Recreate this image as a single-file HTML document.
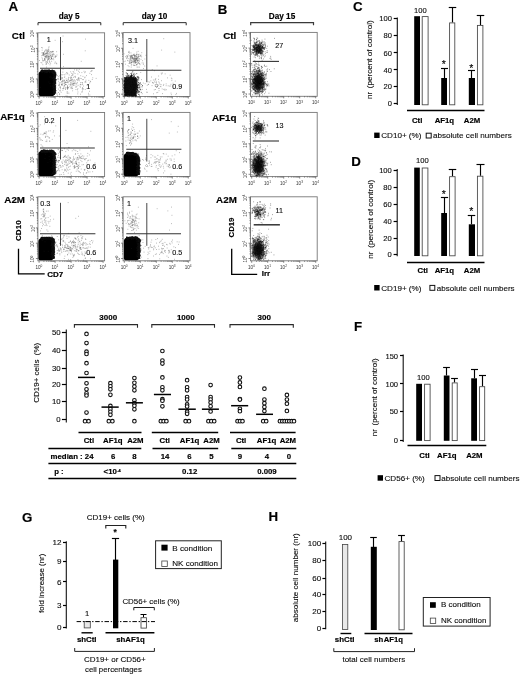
<!DOCTYPE html>
<html lang="en"><head><meta charset="utf-8"><title>Figure</title>
<style>
html,body{margin:0;padding:0;background:#fff}
svg{display:block;font-family:"Liberation Sans",Arial,Helvetica,sans-serif}
.r{stroke:#000;stroke-width:.12px}
.b{stroke:#000;stroke-width:.16px}
</style></head><body>
<svg width="520" height="674" viewBox="0 0 520 674">
<rect width="520" height="674" fill="#fff"/>
<text x="8.5" y="11" font-size="13.3" font-weight="bold" class="b">A</text>
<text x="69.2" y="18.9" font-size="8.2" text-anchor="middle" font-weight="bold" class="b">day 5</text>
<text x="154.5" y="18.9" font-size="8.2" text-anchor="middle" font-weight="bold" class="b">day 10</text>
<path d="M38 25.25L38 22.65L100.8 22.65L100.8 25.25" stroke="#2a2a2a" stroke-width="1" fill="none"/>
<path d="M123.2 25.25L123.2 22.65L186.2 22.65L186.2 25.25" stroke="#2a2a2a" stroke-width="1" fill="none"/>
<text x="24.9" y="38.6" font-size="9.8" text-anchor="end" font-weight="bold" class="b">Ctl</text>
<text x="24.7" y="120.4" font-size="9.8" text-anchor="end" font-weight="bold" class="b">AF1q</text>
<text x="25" y="203.3" font-size="9.8" text-anchor="end" font-weight="bold" class="b">A2M</text>
<rect x="37.9" y="32.8" width="66.7" height="63.8" fill="none" stroke="#777" stroke-width="0.9"/>
<path d="M39.1 96.6v2M37.9 94.3h-2M43.92 96.6v1M37.9 89.69h-1M46.73 96.6v1M37.9 87h-1M48.73 96.6v1M37.9 85.09h-1M50.28 96.6v1M37.9 83.61h-1M51.55 96.6v1M37.9 82.39h-1M52.62 96.6v1M37.9 81.37h-1M53.55 96.6v1M37.9 80.48h-1M54.37 96.6v1M37.9 79.7h-1M55.1 96.6v2M37.9 79h-2M59.92 96.6v1M37.9 74.39h-1M62.73 96.6v1M37.9 71.7h-1M64.73 96.6v1M37.9 69.79h-1M66.28 96.6v1M37.9 68.31h-1M67.55 96.6v1M37.9 67.09h-1M68.62 96.6v1M37.9 66.07h-1M69.55 96.6v1M37.9 65.18h-1M70.37 96.6v1M37.9 64.4h-1M71.1 96.6v2M37.9 63.7h-2M75.92 96.6v1M37.9 59.09h-1M78.73 96.6v1M37.9 56.4h-1M80.73 96.6v1M37.9 54.49h-1M82.28 96.6v1M37.9 53.01h-1M83.55 96.6v1M37.9 51.79h-1M84.62 96.6v1M37.9 50.77h-1M85.55 96.6v1M37.9 49.88h-1M86.37 96.6v1M37.9 49.1h-1M87.1 96.6v2M37.9 48.4h-2M91.92 96.6v1M37.9 43.79h-1M94.73 96.6v1M37.9 41.1h-1M96.73 96.6v1M37.9 39.19h-1M98.28 96.6v1M37.9 37.71h-1M99.55 96.6v1M37.9 36.49h-1M100.62 96.6v1M37.9 35.47h-1M101.55 96.6v1M37.9 34.58h-1M102.37 96.6v1M37.9 33.8h-1M103.1 96.6v2M37.9 33.1h-2" stroke="#555" stroke-width="0.7" fill="none"/>
<text x="38.9" y="104.6" font-size="4.6" fill="#333" text-anchor="middle">10<tspan dy="-1.8" font-size="3.2">0</tspan></text>
<text x="34.5" y="94.9" font-size="4.6" fill="#333" text-anchor="middle" transform="rotate(-90 34.5 94.9)">10<tspan dy="-1.8" font-size="3.2">0</tspan></text>
<text x="54.9" y="104.6" font-size="4.6" fill="#333" text-anchor="middle">10<tspan dy="-1.8" font-size="3.2">1</tspan></text>
<text x="34.5" y="79.6" font-size="4.6" fill="#333" text-anchor="middle" transform="rotate(-90 34.5 79.6)">10<tspan dy="-1.8" font-size="3.2">1</tspan></text>
<text x="70.9" y="104.6" font-size="4.6" fill="#333" text-anchor="middle">10<tspan dy="-1.8" font-size="3.2">2</tspan></text>
<text x="34.5" y="64.3" font-size="4.6" fill="#333" text-anchor="middle" transform="rotate(-90 34.5 64.3)">10<tspan dy="-1.8" font-size="3.2">2</tspan></text>
<text x="86.9" y="104.6" font-size="4.6" fill="#333" text-anchor="middle">10<tspan dy="-1.8" font-size="3.2">3</tspan></text>
<text x="34.5" y="49" font-size="4.6" fill="#333" text-anchor="middle" transform="rotate(-90 34.5 49)">10<tspan dy="-1.8" font-size="3.2">3</tspan></text>
<text x="102.9" y="104.6" font-size="4.6" fill="#333" text-anchor="middle">10<tspan dy="-1.8" font-size="3.2">4</tspan></text>
<text x="34.5" y="33.7" font-size="4.6" fill="#333" text-anchor="middle" transform="rotate(-90 34.5 33.7)">10<tspan dy="-1.8" font-size="3.2">4</tspan></text>
<path d="M38.6 74.15L38.77 73.1L39.25 72.15L40 71.4L40.95 70.92L42 70.75L51 70.75L52.3 70.96L53.47 71.55L54.4 72.48L54.99 73.65L55.2 74.95L55.2 92.7L55.03 93.75L54.55 94.7L53.8 95.45L52.85 95.93L51.8 96.1L40.6 96.1L39.98 96L39.42 95.72L38.98 95.28L38.7 94.72L38.6 94.1Z" fill="#000"/>
<path d="M54.4 82.6h.1M54.6 88.7h.1M54.2 84.9h.1M53.8 88.9h.1M54.1 76.3h.1M53.7 85.6h.1M54.4 85.5h.1M55.3 92.9h.1M54.1 75.4h.1M54.0 83.5h.1M54.7 87.0h.1M54.6 85.4h.1M54.5 76.1h.1M53.7 86.2h.1M54.4 79.0h.1M54.9 78.4h.1M53.5 91.8h.1M54.1 78.5h.1M53.1 83.5h.1M53.5 89.3h.1M53.1 88.5h.1M54.2 85.4h.1M53.5 90.4h.1M54.6 83.7h.1M54.5 86.8h.1M54.3 90.7h.1M52.6 87.9h.1M54.0 87.2h.1M54.4 82.6h.1M54.5 85.5h.1M53.3 82.4h.1M54.1 89.2h.1M53.7 82.1h.1M53.8 83.7h.1M55.1 89.4h.1M53.8 84.5h.1M54.4 81.2h.1M55.0 90.8h.1M54.0 82.1h.1M54.3 91.2h.1M54.5 90.0h.1M54.4 83.4h.1M53.5 88.6h.1M54.5 75.3h.1M55.4 82.2h.1M53.3 91.5h.1M55.0 86.0h.1M54.5 85.5h.1M54.0 87.6h.1M55.8 87.9h.1M54.9 86.0h.1M53.6 82.8h.1M54.5 78.2h.1M54.8 80.3h.1M54.3 80.3h.1M54.9 83.0h.1M54.4 94.2h.1M54.9 81.5h.1M55.4 83.4h.1M53.9 81.9h.1M54.5 86.0h.1M54.1 93.2h.1M54.5 92.0h.1M53.6 82.0h.1M54.0 79.8h.1M54.3 91.9h.1M55.0 84.3h.1M55.2 88.0h.1M53.5 76.0h.1M53.8 91.6h.1M54.9 80.7h.1M53.0 84.3h.1M54.1 78.5h.1M54.3 82.8h.1M55.3 90.8h.1M54.9 90.8h.1M54.2 83.9h.1M54.1 89.7h.1M54.2 83.6h.1M55.5 81.9h.1M54.1 85.3h.1M54.2 78.5h.1M54.6 80.8h.1M54.3 88.4h.1M54.3 89.7h.1M53.6 75.7h.1M54.4 89.0h.1M54.1 90.6h.1M55.2 83.3h.1M54.9 75.8h.1M54.4 88.0h.1M54.9 79.4h.1M54.2 87.2h.1M55.1 82.0h.1M54.4 87.1h.1M54.8 79.7h.1M53.5 83.9h.1M54.6 84.9h.1M53.2 87.0h.1M53.0 78.6h.1M54.2 93.5h.1M53.8 80.3h.1M54.5 80.6h.1M56.0 79.6h.1M53.8 75.9h.1M54.0 82.9h.1M54.5 89.7h.1M54.7 88.5h.1M54.3 78.4h.1M54.3 77.3h.1M54.9 80.9h.1M54.8 89.7h.1M53.7 84.2h.1M54.3 92.7h.1M54.4 87.5h.1M53.7 86.8h.1M54.6 89.6h.1M53.8 89.3h.1M55.1 81.3h.1M54.5 79.6h.1M54.5 83.2h.1M54.0 84.2h.1M54.3 77.4h.1M53.0 83.3h.1M53.6 87.1h.1M54.7 77.3h.1M52.9 77.3h.1M55.0 78.0h.1M53.2 80.2h.1M54.9 93.4h.1M53.8 75.1h.1M54.9 78.2h.1M54.5 77.8h.1M53.3 83.9h.1M55.3 74.9h.1M55.4 83.6h.1M54.4 77.8h.1M54.2 79.9h.1M54.3 90.1h.1M53.7 78.2h.1M55.2 86.7h.1M54.0 82.6h.1M54.4 82.8h.1M53.8 90.6h.1M54.0 77.8h.1M53.5 92.7h.1M55.3 92.1h.1M54.3 87.7h.1M55.1 75.6h.1M54.4 87.6h.1M53.9 86.4h.1M54.2 89.7h.1M54.0 78.8h.1M54.4 93.3h.1M54.1 92.0h.1M54.2 76.8h.1M53.4 80.8h.1M53.8 75.2h.1M55.6 90.9h.1M53.9 92.5h.1M53.7 94.0h.1M54.6 86.6h.1M55.4 87.7h.1M53.4 87.9h.1M54.3 85.8h.1M54.0 93.3h.1M53.2 86.5h.1M54.9 81.2h.1M54.4 84.7h.1M54.5 75.0h.1M53.9 88.8h.1M54.7 88.2h.1M54.0 82.9h.1M54.3 91.3h.1M53.6 89.4h.1M53.5 81.2h.1M55.3 76.1h.1M54.0 77.2h.1M54.6 78.2h.1M54.4 80.6h.1M54.1 83.4h.1M54.0 92.8h.1M54.8 80.1h.1M54.2 92.2h.1M54.3 87.9h.1M54.4 91.3h.1M55.2 82.5h.1M54.9 74.7h.1M54.7 90.0h.1M54.0 79.4h.1M53.4 77.4h.1M55.1 90.3h.1M55.1 88.1h.1M54.3 78.8h.1M54.8 79.8h.1M54.9 93.0h.1M55.0 79.9h.1M55.0 88.4h.1M54.1 77.1h.1M55.5 90.6h.1M53.5 76.9h.1M55.0 84.7h.1M54.7 75.3h.1M55.0 85.4h.1M55.7 91.2h.1M55.4 76.3h.1M53.6 80.0h.1M53.2 89.6h.1M55.0 86.5h.1M53.7 80.7h.1M54.4 86.9h.1M55.0 83.5h.1M53.2 91.5h.1M52.9 80.3h.1M54.6 89.5h.1M54.4 87.1h.1M54.2 89.1h.1M54.4 82.0h.1M53.8 88.8h.1M53.3 88.3h.1M54.3 82.2h.1M53.7 75.1h.1M53.2 93.5h.1M54.8 88.6h.1M54.4 78.6h.1M54.7 88.9h.1M53.7 80.1h.1M53.9 83.8h.1M53.7 91.5h.1M53.8 83.4h.1M54.5 80.2h.1M53.9 80.6h.1M54.6 76.1h.1M54.6 78.9h.1M55.8 79.9h.1M53.4 78.0h.1M55.0 75.8h.1M54.3 83.7h.1M54.4 78.8h.1M53.4 89.1h.1M54.1 92.7h.1M54.9 80.0h.1M54.3 85.8h.1M54.5 84.5h.1M54.2 76.1h.1M55.2 77.0h.1M54.4 91.9h.1M52.9 83.9h.1M53.9 90.4h.1M53.0 75.9h.1M52.1 86.3h.1M54.0 91.6h.1M55.3 91.6h.1M54.4 74.7h.1M53.6 84.8h.1M53.7 81.8h.1M55.2 89.5h.1M54.5 76.0h.1M54.4 79.8h.1M54.4 90.5h.1M54.4 83.8h.1M55.0 83.5h.1M54.8 93.6h.1M54.6 80.9h.1M53.7 75.4h.1M54.8 82.3h.1M53.9 77.6h.1M55.2 76.2h.1M53.5 85.7h.1M54.3 93.3h.1M54.4 86.0h.1M53.5 87.3h.1M55.6 80.9h.1M55.4 85.8h.1M54.1 89.3h.1M54.9 86.1h.1M54.7 90.3h.1M52.6 85.4h.1M54.6 78.5h.1M54.4 86.0h.1M54.5 84.2h.1M53.6 77.9h.1M54.2 86.7h.1M54.3 90.6h.1M55.2 77.2h.1M54.6 85.3h.1M54.4 89.0h.1M55.5 82.5h.1M54.0 79.9h.1M54.1 81.9h.1M53.1 85.2h.1M55.5 88.1h.1M55.1 85.6h.1M55.0 76.7h.1M54.9 90.6h.1M54.5 92.7h.1M54.6 76.6h.1M54.2 79.5h.1M54.3 78.0h.1M54.4 91.2h.1M55.5 92.4h.1M54.8 75.5h.1M54.4 81.1h.1M54.0 78.4h.1M54.0 83.8h.1M55.5 92.7h.1M54.8 76.0h.1M54.4 78.0h.1M54.2 84.1h.1M53.6 84.9h.1M54.4 89.2h.1M55.0 83.2h.1M54.1 77.4h.1M54.2 81.5h.1M54.2 93.8h.1M54.5 89.3h.1M53.3 76.9h.1M54.2 90.4h.1M53.8 80.7h.1M55.0 89.9h.1M53.9 74.8h.1M54.8 91.7h.1M55.5 77.8h.1M54.2 83.5h.1M54.0 87.6h.1M54.5 84.6h.1M54.4 77.8h.1M53.7 77.3h.1M54.7 80.2h.1M55.8 75.6h.1M54.2 78.8h.1M54.3 77.2h.1M53.7 83.7h.1M54.6 81.6h.1M53.5 86.1h.1M53.6 80.1h.1M55.3 75.3h.1M53.8 81.1h.1M55.2 89.4h.1M55.5 79.6h.1M54.6 82.5h.1M54.8 89.4h.1M55.8 82.6h.1M54.3 92.0h.1M54.0 92.6h.1M53.5 80.7h.1M54.4 89.0h.1M55.4 79.6h.1M55.1 77.3h.1M53.7 83.2h.1M53.8 86.4h.1M54.0 92.9h.1M54.6 77.5h.1M54.3 88.6h.1M54.6 83.9h.1M54.6 77.2h.1M54.2 93.7h.1M54.4 88.2h.1M54.5 77.1h.1M54.3 92.4h.1M54.8 76.6h.1M55.7 76.4h.1M54.8 81.1h.1M54.4 93.0h.1M53.2 75.2h.1M54.7 92.6h.1M53.0 86.6h.1M53.4 75.9h.1M55.0 85.7h.1M54.9 83.6h.1M54.3 85.7h.1M53.2 89.0h.1M54.1 87.9h.1M53.9 94.1h.1M54.8 77.7h.1M56.0 90.5h.1M54.6 82.7h.1M53.9 90.0h.1M53.6 92.1h.1M54.4 94.0h.1M54.3 79.8h.1M53.6 83.5h.1M54.5 93.1h.1M53.6 93.1h.1M55.2 81.9h.1M55.1 93.0h.1M55.2 82.6h.1M54.1 81.9h.1M54.8 89.4h.1M54.3 83.8h.1M54.1 83.4h.1M54.2 82.2h.1M53.5 83.1h.1M53.4 77.3h.1M55.0 75.8h.1M54.3 89.4h.1M54.6 85.7h.1M55.1 87.8h.1M53.2 90.3h.1M53.9 79.1h.1M54.5 79.2h.1M54.7 80.0h.1M54.1 80.6h.1M55.1 89.5h.1M54.5 81.9h.1M53.6 80.9h.1M53.7 87.1h.1M55.0 78.3h.1M54.7 76.7h.1M53.1 88.3h.1M55.3 89.4h.1M54.8 80.4h.1M55.3 87.1h.1M54.1 75.3h.1M54.2 82.5h.1M53.6 85.9h.1M56.2 79.6h.1M54.3 81.4h.1M55.5 86.5h.1M53.9 86.2h.1M42.7 69.9h.1M48.2 71.2h.1M41.9 70.8h.1M50.9 71.3h.1M43.1 71.3h.1M43.7 70.7h.1M43.1 70.8h.1M51.1 71.7h.1M44.0 71.4h.1M47.2 70.8h.1M51.1 72.4h.1M50.7 72.6h.1M41.5 70.3h.1M46.4 71.4h.1M47.2 72.7h.1M48.2 71.7h.1M44.5 71.3h.1M44.4 71.1h.1M41.1 70.9h.1M41.5 71.1h.1M46.7 70.9h.1M41.9 71.6h.1M43.1 71.0h.1M44.5 70.9h.1M41.8 70.5h.1M41.4 71.2h.1M50.5 70.7h.1M45.5 71.1h.1M43.2 71.8h.1M48.3 71.4h.1M41.2 71.5h.1M43.6 71.4h.1M50.8 71.2h.1M50.2 71.1h.1M47.5 71.0h.1M42.0 71.7h.1M44.3 70.5h.1M41.4 72.0h.1M43.3 71.2h.1M41.4 70.8h.1M42.4 70.9h.1M47.5 70.8h.1M42.1 71.3h.1M42.7 70.8h.1M50.2 71.9h.1M44.5 70.7h.1M44.5 69.8h.1M42.0 70.8h.1M49.1 70.0h.1M47.9 71.2h.1M46.6 71.8h.1M47.3 71.6h.1M42.1 70.4h.1M43.7 70.7h.1M47.0 72.3h.1M50.7 71.4h.1M49.4 71.2h.1M47.6 71.8h.1M46.3 72.7h.1M41.3 72.0h.1M50.1 71.3h.1M41.8 71.4h.1M42.4 71.6h.1M48.1 70.8h.1M49.3 70.6h.1M49.0 71.2h.1M45.7 70.6h.1M42.9 71.2h.1M41.5 71.3h.1M49.7 72.6h.1M51.0 70.7h.1M43.6 71.1h.1M49.8 71.1h.1M45.2 71.5h.1M44.2 71.8h.1M46.2 70.9h.1M41.2 70.7h.1M45.6 70.2h.1M43.1 70.6h.1M48.3 71.5h.1M46.2 71.2h.1M49.9 70.6h.1M50.2 71.0h.1M44.3 71.2h.1M43.9 71.5h.1M50.6 70.8h.1M46.2 71.0h.1M42.1 70.1h.1M41.6 70.5h.1M51.1 72.2h.1M46.9 69.9h.1M41.7 71.0h.1M46.3 71.3h.1M46.2 71.0h.1M45.5 70.7h.1M50.7 71.2h.1M50.7 71.2h.1M42.4 71.2h.1M42.6 70.1h.1M45.2 71.1h.1M49.5 70.7h.1M47.4 70.9h.1M48.5 71.3h.1M46.9 71.6h.1M43.2 71.7h.1M49.4 70.9h.1M41.2 71.8h.1M48.2 71.9h.1M43.1 71.9h.1M45.9 72.0h.1M50.9 71.1h.1M46.5 71.1h.1M41.7 71.7h.1M45.4 70.4h.1M47.8 71.3h.1M41.7 70.9h.1M43.7 71.0h.1M41.3 70.2h.1M46.6 70.7h.1M45.0 71.2h.1M46.2 71.7h.1M44.1 71.8h.1M47.7 71.2h.1M42.8 71.1h.1M50.3 70.7h.1M50.8 71.4h.1M46.1 71.1h.1M45.8 71.6h.1M49.8 72.3h.1M44.0 71.2h.1M49.2 70.3h.1M44.0 70.7h.1M48.4 70.3h.1M44.5 70.5h.1M47.2 72.0h.1M50.5 71.3h.1M41.6 70.3h.1M49.3 71.6h.1M46.6 72.0h.1M44.9 71.0h.1M44.6 70.8h.1M41.8 71.0h.1M43.7 71.4h.1M47.4 71.6h.1M42.1 71.9h.1M47.9 71.9h.1M50.8 71.9h.1M51.0 72.0h.1M50.1 71.6h.1M49.2 70.3h.1M42.9 71.1h.1M50.9 71.4h.1M43.1 71.0h.1M49.9 71.7h.1M50.0 71.0h.1M47.4 70.6h.1M46.4 72.1h.1M43.1 71.6h.1M46.3 71.3h.1M44.0 71.8h.1M42.4 71.8h.1M42.4 71.4h.1M49.2 69.7h.1M50.4 70.8h.1M42.5 70.9h.1M41.2 70.6h.1M43.8 71.3h.1M42.5 71.9h.1M43.0 70.9h.1M47.0 70.5h.1M45.4 72.4h.1M45.4 70.9h.1M43.2 70.5h.1M47.8 71.3h.1M44.0 71.5h.1M45.1 70.8h.1M45.8 71.7h.1M50.2 70.9h.1M43.6 70.6h.1M48.4 71.3h.1M44.2 71.7h.1M50.1 70.8h.1M45.1 71.4h.1M46.2 71.1h.1M50.0 72.9h.1M47.9 70.8h.1M42.1 72.0h.1M42.5 71.2h.1M51.1 71.1h.1M41.4 71.6h.1M44.1 71.7h.1M50.8 72.0h.1M41.3 71.4h.1M42.7 70.8h.1M43.3 70.9h.1M42.0 71.5h.1M45.9 71.5h.1M47.1 72.0h.1M44.3 71.5h.1M42.2 71.8h.1M49.3 72.1h.1M49.2 71.3h.1M46.8 70.3h.1M42.5 70.5h.1M46.6 70.3h.1M47.5 72.2h.1M45.4 70.7h.1M49.8 71.9h.1M45.0 71.6h.1M46.3 72.2h.1M42.3 71.8h.1M46.8 71.1h.1M48.8 71.1h.1M48.5 71.3h.1M43.7 71.3h.1M51.1 70.9h.1M48.4 71.2h.1M45.4 72.2h.1M45.3 70.2h.1M49.0 71.4h.1M42.9 70.7h.1M47.6 71.3h.1M48.4 71.7h.1M46.3 71.2h.1M49.9 71.7h.1M45.8 70.2h.1M45.8 71.9h.1M44.0 70.8h.1M50.4 71.6h.1M44.3 71.3h.1M48.1 69.6h.1M45.2 70.7h.1M50.5 71.3h.1M50.7 72.1h.1M41.4 71.4h.1M51.1 71.4h.1M47.2 70.4h.1M41.8 72.1h.1M46.1 72.3h.1M41.6 71.2h.1M46.6 71.1h.1M43.0 70.2h.1M44.8 71.7h.1M44.2 72.8h.1M47.2 71.6h.1M49.4 72.0h.1M50.6 71.5h.1M44.4 70.6h.1M46.9 72.0h.1M41.2 70.5h.1M44.9 71.1h.1M50.8 71.4h.1M42.3 71.7h.1M49.9 71.4h.1M47.7 71.4h.1M44.1 70.7h.1M49.0 70.4h.1M44.0 71.2h.1M50.1 70.8h.1M41.9 70.4h.1M54.2 74.9h.1M54.1 72.8h.1M55.6 74.0h.1M55.5 74.8h.1M54.5 73.4h.1M54.3 72.9h.1M52.3 71.5h.1M52.9 72.1h.1M55.3 72.1h.1M54.8 74.5h.1M52.4 72.3h.1M53.0 72.1h.1M51.2 70.6h.1M54.8 73.0h.1M53.4 72.1h.1M54.2 73.9h.1M52.4 71.4h.1M53.2 73.6h.1M53.5 73.5h.1M53.9 71.7h.1M52.0 71.6h.1M53.4 71.7h.1M55.3 73.1h.1M52.2 70.9h.1M51.5 71.2h.1M54.5 71.0h.1M52.5 71.0h.1M54.4 73.9h.1M55.1 73.7h.1M55.1 74.6h.1M54.1 74.2h.1M54.3 72.9h.1M52.1 71.4h.1M53.3 74.3h.1M54.3 73.4h.1M54.3 73.6h.1M54.1 73.4h.1M53.5 74.3h.1M52.6 71.8h.1M54.3 73.1h.1M53.8 72.3h.1M52.5 72.4h.1M53.1 71.2h.1M51.7 72.1h.1M53.5 72.3h.1M53.6 71.0h.1M53.0 72.3h.1M54.3 74.2h.1M55.0 72.8h.1M54.1 73.3h.1M54.6 74.9h.1M52.3 71.2h.1M54.3 71.8h.1M51.3 72.8h.1M52.9 72.3h.1M54.1 74.7h.1M51.4 72.0h.1M54.0 73.8h.1M54.1 74.3h.1M53.9 72.2h.1M54.0 74.0h.1M53.5 72.0h.1M53.2 71.5h.1M53.3 72.7h.1M52.2 71.2h.1M53.3 70.5h.1M52.9 71.4h.1M54.3 74.9h.1M52.9 71.7h.1M52.1 72.0h.1M55.0 74.6h.1M52.0 70.6h.1M54.2 74.8h.1M54.6 74.1h.1M54.9 72.5h.1M53.1 72.3h.1M52.2 71.2h.1M51.5 71.9h.1M51.5 71.8h.1M52.8 72.0h.1M54.2 70.7h.1M54.5 74.5h.1M53.6 72.7h.1M54.4 74.9h.1M54.3 73.4h.1M52.0 70.8h.1M54.0 72.4h.1M52.3 69.9h.1M51.2 71.0h.1M55.8 74.5h.1M53.0 71.5h.1M52.2 70.9h.1M51.4 72.2h.1M54.2 73.0h.1M53.5 72.1h.1M51.1 71.3h.1M53.1 74.0h.1M52.7 70.9h.1M54.3 73.8h.1M53.4 72.4h.1M53.7 72.5h.1M53.4 72.2h.1M54.6 73.0h.1M53.9 74.9h.1M54.0 74.0h.1M51.4 71.0h.1M53.7 72.2h.1M52.3 71.7h.1M51.5 71.6h.1M52.0 71.9h.1M52.4 71.5h.1M55.6 74.7h.1M53.8 73.8h.1M55.7 73.8h.1M54.9 72.9h.1M52.7 71.9h.1M53.5 71.4h.1M52.8 72.8h.1M52.2 72.6h.1M52.8 72.7h.1M54.3 73.7h.1M51.4 71.4h.1M52.4 71.8h.1M53.6 72.1h.1M53.0 73.8h.1M54.5 72.8h.1M53.5 73.8h.1M51.5 71.7h.1M52.0 71.6h.1M52.4 72.3h.1M52.2 72.4h.1M53.9 73.8h.1M54.8 74.9h.1M54.7 72.9h.1M51.2 70.8h.1M52.4 72.2h.1M54.1 74.0h.1M54.1 74.6h.1M54.3 72.5h.1M52.2 72.9h.1M53.5 71.0h.1M53.9 73.1h.1M54.2 74.3h.1M53.1 71.5h.1M52.3 70.6h.1M51.0 70.9h.1M52.0 70.5h.1M54.8 74.0h.1M54.9 72.4h.1M55.7 74.9h.1M51.4 71.2h.1M53.6 70.9h.1M54.7 73.7h.1M54.3 73.0h.1M51.3 71.8h.1M53.1 72.0h.1M54.7 72.6h.1M53.5 73.6h.1M53.8 71.7h.1M52.2 71.1h.1M55.0 74.7h.1M52.5 73.3h.1M54.4 73.3h.1M54.2 72.1h.1M51.4 71.7h.1M52.4 71.4h.1M51.2 72.8h.1M52.3 70.9h.1M52.0 71.8h.1M53.7 71.4h.1M52.2 72.8h.1M53.3 71.3h.1M54.5 73.9h.1M51.1 70.6h.1M51.5 71.8h.1M54.2 73.9h.1M55.0 71.4h.1M53.0 72.5h.1M52.3 71.9h.1M53.7 72.6h.1M52.1 72.1h.1M55.5 73.9h.1M55.8 73.6h.1M52.6 72.1h.1M51.1 72.4h.1M55.5 74.1h.1M53.1 70.9h.1M54.8 72.7h.1M55.5 73.9h.1M54.0 74.0h.1M54.6 74.2h.1M53.0 72.9h.1M53.7 74.3h.1M54.0 71.6h.1M52.3 71.9h.1M54.7 71.0h.1M52.9 71.6h.1M54.1 73.8h.1M55.2 73.8h.1M52.1 70.0h.1M52.1 70.9h.1M52.7 72.5h.1M53.7 71.9h.1M55.8 74.6h.1M54.4 74.6h.1M54.3 74.8h.1M55.1 73.1h.1M54.4 73.1h.1M52.2 72.2h.1M53.0 72.0h.1M51.0 71.7h.1M54.9 73.9h.1M52.6 71.4h.1M51.6 70.4h.1M53.0 71.2h.1M52.3 72.6h.1M54.7 73.2h.1M51.0 70.5h.1M52.5 71.1h.1M55.5 74.2h.1" stroke="#111" stroke-width="0.8" stroke-linecap="round" fill="none" opacity="0.8"/>
<path d="M45.2 55.8h.1M43.5 54.6h.1M51.4 58.3h.1M43.0 52.5h.1M51.8 52.1h.1M44.5 59.1h.1M46.2 56.7h.1M41.6 55.7h.1M41.9 57.8h.1M42.6 55.3h.1M46.0 50.1h.1M49.1 58.7h.1M50.7 55.7h.1M42.5 60.2h.1M43.0 61.2h.1M50.3 51.9h.1M47.2 53.2h.1M41.0 62.5h.1M55.2 62.0h.1M43.9 53.3h.1M48.5 51.6h.1M48.3 53.7h.1M53.4 54.3h.1M45.6 50.0h.1M51.7 56.4h.1M44.4 51.2h.1M52.2 51.5h.1M44.3 60.0h.1M46.0 53.6h.1M55.5 56.0h.1M48.8 58.8h.1M48.0 59.6h.1M56.9 55.0h.1M49.0 56.5h.1M44.1 53.0h.1M50.6 63.3h.1M42.5 58.9h.1M52.2 51.9h.1M52.6 56.3h.1M45.1 59.2h.1M44.9 58.2h.1M48.2 63.6h.1M47.6 61.8h.1M43.4 54.1h.1M49.9 55.9h.1M38.9 51.2h.1M45.7 57.3h.1M45.8 56.9h.1M46.4 67.1h.1M48.8 56.7h.1M42.3 47.9h.1M50.0 53.6h.1M46.7 56.7h.1M44.8 51.3h.1M41.8 52.8h.1M42.5 54.8h.1M49.0 57.7h.1M43.5 55.6h.1M47.8 52.7h.1M52.0 59.5h.1M51.8 54.1h.1M54.1 54.3h.1M46.3 50.8h.1M42.9 53.2h.1M51.8 58.9h.1M48.8 49.8h.1M52.2 56.0h.1M47.5 59.2h.1M52.5 54.8h.1M51.1 57.3h.1M50.5 51.8h.1M49.6 61.5h.1M49.2 60.7h.1M48.5 57.2h.1M48.4 49.3h.1M51.7 52.1h.1M45.3 60.2h.1M54.8 63.2h.1M47.1 57.5h.1M51.6 61.3h.1M47.1 53.9h.1M46.5 55.5h.1M56.0 56.3h.1M46.2 58.0h.1M42.1 50.2h.1M44.5 60.1h.1M46.2 61.6h.1M56.6 51.7h.1M48.4 50.9h.1M51.4 57.7h.1M43.3 53.7h.1M49.0 46.8h.1M50.3 59.5h.1M55.1 56.9h.1M44.6 54.4h.1M50.0 64.8h.1M48.8 56.9h.1M43.2 53.3h.1M47.4 56.7h.1M46.4 52.1h.1M50.0 57.8h.1M49.8 54.1h.1M45.7 54.5h.1M41.9 63.0h.1M53.7 59.7h.1M48.6 59.5h.1M51.8 58.4h.1M53.4 58.2h.1M45.3 62.1h.1M50.9 56.2h.1M46.5 63.7h.1M47.2 52.5h.1M47.1 55.3h.1M47.5 50.8h.1M52.2 54.9h.1M48.0 58.4h.1M46.9 62.1h.1M46.3 53.6h.1M48.9 56.3h.1M43.7 54.9h.1M45.4 53.3h.1M47.3 51.5h.1M45.1 56.5h.1M47.0 49.4h.1M44.9 56.7h.1M55.9 56.4h.1M53.1 53.7h.1M49.4 52.3h.1M47.3 50.8h.1M56.7 63.8h.1M48.9 50.9h.1M47.1 62.5h.1M48.8 58.7h.1M48.8 54.8h.1M53.4 51.7h.1M47.4 60.5h.1M56.3 63.2h.1M43.8 52.6h.1M50.4 55.1h.1M43.3 60.5h.1M55.1 57.6h.1M46.1 64.3h.1M47.3 54.0h.1M51.4 58.5h.1M52.8 51.3h.1M42.8 64.7h.1M46.0 53.4h.1M41.6 47.5h.1M48.1 55.8h.1M47.1 55.7h.1M46.0 64.0h.1M44.6 54.9h.1M45.9 56.2h.1M44.4 58.7h.1M49.7 62.6h.1M53.9 56.0h.1M39.4 60.5h.1M75.4 77.3h.1M66.9 92.0h.1M70.8 80.3h.1M70.3 80.3h.1M60.4 90.8h.1M82.7 88.5h.1M55.5 85.2h.1M82.3 79.6h.1M69.0 84.4h.1M62.0 85.3h.1M67.6 81.0h.1M75.0 73.5h.1M77.8 74.0h.1M73.0 84.4h.1M80.4 84.4h.1M64.1 80.6h.1M72.5 75.0h.1M53.5 73.4h.1M78.0 80.0h.1M71.6 73.3h.1M65.6 87.4h.1M82.2 88.9h.1M40.4 87.3h.1M70.4 78.4h.1M54.7 76.8h.1M81.2 61.3h.1M96.1 78.4h.1M64.6 80.9h.1M70.8 87.8h.1M67.4 85.7h.1M73.7 85.5h.1M76.8 83.3h.1M83.5 86.0h.1M59.6 90.7h.1M86.5 75.6h.1M60.2 79.3h.1M72.9 73.7h.1M82.2 91.7h.1M77.5 89.8h.1M60.1 86.5h.1M62.6 74.8h.1M65.1 83.0h.1M69.5 80.6h.1M82.0 82.5h.1M56.4 80.9h.1M74.9 85.1h.1M76.4 79.6h.1M75.9 87.1h.1M74.9 83.4h.1M85.9 80.2h.1M75.1 81.3h.1M79.0 79.4h.1M75.9 86.9h.1M88.8 80.4h.1M50.1 83.8h.1M83.5 79.6h.1M67.3 73.1h.1M67.1 87.4h.1M59.8 75.7h.1M50.4 86.1h.1M66.0 84.5h.1M62.8 72.1h.1M75.2 76.3h.1M54.5 78.9h.1M85.0 77.1h.1M72.9 74.9h.1M67.4 86.4h.1M62.6 80.6h.1M61.7 84.3h.1M58.1 79.4h.1M64.3 83.8h.1M70.1 77.5h.1M68.1 81.8h.1M55.1 85.5h.1M67.2 82.3h.1M60.6 79.3h.1M71.7 75.5h.1M89.6 83.0h.1M76.6 84.1h.1M66.7 80.4h.1M52.9 77.4h.1M55.1 85.3h.1M77.6 80.2h.1M62.0 84.0h.1M70.7 84.3h.1M63.5 66.6h.1M71.0 82.7h.1M84.7 77.8h.1M62.8 90.3h.1M66.4 80.5h.1M61.5 77.3h.1M79.2 80.7h.1M59.2 83.0h.1M58.1 78.6h.1M55.4 81.7h.1M55.2 73.9h.1M74.9 80.6h.1M59.5 93.8h.1M80.0 86.2h.1M72.6 83.6h.1M58.4 89.1h.1M67.1 88.1h.1M67.6 92.0h.1M62.7 88.5h.1M90.3 81.3h.1M50.0 83.6h.1M74.0 83.1h.1M73.5 83.8h.1M63.9 83.2h.1M71.6 77.3h.1M79.2 69.4h.1M71.6 78.0h.1M74.4 69.8h.1M77.3 82.4h.1M48.7 82.0h.1M85.5 71.9h.1M80.3 87.2h.1M80.6 82.6h.1M55.2 92.0h.1M68.8 93.2h.1M61.5 74.8h.1M63.8 88.2h.1M80.2 84.6h.1M61.6 84.5h.1M68.6 87.6h.1M50.0 77.7h.1M68.3 78.4h.1M70.9 77.0h.1M62.6 77.5h.1M62.4 81.4h.1M89.8 73.3h.1M57.3 75.7h.1M59.0 85.5h.1M61.5 81.6h.1M82.6 84.3h.1M92.1 70.7h.1M73.5 77.3h.1M62.5 78.7h.1M65.5 82.2h.1M81.2 78.5h.1M60.4 87.6h.1M85.3 81.7h.1M84.9 82.1h.1M70.7 82.1h.1M76.8 86.2h.1M77.9 79.2h.1M59.0 84.8h.1M82.4 82.9h.1M66.1 82.3h.1M61.9 85.1h.1M71.1 88.1h.1M67.7 87.7h.1M59.6 84.3h.1M53.2 87.3h.1M60.1 82.7h.1M85.2 89.5h.1M90.6 81.8h.1M76.8 69.5h.1M82.5 90.0h.1M64.6 82.6h.1M69.2 75.0h.1M73.0 80.8h.1M58.6 76.7h.1M59.6 94.6h.1M71.0 85.0h.1M66.6 72.6h.1M58.8 85.3h.1M74.1 79.6h.1M67.2 93.5h.1M80.7 75.7h.1M69.9 68.5h.1M66.8 82.4h.1M71.3 79.9h.1M68.2 79.5h.1M63.0 69.2h.1M65.8 84.6h.1M77.9 92.0h.1M76.8 70.5h.1M83.5 89.0h.1M52.2 78.6h.1M65.9 96.1h.1M65.6 84.6h.1M71.8 80.9h.1M65.3 88.6h.1M64.6 85.2h.1M78.2 78.4h.1M71.9 86.3h.1M57.8 78.9h.1M84.0 71.3h.1M80.5 94.2h.1M64.0 79.9h.1M78.7 78.3h.1M62.3 84.0h.1M81.8 72.6h.1M67.7 73.9h.1M61.6 79.0h.1M66.1 78.9h.1M62.0 82.4h.1M72.0 88.7h.1M71.8 79.2h.1M70.4 85.0h.1M64.2 85.6h.1M71.0 83.4h.1M50.1 76.3h.1M72.6 88.4h.1M81.9 84.7h.1M72.9 82.1h.1M65.9 74.0h.1M68.1 82.7h.1M68.6 77.4h.1M64.2 86.2h.1M63.9 81.3h.1M60.3 77.1h.1M82.5 87.6h.1M69.8 86.3h.1M80.0 78.4h.1M67.4 89.0h.1M70.8 80.2h.1M68.2 80.1h.1M74.9 82.7h.1M78.7 77.5h.1M72.5 79.4h.1M62.9 81.0h.1M64.7 76.2h.1M64.1 74.5h.1M74.8 83.6h.1M72.9 85.2h.1M88.5 93.3h.1M57.3 95.7h.1M57.0 94.2h.1M61.1 78.6h.1M78.1 85.3h.1M84.6 72.7h.1M73.3 83.5h.1M78.4 71.2h.1M79.4 72.3h.1M56.1 72.6h.1M64.6 77.5h.1M92.7 77.8h.1M67.8 88.5h.1M90.8 71.4h.1M73.8 72.3h.1M63.7 87.2h.1M55.5 87.7h.1M63.5 88.7h.1M67.4 89.0h.1M71.8 87.4h.1M72.1 84.4h.1M75.9 89.5h.1M73.1 71.5h.1M56.6 75.1h.1M65.4 89.5h.1M91.4 74.6h.1M56.4 83.8h.1M82.9 76.4h.1M73.2 81.1h.1M81.8 92.1h.1M67.8 87.3h.1M69.2 81.5h.1M74.7 76.8h.1M89.4 91.3h.1M67.7 87.2h.1M58.6 81.3h.1M56.8 93.0h.1M67.1 96.1h.1M59.9 87.4h.1M77.7 93.9h.1M77.8 88.7h.1M61.1 92.3h.1M70.6 71.8h.1M65.4 82.2h.1M56.0 85.8h.1M91.5 70.9h.1M72.6 90.8h.1M60.4 88.8h.1M88.5 94.9h.1M92.2 79.5h.1M85.9 82.1h.1M89.8 95.0h.1M62.4 41.7h.1M85.5 39.1h.1M63.0 36.0h.1M58.4 92.5h.1M55.1 40.3h.1M51.6 77.2h.1M63.5 54.3h.1M48.7 47.9h.1M85.2 50.8h.1" stroke="#222" stroke-width="0.7" stroke-linecap="round" fill="none" opacity="0.48"/>
<path d="M60.5 37L60.5 80.3" stroke="#333" stroke-width="0.9"/>
<path d="M40 68.3L94.8 68.3" stroke="#333" stroke-width="1.1"/>
<rect x="37.9" y="112.5" width="66.7" height="64.1" fill="none" stroke="#777" stroke-width="0.9"/>
<path d="M39.1 176.6v2M37.9 174.3h-2M43.92 176.6v1M37.9 169.69h-1M46.73 176.6v1M37.9 167h-1M48.73 176.6v1M37.9 165.09h-1M50.28 176.6v1M37.9 163.61h-1M51.55 176.6v1M37.9 162.39h-1M52.62 176.6v1M37.9 161.37h-1M53.55 176.6v1M37.9 160.48h-1M54.37 176.6v1M37.9 159.7h-1M55.1 176.6v2M37.9 159h-2M59.92 176.6v1M37.9 154.39h-1M62.73 176.6v1M37.9 151.7h-1M64.73 176.6v1M37.9 149.79h-1M66.28 176.6v1M37.9 148.31h-1M67.55 176.6v1M37.9 147.09h-1M68.62 176.6v1M37.9 146.07h-1M69.55 176.6v1M37.9 145.18h-1M70.37 176.6v1M37.9 144.4h-1M71.1 176.6v2M37.9 143.7h-2M75.92 176.6v1M37.9 139.09h-1M78.73 176.6v1M37.9 136.4h-1M80.73 176.6v1M37.9 134.49h-1M82.28 176.6v1M37.9 133.01h-1M83.55 176.6v1M37.9 131.79h-1M84.62 176.6v1M37.9 130.77h-1M85.55 176.6v1M37.9 129.88h-1M86.37 176.6v1M37.9 129.1h-1M87.1 176.6v2M37.9 128.4h-2M91.92 176.6v1M37.9 123.79h-1M94.73 176.6v1M37.9 121.1h-1M96.73 176.6v1M37.9 119.19h-1M98.28 176.6v1M37.9 117.71h-1M99.55 176.6v1M37.9 116.49h-1M100.62 176.6v1M37.9 115.47h-1M101.55 176.6v1M37.9 114.58h-1M102.37 176.6v1M37.9 113.8h-1M103.1 176.6v2M37.9 113.1h-2" stroke="#555" stroke-width="0.7" fill="none"/>
<text x="38.9" y="184.6" font-size="4.6" fill="#333" text-anchor="middle">10<tspan dy="-1.8" font-size="3.2">0</tspan></text>
<text x="34.5" y="174.9" font-size="4.6" fill="#333" text-anchor="middle" transform="rotate(-90 34.5 174.9)">10<tspan dy="-1.8" font-size="3.2">0</tspan></text>
<text x="54.9" y="184.6" font-size="4.6" fill="#333" text-anchor="middle">10<tspan dy="-1.8" font-size="3.2">1</tspan></text>
<text x="34.5" y="159.6" font-size="4.6" fill="#333" text-anchor="middle" transform="rotate(-90 34.5 159.6)">10<tspan dy="-1.8" font-size="3.2">1</tspan></text>
<text x="70.9" y="184.6" font-size="4.6" fill="#333" text-anchor="middle">10<tspan dy="-1.8" font-size="3.2">2</tspan></text>
<text x="34.5" y="144.3" font-size="4.6" fill="#333" text-anchor="middle" transform="rotate(-90 34.5 144.3)">10<tspan dy="-1.8" font-size="3.2">2</tspan></text>
<text x="86.9" y="184.6" font-size="4.6" fill="#333" text-anchor="middle">10<tspan dy="-1.8" font-size="3.2">3</tspan></text>
<text x="34.5" y="129" font-size="4.6" fill="#333" text-anchor="middle" transform="rotate(-90 34.5 129)">10<tspan dy="-1.8" font-size="3.2">3</tspan></text>
<text x="102.9" y="184.6" font-size="4.6" fill="#333" text-anchor="middle">10<tspan dy="-1.8" font-size="3.2">4</tspan></text>
<text x="34.5" y="113.7" font-size="4.6" fill="#333" text-anchor="middle" transform="rotate(-90 34.5 113.7)">10<tspan dy="-1.8" font-size="3.2">4</tspan></text>
<path d="M38.4 154.25L38.57 153.2L39.05 152.25L39.8 151.5L40.75 151.02L41.8 150.85L50.8 150.85L52.1 151.06L53.27 151.65L54.2 152.58L54.79 153.75L55 155.05L55 172.7L54.83 173.75L54.35 174.7L53.6 175.45L52.65 175.93L51.6 176.1L40.4 176.1L39.78 176L39.22 175.72L38.78 175.28L38.5 174.72L38.4 174.1Z" fill="#000"/>
<path d="M55.0 164.5h.1M54.0 166.9h.1M53.4 155.8h.1M54.5 158.4h.1M52.9 157.0h.1M53.7 160.0h.1M54.7 158.3h.1M54.3 173.0h.1M53.9 162.0h.1M54.9 157.4h.1M53.5 167.7h.1M54.4 173.7h.1M53.9 170.2h.1M53.6 167.3h.1M54.5 162.1h.1M53.5 162.6h.1M55.5 160.6h.1M53.8 170.4h.1M55.6 170.4h.1M53.4 164.2h.1M54.6 171.5h.1M53.4 167.4h.1M53.3 168.1h.1M54.3 159.9h.1M54.7 159.4h.1M53.3 159.1h.1M55.0 172.5h.1M53.6 170.3h.1M54.3 172.2h.1M54.5 170.7h.1M54.6 170.4h.1M52.9 163.2h.1M55.3 169.6h.1M54.6 157.9h.1M53.9 167.5h.1M53.5 155.5h.1M53.0 173.5h.1M53.2 171.8h.1M54.6 157.9h.1M54.0 169.7h.1M53.4 170.8h.1M53.8 155.5h.1M55.3 165.7h.1M54.0 162.9h.1M53.8 166.8h.1M55.1 172.0h.1M54.5 168.8h.1M54.2 158.8h.1M53.8 165.5h.1M53.1 165.7h.1M53.4 154.9h.1M53.9 157.3h.1M54.0 161.7h.1M54.4 158.2h.1M54.6 159.3h.1M54.4 167.9h.1M54.4 173.4h.1M53.5 163.6h.1M52.7 167.3h.1M53.8 169.5h.1M53.5 167.8h.1M53.7 167.5h.1M54.0 154.7h.1M53.3 171.7h.1M53.4 157.8h.1M54.1 158.2h.1M54.3 164.6h.1M53.7 166.1h.1M54.5 169.4h.1M54.0 160.4h.1M53.5 173.1h.1M54.2 167.0h.1M55.5 171.2h.1M53.7 164.0h.1M55.0 156.1h.1M55.2 154.9h.1M55.2 167.2h.1M53.6 163.0h.1M55.6 163.3h.1M54.3 161.1h.1M54.0 158.2h.1M54.0 163.9h.1M54.6 159.7h.1M54.2 172.1h.1M54.1 158.2h.1M55.1 173.6h.1M53.7 171.5h.1M53.5 162.2h.1M54.8 169.8h.1M54.7 166.0h.1M55.0 163.8h.1M53.4 170.5h.1M55.0 170.9h.1M54.5 158.6h.1M55.4 172.4h.1M53.3 155.3h.1M54.4 154.8h.1M54.0 164.1h.1M53.1 160.6h.1M53.7 162.9h.1M55.0 164.0h.1M53.9 163.8h.1M53.7 172.4h.1M54.8 172.6h.1M54.9 161.5h.1M54.9 160.3h.1M53.6 167.5h.1M54.2 158.6h.1M54.9 162.5h.1M53.7 168.7h.1M53.7 154.8h.1M54.8 169.8h.1M55.3 169.0h.1M53.4 162.3h.1M52.4 159.5h.1M53.2 165.2h.1M53.5 160.5h.1M54.1 170.7h.1M54.6 166.2h.1M54.1 160.7h.1M53.7 170.4h.1M54.3 166.5h.1M53.5 157.3h.1M54.2 162.8h.1M53.8 164.2h.1M56.1 173.1h.1M54.8 161.0h.1M53.6 163.4h.1M53.5 173.7h.1M53.9 163.0h.1M53.0 170.8h.1M53.7 156.6h.1M53.7 162.4h.1M54.8 158.3h.1M53.9 171.9h.1M53.6 165.5h.1M53.3 159.0h.1M53.4 156.5h.1M54.2 162.9h.1M54.0 156.6h.1M55.0 164.2h.1M53.8 168.9h.1M54.9 160.8h.1M54.4 158.0h.1M54.2 161.7h.1M52.8 157.9h.1M53.3 171.2h.1M54.7 156.6h.1M55.2 169.1h.1M54.3 161.2h.1M54.7 168.9h.1M53.9 169.7h.1M53.9 157.3h.1M53.7 169.5h.1M54.9 173.1h.1M54.4 165.8h.1M54.0 167.3h.1M54.0 161.0h.1M54.6 158.1h.1M54.4 169.2h.1M53.6 170.7h.1M55.4 158.7h.1M54.4 156.9h.1M54.2 161.6h.1M55.2 166.9h.1M54.9 161.8h.1M54.1 173.5h.1M54.6 170.1h.1M53.5 172.6h.1M53.8 166.4h.1M52.6 169.4h.1M55.1 173.2h.1M52.9 155.4h.1M54.7 165.9h.1M53.6 158.3h.1M53.5 170.2h.1M54.1 159.2h.1M54.4 169.2h.1M54.6 161.2h.1M55.4 167.4h.1M54.5 167.9h.1M54.8 172.4h.1M53.8 171.7h.1M54.7 163.2h.1M54.3 168.1h.1M53.9 158.3h.1M54.1 156.6h.1M54.2 168.6h.1M54.3 172.4h.1M54.5 169.3h.1M53.8 164.8h.1M53.7 167.0h.1M54.7 168.9h.1M53.0 165.8h.1M53.8 161.8h.1M55.3 171.3h.1M52.3 161.9h.1M53.7 172.3h.1M54.7 170.3h.1M53.0 170.2h.1M56.0 171.0h.1M52.4 173.9h.1M55.2 174.0h.1M55.3 164.5h.1M54.8 162.1h.1M54.0 169.0h.1M54.5 173.6h.1M53.6 167.0h.1M54.8 155.2h.1M53.4 155.5h.1M54.0 163.8h.1M54.9 170.1h.1M53.4 172.0h.1M53.9 162.0h.1M54.3 164.8h.1M53.3 164.7h.1M55.0 156.5h.1M54.4 154.7h.1M53.1 164.9h.1M54.2 164.5h.1M53.7 171.5h.1M53.7 158.2h.1M54.3 171.3h.1M53.7 160.0h.1M54.9 165.2h.1M53.7 168.5h.1M54.9 157.5h.1M54.2 173.2h.1M54.8 173.4h.1M53.8 173.6h.1M53.8 154.7h.1M53.4 167.2h.1M54.6 167.8h.1M54.9 171.9h.1M55.7 158.6h.1M55.1 157.1h.1M54.4 170.5h.1M54.1 159.8h.1M54.5 156.0h.1M54.2 156.5h.1M55.2 167.3h.1M54.9 165.1h.1M53.6 169.3h.1M53.7 170.4h.1M55.2 154.8h.1M54.4 172.9h.1M54.0 171.9h.1M55.0 172.9h.1M53.9 169.7h.1M54.0 162.2h.1M53.9 159.5h.1M52.8 172.5h.1M54.8 162.9h.1M53.4 164.2h.1M53.8 168.3h.1M53.7 168.1h.1M54.7 168.2h.1M54.2 166.9h.1M54.2 164.6h.1M53.0 169.7h.1M54.1 162.4h.1M53.2 159.8h.1M54.4 172.4h.1M54.5 171.2h.1M54.2 168.7h.1M55.6 158.0h.1M54.6 155.6h.1M54.6 172.7h.1M54.3 173.1h.1M54.1 160.0h.1M54.9 167.0h.1M55.0 155.1h.1M53.3 162.4h.1M54.9 168.4h.1M54.6 161.7h.1M54.9 170.4h.1M54.5 172.5h.1M53.3 157.4h.1M53.4 168.1h.1M55.5 162.0h.1M54.4 158.1h.1M53.2 161.5h.1M54.4 164.1h.1M53.9 172.2h.1M52.9 169.6h.1M52.6 154.8h.1M53.1 155.8h.1M54.4 174.1h.1M54.2 165.6h.1M54.0 166.6h.1M54.4 161.6h.1M54.6 170.9h.1M52.7 165.6h.1M54.0 166.3h.1M53.6 159.6h.1M53.3 169.8h.1M53.8 158.9h.1M54.1 157.4h.1M54.0 166.3h.1M53.2 170.9h.1M53.9 160.4h.1M55.6 160.6h.1M53.5 157.6h.1M53.0 166.5h.1M54.4 169.7h.1M54.6 157.1h.1M54.5 165.1h.1M53.4 165.2h.1M54.9 156.8h.1M53.7 165.0h.1M53.4 160.0h.1M53.8 158.6h.1M54.1 173.9h.1M54.7 156.5h.1M54.6 161.4h.1M54.2 166.8h.1M54.9 162.6h.1M54.3 155.0h.1M54.8 171.6h.1M53.2 159.4h.1M53.1 162.7h.1M54.7 172.4h.1M53.2 173.6h.1M54.0 172.5h.1M54.1 162.7h.1M53.9 169.2h.1M53.9 171.2h.1M55.2 158.5h.1M52.4 173.6h.1M54.8 156.7h.1M55.8 167.5h.1M54.2 159.4h.1M54.2 158.9h.1M54.7 157.4h.1M55.5 173.1h.1M53.4 157.2h.1M54.3 172.5h.1M54.1 157.9h.1M54.6 161.1h.1M54.3 158.8h.1M54.7 174.0h.1M53.9 156.5h.1M54.2 171.5h.1M53.7 160.6h.1M53.7 173.3h.1M54.1 169.3h.1M54.1 159.8h.1M53.4 164.6h.1M55.3 157.8h.1M54.1 162.6h.1M53.2 155.2h.1M55.0 168.0h.1M53.7 166.3h.1M54.6 160.0h.1M54.2 155.0h.1M54.4 173.0h.1M54.3 157.1h.1M53.8 161.1h.1M54.2 155.2h.1M55.6 162.2h.1M52.6 162.5h.1M54.2 165.1h.1M54.5 161.0h.1M53.5 159.6h.1M53.2 170.0h.1M55.7 160.1h.1M53.9 161.2h.1M55.7 164.3h.1M54.6 160.0h.1M54.3 168.9h.1M54.5 156.3h.1M54.6 161.0h.1M55.0 162.9h.1M54.5 159.7h.1M54.3 171.1h.1M54.3 161.6h.1M55.1 162.9h.1M54.8 163.8h.1M53.5 170.9h.1M53.8 159.0h.1M54.4 170.9h.1M53.8 173.2h.1M53.9 159.9h.1M53.5 158.0h.1M54.0 170.1h.1M54.5 160.8h.1M54.9 159.1h.1M54.2 156.2h.1M55.7 166.7h.1M54.1 173.0h.1M56.4 171.9h.1M54.9 166.2h.1M54.5 163.3h.1M53.9 173.7h.1M52.2 167.6h.1M54.1 173.3h.1M54.3 168.1h.1M55.5 168.3h.1M53.2 168.4h.1M55.5 157.2h.1M54.0 159.6h.1M54.7 156.0h.1M52.4 172.9h.1M54.3 174.1h.1M54.0 166.5h.1M54.7 157.7h.1M54.3 157.1h.1M53.4 163.4h.1M54.9 162.3h.1M54.7 158.5h.1M54.6 156.4h.1M54.9 167.3h.1M55.0 170.1h.1M54.2 155.9h.1M53.2 160.7h.1M53.2 160.6h.1M55.1 165.3h.1M54.7 166.5h.1M54.3 162.7h.1M53.9 171.6h.1M44.8 149.7h.1M44.0 150.9h.1M48.6 151.3h.1M49.4 151.9h.1M49.8 151.1h.1M42.6 151.1h.1M42.9 150.9h.1M45.6 151.7h.1M50.7 151.0h.1M47.2 150.9h.1M47.2 150.9h.1M44.2 151.6h.1M50.9 151.0h.1M42.7 150.3h.1M46.5 151.7h.1M47.7 150.9h.1M49.1 151.5h.1M49.1 151.5h.1M44.8 152.0h.1M43.6 151.9h.1M50.8 151.0h.1M46.5 151.2h.1M43.7 150.5h.1M42.3 152.3h.1M49.0 151.6h.1M49.5 152.1h.1M46.7 151.1h.1M44.8 150.1h.1M47.6 152.2h.1M50.8 151.4h.1M46.7 151.4h.1M48.8 151.3h.1M49.8 151.7h.1M48.5 151.6h.1M45.8 150.3h.1M42.7 152.0h.1M47.9 151.0h.1M49.3 151.0h.1M50.6 152.3h.1M42.4 151.9h.1M42.0 151.1h.1M47.3 150.2h.1M49.3 151.4h.1M41.7 151.6h.1M47.1 151.3h.1M43.6 150.6h.1M51.0 150.8h.1M44.5 150.5h.1M41.7 151.4h.1M48.8 151.8h.1M43.9 151.9h.1M45.1 150.9h.1M42.2 151.4h.1M44.2 151.6h.1M42.2 151.0h.1M43.5 151.2h.1M46.7 152.6h.1M43.9 151.4h.1M47.6 151.8h.1M50.0 151.0h.1M46.7 151.3h.1M41.2 150.3h.1M50.6 151.3h.1M42.9 152.0h.1M44.4 152.6h.1M46.2 152.0h.1M47.2 151.7h.1M44.4 151.3h.1M45.3 150.9h.1M47.2 151.2h.1M45.5 151.7h.1M43.8 150.8h.1M45.0 151.9h.1M44.8 150.7h.1M43.8 150.2h.1M47.0 150.7h.1M46.1 150.3h.1M45.1 150.5h.1M48.1 152.0h.1M49.1 151.2h.1M47.5 151.4h.1M44.3 152.0h.1M50.4 152.1h.1M42.0 151.0h.1M49.0 152.1h.1M45.2 151.5h.1M44.9 151.3h.1M49.4 151.6h.1M47.5 150.4h.1M50.7 150.8h.1M49.8 151.2h.1M42.1 151.7h.1M46.0 151.1h.1M48.7 151.2h.1M41.7 151.9h.1M46.4 152.1h.1M50.9 151.8h.1M43.3 152.1h.1M42.1 151.1h.1M43.8 151.1h.1M44.4 151.5h.1M43.8 151.1h.1M45.3 151.0h.1M49.3 152.3h.1M46.1 151.2h.1M46.9 150.7h.1M42.0 151.6h.1M41.6 152.4h.1M50.5 151.3h.1M44.4 152.0h.1M50.5 151.0h.1M44.3 151.0h.1M47.4 150.9h.1M47.6 151.2h.1M41.8 152.4h.1M41.6 150.6h.1M45.4 152.3h.1M42.2 150.7h.1M43.9 151.2h.1M42.9 151.8h.1M44.1 151.7h.1M45.5 151.5h.1M44.0 150.3h.1M44.3 151.5h.1M45.8 150.7h.1M47.8 152.8h.1M41.3 151.2h.1M51.0 151.4h.1M45.3 150.6h.1M50.2 151.0h.1M41.0 150.5h.1M41.5 151.9h.1M41.9 151.1h.1M50.1 151.6h.1M45.1 150.9h.1M49.4 151.0h.1M47.9 152.1h.1M41.8 150.7h.1M44.6 150.2h.1M44.2 151.5h.1M45.5 150.6h.1M48.5 151.0h.1M41.7 151.8h.1M50.3 150.8h.1M45.7 151.8h.1M44.6 150.9h.1M47.9 152.2h.1M43.7 152.1h.1M48.1 151.0h.1M45.1 151.2h.1M45.7 150.8h.1M42.8 151.4h.1M43.0 152.0h.1M49.6 150.4h.1M46.7 151.9h.1M45.2 150.5h.1M48.7 150.8h.1M50.1 150.2h.1M42.5 152.6h.1M51.0 151.3h.1M41.0 151.4h.1M47.1 150.9h.1M43.6 151.9h.1M43.4 150.0h.1M45.9 151.3h.1M47.0 152.6h.1M45.3 151.1h.1M48.1 151.3h.1M50.5 151.7h.1M42.6 150.8h.1M43.3 151.3h.1M47.1 151.9h.1M45.0 151.4h.1M44.1 151.5h.1M46.0 151.1h.1M47.9 151.5h.1M50.1 151.3h.1M50.4 152.2h.1M49.2 151.7h.1M44.4 151.2h.1M49.8 149.8h.1M48.1 151.7h.1M42.7 151.8h.1M50.5 150.7h.1M43.4 150.1h.1M47.8 150.6h.1M47.9 151.9h.1M50.1 150.7h.1M47.6 151.0h.1M50.8 151.4h.1M41.5 152.0h.1M41.3 151.3h.1M42.9 151.2h.1M46.7 151.0h.1M45.2 152.3h.1M41.7 151.9h.1M42.9 151.2h.1M46.8 150.5h.1M45.0 150.8h.1M48.6 151.6h.1M45.6 150.9h.1M49.8 151.8h.1M48.6 151.5h.1M45.9 151.5h.1M44.5 151.7h.1M43.1 151.6h.1M43.8 150.8h.1M44.5 151.1h.1M44.5 152.7h.1M42.7 150.6h.1M45.7 151.0h.1M42.0 151.9h.1M49.7 151.2h.1M46.5 150.8h.1M41.9 150.5h.1M44.2 151.6h.1M43.5 151.9h.1M42.5 152.1h.1M45.8 151.3h.1M42.8 151.9h.1M42.4 150.7h.1M48.0 151.4h.1M45.2 150.9h.1M47.7 151.4h.1M45.6 151.8h.1M46.0 151.9h.1M44.0 150.7h.1M45.2 152.1h.1M45.8 151.0h.1M44.4 150.7h.1M49.2 151.2h.1M43.4 150.4h.1M43.1 151.3h.1M44.4 151.5h.1M48.8 151.2h.1M49.5 151.6h.1M46.6 151.1h.1M44.5 151.3h.1M47.5 150.4h.1M49.2 151.3h.1M43.4 150.8h.1M47.6 151.0h.1M48.1 151.2h.1M44.8 151.4h.1M42.4 150.3h.1M47.0 150.4h.1M43.0 151.1h.1M44.6 151.6h.1M46.4 151.5h.1M50.6 151.8h.1M42.4 152.1h.1M41.6 151.6h.1M46.3 151.3h.1M50.4 150.7h.1M41.4 150.7h.1M47.4 151.0h.1M41.2 151.5h.1M46.5 151.4h.1M42.1 151.3h.1M47.6 151.2h.1M51.0 151.9h.1M53.8 152.5h.1M54.2 153.9h.1M51.2 150.7h.1M53.3 152.9h.1M52.6 152.8h.1M52.8 152.3h.1M53.7 152.5h.1M53.4 153.3h.1M54.4 153.3h.1M55.8 154.2h.1M53.7 153.3h.1M54.6 155.0h.1M54.9 152.7h.1M52.2 152.0h.1M51.5 151.9h.1M51.1 152.0h.1M52.5 151.3h.1M51.6 151.0h.1M54.0 153.3h.1M54.2 153.3h.1M54.6 152.4h.1M53.3 151.4h.1M52.7 153.0h.1M52.3 151.6h.1M54.6 154.6h.1M50.9 150.8h.1M52.6 151.9h.1M53.4 153.0h.1M51.8 151.7h.1M53.3 154.5h.1M53.4 152.3h.1M52.6 152.2h.1M51.2 151.0h.1M52.1 152.3h.1M53.6 153.0h.1M52.1 152.3h.1M51.0 152.0h.1M54.2 152.4h.1M52.4 152.0h.1M54.8 154.1h.1M53.4 153.7h.1M54.3 153.4h.1M53.4 154.6h.1M54.1 154.0h.1M52.5 152.1h.1M54.1 152.4h.1M52.3 151.5h.1M51.9 151.6h.1M52.2 150.9h.1M51.5 151.2h.1M52.3 151.2h.1M52.3 151.0h.1M54.0 153.2h.1M52.2 151.8h.1M51.1 151.1h.1M52.9 152.3h.1M52.1 151.2h.1M54.8 152.9h.1M52.3 150.9h.1M53.5 152.8h.1M51.6 152.3h.1M53.4 152.3h.1M54.4 154.3h.1M52.9 151.0h.1M53.4 152.7h.1M53.1 152.3h.1M51.3 150.8h.1M50.9 151.6h.1M54.3 154.2h.1M53.3 150.8h.1M55.0 152.8h.1M53.3 151.7h.1M54.6 154.1h.1M51.7 152.1h.1M53.7 152.0h.1M53.7 152.6h.1M54.5 153.8h.1M51.0 151.6h.1M52.8 151.9h.1M53.3 152.4h.1M54.0 152.7h.1M51.9 150.4h.1M53.8 152.4h.1M53.1 153.8h.1M53.6 153.8h.1M51.7 152.6h.1M52.9 152.6h.1M52.7 151.3h.1M53.1 151.7h.1M52.6 152.2h.1M54.7 154.7h.1M50.9 151.8h.1M53.6 154.8h.1M50.9 152.3h.1M51.2 151.9h.1M52.3 150.5h.1M52.0 152.5h.1M55.3 154.0h.1M55.3 153.9h.1M54.4 154.7h.1M52.9 152.0h.1M50.9 151.7h.1M53.9 153.0h.1M55.0 154.4h.1M51.4 151.3h.1M55.1 153.9h.1M50.8 150.5h.1M54.5 153.4h.1M53.6 152.2h.1M54.5 154.5h.1M54.7 154.3h.1M51.0 152.1h.1M53.7 152.2h.1M52.3 151.4h.1M52.8 152.6h.1M51.3 149.8h.1M52.5 152.4h.1M52.7 152.5h.1M50.8 151.1h.1M52.4 153.3h.1M54.0 154.5h.1M51.1 152.4h.1M53.9 154.8h.1M53.4 152.4h.1M52.1 151.3h.1M55.3 154.8h.1M53.7 151.9h.1M53.7 151.5h.1M53.1 151.6h.1M54.2 154.4h.1M51.7 150.6h.1M51.9 151.8h.1M52.2 152.0h.1M51.3 150.2h.1M55.0 154.0h.1M53.5 152.2h.1M54.3 152.5h.1M55.1 154.3h.1M52.8 153.0h.1M52.4 151.7h.1M53.0 153.1h.1M53.5 152.3h.1M52.3 152.1h.1M52.5 150.6h.1M53.0 151.6h.1M53.7 153.8h.1M51.8 151.4h.1M53.7 155.0h.1M52.2 151.5h.1M52.5 151.3h.1M51.6 151.2h.1M52.2 153.1h.1M52.7 152.1h.1M54.4 153.1h.1M54.7 154.4h.1M52.5 150.8h.1M53.5 154.2h.1M52.7 151.4h.1M52.8 152.4h.1M51.6 151.2h.1M54.8 154.4h.1M53.1 151.5h.1M53.8 153.5h.1M51.0 151.2h.1M53.4 153.7h.1M51.8 152.5h.1M53.5 151.9h.1M54.0 153.2h.1M51.5 152.5h.1M53.1 152.9h.1M54.4 154.1h.1M52.0 150.4h.1M53.8 151.7h.1M52.0 150.9h.1M51.4 152.6h.1M53.4 152.4h.1M53.5 152.0h.1M54.2 152.9h.1M54.7 154.2h.1M54.0 153.5h.1M53.3 150.7h.1M54.1 151.6h.1M54.0 153.2h.1M53.8 154.3h.1M55.4 152.6h.1M53.2 152.7h.1M51.8 150.6h.1M55.8 154.0h.1M52.1 152.2h.1M53.2 151.9h.1M54.3 154.4h.1M52.1 151.1h.1M54.7 154.5h.1M52.6 150.3h.1M51.4 150.9h.1M53.5 152.5h.1M55.1 153.6h.1M52.9 152.2h.1M54.2 154.2h.1M53.9 150.7h.1M53.9 154.1h.1M51.4 151.7h.1M52.4 151.6h.1M51.4 152.1h.1M52.9 154.1h.1M53.8 151.7h.1M53.6 153.4h.1M52.0 151.9h.1M54.0 153.6h.1M53.9 155.0h.1M51.2 152.1h.1M52.7 151.7h.1M56.1 153.9h.1M55.0 154.1h.1M55.0 154.2h.1M51.7 152.5h.1M53.7 152.7h.1M51.2 152.1h.1M53.5 151.7h.1" stroke="#111" stroke-width="0.8" stroke-linecap="round" fill="none" opacity="0.8"/>
<path d="M44.9 122.2h.1M45.9 141.4h.1M45.4 133.4h.1M43.4 149.7h.1M39.7 137.6h.1M48.1 136.8h.1M40.2 124.8h.1M41.0 144.7h.1M44.6 133.5h.1M42.9 134.7h.1M46.8 122.4h.1M49.8 141.2h.1M46.8 141.6h.1M46.6 132.0h.1M45.9 136.2h.1M49.2 138.0h.1M47.2 136.3h.1M42.0 146.0h.1M40.8 134.2h.1M45.8 132.0h.1M44.2 132.9h.1M48.1 120.4h.1M50.2 130.8h.1M45.5 137.3h.1M53.6 130.8h.1M49.2 137.8h.1M51.5 123.6h.1M46.2 134.0h.1M40.0 138.8h.1M41.3 139.9h.1M48.6 131.0h.1M49.6 141.1h.1M42.8 146.9h.1M44.7 133.1h.1M46.8 140.1h.1M38.8 126.3h.1M44.4 123.9h.1M52.2 139.4h.1M54.5 135.9h.1M45.3 136.9h.1M53.1 132.2h.1M43.7 133.9h.1M42.5 140.5h.1M88.5 160.3h.1M68.2 173.1h.1M53.1 167.4h.1M83.8 156.2h.1M76.8 159.7h.1M77.6 157.5h.1M72.4 161.8h.1M94.9 163.0h.1M71.3 175.6h.1M75.9 150.8h.1M51.0 167.9h.1M64.4 164.4h.1M63.2 157.5h.1M70.1 160.9h.1M74.1 158.8h.1M62.6 162.1h.1M59.3 152.6h.1M65.7 169.7h.1M73.0 159.5h.1M57.3 170.8h.1M76.5 164.2h.1M77.1 169.2h.1M67.4 165.2h.1M71.3 162.1h.1M73.4 156.8h.1M60.4 165.8h.1M52.9 166.1h.1M63.8 174.4h.1M67.1 149.7h.1M65.7 160.6h.1M78.5 168.2h.1M45.4 154.3h.1M58.5 160.4h.1M51.3 174.5h.1M84.6 170.3h.1M64.5 156.5h.1M65.1 170.4h.1M58.9 168.9h.1M79.9 166.5h.1M66.1 164.1h.1M72.8 163.2h.1M49.1 156.6h.1M82.8 158.7h.1M74.6 166.2h.1M76.3 162.7h.1M83.5 172.9h.1M68.4 159.8h.1M68.7 147.4h.1M78.0 159.8h.1M75.0 163.5h.1M67.9 164.1h.1M70.9 162.2h.1M65.2 156.9h.1M78.0 170.8h.1M80.3 157.8h.1M70.5 166.1h.1M90.2 160.1h.1M54.3 154.6h.1M68.0 170.3h.1M88.5 146.8h.1M66.1 156.7h.1M53.7 164.4h.1M85.2 159.7h.1M76.2 166.4h.1M57.9 161.2h.1M78.6 159.1h.1M59.7 174.8h.1M56.4 160.5h.1M68.9 160.9h.1M65.4 155.4h.1M58.9 157.4h.1M66.7 165.8h.1M59.9 165.2h.1M71.1 161.9h.1M70.3 157.7h.1M78.3 166.0h.1M65.7 151.6h.1M56.5 159.8h.1M56.6 160.4h.1M67.9 156.8h.1M86.7 162.8h.1M79.4 157.9h.1M63.8 157.1h.1M80.4 172.7h.1M58.3 166.3h.1M81.2 169.1h.1M66.5 162.2h.1M78.6 167.7h.1M77.1 166.6h.1M67.6 169.2h.1M59.3 160.6h.1M69.7 163.5h.1M81.9 161.6h.1M77.9 153.6h.1M71.4 162.1h.1M59.8 165.7h.1M81.7 158.5h.1M53.1 168.8h.1M62.1 169.7h.1M74.3 159.5h.1M57.8 170.5h.1M86.7 172.5h.1M82.0 164.8h.1M64.5 156.1h.1M64.7 170.8h.1M56.6 161.0h.1M55.8 159.7h.1M75.2 162.7h.1M77.1 158.8h.1M74.2 168.4h.1M73.3 166.7h.1M64.6 169.3h.1M74.3 165.5h.1M55.0 157.2h.1M70.6 161.0h.1M84.5 159.6h.1M67.0 160.5h.1M85.0 158.5h.1M54.7 166.5h.1M66.0 161.8h.1M73.0 160.6h.1M83.4 164.6h.1M61.7 167.0h.1M77.3 166.6h.1M67.4 160.2h.1M75.1 167.1h.1M69.1 166.6h.1M67.0 143.5h.1M81.7 156.7h.1M77.7 157.3h.1M59.1 160.6h.1M72.8 163.1h.1M56.4 167.5h.1M62.6 165.7h.1M56.9 161.2h.1M56.5 162.1h.1M63.3 172.6h.1M60.2 158.3h.1M76.1 163.8h.1M78.9 171.4h.1M68.0 164.1h.1M58.7 149.7h.1M79.0 164.2h.1M49.2 159.7h.1M50.2 161.3h.1M78.2 168.3h.1M77.4 164.8h.1M80.8 160.4h.1M68.3 167.4h.1M57.2 164.6h.1M65.2 162.6h.1M76.5 163.8h.1M62.4 163.5h.1M63.1 160.0h.1M55.8 159.2h.1M58.3 162.2h.1M79.4 156.3h.1M75.3 154.4h.1M58.3 169.8h.1M59.1 160.6h.1M64.6 161.9h.1M76.3 161.2h.1M58.2 162.1h.1M68.8 162.1h.1M47.9 162.4h.1M57.3 157.2h.1M75.0 167.6h.1M80.0 157.8h.1M58.3 168.2h.1M62.4 150.5h.1M78.9 155.6h.1M66.4 168.0h.1M64.8 161.1h.1M76.0 158.0h.1M72.6 164.3h.1M82.3 155.7h.1M78.9 162.5h.1M64.5 148.7h.1M69.3 159.3h.1M69.9 158.1h.1M56.2 165.2h.1M60.3 167.3h.1M80.8 156.9h.1M53.8 171.7h.1M81.0 158.4h.1M73.6 149.7h.1M69.1 147.7h.1M76.2 171.2h.1M75.6 161.5h.1M83.3 158.1h.1M66.3 157.5h.1M68.1 155.4h.1M77.6 151.5h.1M60.3 157.0h.1M87.2 156.0h.1M74.9 150.2h.1M73.5 158.1h.1M58.3 153.7h.1M89.3 154.9h.1M74.5 167.6h.1M87.7 153.4h.1M58.0 149.6h.1M80.8 153.9h.1M69.3 157.2h.1M75.4 153.6h.1M78.7 165.5h.1M86.2 173.3h.1M89.9 171.9h.1M61.5 162.0h.1M87.5 170.7h.1M59.6 170.8h.1M55.6 166.5h.1M66.5 171.2h.1M65.9 159.5h.1M84.2 169.6h.1M76.3 163.4h.1M69.8 169.4h.1M84.9 169.4h.1M90.4 150.8h.1M79.3 172.0h.1M79.8 150.0h.1M87.6 160.8h.1M66.2 165.3h.1M92.6 171.7h.1M61.8 150.6h.1M56.9 167.5h.1M86.2 158.5h.1M61.8 150.1h.1M67.8 158.2h.1M74.5 166.7h.1M59.4 151.3h.1M71.1 172.4h.1M68.5 150.2h.1M58.4 155.6h.1M77.9 158.1h.1M72.2 150.8h.1M61.2 174.5h.1M84.8 175.7h.1M70.6 174.0h.1M56.2 154.5h.1M88.3 172.0h.1M70.6 158.3h.1M55.7 125.9h.1M77.6 120.4h.1M44.6 116.7h.1M40.2 140.0h.1M90.8 131.3h.1M59.3 136.0h.1M83.4 174.3h.1M63.2 166.2h.1M45.0 158.6h.1M65.9 130.4h.1" stroke="#222" stroke-width="0.7" stroke-linecap="round" fill="none" opacity="0.48"/>
<path d="M60.5 117L60.5 159.5" stroke="#333" stroke-width="0.9"/>
<path d="M40 148L94.8 148" stroke="#333" stroke-width="1.1"/>
<rect x="37.9" y="196.8" width="66.7" height="64" fill="none" stroke="#777" stroke-width="0.9"/>
<path d="M39.1 260.8v2M37.9 258.5h-2M43.92 260.8v1M37.9 253.89h-1M46.73 260.8v1M37.9 251.2h-1M48.73 260.8v1M37.9 249.29h-1M50.28 260.8v1M37.9 247.81h-1M51.55 260.8v1M37.9 246.59h-1M52.62 260.8v1M37.9 245.57h-1M53.55 260.8v1M37.9 244.68h-1M54.37 260.8v1M37.9 243.9h-1M55.1 260.8v2M37.9 243.2h-2M59.92 260.8v1M37.9 238.59h-1M62.73 260.8v1M37.9 235.9h-1M64.73 260.8v1M37.9 233.99h-1M66.28 260.8v1M37.9 232.51h-1M67.55 260.8v1M37.9 231.29h-1M68.62 260.8v1M37.9 230.27h-1M69.55 260.8v1M37.9 229.38h-1M70.37 260.8v1M37.9 228.6h-1M71.1 260.8v2M37.9 227.9h-2M75.92 260.8v1M37.9 223.29h-1M78.73 260.8v1M37.9 220.6h-1M80.73 260.8v1M37.9 218.69h-1M82.28 260.8v1M37.9 217.21h-1M83.55 260.8v1M37.9 215.99h-1M84.62 260.8v1M37.9 214.97h-1M85.55 260.8v1M37.9 214.08h-1M86.37 260.8v1M37.9 213.3h-1M87.1 260.8v2M37.9 212.6h-2M91.92 260.8v1M37.9 207.99h-1M94.73 260.8v1M37.9 205.3h-1M96.73 260.8v1M37.9 203.39h-1M98.28 260.8v1M37.9 201.91h-1M99.55 260.8v1M37.9 200.69h-1M100.62 260.8v1M37.9 199.67h-1M101.55 260.8v1M37.9 198.78h-1M102.37 260.8v1M37.9 198h-1M103.1 260.8v2M37.9 197.3h-2" stroke="#555" stroke-width="0.7" fill="none"/>
<text x="38.9" y="268.8" font-size="4.6" fill="#333" text-anchor="middle">10<tspan dy="-1.8" font-size="3.2">0</tspan></text>
<text x="34.5" y="259.1" font-size="4.6" fill="#333" text-anchor="middle" transform="rotate(-90 34.5 259.1)">10<tspan dy="-1.8" font-size="3.2">0</tspan></text>
<text x="54.9" y="268.8" font-size="4.6" fill="#333" text-anchor="middle">10<tspan dy="-1.8" font-size="3.2">1</tspan></text>
<text x="34.5" y="243.8" font-size="4.6" fill="#333" text-anchor="middle" transform="rotate(-90 34.5 243.8)">10<tspan dy="-1.8" font-size="3.2">1</tspan></text>
<text x="70.9" y="268.8" font-size="4.6" fill="#333" text-anchor="middle">10<tspan dy="-1.8" font-size="3.2">2</tspan></text>
<text x="34.5" y="228.5" font-size="4.6" fill="#333" text-anchor="middle" transform="rotate(-90 34.5 228.5)">10<tspan dy="-1.8" font-size="3.2">2</tspan></text>
<text x="86.9" y="268.8" font-size="4.6" fill="#333" text-anchor="middle">10<tspan dy="-1.8" font-size="3.2">3</tspan></text>
<text x="34.5" y="213.2" font-size="4.6" fill="#333" text-anchor="middle" transform="rotate(-90 34.5 213.2)">10<tspan dy="-1.8" font-size="3.2">3</tspan></text>
<text x="102.9" y="268.8" font-size="4.6" fill="#333" text-anchor="middle">10<tspan dy="-1.8" font-size="3.2">4</tspan></text>
<text x="34.5" y="197.9" font-size="4.6" fill="#333" text-anchor="middle" transform="rotate(-90 34.5 197.9)">10<tspan dy="-1.8" font-size="3.2">4</tspan></text>
<path d="M38.4 241.45L38.57 240.4L39.05 239.45L39.8 238.7L40.75 238.22L41.8 238.05L49.7 238.05L51 238.26L52.17 238.85L53.1 239.78L53.69 240.95L53.9 242.25L53.9 256.9L53.73 257.95L53.25 258.9L52.5 259.65L51.55 260.13L50.5 260.3L40.4 260.3L39.78 260.2L39.22 259.92L38.78 259.48L38.5 258.92L38.4 258.3Z" fill="#000"/>
<path d="M52.9 248.1h.1M54.1 250.2h.1M54.2 251.2h.1M52.7 247.7h.1M52.9 242.0h.1M53.2 254.0h.1M52.5 243.8h.1M52.4 256.0h.1M52.8 246.0h.1M53.7 246.1h.1M52.8 250.7h.1M53.0 256.9h.1M52.8 248.2h.1M52.2 249.8h.1M54.2 248.7h.1M51.5 243.7h.1M52.7 246.7h.1M53.5 257.0h.1M52.1 257.4h.1M53.5 246.1h.1M54.0 257.1h.1M52.5 242.2h.1M53.3 253.8h.1M52.3 242.3h.1M53.5 248.9h.1M53.2 248.7h.1M53.3 249.1h.1M54.1 257.4h.1M53.4 247.7h.1M54.1 242.2h.1M53.6 243.7h.1M52.3 254.3h.1M53.3 244.0h.1M53.5 242.9h.1M52.1 245.1h.1M54.0 258.0h.1M53.2 249.2h.1M53.4 244.3h.1M52.5 252.8h.1M53.2 248.1h.1M53.3 251.0h.1M52.9 258.3h.1M53.2 253.4h.1M51.6 250.7h.1M54.1 258.4h.1M52.3 250.2h.1M51.6 249.4h.1M52.4 255.9h.1M52.5 257.7h.1M53.5 253.8h.1M52.5 247.9h.1M53.3 248.5h.1M52.4 242.0h.1M54.7 245.9h.1M53.5 254.7h.1M54.5 250.0h.1M52.4 256.0h.1M53.6 253.0h.1M52.4 251.2h.1M53.5 255.2h.1M53.6 250.1h.1M52.0 252.9h.1M52.3 250.0h.1M52.3 247.7h.1M52.1 254.5h.1M52.6 243.1h.1M52.4 258.0h.1M52.1 257.8h.1M53.2 255.6h.1M53.5 249.6h.1M52.2 249.3h.1M52.7 248.5h.1M53.1 249.5h.1M52.9 245.6h.1M52.6 255.1h.1M53.7 256.4h.1M53.7 250.2h.1M53.6 256.0h.1M53.0 246.7h.1M54.5 256.1h.1M54.3 258.0h.1M52.8 253.0h.1M53.0 257.8h.1M53.9 253.9h.1M52.5 253.3h.1M53.4 249.7h.1M53.1 242.9h.1M52.6 244.0h.1M52.9 255.6h.1M52.0 244.9h.1M52.7 253.2h.1M51.7 244.5h.1M54.7 254.4h.1M54.2 257.7h.1M54.0 252.1h.1M53.3 242.5h.1M53.8 254.1h.1M54.0 249.8h.1M53.8 256.2h.1M53.7 244.4h.1M52.5 246.5h.1M53.4 257.1h.1M52.7 255.7h.1M52.3 256.9h.1M52.3 250.5h.1M53.4 253.0h.1M53.8 257.3h.1M52.1 252.8h.1M54.3 243.3h.1M54.1 244.5h.1M52.8 241.9h.1M52.8 243.7h.1M53.1 242.3h.1M53.8 248.2h.1M52.8 252.1h.1M52.3 256.1h.1M53.3 248.6h.1M51.7 244.6h.1M53.2 256.9h.1M53.9 257.0h.1M53.3 258.0h.1M53.6 242.3h.1M53.4 251.6h.1M53.6 252.3h.1M53.2 250.7h.1M52.5 245.0h.1M52.9 257.1h.1M53.0 250.8h.1M54.0 242.5h.1M54.2 247.6h.1M53.4 253.9h.1M52.6 245.2h.1M52.6 254.7h.1M53.0 245.4h.1M54.1 249.0h.1M53.3 246.7h.1M53.1 244.0h.1M52.6 256.5h.1M53.7 247.5h.1M53.3 254.3h.1M53.1 256.6h.1M53.2 246.6h.1M54.3 242.0h.1M53.0 250.6h.1M54.3 245.8h.1M54.0 256.3h.1M53.1 244.6h.1M53.7 253.8h.1M53.0 242.3h.1M52.5 246.4h.1M52.9 245.1h.1M52.5 256.0h.1M53.5 251.8h.1M53.1 252.8h.1M53.5 243.3h.1M53.7 247.0h.1M50.9 256.6h.1M53.3 252.0h.1M51.8 254.4h.1M53.2 250.2h.1M52.5 245.3h.1M53.2 257.0h.1M54.1 246.3h.1M51.9 244.7h.1M53.2 252.6h.1M53.0 243.3h.1M51.8 254.5h.1M53.6 253.6h.1M53.1 248.2h.1M52.7 250.4h.1M52.6 249.9h.1M55.3 243.1h.1M52.8 243.2h.1M51.8 247.7h.1M52.4 242.0h.1M52.8 245.0h.1M52.8 247.9h.1M53.0 252.2h.1M52.4 250.4h.1M53.5 244.8h.1M52.8 254.4h.1M52.1 255.0h.1M52.5 252.8h.1M52.8 253.3h.1M53.7 246.1h.1M53.4 255.7h.1M52.9 251.6h.1M53.1 244.8h.1M53.3 253.2h.1M54.5 252.3h.1M52.7 251.3h.1M53.4 249.7h.1M53.6 254.6h.1M52.4 253.9h.1M53.2 251.6h.1M53.2 243.0h.1M52.8 245.7h.1M53.5 258.1h.1M53.8 248.5h.1M53.9 252.3h.1M53.0 244.1h.1M53.2 251.3h.1M54.7 251.9h.1M52.3 254.5h.1M53.3 257.9h.1M53.7 249.4h.1M53.2 247.1h.1M53.6 244.5h.1M53.2 247.4h.1M53.6 249.2h.1M54.0 257.8h.1M52.9 250.3h.1M53.2 253.0h.1M53.1 254.0h.1M52.8 242.1h.1M53.1 245.7h.1M52.3 250.8h.1M53.6 242.8h.1M54.3 244.4h.1M54.3 254.3h.1M54.0 253.0h.1M52.4 244.2h.1M54.2 243.8h.1M52.6 255.8h.1M53.1 249.7h.1M54.4 247.1h.1M52.3 253.8h.1M53.7 252.9h.1M53.3 258.3h.1M53.0 243.6h.1M52.5 254.6h.1M53.4 249.5h.1M52.8 246.0h.1M53.8 250.1h.1M54.0 242.2h.1M52.1 244.0h.1M52.7 243.7h.1M52.9 253.3h.1M52.3 253.6h.1M52.3 245.9h.1M53.2 247.0h.1M53.0 254.6h.1M51.9 248.3h.1M52.7 247.7h.1M53.5 257.5h.1M52.3 250.9h.1M52.5 250.8h.1M54.2 252.0h.1M54.0 242.6h.1M52.0 248.5h.1M52.2 254.9h.1M53.4 252.6h.1M52.3 256.6h.1M52.9 247.0h.1M52.8 249.7h.1M53.5 245.8h.1M51.3 245.0h.1M51.6 243.4h.1M52.2 245.2h.1M53.8 244.6h.1M53.0 249.1h.1M51.9 248.7h.1M53.4 254.5h.1M53.6 254.7h.1M52.9 250.8h.1M52.9 252.7h.1M53.4 249.6h.1M53.9 247.0h.1M53.2 250.2h.1M53.5 252.3h.1M53.1 257.7h.1M52.8 255.4h.1M52.5 243.0h.1M53.3 252.5h.1M52.9 243.4h.1M52.9 252.2h.1M53.8 255.9h.1M53.4 253.4h.1M53.7 243.9h.1M52.0 248.9h.1M53.5 245.1h.1M52.7 252.8h.1M52.5 253.6h.1M52.5 254.1h.1M53.9 247.8h.1M53.7 251.8h.1M52.6 245.3h.1M52.3 257.2h.1M53.1 257.4h.1M52.8 242.4h.1M54.3 251.2h.1M52.1 253.7h.1M51.8 245.7h.1M52.9 242.4h.1M53.1 241.9h.1M53.2 253.6h.1M53.6 242.1h.1M54.6 248.3h.1M52.9 255.1h.1M52.7 242.8h.1M51.9 253.6h.1M53.3 249.0h.1M53.7 248.3h.1M52.9 249.9h.1M53.9 247.7h.1M53.1 256.1h.1M54.2 253.0h.1M53.3 248.3h.1M52.4 243.9h.1M52.7 250.2h.1M52.0 258.4h.1M51.9 256.6h.1M53.3 243.0h.1M53.7 247.8h.1M54.5 249.6h.1M53.1 248.6h.1M52.9 243.7h.1M52.3 245.0h.1M53.8 250.7h.1M53.4 253.8h.1M52.7 253.7h.1M53.6 253.0h.1M53.5 253.0h.1M51.8 242.0h.1M53.6 245.5h.1M53.2 247.5h.1M52.8 246.1h.1M52.8 248.3h.1M54.3 248.5h.1M54.2 247.5h.1M54.4 242.1h.1M52.3 256.2h.1M52.6 257.7h.1M53.7 252.1h.1M52.3 246.4h.1M52.6 249.3h.1M51.8 257.0h.1M54.4 251.8h.1M53.8 253.4h.1M53.4 253.5h.1M53.3 258.1h.1M52.8 252.7h.1M52.8 243.7h.1M53.5 250.2h.1M52.6 257.1h.1M54.0 244.0h.1M52.8 242.7h.1M52.5 242.7h.1M54.0 243.1h.1M53.0 244.6h.1M53.5 254.6h.1M52.8 251.8h.1M51.5 254.0h.1M53.5 251.1h.1M52.2 247.7h.1M53.9 254.9h.1M52.0 244.7h.1M51.8 247.8h.1M53.3 248.8h.1M53.4 253.1h.1M53.2 254.5h.1M52.3 251.3h.1M53.7 251.9h.1M52.1 246.5h.1M52.8 251.7h.1M52.5 255.8h.1M52.8 249.1h.1M53.7 254.3h.1M52.7 250.3h.1M53.5 250.4h.1M53.6 251.9h.1M51.9 244.2h.1M52.3 245.5h.1M52.8 244.8h.1M52.7 250.7h.1M53.3 252.9h.1M51.7 253.6h.1M53.6 245.3h.1M53.6 247.4h.1M53.0 244.3h.1M52.1 252.7h.1M53.1 248.8h.1M52.7 246.4h.1M53.5 245.6h.1M53.0 257.6h.1M53.6 249.8h.1M52.8 258.3h.1M54.1 247.2h.1M51.5 245.5h.1M52.4 253.7h.1M53.4 257.0h.1M52.0 244.6h.1M53.6 256.1h.1M52.2 251.6h.1M53.2 256.8h.1M52.5 257.5h.1M52.8 248.9h.1M53.2 257.4h.1M53.0 244.9h.1M52.8 249.2h.1M54.6 249.2h.1M53.1 245.9h.1M52.4 249.9h.1M53.7 254.3h.1M53.7 243.7h.1M54.0 249.8h.1M54.4 250.6h.1M52.4 245.1h.1M53.8 252.5h.1M53.9 246.1h.1M53.1 251.3h.1M53.3 251.3h.1M51.0 254.3h.1M52.7 257.3h.1M54.4 257.2h.1M51.8 250.2h.1M52.7 246.2h.1M53.3 245.9h.1M53.5 254.9h.1M54.2 254.4h.1M48.0 238.5h.1M48.4 238.1h.1M46.0 238.2h.1M49.0 238.8h.1M46.8 238.5h.1M46.6 237.8h.1M48.4 238.1h.1M46.8 238.1h.1M47.8 238.5h.1M49.3 238.6h.1M44.5 238.6h.1M47.7 238.1h.1M43.6 238.5h.1M45.3 237.7h.1M48.8 236.8h.1M49.7 238.5h.1M49.4 237.5h.1M47.7 238.0h.1M48.5 237.8h.1M48.9 238.9h.1M46.4 237.8h.1M43.1 238.7h.1M41.1 238.2h.1M47.8 237.8h.1M47.7 237.6h.1M47.5 238.8h.1M46.1 238.7h.1M46.8 239.0h.1M47.4 239.6h.1M45.7 238.7h.1M46.8 238.7h.1M42.9 238.4h.1M45.7 238.6h.1M46.6 238.3h.1M46.0 238.0h.1M43.2 239.7h.1M42.0 237.4h.1M46.8 238.7h.1M41.9 238.8h.1M48.0 238.6h.1M42.5 237.9h.1M47.8 238.4h.1M44.1 238.2h.1M49.0 237.9h.1M42.9 238.5h.1M42.3 238.3h.1M47.0 238.2h.1M47.9 238.9h.1M44.0 237.9h.1M45.1 238.8h.1M46.9 238.1h.1M43.6 238.8h.1M44.4 238.5h.1M46.0 238.6h.1M43.6 237.9h.1M42.2 238.0h.1M49.1 238.0h.1M42.0 238.6h.1M49.8 238.9h.1M48.5 239.1h.1M44.9 238.2h.1M48.6 238.5h.1M41.5 237.5h.1M46.0 237.2h.1M44.1 238.0h.1M43.6 238.1h.1M49.0 237.6h.1M41.2 237.4h.1M48.7 238.8h.1M41.6 238.0h.1M47.0 237.5h.1M43.5 239.9h.1M45.6 238.6h.1M49.2 238.3h.1M48.1 238.9h.1M41.8 238.0h.1M43.6 239.4h.1M45.3 237.6h.1M47.4 237.7h.1M41.0 238.4h.1M48.7 238.0h.1M48.5 239.3h.1M49.5 237.5h.1M42.7 238.0h.1M42.8 238.6h.1M48.4 238.8h.1M45.5 239.1h.1M43.1 238.7h.1M41.1 239.8h.1M42.8 238.2h.1M47.0 238.6h.1M47.5 239.0h.1M44.1 238.3h.1M49.2 238.3h.1M45.5 238.2h.1M45.6 238.1h.1M44.5 237.8h.1M44.5 238.1h.1M44.1 237.6h.1M48.3 238.7h.1M44.9 237.5h.1M43.0 239.7h.1M44.8 239.5h.1M49.2 239.1h.1M46.7 238.3h.1M41.8 238.1h.1M44.7 239.2h.1M45.1 238.6h.1M41.0 238.8h.1M49.6 238.0h.1M49.1 239.1h.1M41.8 238.0h.1M45.9 238.5h.1M43.7 237.4h.1M42.8 238.1h.1M43.4 238.8h.1M41.4 238.2h.1M47.1 238.2h.1M44.2 238.9h.1M47.2 238.4h.1M48.2 239.2h.1M46.1 237.0h.1M44.0 238.8h.1M42.2 238.8h.1M46.8 237.5h.1M47.0 237.7h.1M47.9 239.0h.1M42.1 237.8h.1M41.3 238.1h.1M48.8 238.8h.1M46.4 238.3h.1M41.7 238.8h.1M47.3 238.0h.1M41.4 238.6h.1M46.6 239.1h.1M45.9 238.7h.1M47.3 237.2h.1M41.7 238.9h.1M49.1 238.5h.1M49.4 237.9h.1M49.8 239.3h.1M47.8 237.4h.1M43.7 239.6h.1M49.7 238.1h.1M46.4 239.4h.1M47.4 238.4h.1M46.9 237.7h.1M42.8 238.5h.1M48.6 238.7h.1M46.7 238.8h.1M42.9 239.1h.1M44.3 237.9h.1M42.2 238.8h.1M44.8 238.9h.1M49.8 238.3h.1M44.4 237.9h.1M44.5 237.9h.1M48.1 238.9h.1M41.6 238.9h.1M42.0 238.0h.1M47.6 237.7h.1M42.1 239.2h.1M46.4 237.5h.1M48.3 238.6h.1M46.0 238.0h.1M41.6 237.4h.1M42.8 238.5h.1M45.8 238.4h.1M49.5 239.3h.1M46.8 239.8h.1M47.2 238.4h.1M46.3 239.1h.1M43.8 239.1h.1M46.4 238.2h.1M41.0 237.9h.1M44.6 239.4h.1M48.2 238.2h.1M42.7 238.5h.1M46.7 238.3h.1M47.4 238.4h.1M42.3 238.1h.1M48.6 238.9h.1M43.1 239.2h.1M49.6 238.2h.1M44.0 237.6h.1M46.4 238.5h.1M49.4 237.6h.1M48.3 238.1h.1M45.3 239.2h.1M42.7 239.9h.1M46.4 238.7h.1M46.2 237.8h.1M41.5 238.9h.1M44.3 237.1h.1M49.2 238.1h.1M45.6 239.4h.1M42.5 238.9h.1M46.7 237.6h.1M45.0 237.5h.1M49.1 239.0h.1M45.3 238.4h.1M41.1 238.1h.1M42.4 238.7h.1M42.5 238.1h.1M49.5 237.3h.1M44.1 238.9h.1M44.0 238.1h.1M49.7 237.9h.1M42.8 237.7h.1M46.5 238.6h.1M49.4 238.0h.1M49.1 238.8h.1M42.3 238.3h.1M45.1 239.1h.1M43.2 238.2h.1M47.2 238.1h.1M43.1 237.3h.1M42.5 237.8h.1M43.3 238.9h.1M42.1 240.3h.1M47.3 237.7h.1M43.4 237.8h.1M44.5 238.7h.1M43.4 238.8h.1M44.3 238.1h.1M43.6 238.5h.1M44.1 237.5h.1M47.3 238.3h.1M42.5 239.0h.1M47.1 239.4h.1M44.0 238.4h.1M41.7 238.3h.1M42.0 238.7h.1M49.0 239.1h.1M41.3 238.8h.1M43.4 238.0h.1M48.7 238.7h.1M41.6 239.0h.1M42.8 238.0h.1M43.3 237.7h.1M48.4 238.8h.1M41.9 238.7h.1M49.4 239.0h.1M42.0 238.5h.1M46.0 238.1h.1M47.9 238.2h.1M45.9 237.9h.1M45.5 237.9h.1M44.8 238.1h.1M43.2 238.2h.1M49.8 239.1h.1M44.5 237.7h.1M46.7 238.4h.1M46.1 238.1h.1M49.6 239.4h.1M43.1 238.6h.1M42.3 238.2h.1M49.0 239.0h.1M45.5 238.5h.1M46.7 238.2h.1M53.7 241.3h.1M51.1 237.8h.1M52.4 240.2h.1M50.3 237.9h.1M53.6 241.7h.1M49.7 239.1h.1M53.4 242.1h.1M52.4 240.1h.1M52.9 241.0h.1M53.0 240.3h.1M52.9 239.1h.1M52.0 239.5h.1M50.9 238.6h.1M50.9 239.8h.1M50.3 238.4h.1M51.6 238.1h.1M53.4 240.0h.1M52.8 239.6h.1M52.4 240.1h.1M52.0 240.1h.1M53.4 241.9h.1M52.5 241.6h.1M50.9 239.6h.1M53.1 239.4h.1M52.9 242.1h.1M51.8 237.7h.1M52.2 241.0h.1M53.2 240.1h.1M52.3 240.8h.1M52.7 239.7h.1M52.5 241.0h.1M51.8 239.1h.1M53.4 241.9h.1M52.4 240.1h.1M51.8 238.7h.1M53.8 239.7h.1M52.7 240.6h.1M54.1 241.7h.1M52.9 240.2h.1M52.5 239.7h.1M52.5 237.7h.1M51.1 240.5h.1M51.1 239.3h.1M51.8 240.8h.1M53.2 241.5h.1M52.6 240.1h.1M51.7 236.1h.1M49.9 238.2h.1M54.6 241.3h.1M51.8 238.1h.1M52.8 240.6h.1M53.8 241.9h.1M54.6 241.8h.1M52.7 239.7h.1M53.6 241.7h.1M52.1 238.9h.1M52.4 242.0h.1M52.5 240.7h.1M50.2 238.3h.1M53.7 241.0h.1M50.5 239.2h.1M53.3 242.2h.1M50.0 238.6h.1M53.1 240.9h.1M50.7 238.1h.1M52.6 239.7h.1M51.9 239.0h.1M52.5 241.7h.1M51.0 239.5h.1M53.3 240.5h.1M52.4 242.0h.1M50.1 238.3h.1M52.7 240.8h.1M50.1 239.1h.1M53.7 240.8h.1M52.9 241.5h.1M50.4 239.1h.1M53.0 241.6h.1M52.1 239.3h.1M52.4 237.2h.1M52.0 242.1h.1M51.8 239.1h.1M50.9 238.8h.1M51.9 238.4h.1M53.2 241.7h.1M51.8 242.2h.1M52.8 238.7h.1M51.8 240.1h.1M52.7 240.0h.1M52.4 241.5h.1M49.7 239.2h.1M53.0 241.2h.1M54.1 242.1h.1M52.3 238.7h.1M51.8 239.6h.1M53.8 242.0h.1M51.8 239.4h.1M51.9 239.0h.1M53.5 241.4h.1M52.6 239.1h.1M52.6 240.5h.1M51.3 238.9h.1M53.1 240.4h.1M51.8 239.0h.1M52.7 241.2h.1M53.2 238.7h.1M53.1 241.8h.1M53.0 239.4h.1M53.5 241.4h.1M52.7 238.7h.1M51.7 241.1h.1M51.8 237.5h.1M52.6 240.1h.1M52.2 240.8h.1M50.8 238.6h.1M53.7 238.7h.1M53.8 241.7h.1M50.6 239.5h.1M52.1 239.8h.1M54.3 241.1h.1M51.4 240.1h.1M49.9 238.6h.1M52.3 239.8h.1M53.2 238.3h.1M53.3 241.8h.1M53.8 239.9h.1M52.8 241.1h.1M51.5 239.6h.1M54.1 241.5h.1M53.8 241.1h.1M50.1 239.7h.1M53.3 240.1h.1M53.9 241.6h.1M52.6 240.5h.1M53.6 242.1h.1M51.3 238.6h.1M52.4 240.2h.1M52.2 240.0h.1M51.2 239.3h.1M53.1 241.0h.1M51.5 240.0h.1M52.9 240.3h.1M52.3 241.3h.1M53.2 240.7h.1M50.3 238.6h.1M50.0 239.2h.1M53.9 241.0h.1M54.1 239.6h.1M50.8 237.7h.1M50.3 239.5h.1M53.0 238.9h.1M50.8 238.5h.1M53.4 241.8h.1M50.9 239.1h.1M53.5 241.9h.1M54.0 240.2h.1M52.9 239.6h.1M52.7 240.5h.1M52.6 240.7h.1M51.2 239.1h.1M52.6 239.2h.1M50.2 237.2h.1M49.9 239.2h.1M53.5 241.9h.1M53.1 241.4h.1M52.7 241.0h.1M50.4 238.3h.1M53.2 239.9h.1M52.2 241.0h.1M51.6 239.9h.1M52.3 238.4h.1M53.3 240.6h.1M49.8 238.1h.1M52.0 239.7h.1M51.1 239.0h.1M52.3 239.1h.1M52.3 240.0h.1M51.5 239.9h.1M53.4 241.5h.1M54.0 241.4h.1M52.5 241.1h.1M54.0 240.8h.1M52.7 239.2h.1M51.0 239.4h.1M53.3 241.2h.1M50.4 238.6h.1M53.1 239.7h.1M53.3 239.9h.1M50.2 239.4h.1M50.6 239.6h.1M53.6 240.0h.1M53.5 241.4h.1M52.0 238.9h.1M52.7 239.6h.1M54.0 240.1h.1M52.0 240.5h.1M52.7 238.9h.1M52.4 240.5h.1M53.5 240.4h.1M54.2 240.8h.1M51.9 240.5h.1M53.2 240.2h.1M50.8 238.8h.1M50.6 238.8h.1M53.3 241.1h.1M50.7 239.4h.1M51.7 239.8h.1M53.9 241.5h.1M50.7 238.0h.1M52.7 240.6h.1M50.8 239.7h.1M54.2 239.3h.1M54.1 241.0h.1M53.6 241.1h.1M52.6 241.2h.1M52.2 239.9h.1M52.7 239.7h.1M50.5 239.3h.1M50.6 237.4h.1M53.3 240.8h.1" stroke="#111" stroke-width="0.8" stroke-linecap="round" fill="none" opacity="0.8"/>
<path d="M46.2 224.6h.1M41.3 214.9h.1M41.7 218.7h.1M42.2 221.2h.1M45.8 220.6h.1M44.0 213.9h.1M43.9 214.4h.1M46.0 223.3h.1M45.7 221.9h.1M50.0 205.3h.1M44.2 220.4h.1M41.4 228.5h.1M44.8 215.3h.1M49.9 221.4h.1M43.0 209.8h.1M45.0 225.5h.1M43.6 212.1h.1M46.3 211.2h.1M45.8 217.6h.1M42.1 236.1h.1M44.1 215.6h.1M48.1 211.1h.1M48.7 223.0h.1M48.1 221.4h.1M47.9 231.2h.1M43.7 211.1h.1M43.6 208.8h.1M48.1 217.6h.1M40.8 222.4h.1M44.7 222.2h.1M43.6 209.5h.1M42.5 214.1h.1M40.7 218.9h.1M46.9 225.6h.1M42.4 223.1h.1M43.6 216.9h.1M44.0 212.8h.1M42.4 225.8h.1M49.8 226.3h.1M43.2 238.4h.1M45.6 218.6h.1M40.4 230.9h.1M43.3 211.5h.1M43.8 216.1h.1M43.8 215.1h.1M42.9 216.6h.1M45.4 213.8h.1M50.2 216.1h.1M44.4 219.4h.1M44.4 216.7h.1M43.5 224.3h.1M53.6 219.2h.1M50.4 219.8h.1M46.8 229.9h.1M73.9 255.6h.1M72.3 241.4h.1M70.5 241.1h.1M71.3 250.9h.1M76.6 239.1h.1M62.4 245.8h.1M82.5 253.9h.1M86.9 247.8h.1M82.6 245.2h.1M65.6 243.9h.1M54.3 242.8h.1M66.2 244.6h.1M72.3 248.5h.1M79.2 254.5h.1M68.8 253.0h.1M67.6 244.7h.1M86.3 243.8h.1M63.8 251.5h.1M81.7 237.9h.1M80.0 245.4h.1M57.0 246.0h.1M73.6 241.7h.1M65.0 242.3h.1M60.9 249.6h.1M51.7 238.7h.1M54.6 242.8h.1M75.0 244.2h.1M66.7 248.2h.1M73.5 240.3h.1M59.8 253.6h.1M67.4 246.0h.1M67.9 246.3h.1M54.8 245.7h.1M53.6 244.0h.1M75.2 242.4h.1M72.2 253.9h.1M61.1 248.8h.1M69.7 247.1h.1M77.5 253.1h.1M89.5 243.8h.1M61.6 251.1h.1M77.0 247.8h.1M92.5 242.8h.1M71.4 251.8h.1M85.8 239.5h.1M44.1 251.2h.1M85.6 242.8h.1M70.6 249.8h.1M51.4 255.1h.1M78.7 250.7h.1M81.5 244.4h.1M83.1 247.5h.1M83.0 245.6h.1M70.4 241.2h.1M63.0 241.6h.1M65.9 247.8h.1M70.3 250.5h.1M74.9 238.0h.1M65.7 247.2h.1M71.2 250.3h.1M79.7 248.2h.1M74.0 242.1h.1M92.9 241.0h.1M58.9 251.1h.1M64.8 256.2h.1M57.2 236.5h.1M58.7 248.9h.1M76.3 249.2h.1M60.5 248.8h.1M59.9 243.4h.1M67.9 245.8h.1M78.9 240.0h.1M67.0 248.2h.1M67.0 250.4h.1M80.2 243.9h.1M75.6 242.5h.1M75.4 245.0h.1M80.5 247.5h.1M60.3 247.8h.1M72.9 246.9h.1M64.2 247.9h.1M81.3 240.4h.1M79.1 232.7h.1M59.9 250.8h.1M84.5 255.2h.1M58.6 239.8h.1M82.8 243.9h.1M72.8 249.1h.1M61.7 252.6h.1M59.2 251.0h.1M67.6 254.4h.1M70.4 247.2h.1M63.4 249.7h.1M76.5 249.7h.1M56.2 245.1h.1M70.6 254.0h.1M70.7 250.8h.1M51.4 252.7h.1M73.9 245.4h.1M57.6 253.0h.1M44.9 241.8h.1M64.3 249.6h.1M68.3 233.4h.1M80.0 242.0h.1M65.7 251.4h.1M85.9 245.0h.1M85.6 248.4h.1M82.0 238.7h.1M84.4 255.8h.1M74.3 250.7h.1M64.9 247.3h.1M77.4 249.7h.1M80.7 249.2h.1M73.2 255.1h.1M68.2 248.6h.1M54.5 239.5h.1M77.7 246.1h.1M74.3 254.4h.1M57.2 250.5h.1M71.7 245.2h.1M78.2 250.7h.1M69.6 248.1h.1M78.8 250.7h.1M78.5 238.9h.1M55.4 242.6h.1M67.6 251.0h.1M75.7 246.3h.1M80.2 249.3h.1M85.3 258.0h.1M50.8 245.8h.1M70.0 248.8h.1M78.1 244.5h.1M83.4 244.1h.1M88.2 247.0h.1M61.0 239.6h.1M66.8 236.1h.1M59.8 254.8h.1M79.2 246.9h.1M57.0 253.5h.1M83.0 248.1h.1M80.4 248.3h.1M75.7 251.1h.1M48.2 251.3h.1M63.7 241.0h.1M78.4 253.9h.1M56.0 242.2h.1M68.2 248.5h.1M79.9 247.9h.1M73.6 256.4h.1M73.5 245.6h.1M66.1 250.8h.1M70.7 247.7h.1M69.3 249.7h.1M78.2 242.9h.1M68.8 242.5h.1M81.4 249.3h.1M53.1 239.1h.1M83.1 242.9h.1M68.9 250.9h.1M82.4 244.2h.1M71.5 242.7h.1M79.5 241.5h.1M86.2 248.2h.1M64.9 245.5h.1M71.5 248.3h.1M68.9 246.4h.1M72.8 257.4h.1M53.9 245.1h.1M68.9 236.9h.1M68.1 248.1h.1M62.5 247.5h.1M68.6 248.3h.1M54.7 238.8h.1M85.2 253.5h.1M75.3 247.3h.1M90.2 247.2h.1M61.6 239.0h.1M58.6 250.0h.1M73.6 247.1h.1M53.4 254.7h.1M73.0 245.2h.1M63.4 240.8h.1M67.2 248.2h.1M73.3 242.6h.1M71.1 249.7h.1M90.0 241.7h.1M77.2 246.8h.1M57.2 246.2h.1M80.8 247.3h.1M56.7 244.7h.1M71.5 243.1h.1M57.7 247.1h.1M62.0 244.4h.1M84.3 248.3h.1M64.9 246.0h.1M63.9 235.4h.1M64.8 247.1h.1M67.4 254.9h.1M91.4 240.5h.1M78.2 236.4h.1M87.7 244.4h.1M75.0 246.5h.1M62.8 240.2h.1M70.6 259.6h.1M78.0 240.8h.1M75.0 238.0h.1M84.9 252.0h.1M75.3 238.5h.1M69.2 242.1h.1M74.3 245.6h.1M74.5 241.9h.1M54.5 251.8h.1M67.0 238.4h.1M76.6 251.5h.1M82.1 237.8h.1M70.9 249.9h.1M83.4 260.2h.1M73.9 255.3h.1M68.6 259.4h.1M63.6 249.0h.1M85.4 238.9h.1M90.3 244.4h.1M82.8 255.0h.1M62.8 238.2h.1M81.8 252.1h.1M73.9 243.2h.1M90.4 258.7h.1M54.3 243.9h.1M84.5 243.2h.1M72.4 241.9h.1M87.7 248.8h.1M77.9 259.6h.1M54.4 248.8h.1M81.3 254.1h.1M75.1 248.3h.1M63.5 237.0h.1M58.9 250.1h.1M69.8 250.3h.1M76.1 250.3h.1M72.9 242.6h.1M54.8 241.7h.1M59.9 243.4h.1M80.9 235.6h.1M75.5 239.0h.1M83.3 242.3h.1M70.4 248.1h.1M64.2 258.5h.1M85.5 253.0h.1M68.1 202.6h.1M64.2 235.7h.1M42.5 236.0h.1M77.4 237.2h.1M78.5 216.3h.1M75.7 218.3h.1M82.7 236.4h.1M85.2 258.4h.1" stroke="#222" stroke-width="0.7" stroke-linecap="round" fill="none" opacity="0.48"/>
<path d="M60.5 202.8L60.5 245.8" stroke="#333" stroke-width="0.9"/>
<path d="M40 233.8L95.4 233.8" stroke="#333" stroke-width="1.1"/>
<rect x="123.1" y="32.6" width="66.9" height="63.9" fill="none" stroke="#777" stroke-width="0.9"/>
<path d="M124.3 96.5v2M123.1 94.2h-2M129.12 96.5v1M123.1 89.59h-1M131.93 96.5v1M123.1 86.9h-1M133.93 96.5v1M123.1 84.99h-1M135.48 96.5v1M123.1 83.51h-1M136.75 96.5v1M123.1 82.29h-1M137.82 96.5v1M123.1 81.27h-1M138.75 96.5v1M123.1 80.38h-1M139.57 96.5v1M123.1 79.6h-1M140.3 96.5v2M123.1 78.9h-2M145.12 96.5v1M123.1 74.29h-1M147.93 96.5v1M123.1 71.6h-1M149.93 96.5v1M123.1 69.69h-1M151.48 96.5v1M123.1 68.21h-1M152.75 96.5v1M123.1 66.99h-1M153.82 96.5v1M123.1 65.97h-1M154.75 96.5v1M123.1 65.08h-1M155.57 96.5v1M123.1 64.3h-1M156.3 96.5v2M123.1 63.6h-2M161.12 96.5v1M123.1 58.99h-1M163.93 96.5v1M123.1 56.3h-1M165.93 96.5v1M123.1 54.39h-1M167.48 96.5v1M123.1 52.91h-1M168.75 96.5v1M123.1 51.69h-1M169.82 96.5v1M123.1 50.67h-1M170.75 96.5v1M123.1 49.78h-1M171.57 96.5v1M123.1 49h-1M172.3 96.5v2M123.1 48.3h-2M177.12 96.5v1M123.1 43.69h-1M179.93 96.5v1M123.1 41h-1M181.93 96.5v1M123.1 39.09h-1M183.48 96.5v1M123.1 37.61h-1M184.75 96.5v1M123.1 36.39h-1M185.82 96.5v1M123.1 35.37h-1M186.75 96.5v1M123.1 34.48h-1M187.57 96.5v1M123.1 33.7h-1M188.3 96.5v2M123.1 33h-2" stroke="#555" stroke-width="0.7" fill="none"/>
<text x="124.1" y="104.5" font-size="4.6" fill="#333" text-anchor="middle">10<tspan dy="-1.8" font-size="3.2">0</tspan></text>
<text x="119.7" y="94.8" font-size="4.6" fill="#333" text-anchor="middle" transform="rotate(-90 119.7 94.8)">10<tspan dy="-1.8" font-size="3.2">0</tspan></text>
<text x="140.1" y="104.5" font-size="4.6" fill="#333" text-anchor="middle">10<tspan dy="-1.8" font-size="3.2">1</tspan></text>
<text x="119.7" y="79.5" font-size="4.6" fill="#333" text-anchor="middle" transform="rotate(-90 119.7 79.5)">10<tspan dy="-1.8" font-size="3.2">1</tspan></text>
<text x="156.1" y="104.5" font-size="4.6" fill="#333" text-anchor="middle">10<tspan dy="-1.8" font-size="3.2">2</tspan></text>
<text x="119.7" y="64.2" font-size="4.6" fill="#333" text-anchor="middle" transform="rotate(-90 119.7 64.2)">10<tspan dy="-1.8" font-size="3.2">2</tspan></text>
<text x="172.1" y="104.5" font-size="4.6" fill="#333" text-anchor="middle">10<tspan dy="-1.8" font-size="3.2">3</tspan></text>
<text x="119.7" y="48.9" font-size="4.6" fill="#333" text-anchor="middle" transform="rotate(-90 119.7 48.9)">10<tspan dy="-1.8" font-size="3.2">3</tspan></text>
<text x="188.1" y="104.5" font-size="4.6" fill="#333" text-anchor="middle">10<tspan dy="-1.8" font-size="3.2">4</tspan></text>
<text x="119.7" y="33.6" font-size="4.6" fill="#333" text-anchor="middle" transform="rotate(-90 119.7 33.6)">10<tspan dy="-1.8" font-size="3.2">4</tspan></text>
<path d="M132.8 85.3h.1M127.6 81.4h.1M131.9 87.0h.1M129.2 83.5h.1M130.5 83.7h.1M131.0 83.4h.1M128.9 86.0h.1M132.4 84.0h.1M135.5 78.3h.1M133.6 88.9h.1M131.1 83.9h.1M124.4 92.1h.1M133.8 89.0h.1M133.8 89.3h.1M129.8 87.3h.1M128.9 92.6h.1M132.5 84.8h.1M127.9 81.7h.1M132.9 88.0h.1M127.1 73.5h.1M127.6 84.6h.1M130.5 87.4h.1M125.9 84.4h.1M130.5 92.4h.1M132.1 89.7h.1M126.4 86.9h.1M133.3 84.5h.1M128.7 91.6h.1M132.2 83.2h.1M131.1 84.4h.1M129.0 89.9h.1M128.8 89.2h.1M128.3 85.4h.1M128.1 77.5h.1M135.6 89.5h.1M133.6 92.4h.1M126.2 85.6h.1M133.0 93.8h.1M131.2 94.8h.1M129.3 83.2h.1M131.9 84.1h.1M132.9 80.4h.1M128.7 89.0h.1M129.6 89.8h.1M131.0 89.3h.1M127.4 80.5h.1M131.1 82.8h.1M130.2 79.6h.1M128.4 78.7h.1M127.9 80.0h.1M131.4 78.9h.1M133.2 85.5h.1M131.5 88.4h.1M127.8 89.3h.1M132.8 86.3h.1M131.0 83.2h.1M132.3 86.3h.1M134.1 89.1h.1M127.7 85.0h.1M130.1 86.6h.1M128.6 84.9h.1M127.8 83.9h.1M136.7 86.5h.1M133.4 81.1h.1M125.0 91.3h.1M131.8 78.9h.1M128.8 88.5h.1M134.0 79.9h.1M130.8 93.5h.1M130.0 90.5h.1M130.9 82.5h.1M131.7 84.2h.1M130.6 81.0h.1M129.8 86.1h.1M130.1 88.3h.1M127.0 79.9h.1M130.5 92.2h.1M130.1 83.6h.1M129.0 87.7h.1M132.8 90.5h.1M126.5 88.9h.1M129.4 88.4h.1M127.9 85.4h.1M132.2 86.3h.1M129.1 87.1h.1M130.6 92.0h.1M131.7 79.4h.1M125.6 84.0h.1M131.9 80.4h.1M128.2 81.8h.1M129.7 82.6h.1M130.2 91.5h.1M132.8 92.8h.1M135.9 80.7h.1M131.0 86.7h.1M129.0 81.0h.1M128.9 88.5h.1M132.5 92.4h.1M135.4 89.1h.1M131.5 90.5h.1M128.7 85.7h.1M131.3 77.0h.1M131.3 77.0h.1M130.6 85.9h.1M128.2 89.1h.1M128.8 84.7h.1M133.7 86.7h.1M131.2 87.6h.1M130.5 86.0h.1M124.8 81.2h.1M136.6 91.5h.1M131.1 88.3h.1M126.8 88.2h.1M133.0 80.3h.1M128.1 86.3h.1M132.2 78.2h.1M130.6 76.9h.1M126.9 85.2h.1M132.5 84.3h.1M126.4 89.0h.1M134.6 93.2h.1M130.7 86.2h.1M127.3 94.8h.1M124.9 83.6h.1M135.5 90.0h.1M135.0 80.4h.1M126.6 86.9h.1M135.6 84.9h.1M131.0 85.4h.1M129.8 89.1h.1M130.2 77.4h.1M129.7 86.9h.1M134.9 82.5h.1M131.0 86.9h.1M124.8 88.2h.1M137.0 84.6h.1M133.2 84.6h.1M127.1 80.9h.1M129.4 88.9h.1M127.7 83.2h.1M130.6 88.4h.1M131.7 79.6h.1M131.2 92.8h.1M128.7 81.5h.1M128.0 91.8h.1M133.1 84.2h.1M130.2 88.9h.1M137.4 85.7h.1M128.0 89.6h.1M132.9 86.4h.1M130.7 92.3h.1M128.2 89.5h.1M134.7 89.6h.1M130.9 94.2h.1M127.7 83.1h.1M129.5 92.5h.1M133.6 86.7h.1M126.7 79.4h.1M134.7 88.6h.1M132.6 85.4h.1M129.6 94.3h.1M134.7 84.0h.1M135.9 86.6h.1M132.3 87.5h.1M131.0 77.4h.1M136.2 88.7h.1M135.1 81.7h.1M127.6 93.0h.1M129.9 94.2h.1M129.8 86.3h.1M129.2 78.9h.1M125.9 87.2h.1M133.3 87.2h.1M130.8 89.7h.1M130.8 85.0h.1M134.9 80.7h.1M128.8 85.7h.1M130.3 82.0h.1M131.3 94.7h.1M129.2 83.0h.1M130.2 83.3h.1M132.9 86.1h.1M130.5 80.5h.1M134.6 84.2h.1M128.2 85.7h.1M131.1 84.0h.1M126.1 85.2h.1M130.1 92.2h.1M128.3 88.4h.1M134.7 80.0h.1M132.8 84.3h.1M132.1 89.9h.1M136.2 83.3h.1M135.0 86.7h.1M132.7 86.2h.1M128.4 88.8h.1M126.0 85.5h.1M130.4 85.7h.1M129.4 82.3h.1M128.5 88.0h.1M129.6 82.0h.1M125.4 94.5h.1M135.1 86.3h.1M127.0 85.3h.1M128.4 90.1h.1M132.3 85.9h.1M125.4 86.8h.1M133.4 86.1h.1M133.4 82.9h.1M129.5 82.0h.1M127.1 83.1h.1M129.0 91.7h.1M124.7 83.4h.1M134.8 84.4h.1M130.7 84.2h.1M128.2 89.6h.1M127.7 95.7h.1M132.3 82.0h.1M135.2 88.9h.1M126.5 86.9h.1M128.7 84.9h.1M125.0 88.7h.1M132.6 80.4h.1M131.0 90.3h.1M137.5 87.4h.1M130.1 81.7h.1M129.1 93.9h.1M128.3 90.4h.1M133.2 91.8h.1M125.4 79.5h.1M132.8 85.1h.1M131.3 83.9h.1M128.9 89.3h.1M127.7 92.7h.1M133.8 77.4h.1M136.3 86.4h.1M129.1 85.8h.1M132.2 91.1h.1M135.9 86.2h.1M128.6 80.4h.1M129.7 85.4h.1M126.7 81.5h.1M130.0 82.7h.1M130.2 86.5h.1M129.2 84.1h.1M128.2 87.7h.1M125.5 79.2h.1M127.4 92.3h.1M132.5 89.7h.1M128.9 80.3h.1M127.8 76.2h.1M132.6 82.3h.1M132.3 85.3h.1M128.5 92.5h.1M132.6 83.9h.1M131.6 92.0h.1M127.9 92.1h.1M131.3 86.4h.1M130.4 92.1h.1M134.0 87.9h.1M127.8 83.3h.1M133.3 80.8h.1M131.9 85.8h.1M127.3 91.0h.1M133.8 80.0h.1M133.4 78.8h.1M126.4 88.9h.1M136.7 73.6h.1M126.9 94.9h.1M127.6 84.3h.1M129.5 89.8h.1M132.9 95.1h.1M132.3 79.5h.1M130.2 81.4h.1M131.8 85.0h.1M134.9 85.7h.1M139.4 87.4h.1M131.1 91.3h.1M129.1 86.9h.1M127.1 84.8h.1M130.8 86.2h.1M130.8 87.8h.1M126.6 92.5h.1M126.8 87.0h.1M129.7 94.9h.1M129.9 82.3h.1M133.6 94.6h.1M130.6 92.4h.1M130.5 87.9h.1M131.4 82.2h.1M127.2 83.0h.1M130.3 85.6h.1M133.8 87.8h.1M133.9 85.2h.1M132.0 79.5h.1M129.6 82.9h.1M127.9 88.8h.1M134.7 90.3h.1M132.2 79.8h.1M129.1 84.6h.1M127.7 83.7h.1M134.5 86.6h.1M131.1 84.7h.1M128.1 83.6h.1M129.6 80.7h.1M138.8 77.6h.1M134.4 86.2h.1M126.2 85.1h.1M130.1 93.3h.1M126.5 78.7h.1M125.0 88.4h.1M131.1 92.7h.1M138.3 77.1h.1M135.5 89.4h.1M130.6 78.8h.1M129.3 88.8h.1M131.2 93.3h.1M133.8 86.3h.1M125.8 87.7h.1M124.5 83.1h.1M136.6 87.7h.1M131.4 91.7h.1M135.7 85.5h.1M131.3 85.7h.1M135.3 88.2h.1M128.5 90.2h.1M132.1 78.7h.1M135.5 86.6h.1M133.8 83.1h.1M129.0 88.7h.1M133.4 91.2h.1M128.3 87.8h.1M125.9 92.4h.1M132.2 81.7h.1M135.1 84.4h.1M133.3 81.7h.1M126.4 86.6h.1M133.3 86.8h.1M132.7 85.4h.1M129.0 80.6h.1M133.8 84.3h.1M133.4 89.2h.1M132.1 85.1h.1M124.8 91.8h.1M125.6 87.4h.1M133.8 77.6h.1M133.1 85.5h.1M132.1 79.6h.1M129.7 90.9h.1M131.8 93.1h.1M128.7 86.2h.1M129.5 88.4h.1M127.7 79.6h.1M131.3 75.8h.1M129.1 83.7h.1M133.6 85.2h.1M132.9 79.2h.1M127.8 86.8h.1M136.5 87.8h.1M126.8 89.4h.1M132.0 93.6h.1M134.1 90.2h.1M134.7 84.6h.1M133.8 89.2h.1M134.5 81.4h.1M135.2 92.6h.1M128.3 85.3h.1M130.2 83.4h.1M134.9 90.3h.1M128.3 90.8h.1M134.5 94.8h.1M132.3 91.0h.1M125.7 87.4h.1M127.2 89.7h.1M129.0 82.1h.1M130.8 89.7h.1M133.8 79.1h.1M129.9 88.4h.1M133.5 89.0h.1M125.3 79.0h.1M129.4 81.0h.1M132.0 91.3h.1M129.3 83.9h.1M127.2 87.9h.1M131.9 83.3h.1M130.2 91.3h.1M128.1 94.9h.1M127.7 90.1h.1M137.0 89.7h.1M130.4 87.1h.1M132.5 85.3h.1M134.5 89.3h.1M134.1 87.2h.1M127.5 85.7h.1M133.7 79.9h.1M133.3 85.0h.1M132.1 89.3h.1M133.8 84.2h.1M128.6 88.1h.1M130.3 85.8h.1M128.8 81.6h.1M133.0 82.2h.1M128.3 83.0h.1M131.8 85.1h.1M126.9 85.2h.1M130.1 91.7h.1M129.3 81.3h.1M130.1 76.8h.1M130.9 89.7h.1M129.9 84.3h.1M129.8 85.9h.1M134.1 93.4h.1M128.4 89.2h.1M129.7 90.9h.1M127.8 87.0h.1M133.8 91.0h.1M127.5 83.6h.1M132.2 83.1h.1M134.4 84.3h.1M135.9 93.9h.1M134.4 93.8h.1M132.5 83.6h.1M126.5 92.0h.1M134.8 85.7h.1M134.4 91.6h.1M133.3 85.0h.1M133.2 91.0h.1M130.8 86.0h.1M128.8 85.1h.1M134.1 86.4h.1M134.7 87.2h.1M127.1 83.8h.1M133.5 80.0h.1M131.3 94.5h.1M133.4 84.6h.1M131.4 77.9h.1M134.2 75.8h.1M133.9 73.3h.1M133.5 83.6h.1M126.0 92.9h.1M133.2 78.8h.1M130.7 85.0h.1M126.8 77.8h.1M132.9 91.7h.1M126.1 88.2h.1M133.5 88.0h.1M136.1 92.9h.1M128.9 94.3h.1M133.6 91.4h.1M132.0 83.8h.1M132.7 80.3h.1M126.1 81.6h.1M132.6 78.2h.1M131.0 95.1h.1M133.0 85.6h.1M130.6 87.1h.1M134.2 87.5h.1M132.8 83.9h.1M135.1 92.1h.1M131.2 88.0h.1M133.8 85.8h.1M131.3 77.5h.1M132.3 90.9h.1M128.9 83.0h.1M133.1 84.4h.1M134.6 87.6h.1M130.3 87.0h.1M133.2 91.9h.1M132.0 83.4h.1M127.0 87.3h.1M131.7 87.9h.1M134.9 86.7h.1M129.0 89.8h.1M124.8 85.3h.1M131.3 92.3h.1M128.5 83.2h.1M136.8 79.7h.1M130.5 86.4h.1M130.6 92.1h.1M128.6 84.1h.1M131.4 83.6h.1M128.8 84.9h.1M127.7 87.3h.1M130.4 85.7h.1M128.0 88.0h.1M134.9 78.4h.1M126.8 93.6h.1M130.4 89.3h.1M128.4 82.5h.1M126.1 93.0h.1M136.0 88.7h.1M135.3 81.0h.1M126.0 94.4h.1M130.9 86.8h.1M137.9 76.8h.1M126.2 85.1h.1M134.9 81.7h.1M131.2 85.5h.1M128.8 77.3h.1M130.5 89.3h.1M127.5 85.5h.1M131.0 85.3h.1M135.5 93.2h.1M129.4 86.7h.1M131.1 83.4h.1M134.5 82.0h.1M137.0 86.3h.1M128.7 91.6h.1M131.6 83.8h.1M128.8 81.6h.1M128.5 90.9h.1M129.3 86.8h.1M128.6 86.4h.1M124.2 80.8h.1M128.3 87.5h.1M131.0 78.1h.1M134.5 85.1h.1M128.9 89.3h.1M130.1 91.9h.1M132.8 80.5h.1M133.0 90.5h.1M130.2 90.3h.1M130.4 86.0h.1M129.5 86.5h.1M129.0 82.4h.1M125.4 88.6h.1M132.0 77.7h.1M129.8 93.9h.1M136.8 91.2h.1M129.5 84.7h.1M133.2 89.5h.1M133.6 89.1h.1M135.9 95.7h.1M126.4 83.6h.1M135.7 80.4h.1M130.7 76.9h.1M130.3 85.1h.1M129.6 79.1h.1M129.3 85.7h.1M129.5 88.5h.1M132.3 82.1h.1M130.8 92.2h.1M127.5 85.6h.1M130.4 87.6h.1M138.0 91.0h.1M131.8 80.4h.1M129.4 82.2h.1M128.0 85.8h.1M130.1 81.6h.1M128.8 85.3h.1M129.9 83.8h.1M133.0 80.7h.1M132.5 84.6h.1M128.3 86.4h.1M130.2 86.5h.1M130.9 89.1h.1M129.3 78.3h.1M130.5 79.5h.1M128.3 90.3h.1M128.2 84.4h.1M130.8 92.3h.1M127.3 88.0h.1M132.0 79.9h.1M130.0 89.1h.1M127.6 81.7h.1M128.6 87.8h.1M129.1 92.4h.1M131.0 86.2h.1M129.9 89.8h.1M127.8 88.0h.1M135.2 90.3h.1M133.5 74.5h.1M131.0 84.7h.1M133.7 87.9h.1M131.7 88.8h.1M129.8 83.0h.1M130.9 90.4h.1M139.2 91.8h.1M133.8 86.9h.1M133.9 85.5h.1M129.3 84.9h.1M132.5 87.2h.1M137.8 92.1h.1M132.0 93.6h.1M134.0 84.3h.1M134.6 82.1h.1M132.7 82.8h.1M135.6 91.2h.1M131.3 87.6h.1M132.2 88.0h.1M128.6 88.8h.1M139.0 88.3h.1M131.6 86.0h.1M131.0 81.6h.1M135.0 83.6h.1M129.0 87.1h.1M130.6 88.4h.1M128.1 84.8h.1M130.7 84.6h.1M129.4 93.0h.1M132.3 84.3h.1M130.2 87.6h.1M128.7 85.0h.1M129.7 82.5h.1M130.2 79.4h.1M129.0 84.0h.1M133.6 82.7h.1M132.7 90.5h.1M131.1 81.1h.1M126.8 84.6h.1M132.2 89.6h.1M126.5 86.0h.1M131.2 88.9h.1M130.7 90.5h.1M128.7 78.7h.1M127.9 84.6h.1M128.4 82.0h.1M137.1 92.9h.1M129.7 86.0h.1M129.9 88.9h.1M133.6 94.5h.1M131.9 84.9h.1M134.0 86.9h.1M126.7 88.5h.1M127.1 85.3h.1M141.2 92.4h.1M130.5 90.4h.1M129.7 91.2h.1M131.1 86.8h.1M133.7 84.9h.1M126.8 84.9h.1M131.5 84.8h.1M130.5 78.8h.1M132.7 88.2h.1M131.1 90.4h.1M128.9 86.5h.1M127.8 84.2h.1M133.7 87.6h.1M125.9 88.1h.1M129.3 95.0h.1M135.9 82.5h.1M129.3 88.2h.1M132.5 89.8h.1M129.9 86.9h.1M132.8 85.4h.1M130.7 81.7h.1M129.0 83.8h.1M134.9 89.8h.1M129.7 93.3h.1M126.3 83.5h.1M129.5 88.7h.1M132.3 89.0h.1M127.0 91.2h.1M133.1 87.7h.1M133.0 88.6h.1M137.3 90.7h.1M128.5 81.1h.1M132.7 86.7h.1M125.3 78.3h.1M129.3 77.3h.1M130.9 82.7h.1M131.9 79.3h.1M130.4 88.9h.1M130.3 91.2h.1M128.6 85.1h.1M129.2 85.9h.1M131.6 85.4h.1M132.4 85.3h.1M132.6 87.2h.1M133.7 88.2h.1M134.4 84.4h.1M124.9 82.9h.1M128.9 84.1h.1M130.1 90.2h.1M128.5 84.6h.1M133.9 93.3h.1M133.0 85.4h.1M130.2 92.9h.1M131.0 81.0h.1M134.6 83.3h.1M129.5 88.7h.1M129.6 88.8h.1M133.5 85.8h.1M132.1 96.0h.1M135.1 86.8h.1M131.8 87.9h.1M133.0 83.9h.1M128.9 94.2h.1M127.6 90.5h.1M130.6 88.4h.1M131.9 88.2h.1M133.7 84.3h.1M130.8 88.3h.1M129.9 90.7h.1M134.0 83.0h.1M130.5 87.5h.1M133.7 90.6h.1M137.5 87.3h.1M132.9 85.0h.1M133.6 81.6h.1M132.1 83.4h.1M131.4 80.6h.1M131.5 91.1h.1M130.8 87.0h.1M134.0 80.9h.1M125.5 86.5h.1M129.7 80.5h.1M132.7 71.3h.1M127.9 92.1h.1M130.3 91.9h.1M128.4 79.7h.1M132.0 83.2h.1M133.3 87.4h.1M135.2 84.7h.1M132.2 82.5h.1M128.3 84.1h.1M131.4 85.4h.1M132.4 83.9h.1M135.0 87.5h.1M123.8 85.4h.1M131.8 83.0h.1M124.8 86.6h.1M132.8 78.8h.1M132.0 93.2h.1M132.2 78.5h.1M133.4 86.1h.1M131.8 88.1h.1M128.5 88.4h.1M131.7 87.7h.1M134.4 92.3h.1M130.2 81.3h.1M130.7 86.2h.1M126.8 87.2h.1M134.2 84.2h.1M129.0 83.7h.1M128.2 92.4h.1M129.2 83.2h.1M127.9 84.3h.1M129.8 85.2h.1M134.6 85.5h.1M133.1 87.2h.1M135.1 85.5h.1M135.3 88.2h.1M127.8 87.1h.1M132.1 88.7h.1M135.3 92.8h.1M137.8 82.6h.1M126.1 94.1h.1M126.1 84.4h.1M132.1 89.5h.1M129.5 87.2h.1M127.5 85.1h.1M131.8 77.4h.1M128.1 93.9h.1M130.5 82.8h.1M131.0 91.3h.1M132.6 86.8h.1M133.5 95.2h.1M131.2 94.2h.1M129.8 89.7h.1M128.5 87.6h.1M125.4 90.0h.1M129.2 80.4h.1M133.7 87.2h.1M132.6 87.1h.1M137.0 84.3h.1M130.1 87.6h.1M125.0 79.8h.1M133.2 90.6h.1M133.8 92.4h.1M126.9 80.5h.1M125.5 87.1h.1M131.1 93.5h.1M132.8 88.4h.1M127.0 81.7h.1M129.5 81.9h.1M128.1 90.4h.1M126.8 94.8h.1M126.4 81.5h.1M131.0 86.6h.1M129.4 82.9h.1M128.5 85.1h.1M136.1 86.3h.1M127.6 83.3h.1M127.0 85.7h.1M131.8 85.6h.1M125.8 91.5h.1M130.9 86.5h.1M130.0 85.5h.1M133.4 90.8h.1M127.1 81.7h.1M128.5 89.9h.1M129.8 91.1h.1M137.1 89.5h.1M125.9 85.6h.1M131.5 86.4h.1M128.5 78.6h.1M131.5 85.8h.1M132.6 87.8h.1M131.0 90.4h.1M131.4 87.1h.1M131.4 84.7h.1M128.7 82.6h.1M129.9 86.2h.1M125.3 87.1h.1M129.4 92.0h.1M128.1 86.5h.1M129.7 84.2h.1M132.9 85.9h.1M131.7 84.2h.1M132.0 85.4h.1M134.0 76.4h.1M131.9 81.0h.1M130.5 88.6h.1M130.2 86.1h.1M126.4 87.1h.1M132.3 91.7h.1M134.1 81.7h.1M133.8 91.6h.1M130.3 88.2h.1M132.5 83.2h.1M133.4 93.2h.1M136.3 79.9h.1M134.4 81.3h.1M131.0 85.5h.1M130.8 88.3h.1M131.0 85.6h.1M131.2 76.7h.1M129.0 85.1h.1M132.9 86.0h.1M128.0 92.7h.1M131.6 87.0h.1M128.7 81.5h.1M129.7 88.0h.1M124.0 81.1h.1M133.0 87.4h.1M130.5 88.1h.1M130.1 84.6h.1M132.0 87.6h.1M131.2 84.9h.1M128.3 83.8h.1M136.8 93.4h.1M129.1 89.1h.1M133.6 85.0h.1M136.3 82.9h.1M128.6 87.2h.1M130.8 89.0h.1M127.9 90.3h.1M133.8 93.1h.1M129.5 88.5h.1M127.0 81.3h.1M134.7 95.6h.1M133.4 91.7h.1M127.7 90.2h.1M134.2 92.5h.1M131.1 79.7h.1M139.1 84.7h.1M135.9 84.1h.1M128.8 91.8h.1M129.7 81.1h.1M127.7 85.0h.1M130.9 93.3h.1M130.7 89.4h.1M132.8 84.7h.1M130.8 95.0h.1M125.9 80.4h.1M127.9 88.5h.1M135.0 85.4h.1M134.1 88.7h.1M130.0 85.2h.1M130.1 82.6h.1M130.0 87.4h.1M130.6 80.4h.1M125.2 88.8h.1M133.3 85.0h.1M128.4 90.6h.1M131.0 84.4h.1M131.2 88.2h.1M134.7 92.0h.1M135.3 86.9h.1M132.0 89.2h.1M128.2 80.0h.1M125.5 82.4h.1M134.2 89.3h.1M131.3 82.7h.1M132.4 83.5h.1M129.6 94.2h.1M128.0 82.1h.1M133.2 82.5h.1M127.5 75.9h.1M133.3 81.4h.1M125.2 80.8h.1M127.6 94.2h.1M125.9 91.9h.1M134.6 80.7h.1M125.0 95.3h.1M126.9 89.9h.1M132.6 85.6h.1M131.2 90.1h.1M137.4 88.1h.1M136.3 82.9h.1M132.4 78.4h.1M132.7 82.3h.1M124.7 86.4h.1M127.7 84.8h.1M129.5 83.0h.1M129.9 90.8h.1M126.2 81.6h.1M127.6 90.4h.1M127.8 84.2h.1M133.9 86.9h.1M131.8 81.3h.1M129.5 86.4h.1M129.6 82.8h.1M131.4 78.5h.1M128.3 86.3h.1M129.7 86.2h.1M125.1 90.1h.1M132.6 87.7h.1M133.5 81.8h.1M131.6 83.6h.1M132.0 75.1h.1M131.7 81.3h.1M136.9 92.3h.1M131.1 93.3h.1M126.3 89.8h.1M127.2 87.8h.1M132.7 89.0h.1M133.9 88.6h.1M132.9 78.5h.1M133.1 82.4h.1M131.1 91.8h.1M125.8 91.7h.1M128.3 87.5h.1M124.8 85.0h.1M129.3 84.6h.1M126.2 83.9h.1M130.8 82.2h.1M130.0 77.6h.1M124.3 87.1h.1M132.8 84.3h.1M132.9 85.4h.1M126.1 94.2h.1M130.9 89.1h.1M132.8 83.2h.1M129.6 89.0h.1M133.2 79.5h.1M131.1 91.2h.1M133.9 87.6h.1M131.1 85.5h.1M130.0 89.0h.1M132.1 93.0h.1M133.0 84.3h.1M131.3 81.9h.1M129.1 96.0h.1M128.0 86.4h.1M129.3 93.2h.1M128.7 83.3h.1M131.1 88.1h.1M131.0 83.5h.1M130.2 89.3h.1M130.5 85.1h.1M131.0 83.3h.1M135.4 93.4h.1M134.3 87.9h.1M128.6 77.1h.1M131.8 85.3h.1M129.4 82.2h.1M130.1 80.8h.1M129.7 83.7h.1M128.5 84.2h.1M126.1 86.5h.1M131.1 77.9h.1M134.2 83.9h.1M127.6 90.4h.1M132.1 80.1h.1M129.2 89.2h.1M131.3 88.5h.1M127.9 84.3h.1M129.7 87.8h.1M130.1 82.9h.1M131.1 81.7h.1M130.0 88.5h.1M132.5 83.3h.1M130.3 91.8h.1M131.1 76.6h.1M131.6 82.3h.1M129.1 81.7h.1M127.0 94.2h.1M129.0 83.7h.1M129.1 89.9h.1M137.5 77.0h.1M136.3 86.9h.1M128.9 88.9h.1M129.1 86.2h.1M131.5 73.9h.1M132.2 87.2h.1M128.2 90.1h.1M127.2 92.4h.1M136.6 88.2h.1M133.8 78.6h.1M125.5 85.4h.1M124.8 90.5h.1M127.8 82.6h.1M131.1 88.9h.1M132.2 84.2h.1M129.3 86.8h.1M125.2 89.8h.1M131.1 83.1h.1M130.4 87.0h.1M128.8 87.9h.1M132.2 83.0h.1M130.2 86.6h.1M126.8 85.1h.1M130.7 79.7h.1M126.3 79.3h.1M133.5 87.7h.1M131.9 85.9h.1M127.2 74.3h.1M131.1 76.5h.1M134.4 84.9h.1M130.0 89.1h.1M135.7 80.7h.1M125.4 89.1h.1M129.9 84.9h.1M125.8 84.0h.1M130.2 85.7h.1M125.2 88.9h.1M128.7 90.4h.1M130.8 83.2h.1M131.6 85.0h.1M131.8 81.0h.1M134.1 83.8h.1M132.6 84.5h.1M132.8 84.2h.1M127.2 89.6h.1M129.9 88.3h.1M140.7 89.8h.1M137.7 86.9h.1M133.1 91.3h.1M132.8 86.9h.1M133.6 90.8h.1M129.1 88.7h.1M136.7 89.7h.1M129.2 86.0h.1M130.1 80.7h.1M137.4 79.7h.1M131.6 88.1h.1M124.8 88.4h.1M128.3 85.6h.1M130.1 84.2h.1M131.0 81.2h.1M127.9 86.1h.1M130.1 86.1h.1M126.6 81.1h.1M129.1 80.5h.1M125.9 83.1h.1M132.5 84.8h.1M126.2 84.1h.1M132.7 90.1h.1M129.1 80.9h.1M129.4 88.2h.1M134.2 93.1h.1M130.8 90.5h.1M124.2 81.1h.1M132.0 72.8h.1M131.3 88.6h.1M129.1 83.7h.1M125.8 92.2h.1M130.7 84.5h.1M129.4 86.8h.1M136.9 81.6h.1M129.0 87.8h.1M136.7 84.4h.1M134.9 84.0h.1M128.4 91.3h.1M127.7 87.3h.1M134.7 79.5h.1M130.0 89.5h.1M130.9 90.2h.1M129.6 82.5h.1M126.4 84.5h.1M129.2 86.6h.1M127.3 85.2h.1M125.4 86.9h.1M129.4 89.3h.1M136.2 84.1h.1M135.7 95.9h.1M130.2 83.1h.1M130.8 83.9h.1M132.1 95.4h.1M131.4 86.5h.1M128.8 85.5h.1M129.1 81.4h.1M134.1 91.6h.1M138.9 87.1h.1M128.3 82.5h.1M133.1 92.7h.1M130.2 89.5h.1M134.5 91.7h.1M130.6 88.4h.1M126.0 86.2h.1M124.0 88.9h.1M130.2 91.9h.1M126.6 90.3h.1M131.4 91.2h.1M126.2 87.4h.1M129.2 89.9h.1M125.6 91.9h.1M129.2 85.6h.1M128.9 80.4h.1M132.4 94.3h.1M134.8 89.0h.1M129.8 84.3h.1M127.6 87.4h.1M136.8 85.2h.1M131.6 78.5h.1M132.4 85.5h.1M132.4 79.8h.1M135.2 87.3h.1M133.7 85.8h.1M132.6 91.6h.1M132.9 85.8h.1M127.6 88.1h.1M128.4 85.0h.1M130.1 84.6h.1M130.7 79.9h.1M130.5 90.9h.1M131.4 87.1h.1M130.5 83.7h.1M129.0 87.3h.1M125.1 84.4h.1M133.2 83.0h.1M132.3 87.5h.1M127.5 91.9h.1M132.1 85.1h.1M131.7 79.8h.1M130.7 83.5h.1M124.4 94.6h.1M126.4 82.6h.1M128.4 91.8h.1M135.7 85.3h.1M127.6 89.8h.1M129.3 85.9h.1M126.8 79.1h.1M128.8 84.5h.1M132.6 84.8h.1M130.5 85.7h.1M128.4 87.8h.1M133.6 88.5h.1M129.9 85.5h.1M134.1 83.3h.1M128.2 80.3h.1M129.4 79.0h.1M133.6 89.4h.1M129.5 77.8h.1M126.5 92.8h.1M128.2 90.3h.1M126.0 85.0h.1M132.2 81.0h.1M124.7 86.5h.1M133.7 86.5h.1M125.0 91.5h.1M130.6 82.9h.1M125.6 84.6h.1M129.4 86.1h.1M133.8 85.1h.1M134.1 83.5h.1M134.7 78.5h.1M130.1 78.8h.1M130.8 83.3h.1M131.2 85.3h.1M132.4 91.0h.1M134.0 94.2h.1M131.5 88.2h.1M134.2 95.0h.1M132.0 85.8h.1M132.6 83.9h.1M129.0 81.5h.1M126.2 84.5h.1M129.4 85.2h.1M129.8 93.1h.1M133.2 83.6h.1M126.3 90.0h.1M141.1 84.5h.1M130.0 80.7h.1M134.6 87.5h.1M133.8 87.1h.1M129.5 82.4h.1M135.3 82.7h.1M132.9 88.5h.1M127.4 87.5h.1M128.9 88.6h.1M131.2 84.2h.1M124.3 88.6h.1M131.1 83.6h.1M128.3 80.2h.1M127.9 83.1h.1M132.7 87.3h.1M142.0 86.8h.1M131.5 91.2h.1M132.2 78.6h.1M130.2 85.4h.1M128.0 88.2h.1M131.3 82.0h.1M135.4 87.5h.1M131.0 84.5h.1M133.3 81.2h.1M129.7 91.5h.1M138.7 80.0h.1M125.0 91.0h.1M132.3 84.5h.1M132.2 82.1h.1M131.3 82.3h.1M126.7 83.0h.1M126.6 82.5h.1M129.6 87.6h.1M130.7 77.8h.1M126.4 92.1h.1M126.9 90.2h.1M132.2 92.8h.1M133.8 81.9h.1M128.5 75.7h.1M128.1 83.5h.1M128.0 85.6h.1M138.6 87.8h.1M132.0 84.0h.1M130.2 86.0h.1M133.7 87.1h.1M138.0 79.3h.1M134.2 94.7h.1M125.7 81.2h.1M130.1 87.6h.1M129.0 91.4h.1M129.2 82.8h.1M126.4 86.4h.1M129.1 93.9h.1M126.8 85.1h.1M131.5 91.2h.1M130.5 87.7h.1M125.7 87.4h.1M124.7 89.7h.1M128.8 85.3h.1M132.5 85.4h.1M132.0 90.8h.1M130.2 87.6h.1M128.7 80.9h.1M127.9 86.5h.1M129.3 92.0h.1M126.3 90.5h.1M128.9 88.0h.1M128.2 84.0h.1M139.3 83.6h.1M132.7 88.4h.1M129.7 92.9h.1M130.2 86.6h.1M130.0 92.4h.1M131.0 85.0h.1M129.0 91.9h.1M130.3 81.8h.1M133.8 87.3h.1M133.1 81.5h.1M131.4 89.5h.1M134.8 89.1h.1M131.1 82.1h.1M127.1 83.0h.1M124.6 84.4h.1M128.1 79.6h.1M130.2 82.2h.1M131.7 82.4h.1M133.9 90.0h.1M128.5 92.8h.1M127.7 84.4h.1M132.9 85.1h.1M134.3 87.4h.1M128.8 84.0h.1M131.5 85.1h.1M134.9 90.3h.1M131.4 87.5h.1M130.2 86.0h.1M134.8 93.2h.1M132.5 83.6h.1M130.8 87.0h.1M128.8 81.7h.1M126.2 83.7h.1M130.0 86.9h.1M130.0 84.6h.1M134.0 88.9h.1M126.4 86.7h.1M135.1 80.1h.1M130.5 75.8h.1M134.3 91.0h.1M127.2 83.7h.1M131.5 93.2h.1M134.4 86.5h.1M130.7 82.9h.1M125.5 89.0h.1M129.3 85.2h.1M132.1 86.5h.1M125.7 82.1h.1M125.6 89.3h.1M131.1 91.4h.1M127.2 84.0h.1M132.6 94.6h.1M126.5 83.8h.1M124.3 87.6h.1M127.8 78.9h.1M135.3 77.6h.1M130.4 93.0h.1M131.2 91.7h.1M127.2 78.6h.1M134.0 87.5h.1M131.0 88.3h.1M131.8 86.8h.1M124.8 87.8h.1M124.6 82.2h.1M129.7 81.2h.1M129.6 84.8h.1M132.8 88.1h.1M135.3 82.8h.1M129.5 85.1h.1M129.5 84.4h.1M131.9 86.5h.1M135.4 90.6h.1M127.7 87.5h.1M132.4 88.2h.1M129.6 79.8h.1M129.3 84.7h.1M133.1 90.2h.1M127.8 82.4h.1M126.8 84.4h.1M132.6 81.9h.1M130.3 92.5h.1M129.5 84.3h.1M129.9 83.0h.1M132.0 89.2h.1M129.2 91.4h.1M132.9 88.7h.1M131.7 90.9h.1M135.3 87.4h.1M134.6 85.8h.1M133.2 84.4h.1M129.7 84.1h.1M130.8 83.7h.1M128.4 88.1h.1M139.8 85.9h.1M129.7 86.8h.1M132.2 89.2h.1M134.9 86.1h.1M125.9 80.1h.1M127.7 82.8h.1M129.1 81.2h.1M127.1 77.6h.1M126.2 86.9h.1M128.7 80.9h.1M134.7 80.5h.1M132.8 81.4h.1M130.5 90.4h.1M130.5 85.0h.1M124.9 91.0h.1M132.7 86.0h.1M131.8 84.4h.1M126.8 89.0h.1M131.1 89.1h.1M129.8 86.9h.1M128.7 81.6h.1M127.1 84.3h.1M128.2 80.9h.1M127.3 85.2h.1M131.9 86.8h.1M131.6 93.2h.1M131.5 92.9h.1M129.8 89.5h.1M129.1 90.8h.1M137.1 87.4h.1M134.3 93.4h.1M130.6 88.1h.1M128.7 88.3h.1M129.7 91.2h.1M126.5 87.2h.1M125.8 87.8h.1M130.0 81.8h.1M124.9 90.7h.1M133.2 87.0h.1M134.1 90.1h.1M125.3 78.2h.1M131.3 88.7h.1M131.1 91.7h.1M130.8 80.5h.1M131.8 81.9h.1M132.9 85.0h.1M133.3 85.2h.1M136.3 78.5h.1M130.5 94.4h.1M133.3 91.0h.1M125.1 83.5h.1M130.0 78.0h.1M126.4 88.0h.1M135.0 95.5h.1M138.1 90.2h.1M132.2 91.7h.1M126.1 82.0h.1M130.0 87.4h.1M130.5 79.5h.1M131.1 95.5h.1M134.0 89.0h.1M133.6 76.7h.1M134.9 88.6h.1M128.8 87.0h.1M128.6 84.9h.1M135.1 89.2h.1M129.5 95.6h.1M125.9 88.0h.1M126.0 78.1h.1M130.6 85.6h.1M133.4 80.3h.1M135.4 82.6h.1M129.9 87.8h.1M128.9 85.6h.1M135.8 81.4h.1M128.9 86.2h.1M135.2 82.6h.1M131.2 88.8h.1M131.2 85.2h.1M129.6 88.1h.1M131.4 85.1h.1M128.9 89.8h.1M128.2 85.7h.1M130.0 86.3h.1M128.3 83.7h.1M131.4 87.0h.1M130.7 78.2h.1M129.8 83.2h.1M129.7 86.8h.1M136.2 84.1h.1M130.4 84.1h.1M128.5 88.2h.1M129.4 84.0h.1M132.6 84.3h.1M129.8 80.0h.1M129.9 82.0h.1M129.6 80.9h.1M131.0 94.6h.1M131.7 80.2h.1M131.9 81.4h.1M125.0 87.2h.1M126.9 92.9h.1M133.1 79.2h.1M134.1 86.9h.1M134.7 87.8h.1M130.9 79.8h.1M134.2 78.0h.1M130.3 81.9h.1M130.0 89.7h.1M125.3 86.1h.1M127.8 89.7h.1M128.5 85.8h.1M133.4 86.1h.1M135.9 89.1h.1M128.9 85.7h.1M131.6 87.4h.1M131.3 82.1h.1M127.9 83.5h.1M124.7 88.4h.1M127.9 85.2h.1M125.7 82.8h.1M129.4 89.3h.1M130.0 88.8h.1M129.8 86.2h.1M129.9 82.8h.1M132.0 90.4h.1M133.3 82.5h.1M124.9 79.2h.1M130.6 82.7h.1M131.7 82.0h.1M127.8 80.4h.1M125.2 80.8h.1M132.5 90.1h.1M128.2 90.2h.1M133.0 93.1h.1M132.9 89.7h.1M130.4 84.0h.1M130.4 91.2h.1M133.7 83.4h.1M131.6 84.6h.1M127.3 80.8h.1M131.0 91.9h.1M132.2 90.9h.1M131.1 84.1h.1M131.0 84.8h.1M129.9 86.4h.1M130.0 87.2h.1M127.3 90.1h.1M125.7 86.5h.1M134.1 88.1h.1M128.3 79.3h.1M131.1 84.8h.1M125.5 78.0h.1M130.9 94.4h.1M127.7 92.6h.1M140.2 89.5h.1M127.1 91.3h.1M127.2 95.4h.1M133.5 90.5h.1M134.1 78.9h.1M131.2 75.4h.1M133.3 82.5h.1M126.4 80.5h.1M132.7 86.2h.1M128.7 88.0h.1M127.1 81.9h.1M129.3 84.9h.1M128.9 87.5h.1M125.8 85.5h.1M137.7 85.4h.1M128.9 75.1h.1M128.0 84.2h.1M133.2 89.8h.1M130.2 87.4h.1M134.8 79.4h.1M129.5 84.9h.1M131.6 87.4h.1M130.7 81.7h.1M131.0 89.3h.1M129.7 82.5h.1M130.1 84.7h.1M135.9 85.7h.1M128.6 84.7h.1M129.3 83.6h.1M132.3 89.5h.1M131.7 84.0h.1M133.5 87.1h.1M126.0 75.8h.1M131.3 87.6h.1M129.8 86.1h.1M129.5 80.2h.1M130.9 92.4h.1M124.0 85.1h.1M131.3 85.3h.1M130.9 80.1h.1M125.7 78.7h.1M130.1 83.6h.1M135.5 79.2h.1M129.1 88.4h.1M132.3 90.2h.1M129.7 83.3h.1M127.7 78.8h.1M127.4 84.4h.1M129.1 81.3h.1M134.7 86.9h.1M133.1 87.0h.1M128.1 84.2h.1M133.7 86.5h.1M130.0 91.0h.1M128.1 94.0h.1M131.8 83.8h.1M127.4 89.5h.1M125.3 85.1h.1M134.6 81.3h.1M124.4 92.1h.1M132.2 88.0h.1M125.4 86.8h.1M130.3 87.8h.1M129.8 85.4h.1M129.0 81.3h.1M130.1 90.3h.1M130.3 87.4h.1M127.5 90.6h.1M130.2 92.1h.1M133.7 85.2h.1M128.1 88.9h.1M131.2 84.7h.1M126.7 89.1h.1M131.7 85.0h.1M138.5 84.5h.1M133.4 88.5h.1M131.8 88.3h.1M135.0 84.6h.1M127.2 90.5h.1M133.9 85.8h.1M128.6 84.3h.1M128.4 86.2h.1M134.0 82.7h.1M131.2 91.7h.1M134.7 89.0h.1M125.7 90.7h.1M131.3 79.9h.1M128.7 87.4h.1M129.5 82.6h.1M124.2 86.6h.1M133.5 92.0h.1M131.1 87.3h.1M127.2 85.4h.1M126.1 91.3h.1M127.6 90.8h.1M135.0 94.7h.1M130.1 77.6h.1M129.3 87.7h.1M132.0 84.2h.1M130.5 82.1h.1M131.2 86.7h.1M132.9 80.8h.1M131.5 75.9h.1M133.3 82.0h.1M126.6 85.0h.1M130.7 94.7h.1M129.3 82.8h.1M130.8 80.8h.1M130.3 77.1h.1M128.4 84.5h.1M129.3 85.1h.1M133.5 86.8h.1M128.7 79.5h.1M126.4 82.7h.1M132.4 75.7h.1M133.6 86.9h.1M129.6 78.9h.1M130.9 73.5h.1M127.8 91.5h.1M129.8 88.5h.1M134.1 87.8h.1M133.1 87.8h.1M131.0 81.4h.1M129.6 91.1h.1M125.2 81.3h.1M131.5 95.0h.1M132.0 87.2h.1M133.9 77.7h.1M137.0 90.2h.1M131.7 95.2h.1M133.6 85.0h.1M126.9 91.1h.1M134.4 85.2h.1M133.3 83.3h.1M134.9 74.3h.1M132.7 91.9h.1M132.0 84.1h.1M135.3 87.9h.1M128.4 81.0h.1M132.6 82.0h.1M134.0 91.3h.1M128.0 84.4h.1M126.8 84.3h.1M131.9 80.4h.1M130.9 87.1h.1M132.5 89.8h.1M132.6 84.1h.1M128.0 85.3h.1M131.6 80.6h.1M134.2 92.6h.1M129.4 83.3h.1M129.6 85.5h.1M126.9 93.9h.1M133.2 85.1h.1M136.8 79.0h.1M126.1 81.9h.1M133.0 84.5h.1M133.4 94.4h.1M128.7 87.2h.1M129.3 85.1h.1M127.2 90.0h.1M128.0 92.2h.1M131.1 82.7h.1M132.6 92.8h.1M130.9 90.2h.1M133.3 88.3h.1M131.2 75.3h.1M126.8 87.1h.1M135.2 92.6h.1M134.4 84.9h.1M136.3 86.5h.1M132.1 81.5h.1M131.0 89.0h.1M136.7 87.6h.1M125.4 85.2h.1M132.9 92.2h.1M129.8 83.6h.1M127.5 86.8h.1M135.4 80.4h.1M132.1 82.5h.1M126.5 87.2h.1M128.5 83.2h.1M133.3 84.1h.1M136.3 85.3h.1M124.1 87.4h.1M131.4 89.8h.1M129.4 89.8h.1M125.0 91.0h.1M130.1 87.2h.1M125.4 83.7h.1M128.9 78.9h.1M135.8 84.6h.1M132.2 82.5h.1M133.1 77.8h.1M132.5 93.9h.1M131.7 77.7h.1M133.7 87.9h.1M126.8 88.8h.1M129.4 85.2h.1M128.3 86.3h.1M129.2 82.7h.1M134.5 94.4h.1M135.5 82.5h.1M128.7 79.6h.1M128.0 81.6h.1M132.5 83.3h.1M131.5 86.5h.1M128.5 87.8h.1M132.5 79.2h.1M132.4 87.9h.1M140.1 82.9h.1M135.0 85.6h.1M133.2 89.5h.1M133.9 91.9h.1M140.2 83.1h.1M134.2 81.8h.1M128.3 81.5h.1M131.7 91.4h.1M130.9 90.4h.1M128.8 76.2h.1M131.5 76.3h.1M131.4 80.5h.1M130.5 79.2h.1M129.1 88.2h.1M133.3 87.3h.1M125.5 95.4h.1M133.3 90.0h.1M130.7 86.8h.1M131.5 91.8h.1M136.1 79.7h.1M125.1 86.4h.1M127.8 90.6h.1M132.7 78.7h.1M128.7 90.4h.1M129.3 90.3h.1M129.2 87.0h.1M131.3 85.0h.1M132.8 86.6h.1M129.7 90.0h.1M131.3 82.5h.1M132.1 91.1h.1M128.5 90.3h.1M128.2 90.5h.1M137.0 77.0h.1M127.9 77.6h.1M134.6 89.5h.1M130.9 83.5h.1M135.4 83.0h.1M128.6 82.7h.1M132.3 80.0h.1M131.7 84.9h.1M129.9 82.9h.1M131.7 83.2h.1M128.2 88.5h.1M130.4 80.7h.1M129.4 91.5h.1M133.1 75.9h.1M126.1 79.9h.1M129.4 89.0h.1M130.3 90.5h.1M127.7 86.2h.1M135.0 89.7h.1M132.0 85.7h.1M133.4 78.0h.1M128.2 87.9h.1M129.4 91.6h.1M133.9 83.7h.1M126.0 78.3h.1M131.8 83.4h.1M130.9 87.8h.1M129.0 87.7h.1M130.9 91.4h.1M127.2 88.9h.1M131.4 88.6h.1M126.7 76.9h.1M135.2 86.5h.1M128.4 90.3h.1M123.8 84.6h.1M133.8 85.5h.1M128.1 86.5h.1M130.5 93.4h.1M133.7 89.1h.1M131.8 95.6h.1M136.2 84.4h.1M130.2 88.7h.1M132.6 84.1h.1M127.4 92.3h.1M131.2 86.4h.1M135.6 90.9h.1M132.3 94.4h.1M131.2 76.5h.1M129.4 87.8h.1M126.5 84.8h.1M133.2 77.3h.1M128.3 84.9h.1M131.8 75.5h.1M127.4 86.7h.1M136.8 85.5h.1M126.8 94.8h.1M131.1 84.7h.1M139.2 91.3h.1M131.4 91.8h.1M127.8 96.0h.1M132.7 85.1h.1M133.9 89.9h.1M133.5 79.1h.1M124.3 81.1h.1M131.4 85.0h.1M136.8 80.6h.1M130.9 84.4h.1M129.2 89.6h.1M132.8 84.2h.1M132.2 85.6h.1M126.8 82.1h.1M135.9 92.8h.1M129.9 94.7h.1M124.9 87.3h.1M135.2 85.8h.1M135.7 94.2h.1M134.7 88.6h.1M132.4 83.2h.1M127.8 80.0h.1M133.7 83.5h.1M133.3 83.5h.1M128.1 86.3h.1M134.0 85.3h.1M133.7 92.6h.1M125.8 85.2h.1M125.4 88.1h.1M128.3 81.4h.1M130.9 80.5h.1M132.1 82.8h.1M129.9 87.4h.1M130.5 83.2h.1M130.3 77.1h.1M131.0 88.6h.1M132.6 85.6h.1M132.3 85.0h.1M130.5 83.4h.1M131.5 75.7h.1M129.2 93.8h.1M133.3 84.1h.1M129.0 88.8h.1M136.0 92.9h.1M130.6 91.7h.1M131.6 87.3h.1M128.2 86.4h.1M129.5 87.8h.1M131.2 90.6h.1M130.7 89.1h.1M128.6 84.2h.1M126.9 88.5h.1M130.8 88.1h.1M131.2 89.6h.1M132.5 87.3h.1M134.8 92.8h.1M129.7 87.3h.1M124.1 90.5h.1M130.2 86.5h.1M124.6 83.6h.1M126.5 81.9h.1M134.1 85.6h.1M132.5 88.9h.1M128.6 92.3h.1M128.6 85.9h.1M130.4 83.9h.1M124.9 83.9h.1M132.3 92.4h.1M129.5 86.8h.1M136.7 84.0h.1M127.2 89.8h.1M134.0 80.1h.1M128.4 86.9h.1M134.0 86.1h.1M127.5 85.7h.1M133.1 80.9h.1M129.2 91.0h.1M128.0 94.3h.1M130.2 80.1h.1M132.2 86.9h.1M132.0 89.4h.1M133.4 84.4h.1M129.4 86.3h.1M124.1 95.8h.1M129.4 86.7h.1M132.7 87.6h.1M126.3 94.7h.1M126.8 76.3h.1M131.2 76.1h.1M129.7 90.6h.1M135.9 90.0h.1M131.7 79.8h.1M132.4 88.8h.1M136.4 86.5h.1M129.0 87.4h.1M130.7 82.6h.1M127.4 84.2h.1M131.5 82.2h.1M134.1 86.6h.1M135.2 85.3h.1M130.6 94.3h.1M128.4 89.3h.1M128.2 78.9h.1M126.1 88.3h.1M131.1 93.1h.1M135.2 87.7h.1M135.3 89.7h.1M125.4 81.9h.1M131.8 90.1h.1M126.6 79.8h.1M133.3 92.4h.1M133.3 79.2h.1M131.3 76.4h.1M133.4 88.9h.1M130.9 85.5h.1M132.6 86.9h.1M136.7 88.4h.1M134.3 86.2h.1M128.5 82.2h.1M128.1 87.3h.1M129.9 88.0h.1M130.0 88.7h.1M130.9 95.7h.1M128.7 82.9h.1M132.9 86.7h.1M130.8 89.0h.1M131.9 84.2h.1M130.7 80.7h.1M132.7 83.7h.1M126.8 91.4h.1M135.9 85.1h.1M131.9 89.2h.1M132.2 82.9h.1M132.7 88.5h.1M134.3 83.2h.1M133.2 82.4h.1M131.5 86.9h.1M130.1 86.6h.1M125.3 93.3h.1M131.4 78.7h.1M129.7 88.8h.1M129.7 94.0h.1M138.7 92.8h.1M124.6 84.5h.1M130.9 83.1h.1M134.7 84.0h.1M133.9 87.8h.1M134.8 87.2h.1M126.6 88.0h.1M127.6 89.2h.1M132.8 81.3h.1M129.8 81.0h.1M136.4 80.6h.1M131.5 80.0h.1M131.4 85.9h.1M132.2 87.8h.1M131.2 88.9h.1M128.5 86.4h.1M130.6 93.0h.1M129.2 82.9h.1M131.6 88.0h.1M126.1 90.9h.1M125.8 90.1h.1M132.3 88.3h.1M131.5 84.7h.1M127.6 80.5h.1M130.0 85.6h.1M127.3 83.5h.1M137.5 89.6h.1M125.6 85.7h.1M136.4 89.0h.1M128.1 78.8h.1M132.2 90.9h.1M129.9 82.3h.1M129.5 79.0h.1M133.9 79.9h.1M133.5 83.4h.1M129.8 91.6h.1M127.8 89.7h.1M137.6 80.8h.1M135.4 86.8h.1M131.3 85.9h.1M129.8 79.0h.1M131.8 81.7h.1M131.1 76.7h.1M134.7 82.2h.1M127.6 73.9h.1M130.9 82.6h.1M128.2 81.9h.1M135.1 82.6h.1M136.7 82.5h.1M130.5 91.8h.1M132.6 84.7h.1M135.4 87.5h.1M129.8 89.9h.1M127.7 90.6h.1M134.2 89.6h.1M132.5 83.7h.1M130.1 81.2h.1M135.6 82.7h.1M131.6 84.1h.1M124.9 86.4h.1M131.9 85.9h.1M130.6 91.5h.1M137.0 85.9h.1M130.7 94.8h.1M130.1 91.2h.1M132.2 84.1h.1M131.6 90.4h.1M126.2 72.8h.1M131.2 92.8h.1M129.7 88.3h.1M135.4 88.2h.1M138.7 78.4h.1M127.6 85.2h.1M128.0 85.7h.1M128.6 91.6h.1M128.5 85.4h.1M131.0 82.3h.1M134.4 89.4h.1M126.5 81.6h.1M125.7 89.8h.1M124.7 87.0h.1M134.5 91.7h.1M135.2 80.7h.1M125.7 92.2h.1M125.4 87.7h.1M131.2 95.6h.1M134.4 83.3h.1M134.2 95.1h.1M131.4 89.7h.1M133.1 90.1h.1M131.9 82.9h.1M129.0 89.0h.1M137.1 89.5h.1M130.8 82.4h.1M127.1 80.9h.1M129.3 82.7h.1M125.7 93.2h.1M130.9 87.1h.1M134.4 90.8h.1M126.6 87.7h.1M134.5 86.9h.1M137.7 87.4h.1M132.1 84.4h.1M127.0 92.1h.1M128.0 87.2h.1M129.7 87.4h.1M126.6 79.8h.1M126.7 87.8h.1M130.0 83.2h.1M130.2 84.0h.1M132.8 91.2h.1M126.9 81.2h.1M137.0 85.4h.1M134.3 89.3h.1M133.8 91.8h.1M128.7 83.9h.1M136.6 87.9h.1M129.7 87.7h.1M136.8 81.0h.1M134.4 76.3h.1M127.9 77.3h.1M129.3 89.2h.1M137.0 86.8h.1M134.1 80.0h.1M130.3 83.3h.1M131.5 84.5h.1M131.5 84.7h.1M128.3 86.2h.1M128.6 82.7h.1M129.4 87.0h.1M132.4 82.7h.1M127.7 83.4h.1M133.2 82.2h.1M131.2 85.3h.1M133.3 83.7h.1M133.8 88.0h.1M134.9 87.3h.1M132.9 82.1h.1M133.2 95.4h.1M130.2 80.8h.1M132.7 88.0h.1M130.0 83.0h.1M133.3 92.6h.1M130.6 93.0h.1M132.3 87.9h.1M127.3 77.7h.1M135.3 93.0h.1M128.9 86.8h.1M132.1 83.8h.1M130.7 92.3h.1M133.9 82.9h.1M129.5 91.4h.1M127.5 83.8h.1M124.5 88.9h.1M129.8 81.3h.1M126.9 84.5h.1M132.6 82.0h.1M135.6 83.0h.1M126.5 85.5h.1M131.8 87.2h.1M134.9 92.4h.1M131.8 85.8h.1M131.9 77.6h.1M132.5 85.0h.1M132.7 86.7h.1M136.3 91.1h.1M132.8 91.2h.1M126.7 90.8h.1M129.2 85.3h.1M131.5 89.4h.1M128.1 79.6h.1M129.9 92.4h.1M129.1 88.4h.1M128.5 88.7h.1M133.1 84.6h.1M129.5 86.6h.1M127.2 83.2h.1M128.4 89.0h.1M130.9 80.1h.1M137.8 90.9h.1M131.7 88.9h.1M135.7 95.9h.1M132.5 86.2h.1M132.1 87.3h.1M128.0 86.5h.1M126.3 85.8h.1M127.2 81.2h.1M136.7 81.2h.1M125.6 83.7h.1M128.8 85.0h.1M134.7 80.8h.1M133.0 80.9h.1M125.1 85.0h.1M130.4 89.8h.1M129.1 85.5h.1M130.2 89.5h.1M133.3 90.9h.1M128.9 90.0h.1M129.7 84.4h.1M135.7 84.4h.1M124.7 77.6h.1M129.6 83.1h.1M132.4 88.5h.1M126.7 81.2h.1M128.7 92.7h.1M126.4 93.1h.1M131.3 84.6h.1M128.7 90.7h.1M133.4 79.7h.1M134.2 81.4h.1M131.0 84.6h.1M129.5 86.4h.1M131.7 85.5h.1M131.0 82.3h.1M126.8 95.6h.1M134.4 87.7h.1M131.6 87.7h.1M133.4 89.5h.1M126.3 87.2h.1M133.7 85.3h.1M137.8 83.7h.1M132.8 78.7h.1M126.0 93.4h.1M130.9 82.0h.1M130.6 78.5h.1M131.5 82.6h.1M130.0 78.8h.1M132.4 95.7h.1M129.2 88.1h.1M131.6 93.0h.1M128.5 93.2h.1M131.1 89.0h.1M134.1 89.0h.1M129.2 83.0h.1M133.0 86.0h.1M127.8 83.5h.1M129.6 86.6h.1M130.0 83.1h.1M134.9 92.3h.1M128.2 89.9h.1M134.8 85.9h.1M125.9 78.5h.1M130.3 89.6h.1M133.8 90.5h.1M133.1 86.0h.1M127.4 80.4h.1M126.7 88.4h.1M133.7 91.3h.1M126.6 77.4h.1M132.7 89.0h.1M129.0 77.8h.1M130.7 86.7h.1M138.5 94.5h.1M135.9 86.8h.1M133.6 88.6h.1M126.2 84.8h.1M131.8 86.3h.1M130.4 92.6h.1M135.2 84.9h.1M125.0 84.6h.1M131.8 86.4h.1M128.3 87.3h.1M136.5 91.6h.1M126.5 84.6h.1M130.9 80.4h.1M131.0 92.6h.1M126.0 82.7h.1M127.5 83.1h.1M133.4 83.2h.1M133.9 83.5h.1M132.8 79.1h.1M131.6 92.0h.1M131.5 90.9h.1M129.1 84.7h.1M134.7 88.0h.1M135.3 87.1h.1M138.2 91.9h.1M133.1 90.2h.1M133.5 88.0h.1M127.3 83.3h.1M131.0 80.7h.1M126.6 82.6h.1M133.8 83.4h.1M126.8 83.8h.1M130.0 80.6h.1M128.0 94.1h.1M129.2 87.6h.1M132.3 76.9h.1M128.9 81.2h.1M131.5 80.1h.1M127.4 87.5h.1M135.4 91.3h.1M128.6 81.7h.1M134.1 89.2h.1M137.9 85.1h.1M127.4 92.7h.1M130.1 87.8h.1M134.7 89.7h.1M129.1 86.3h.1M132.0 84.6h.1M128.3 80.9h.1M132.6 87.9h.1M126.7 86.0h.1M133.5 84.6h.1M124.4 85.5h.1M136.8 81.5h.1M131.3 83.9h.1M127.7 91.7h.1M138.1 85.3h.1M134.3 92.9h.1M134.5 81.0h.1M129.3 80.0h.1M132.8 86.9h.1M132.4 90.0h.1M125.2 83.3h.1M132.7 89.3h.1M130.1 90.7h.1M135.1 91.4h.1M135.1 85.8h.1M128.6 86.1h.1M128.7 78.7h.1M131.4 86.5h.1M132.9 87.7h.1M129.4 92.9h.1M130.3 80.4h.1M132.8 82.4h.1M132.2 81.7h.1M134.6 90.5h.1M131.5 74.6h.1M127.7 81.3h.1M124.8 96.0h.1M133.5 89.4h.1M129.6 80.2h.1M129.6 86.1h.1M129.8 90.3h.1M125.4 88.9h.1M129.4 85.3h.1M129.4 90.2h.1M127.7 86.3h.1M136.9 90.1h.1M132.2 88.2h.1M130.0 84.2h.1M131.3 93.1h.1M133.2 84.0h.1M128.2 88.4h.1M129.9 83.4h.1M129.5 85.3h.1M139.1 85.2h.1M131.0 83.3h.1M124.1 87.5h.1M133.4 92.4h.1M139.5 95.0h.1M127.5 93.0h.1M142.5 85.5h.1M130.5 93.1h.1M134.1 88.3h.1M128.8 94.7h.1M129.8 80.5h.1M126.5 93.2h.1M127.1 83.6h.1M134.6 84.2h.1M126.8 90.6h.1M132.0 85.0h.1M131.8 77.6h.1M128.5 81.9h.1M130.9 85.2h.1M130.4 86.5h.1M129.0 76.0h.1M130.9 80.8h.1M130.9 83.0h.1M127.2 85.4h.1M126.3 87.4h.1M127.8 82.5h.1M131.1 79.3h.1M135.4 87.8h.1M135.7 84.8h.1M131.8 90.5h.1M133.9 83.9h.1M131.1 89.3h.1M134.5 82.2h.1M131.1 87.6h.1M132.0 86.8h.1M129.7 88.4h.1M130.7 82.0h.1M137.2 85.8h.1M126.6 82.4h.1M130.7 85.6h.1M128.7 89.2h.1M136.9 86.5h.1M129.6 89.7h.1M132.8 91.6h.1M132.8 88.5h.1M124.9 91.2h.1M129.9 88.0h.1M133.0 78.5h.1M132.2 87.7h.1M131.5 86.7h.1M127.1 76.2h.1M128.3 82.4h.1M128.5 84.2h.1M132.3 83.0h.1M127.3 87.0h.1M135.7 78.1h.1M132.0 89.8h.1M136.4 88.0h.1M131.2 84.8h.1M128.8 86.4h.1M131.0 84.2h.1M124.4 91.7h.1M131.3 88.7h.1M127.2 84.7h.1M135.3 93.1h.1M135.0 83.7h.1M129.5 85.6h.1M127.4 81.5h.1M133.9 88.8h.1M130.5 86.1h.1M131.4 89.2h.1M132.8 93.3h.1M127.0 86.1h.1M133.4 88.1h.1M135.7 86.1h.1M125.3 83.8h.1M128.5 88.0h.1M128.4 88.7h.1M133.2 90.0h.1M133.2 90.2h.1M131.9 83.3h.1M132.5 88.4h.1M132.3 92.1h.1M130.4 84.2h.1M124.1 88.1h.1M130.5 94.4h.1M129.9 87.2h.1M130.2 81.9h.1M131.4 88.0h.1M129.8 87.4h.1M127.2 91.5h.1M125.5 80.1h.1M124.1 82.2h.1M134.8 86.0h.1M133.7 79.2h.1M126.0 91.6h.1M129.7 77.0h.1M132.1 82.6h.1M136.1 79.6h.1M128.5 83.4h.1M131.2 90.1h.1M134.6 89.2h.1M124.6 90.7h.1M128.1 89.2h.1M130.5 77.0h.1M128.1 87.8h.1M137.9 77.9h.1M133.6 84.1h.1M131.3 84.6h.1M127.3 83.9h.1M133.6 88.7h.1M132.8 82.7h.1M128.8 94.4h.1M129.1 89.1h.1M125.6 91.8h.1M130.3 89.9h.1M133.6 90.5h.1M134.1 86.2h.1M132.6 95.4h.1M133.4 81.5h.1M128.6 88.5h.1M129.0 86.4h.1M134.8 85.4h.1M132.2 87.9h.1M127.9 82.9h.1M132.3 90.4h.1M133.5 90.0h.1M133.0 86.8h.1M131.0 89.8h.1M128.8 81.6h.1M132.0 78.0h.1M136.4 83.7h.1M131.1 85.3h.1M131.8 85.3h.1M126.3 91.1h.1M131.4 90.3h.1M133.9 86.9h.1M130.9 89.4h.1M134.2 85.5h.1M138.5 82.4h.1M129.8 81.8h.1M127.7 82.8h.1M132.2 93.0h.1M130.3 87.7h.1M131.1 85.7h.1M128.5 86.5h.1M132.5 83.8h.1M130.8 86.2h.1M129.8 89.4h.1M131.7 90.6h.1M134.6 78.9h.1M128.6 87.5h.1M127.8 92.7h.1M134.5 81.7h.1M128.5 85.2h.1M130.9 87.2h.1M132.2 91.5h.1M133.1 89.1h.1M130.6 85.4h.1M126.8 88.7h.1M134.0 91.2h.1M129.1 88.2h.1M128.8 95.0h.1M137.5 88.3h.1M133.6 81.6h.1M126.9 82.8h.1M128.9 85.8h.1M129.7 85.4h.1M128.0 89.3h.1M124.0 88.0h.1M133.3 94.3h.1M133.2 90.1h.1M131.4 93.2h.1M129.2 82.9h.1M131.3 84.4h.1M132.8 89.6h.1M127.0 86.8h.1M129.4 89.3h.1M128.7 87.6h.1M133.0 83.6h.1M131.5 94.3h.1M126.1 91.7h.1M128.5 79.3h.1M136.6 83.6h.1M127.2 86.5h.1M131.1 89.5h.1M128.4 86.1h.1M134.8 80.1h.1M130.3 90.2h.1M129.1 85.5h.1M126.5 92.0h.1M129.7 87.8h.1M133.4 91.0h.1M132.9 90.3h.1M126.0 90.5h.1M135.9 84.1h.1M127.6 93.5h.1M132.4 85.9h.1M126.5 87.9h.1M132.3 77.7h.1M133.6 79.2h.1M132.4 85.9h.1M134.1 83.8h.1M131.6 87.5h.1M130.3 77.8h.1M136.0 95.5h.1M128.4 86.8h.1M126.4 80.8h.1M130.2 89.7h.1M131.3 88.5h.1M128.7 91.0h.1M128.3 86.0h.1M126.6 77.7h.1M130.7 81.5h.1M127.0 85.4h.1M131.8 82.4h.1M127.8 86.9h.1M128.7 89.6h.1M132.5 87.5h.1M132.4 78.7h.1M125.0 78.2h.1M131.1 78.2h.1M131.1 90.6h.1M128.6 85.3h.1M128.8 88.1h.1M131.5 85.2h.1M133.6 90.7h.1M134.4 89.2h.1M130.7 81.6h.1M127.4 91.3h.1M133.0 81.7h.1M126.3 90.6h.1M124.6 88.5h.1M126.0 77.9h.1M125.0 81.2h.1M129.4 82.0h.1M129.1 84.8h.1M135.8 94.3h.1M134.5 91.1h.1M134.2 86.7h.1M133.1 85.3h.1M126.5 78.3h.1M126.2 81.8h.1M134.1 94.2h.1M133.4 84.8h.1M125.0 82.9h.1M129.3 95.4h.1M127.6 81.9h.1M130.9 92.8h.1M129.7 84.9h.1M129.9 84.6h.1M131.7 84.0h.1M133.5 82.8h.1M134.9 82.7h.1M130.1 83.0h.1M128.9 86.4h.1M134.5 86.0h.1M124.7 78.1h.1M133.5 85.1h.1M125.0 93.1h.1M127.9 91.9h.1M135.3 80.1h.1M128.1 81.6h.1M125.0 89.5h.1M125.9 89.5h.1M135.7 78.6h.1M129.2 83.5h.1M128.7 87.3h.1M135.1 90.5h.1M134.4 88.3h.1M127.3 89.8h.1M125.8 94.4h.1M135.0 94.2h.1M128.9 81.5h.1M129.8 94.0h.1M126.3 81.7h.1M129.2 77.8h.1M134.9 92.4h.1M135.1 94.7h.1M126.6 79.6h.1M132.0 91.8h.1M126.1 79.2h.1M130.4 94.9h.1M133.7 86.4h.1M127.5 86.9h.1M131.3 94.8h.1M126.7 83.4h.1M127.7 87.9h.1M132.0 79.6h.1M128.4 81.0h.1M127.0 87.8h.1M128.2 94.0h.1M133.4 84.7h.1M129.3 77.8h.1M131.5 82.1h.1M127.5 87.1h.1M131.8 78.9h.1M124.9 80.4h.1M125.1 81.9h.1M127.0 93.5h.1M133.7 85.7h.1M126.5 80.3h.1M129.4 87.8h.1M136.1 88.5h.1M127.1 89.3h.1M126.1 91.6h.1M127.7 88.4h.1M130.7 78.7h.1M135.0 88.9h.1M124.8 89.1h.1M130.7 87.2h.1M124.6 80.4h.1M136.1 81.6h.1M129.8 89.5h.1M132.4 92.2h.1M127.4 79.1h.1M130.0 92.0h.1M134.1 86.2h.1M125.8 89.5h.1M126.9 92.5h.1M128.0 79.3h.1M134.1 91.4h.1M135.0 91.7h.1M133.2 86.5h.1M127.3 82.5h.1M128.1 88.5h.1M133.1 88.7h.1M129.6 85.3h.1M128.5 87.6h.1M136.2 91.6h.1M127.4 92.6h.1M133.6 95.5h.1M135.2 78.1h.1M127.8 94.7h.1M135.3 94.3h.1M134.7 92.6h.1M131.9 95.5h.1M129.1 80.2h.1M136.0 80.0h.1M125.9 88.3h.1M130.7 94.9h.1M130.6 87.7h.1M129.6 87.2h.1M127.7 93.8h.1M128.0 88.7h.1M126.8 93.2h.1M127.5 89.0h.1M124.8 87.4h.1M133.2 87.1h.1M134.9 92.6h.1M127.0 80.0h.1M125.1 84.1h.1M128.9 79.5h.1M125.7 90.1h.1M129.4 85.3h.1M127.4 94.5h.1M131.2 84.1h.1M133.2 95.0h.1M134.7 83.6h.1M132.9 95.4h.1M134.2 94.6h.1M136.1 83.1h.1M129.1 87.7h.1M126.2 79.1h.1M126.4 89.4h.1M129.9 90.5h.1M132.6 86.4h.1M134.2 85.8h.1M126.4 87.0h.1M130.6 92.5h.1M125.3 81.5h.1M131.2 93.4h.1M134.6 91.2h.1M128.5 85.2h.1M131.9 88.7h.1M132.2 87.3h.1M126.6 87.7h.1M130.4 84.1h.1M125.0 87.6h.1M129.3 79.5h.1M125.0 89.1h.1M135.8 84.1h.1M128.5 90.1h.1M127.3 89.1h.1M129.5 91.6h.1M130.4 77.9h.1M134.6 80.0h.1M130.6 87.0h.1M129.0 87.9h.1M133.1 86.7h.1M128.0 91.5h.1M126.2 95.3h.1M132.9 78.9h.1M130.3 89.5h.1M136.2 83.1h.1M130.8 85.0h.1M135.0 95.6h.1M124.9 79.0h.1M124.7 81.6h.1M128.5 87.2h.1M134.2 91.8h.1M130.0 95.6h.1M131.6 96.0h.1M128.7 95.1h.1M128.5 92.3h.1M128.3 86.2h.1M127.7 83.1h.1M124.8 93.9h.1M132.4 91.8h.1M128.0 91.1h.1M135.2 92.2h.1M131.4 94.9h.1M126.2 88.0h.1M127.9 82.5h.1M126.5 77.9h.1M133.3 82.2h.1M127.4 90.0h.1M131.0 84.6h.1M129.5 81.4h.1M128.7 80.2h.1M134.6 78.3h.1M130.4 88.4h.1M128.1 90.1h.1M126.4 95.6h.1M127.9 92.4h.1M126.6 80.6h.1M132.2 81.6h.1M133.2 95.9h.1M131.4 83.2h.1M132.8 87.9h.1M133.2 92.8h.1M131.2 89.7h.1M126.6 78.4h.1M132.0 86.6h.1M124.7 87.7h.1M130.0 87.8h.1M126.3 79.8h.1M132.6 95.8h.1M132.3 87.1h.1M128.3 90.3h.1M131.3 92.1h.1M132.8 82.4h.1M130.4 78.2h.1M127.4 89.3h.1M125.7 94.8h.1M134.7 94.4h.1M125.4 94.2h.1M126.7 81.5h.1M133.6 94.3h.1M125.0 79.1h.1M126.1 83.1h.1M128.8 93.2h.1M126.2 79.5h.1M124.9 92.4h.1M133.5 92.7h.1M126.4 94.8h.1M135.2 93.8h.1M125.0 91.2h.1M127.6 80.8h.1M131.1 79.9h.1M125.6 79.2h.1M130.0 83.5h.1M130.1 83.6h.1M135.3 93.8h.1M129.2 79.5h.1M135.1 86.6h.1M127.0 92.8h.1M132.1 85.1h.1M129.5 87.5h.1M133.6 94.2h.1M130.5 94.9h.1M134.5 80.9h.1M126.2 93.1h.1M127.5 86.2h.1M130.8 78.1h.1M131.9 83.4h.1M128.9 94.4h.1M133.9 81.2h.1M128.9 80.8h.1M135.4 95.7h.1M135.4 85.8h.1M124.9 94.9h.1M132.0 83.0h.1M134.6 78.9h.1M125.0 94.9h.1M133.1 83.7h.1M131.3 95.4h.1M130.5 90.3h.1M127.6 93.4h.1M133.1 83.7h.1M127.0 91.1h.1M126.6 93.0h.1M128.5 90.5h.1M136.1 95.1h.1M129.2 94.7h.1M126.1 88.4h.1M129.1 95.4h.1M133.4 91.1h.1M131.8 94.8h.1M132.9 80.4h.1M134.1 83.3h.1M127.8 80.5h.1M128.5 78.2h.1M134.5 90.0h.1M128.9 96.0h.1M130.4 89.5h.1M131.8 93.1h.1M135.2 89.3h.1M124.6 85.2h.1M131.7 81.4h.1M130.4 95.7h.1M129.2 95.4h.1M127.9 94.6h.1M128.8 84.0h.1M134.0 91.8h.1M130.0 87.8h.1M127.0 93.2h.1M132.6 88.4h.1M134.1 77.9h.1M129.2 82.9h.1M125.9 82.8h.1M133.2 83.9h.1M132.6 84.2h.1M132.6 78.0h.1M124.6 87.3h.1M125.8 95.4h.1M135.8 89.3h.1M130.9 81.7h.1M127.5 96.0h.1M125.0 94.2h.1M130.0 94.3h.1M128.2 79.9h.1M126.2 90.9h.1M131.9 83.9h.1M126.5 92.7h.1M135.6 84.7h.1M127.1 82.3h.1M134.9 95.9h.1M128.6 93.8h.1M127.9 89.9h.1M133.3 86.7h.1M130.4 88.3h.1M126.1 90.1h.1M134.3 85.8h.1M130.9 85.4h.1M131.1 82.7h.1M128.9 89.5h.1M134.1 83.1h.1M131.7 85.5h.1M125.3 83.1h.1M134.8 94.9h.1M131.1 87.5h.1M127.6 80.5h.1M124.9 80.0h.1M124.9 92.2h.1M125.8 95.3h.1M127.4 81.9h.1M130.6 88.4h.1M127.1 86.9h.1M133.7 85.9h.1M130.6 90.8h.1M129.5 92.8h.1M129.5 93.1h.1M127.2 81.9h.1M130.7 89.0h.1M127.1 80.6h.1M128.2 81.2h.1M130.4 84.2h.1M131.9 88.5h.1M128.3 87.0h.1M132.9 78.6h.1M128.6 86.9h.1M135.2 80.9h.1M126.2 80.9h.1M131.2 93.9h.1M128.6 89.9h.1M129.8 82.3h.1M125.8 92.2h.1M126.6 93.7h.1M132.4 80.5h.1M133.6 90.1h.1M133.7 85.4h.1M135.2 86.0h.1M128.9 81.2h.1M131.9 80.1h.1M130.3 86.3h.1M130.5 80.8h.1M132.1 86.4h.1M124.8 86.3h.1M134.4 80.6h.1M129.3 91.6h.1M133.3 89.5h.1M126.0 91.3h.1M130.2 93.5h.1M131.1 94.2h.1M131.4 90.9h.1M127.6 81.3h.1M129.7 85.0h.1M134.8 86.7h.1M129.8 86.5h.1M131.4 79.5h.1M130.4 85.1h.1M135.9 92.5h.1M132.4 87.3h.1M133.5 90.2h.1M124.8 90.7h.1M129.1 89.5h.1M133.2 77.9h.1M126.4 84.9h.1M133.6 91.7h.1M135.3 84.6h.1M133.4 95.9h.1M132.9 95.7h.1M127.6 87.3h.1M135.5 81.6h.1M129.4 86.7h.1M135.0 95.1h.1M132.3 79.4h.1M135.4 87.3h.1M124.7 85.5h.1M133.8 85.0h.1M133.1 85.8h.1M131.0 89.0h.1M126.3 95.1h.1M126.8 78.7h.1M135.4 80.4h.1M129.0 90.6h.1M133.3 87.9h.1M135.9 91.3h.1M127.1 93.6h.1M125.2 93.1h.1M124.8 83.7h.1M129.5 81.8h.1M134.1 89.4h.1M133.8 78.7h.1M131.4 88.9h.1M124.4 89.4h.1M127.3 86.8h.1M126.2 93.7h.1M126.2 79.0h.1M126.0 78.1h.1M124.8 95.2h.1M130.3 93.5h.1M128.4 78.4h.1M128.6 91.2h.1M127.7 88.7h.1M133.7 80.4h.1M127.8 85.5h.1M126.3 88.9h.1M127.7 89.1h.1M127.3 81.5h.1M128.5 77.9h.1M128.9 78.9h.1M127.1 82.2h.1M131.8 83.6h.1M126.2 81.6h.1M135.1 84.1h.1M134.8 79.6h.1M130.2 85.1h.1M133.0 84.0h.1M126.9 83.3h.1M127.8 84.9h.1M135.1 93.9h.1M130.0 92.5h.1M133.1 80.1h.1M134.0 79.6h.1M132.7 88.3h.1M129.7 79.3h.1M128.9 93.0h.1M125.1 84.7h.1M132.6 84.6h.1M125.1 87.9h.1M134.2 78.9h.1M127.8 80.9h.1M134.4 81.1h.1M126.2 95.4h.1M134.5 89.7h.1M134.9 89.5h.1M130.2 92.0h.1M135.2 86.0h.1M125.5 95.3h.1M126.2 82.1h.1M135.9 94.8h.1M135.5 78.1h.1M132.6 88.8h.1M128.4 89.3h.1M132.8 92.0h.1M124.4 81.1h.1M128.6 84.1h.1M134.5 95.0h.1M127.1 81.4h.1M125.9 83.3h.1M130.2 88.5h.1M128.1 83.9h.1M134.1 80.9h.1M135.1 80.0h.1M128.9 82.5h.1M134.3 91.7h.1M130.3 79.0h.1M133.2 85.8h.1M128.1 88.7h.1M134.1 91.5h.1M134.3 89.6h.1M133.5 85.6h.1M134.8 80.8h.1M129.0 85.5h.1M130.5 86.4h.1M133.9 83.6h.1M132.9 80.4h.1M130.7 94.3h.1M124.8 81.3h.1M127.0 84.8h.1M129.8 86.4h.1M133.3 80.8h.1M135.1 92.4h.1M136.0 80.7h.1M128.9 93.3h.1M135.8 78.2h.1M128.9 78.1h.1M126.5 87.4h.1M135.4 87.8h.1M125.6 86.3h.1M130.0 94.9h.1M133.5 91.8h.1M131.8 93.2h.1M134.4 92.3h.1M130.7 93.1h.1M129.7 92.9h.1M128.4 94.4h.1M131.8 91.9h.1M131.1 81.1h.1M130.4 87.4h.1M132.4 90.9h.1M130.4 87.3h.1M132.6 87.2h.1M130.3 83.7h.1M133.6 80.9h.1M126.8 94.7h.1M128.6 84.6h.1M128.0 78.2h.1M134.8 84.4h.1M135.5 78.1h.1M135.4 81.3h.1M133.1 78.3h.1M127.9 82.6h.1M136.1 96.0h.1M127.9 82.6h.1M133.2 84.4h.1M128.6 82.5h.1M125.6 93.1h.1M124.9 93.5h.1M124.5 85.2h.1M130.9 80.0h.1M131.0 92.9h.1M125.7 80.7h.1M124.9 84.6h.1M124.6 81.5h.1M131.2 94.6h.1M133.3 83.0h.1M135.0 88.0h.1M129.9 90.3h.1M133.2 82.6h.1M127.2 88.4h.1M125.0 91.2h.1M128.2 85.8h.1M129.1 84.2h.1M125.8 84.3h.1M132.6 88.2h.1M134.8 83.6h.1M133.2 85.4h.1M126.0 89.7h.1M127.6 91.6h.1M126.7 91.3h.1M136.1 90.1h.1M129.0 80.3h.1M126.1 90.4h.1M134.0 81.8h.1M126.9 93.6h.1M125.3 94.6h.1M128.8 82.9h.1M124.8 95.6h.1M129.8 89.6h.1M129.5 91.5h.1M128.1 91.4h.1M131.0 90.2h.1M133.7 80.3h.1M128.4 88.8h.1M131.9 93.2h.1M129.4 86.2h.1M135.6 94.6h.1M126.9 86.0h.1M129.1 93.7h.1M127.8 82.7h.1M133.9 80.4h.1M132.2 87.1h.1M135.1 92.9h.1M127.6 90.8h.1M134.1 83.5h.1M132.3 87.0h.1M125.7 92.2h.1M127.4 91.4h.1M134.3 95.6h.1M129.5 80.5h.1M126.3 91.6h.1M125.9 90.2h.1M127.8 83.0h.1M132.0 95.7h.1M126.0 87.0h.1M126.2 89.7h.1M127.5 87.8h.1M132.4 90.2h.1M134.2 88.6h.1M133.2 93.5h.1M131.8 90.4h.1M129.7 80.4h.1M132.7 78.8h.1M128.7 94.6h.1M133.4 91.9h.1M132.6 80.1h.1M125.7 94.0h.1M124.5 90.1h.1M132.2 89.1h.1M130.0 91.8h.1M131.6 95.1h.1M132.2 83.4h.1M129.9 78.8h.1M126.0 90.4h.1M131.2 83.6h.1M127.8 91.2h.1M130.3 90.5h.1M124.7 90.4h.1M135.7 93.0h.1M126.6 80.7h.1M136.1 81.1h.1M133.8 87.5h.1M128.9 80.8h.1M131.1 87.2h.1M127.0 82.7h.1M130.2 93.4h.1M125.2 92.5h.1M126.5 94.0h.1M125.2 82.3h.1M130.9 87.7h.1M132.3 89.3h.1M135.7 78.6h.1M127.3 82.4h.1M134.3 93.2h.1M131.3 82.5h.1M124.6 94.7h.1M128.7 86.5h.1M136.0 87.1h.1M133.0 80.0h.1M132.3 93.7h.1M132.7 85.4h.1M135.7 81.9h.1M130.8 80.9h.1M126.0 80.8h.1M125.0 92.3h.1M131.1 84.6h.1M126.5 88.8h.1M135.4 84.2h.1M135.9 95.1h.1M131.1 87.4h.1M131.6 86.4h.1M125.9 95.4h.1M134.0 93.0h.1M133.3 92.1h.1M129.5 82.0h.1M133.9 86.4h.1M125.8 92.6h.1M135.9 82.0h.1M132.5 86.1h.1M128.5 80.1h.1M129.3 86.0h.1M126.9 88.1h.1M130.4 81.0h.1M135.0 88.9h.1M130.0 80.5h.1M128.3 87.0h.1M129.9 90.7h.1M129.3 91.4h.1M129.4 85.8h.1M130.5 80.9h.1M132.9 87.9h.1M124.7 86.9h.1M135.5 78.4h.1M128.6 92.0h.1M129.6 92.5h.1M130.5 91.2h.1M135.1 86.3h.1M124.9 86.4h.1M134.4 93.2h.1M132.4 95.2h.1M130.7 88.9h.1M129.2 89.7h.1M130.7 93.5h.1M132.7 84.1h.1M129.7 81.0h.1M135.3 91.8h.1M131.1 89.3h.1M129.8 84.1h.1M135.1 93.5h.1M124.7 91.9h.1M135.0 78.3h.1M130.1 87.2h.1M126.0 90.9h.1M132.6 94.7h.1M127.4 91.0h.1M130.1 82.1h.1M130.7 80.5h.1M135.8 95.8h.1M132.4 93.9h.1M129.7 85.7h.1M132.1 85.4h.1M132.1 92.1h.1M126.2 89.8h.1M128.9 82.7h.1M126.5 86.8h.1M128.3 86.2h.1M124.9 78.1h.1M126.6 79.7h.1M126.6 80.6h.1M130.8 90.0h.1M129.4 84.6h.1M125.7 90.1h.1M136.1 83.1h.1M133.3 92.6h.1M132.5 87.0h.1M132.0 95.3h.1M133.0 92.1h.1M126.7 86.7h.1M133.0 96.0h.1M128.7 83.8h.1M126.8 86.5h.1M127.9 84.4h.1M134.2 78.3h.1M129.3 83.5h.1M134.8 79.0h.1M136.1 79.9h.1M135.5 79.9h.1M130.1 84.7h.1M131.1 88.2h.1M131.5 88.3h.1M125.5 89.7h.1M133.4 81.2h.1M133.9 83.1h.1M126.8 80.1h.1M128.4 94.7h.1M131.9 80.7h.1M135.7 89.6h.1M128.6 87.0h.1M134.8 79.1h.1M125.2 93.3h.1M130.9 87.2h.1M127.9 88.2h.1M134.6 91.8h.1M126.6 83.4h.1M125.5 85.0h.1M128.9 80.4h.1M133.3 94.2h.1M133.1 84.9h.1M128.5 93.7h.1M133.0 93.7h.1M126.2 85.3h.1M129.7 88.9h.1M134.7 82.2h.1M126.3 86.7h.1M127.3 83.6h.1M128.7 95.2h.1M126.9 90.3h.1M130.7 94.6h.1M129.4 82.4h.1M131.4 81.6h.1M124.6 77.7h.1M134.0 88.7h.1M129.1 83.2h.1M125.2 82.9h.1M131.7 86.2h.1M126.5 88.4h.1M126.9 91.8h.1M133.3 94.4h.1M125.3 81.4h.1M135.6 87.0h.1M127.3 95.0h.1M131.6 83.7h.1M125.8 88.1h.1M136.2 86.1h.1M135.7 91.8h.1M132.1 91.4h.1M127.6 85.2h.1M128.7 82.7h.1M131.3 89.5h.1M127.7 95.3h.1M131.3 85.3h.1M135.1 87.1h.1M126.1 82.3h.1M127.6 94.4h.1M135.8 78.7h.1M134.6 84.9h.1M124.8 79.4h.1M125.6 86.0h.1M132.0 89.0h.1M134.3 79.8h.1M135.9 90.2h.1M125.9 82.7h.1M130.0 81.7h.1M130.5 84.1h.1M134.5 95.2h.1M130.1 94.3h.1M124.9 83.4h.1M125.3 78.3h.1M130.3 79.5h.1M126.0 86.2h.1M130.4 78.2h.1M131.3 90.6h.1M130.4 89.0h.1M131.2 85.5h.1M124.6 80.5h.1M132.6 95.7h.1M124.8 84.6h.1M130.3 82.3h.1M129.2 91.8h.1M133.9 87.9h.1M134.3 84.3h.1M134.8 92.9h.1M132.6 90.9h.1M130.7 94.3h.1M125.2 88.6h.1M124.8 93.2h.1M134.8 94.9h.1M132.9 81.6h.1M129.5 89.5h.1M127.4 93.7h.1M135.9 92.7h.1M126.9 91.6h.1M127.4 86.3h.1M135.5 94.0h.1M133.4 86.9h.1M134.4 83.2h.1M135.5 86.1h.1M135.7 93.2h.1M129.0 79.2h.1M127.3 77.9h.1M131.0 78.9h.1M128.9 80.2h.1M128.4 82.1h.1M131.2 80.3h.1M135.0 78.0h.1M130.9 82.8h.1M128.4 89.1h.1M126.6 91.7h.1M134.2 86.6h.1M131.9 95.1h.1M127.0 78.5h.1M134.0 94.2h.1M125.3 78.6h.1M125.4 89.0h.1M127.9 81.6h.1M133.7 91.2h.1M130.6 91.7h.1M132.6 93.0h.1M135.1 83.2h.1" stroke="#111" stroke-width="0.8" stroke-linecap="round" fill="none" opacity="0.8"/>
<path d="M136.8 53.8h.1M134.2 59.6h.1M133.0 55.2h.1M127.5 57.1h.1M137.3 57.9h.1M134.5 56.9h.1M131.4 62.6h.1M134.6 65.5h.1M138.1 51.4h.1M127.7 56.4h.1M127.4 60.4h.1M129.8 55.5h.1M130.5 57.4h.1M131.7 64.8h.1M139.6 63.9h.1M133.0 58.4h.1M139.2 60.0h.1M134.0 58.8h.1M140.9 55.0h.1M141.7 52.7h.1M132.2 58.1h.1M130.7 63.2h.1M136.3 62.4h.1M128.9 52.4h.1M132.8 58.7h.1M126.8 57.1h.1M134.9 60.6h.1M134.5 55.3h.1M142.0 62.9h.1M136.1 58.7h.1M131.5 61.7h.1M134.1 62.8h.1M128.6 52.1h.1M134.7 58.7h.1M133.5 65.2h.1M136.4 59.6h.1M138.8 63.4h.1M125.3 61.1h.1M136.0 57.6h.1M137.9 60.6h.1M129.0 63.5h.1M143.3 64.4h.1M131.2 65.0h.1M145.9 55.3h.1M138.1 62.6h.1M139.0 54.3h.1M135.7 59.0h.1M139.2 58.7h.1M129.7 61.9h.1M130.8 60.7h.1M125.5 64.2h.1M137.0 57.2h.1M131.2 62.7h.1M138.0 61.0h.1M137.3 59.5h.1M128.3 54.9h.1M137.7 61.6h.1M135.7 60.7h.1M135.4 62.5h.1M136.6 59.3h.1M134.4 58.5h.1M134.6 61.0h.1M139.4 61.2h.1M129.9 62.1h.1M129.0 66.7h.1M131.0 57.1h.1M139.3 67.1h.1M133.0 48.3h.1M143.3 63.1h.1M131.2 67.1h.1M132.4 56.1h.1M135.7 63.5h.1M140.7 55.7h.1M133.6 55.2h.1M129.8 62.5h.1M138.4 62.8h.1M141.6 56.8h.1M137.2 58.3h.1M135.9 65.4h.1M130.7 55.6h.1M132.3 55.8h.1M135.8 59.8h.1M134.6 55.7h.1M133.4 61.2h.1M129.1 51.3h.1M135.8 60.2h.1M131.4 57.4h.1M134.9 55.8h.1M131.8 60.3h.1M135.4 58.6h.1M137.9 57.8h.1M135.6 62.6h.1M137.5 60.6h.1M128.1 60.9h.1M136.6 64.5h.1M135.8 59.2h.1M131.6 62.7h.1M133.7 57.9h.1M134.9 61.5h.1M132.6 57.4h.1M124.0 53.8h.1M136.8 54.6h.1M131.5 55.9h.1M135.8 61.6h.1M133.4 59.0h.1M136.7 58.4h.1M134.9 61.3h.1M133.2 62.3h.1M136.8 64.8h.1M138.3 57.2h.1M124.0 61.6h.1M134.6 62.2h.1M131.7 55.9h.1M129.4 60.0h.1M140.5 56.0h.1M138.9 58.6h.1M129.7 61.1h.1M129.3 53.1h.1M138.2 56.2h.1M131.6 56.4h.1M133.0 59.8h.1M125.4 56.7h.1M133.9 60.9h.1M139.7 56.2h.1M132.3 57.5h.1M133.9 61.8h.1M142.5 60.7h.1M138.5 60.1h.1M141.0 59.3h.1M137.4 63.3h.1M140.0 64.7h.1M126.8 58.1h.1M130.7 56.7h.1M126.9 55.6h.1M144.7 66.0h.1M135.3 56.1h.1M133.9 54.5h.1M131.0 60.5h.1M129.8 63.5h.1M144.8 59.0h.1M134.1 54.1h.1M134.8 56.9h.1M128.0 65.6h.1M134.2 60.1h.1M136.2 58.5h.1M134.1 59.8h.1M137.3 60.6h.1M130.6 59.1h.1M136.0 55.0h.1M138.6 55.0h.1M137.0 67.1h.1M136.2 56.6h.1M134.0 64.0h.1M129.9 56.8h.1M137.0 64.4h.1M132.7 62.1h.1M130.1 58.7h.1M138.0 67.1h.1M127.1 56.0h.1M131.9 58.6h.1M138.0 56.3h.1M138.8 56.6h.1M132.7 58.1h.1M134.8 55.9h.1M137.0 58.3h.1M134.1 65.5h.1M130.9 52.9h.1M136.5 54.8h.1M135.2 55.9h.1M134.9 57.7h.1M139.6 63.3h.1M135.9 62.2h.1M132.4 61.3h.1M135.2 60.3h.1M143.4 68.5h.1M131.2 55.2h.1M133.2 55.1h.1M130.8 59.4h.1M136.1 60.3h.1M128.7 58.6h.1M136.5 56.3h.1M138.0 54.6h.1M130.9 58.5h.1M130.6 56.8h.1M153.2 83.3h.1M147.2 85.3h.1M171.3 78.1h.1M162.5 73.0h.1M176.4 93.4h.1M152.9 82.6h.1M158.6 88.4h.1M155.5 89.5h.1M158.2 85.4h.1M155.4 86.3h.1M156.4 87.5h.1M138.4 91.8h.1M155.3 86.4h.1M164.9 90.2h.1M138.6 82.6h.1M154.5 81.9h.1M163.7 84.4h.1M170.6 86.0h.1M157.1 86.7h.1M162.5 93.6h.1M170.9 84.3h.1M153.5 93.8h.1M152.0 85.6h.1M168.1 85.8h.1M160.2 86.4h.1M152.6 82.4h.1M155.7 78.6h.1M161.1 84.7h.1M156.0 82.5h.1M155.5 79.7h.1M155.6 84.6h.1M143.2 83.0h.1M175.2 81.1h.1M170.1 75.2h.1M173.0 83.2h.1M156.7 92.7h.1M159.2 88.4h.1M163.7 89.4h.1M166.1 83.9h.1M139.8 89.2h.1M161.5 80.7h.1M148.1 81.8h.1M157.3 86.6h.1M151.4 77.0h.1M163.3 85.5h.1M157.7 92.4h.1M171.8 80.6h.1M157.3 86.1h.1M150.8 80.8h.1M156.2 81.3h.1M154.4 70.7h.1M158.5 79.4h.1M166.3 89.7h.1M156.8 86.6h.1M157.3 84.8h.1M160.9 86.7h.1M167.4 77.9h.1M159.3 83.0h.1M145.1 83.7h.1M146.9 92.0h.1M141.5 79.6h.1M169.3 86.1h.1M162.1 88.9h.1M153.3 80.0h.1M148.2 84.5h.1M161.6 74.1h.1M156.7 84.5h.1M161.2 73.1h.1M149.6 82.1h.1M147.0 92.5h.1M148.6 84.3h.1M157.8 84.8h.1M171.3 94.7h.1M139.8 86.8h.1M164.9 89.2h.1M158.7 81.9h.1M140.6 88.0h.1M154.2 89.8h.1M165.1 73.9h.1M142.3 89.4h.1M160.0 84.3h.1M146.4 89.4h.1M142.2 93.7h.1M139.6 91.7h.1M166.1 85.7h.1M154.9 80.0h.1M171.0 93.1h.1M158.6 76.0h.1M159.0 90.7h.1M155.0 85.1h.1M140.7 72.5h.1M171.9 78.8h.1M175.8 94.6h.1M157.0 65.9h.1M136.7 52.1h.1M163.7 38.7h.1M152.2 69.5h.1M156.5 83.1h.1M134.6 92.0h.1M126.8 58.6h.1M174.8 52.1h.1M161.6 50.1h.1" stroke="#222" stroke-width="0.7" stroke-linecap="round" fill="none" opacity="0.48"/>
<path d="M146.8 39L146.8 82.2" stroke="#333" stroke-width="0.9"/>
<path d="M126.3 70.3L181.4 70.3" stroke="#333" stroke-width="1.1"/>
<rect x="123.1" y="112.4" width="66.9" height="64.1" fill="none" stroke="#777" stroke-width="0.9"/>
<path d="M124.3 176.5v2M123.1 174.2h-2M129.12 176.5v1M123.1 169.59h-1M131.93 176.5v1M123.1 166.9h-1M133.93 176.5v1M123.1 164.99h-1M135.48 176.5v1M123.1 163.51h-1M136.75 176.5v1M123.1 162.29h-1M137.82 176.5v1M123.1 161.27h-1M138.75 176.5v1M123.1 160.38h-1M139.57 176.5v1M123.1 159.6h-1M140.3 176.5v2M123.1 158.9h-2M145.12 176.5v1M123.1 154.29h-1M147.93 176.5v1M123.1 151.6h-1M149.93 176.5v1M123.1 149.69h-1M151.48 176.5v1M123.1 148.21h-1M152.75 176.5v1M123.1 146.99h-1M153.82 176.5v1M123.1 145.97h-1M154.75 176.5v1M123.1 145.08h-1M155.57 176.5v1M123.1 144.3h-1M156.3 176.5v2M123.1 143.6h-2M161.12 176.5v1M123.1 138.99h-1M163.93 176.5v1M123.1 136.3h-1M165.93 176.5v1M123.1 134.39h-1M167.48 176.5v1M123.1 132.91h-1M168.75 176.5v1M123.1 131.69h-1M169.82 176.5v1M123.1 130.67h-1M170.75 176.5v1M123.1 129.78h-1M171.57 176.5v1M123.1 129h-1M172.3 176.5v2M123.1 128.3h-2M177.12 176.5v1M123.1 123.69h-1M179.93 176.5v1M123.1 121h-1M181.93 176.5v1M123.1 119.09h-1M183.48 176.5v1M123.1 117.61h-1M184.75 176.5v1M123.1 116.39h-1M185.82 176.5v1M123.1 115.37h-1M186.75 176.5v1M123.1 114.48h-1M187.57 176.5v1M123.1 113.7h-1M188.3 176.5v2M123.1 113h-2" stroke="#555" stroke-width="0.7" fill="none"/>
<text x="124.1" y="184.5" font-size="4.6" fill="#333" text-anchor="middle">10<tspan dy="-1.8" font-size="3.2">0</tspan></text>
<text x="119.7" y="174.8" font-size="4.6" fill="#333" text-anchor="middle" transform="rotate(-90 119.7 174.8)">10<tspan dy="-1.8" font-size="3.2">0</tspan></text>
<text x="140.1" y="184.5" font-size="4.6" fill="#333" text-anchor="middle">10<tspan dy="-1.8" font-size="3.2">1</tspan></text>
<text x="119.7" y="159.5" font-size="4.6" fill="#333" text-anchor="middle" transform="rotate(-90 119.7 159.5)">10<tspan dy="-1.8" font-size="3.2">1</tspan></text>
<text x="156.1" y="184.5" font-size="4.6" fill="#333" text-anchor="middle">10<tspan dy="-1.8" font-size="3.2">2</tspan></text>
<text x="119.7" y="144.2" font-size="4.6" fill="#333" text-anchor="middle" transform="rotate(-90 119.7 144.2)">10<tspan dy="-1.8" font-size="3.2">2</tspan></text>
<text x="172.1" y="184.5" font-size="4.6" fill="#333" text-anchor="middle">10<tspan dy="-1.8" font-size="3.2">3</tspan></text>
<text x="119.7" y="128.9" font-size="4.6" fill="#333" text-anchor="middle" transform="rotate(-90 119.7 128.9)">10<tspan dy="-1.8" font-size="3.2">3</tspan></text>
<text x="188.1" y="184.5" font-size="4.6" fill="#333" text-anchor="middle">10<tspan dy="-1.8" font-size="3.2">4</tspan></text>
<text x="119.7" y="113.6" font-size="4.6" fill="#333" text-anchor="middle" transform="rotate(-90 119.7 113.6)">10<tspan dy="-1.8" font-size="3.2">4</tspan></text>
<path d="M123.7 156.55L123.87 155.5L124.35 154.55L125.1 153.8L126.05 153.32L127.1 153.15L132 153.15L134.16 153.49L136.11 154.49L137.66 156.04L138.66 157.99L139 160.15L139 172.9L138.83 173.95L138.35 174.9L137.6 175.65L136.65 176.13L135.6 176.3L125.7 176.3L125.08 176.2L124.52 175.92L124.08 175.48L123.8 174.92L123.7 174.3Z" fill="#000"/>
<path d="M137.3 160.0h.1M138.4 166.5h.1M137.7 171.5h.1M137.9 169.2h.1M139.3 161.1h.1M138.6 160.3h.1M137.9 162.3h.1M138.5 168.9h.1M138.2 164.3h.1M139.0 163.4h.1M137.9 172.5h.1M138.5 160.0h.1M138.1 171.8h.1M138.2 164.9h.1M138.1 171.6h.1M137.8 164.0h.1M138.3 167.4h.1M138.9 161.9h.1M137.8 163.9h.1M137.9 169.2h.1M138.5 169.7h.1M137.7 162.3h.1M138.8 169.1h.1M138.7 174.1h.1M136.6 168.6h.1M137.8 163.9h.1M137.5 169.8h.1M138.8 168.3h.1M138.9 169.4h.1M137.4 172.0h.1M137.7 173.5h.1M138.2 162.0h.1M138.0 163.4h.1M138.7 161.7h.1M138.9 174.3h.1M138.6 174.2h.1M139.0 170.8h.1M138.9 168.9h.1M138.2 162.1h.1M137.9 164.2h.1M137.7 161.7h.1M138.8 165.1h.1M138.8 161.2h.1M138.9 160.1h.1M138.0 160.6h.1M137.9 166.3h.1M138.4 162.2h.1M139.1 160.6h.1M138.5 170.8h.1M138.4 170.9h.1M137.6 173.6h.1M138.5 171.5h.1M138.6 173.6h.1M137.6 169.3h.1M139.4 167.5h.1M137.6 165.8h.1M138.8 164.7h.1M138.1 160.0h.1M138.3 170.2h.1M137.7 164.5h.1M137.8 170.5h.1M138.7 173.6h.1M138.1 171.3h.1M138.0 167.2h.1M138.8 167.9h.1M138.7 172.7h.1M138.3 163.3h.1M138.4 168.4h.1M139.4 168.5h.1M138.1 168.6h.1M138.5 164.0h.1M138.5 166.5h.1M137.2 167.2h.1M136.9 171.4h.1M138.3 173.9h.1M138.8 160.6h.1M138.3 171.4h.1M137.8 166.9h.1M137.8 169.2h.1M138.8 167.7h.1M138.0 171.5h.1M137.1 165.8h.1M138.7 165.6h.1M138.4 167.8h.1M138.5 173.9h.1M138.9 166.0h.1M139.1 166.0h.1M138.6 167.2h.1M138.1 174.3h.1M136.8 162.1h.1M138.4 168.6h.1M138.1 168.7h.1M139.1 172.8h.1M139.1 164.9h.1M138.5 168.8h.1M139.2 163.5h.1M138.2 165.5h.1M138.2 160.9h.1M137.6 163.9h.1M138.0 165.5h.1M138.4 164.2h.1M138.9 165.8h.1M137.7 164.0h.1M138.8 163.5h.1M139.8 164.8h.1M137.3 169.6h.1M138.0 168.9h.1M138.2 174.1h.1M138.9 161.8h.1M139.6 171.6h.1M139.1 161.0h.1M138.2 163.1h.1M137.6 160.1h.1M138.2 167.1h.1M138.2 160.0h.1M138.4 160.8h.1M137.6 169.2h.1M139.3 169.3h.1M137.7 161.2h.1M138.7 168.9h.1M138.4 166.0h.1M137.5 172.5h.1M138.3 168.2h.1M138.2 167.5h.1M138.1 174.3h.1M138.8 163.8h.1M137.9 166.4h.1M140.0 171.1h.1M139.0 170.4h.1M137.6 160.4h.1M136.5 160.0h.1M139.1 163.9h.1M138.4 174.0h.1M138.3 160.8h.1M137.5 160.1h.1M137.2 173.2h.1M136.9 161.9h.1M140.0 164.4h.1M139.3 172.4h.1M137.8 165.6h.1M139.5 160.5h.1M136.9 165.9h.1M138.7 170.4h.1M138.7 162.1h.1M137.6 163.7h.1M137.9 164.7h.1M137.5 160.0h.1M138.2 169.8h.1M139.1 161.2h.1M138.9 163.0h.1M138.5 166.3h.1M139.0 170.9h.1M137.0 161.0h.1M139.6 173.9h.1M138.2 167.2h.1M137.3 162.2h.1M137.9 162.4h.1M137.8 167.7h.1M138.3 161.1h.1M138.4 162.2h.1M136.6 173.7h.1M139.1 172.6h.1M139.4 168.8h.1M137.5 170.7h.1M139.2 161.4h.1M139.1 163.8h.1M138.9 160.0h.1M139.3 168.3h.1M137.2 159.9h.1M138.7 161.3h.1M137.5 174.3h.1M139.8 161.1h.1M137.5 174.2h.1M137.4 167.7h.1M139.0 166.9h.1M138.6 161.7h.1M138.2 165.6h.1M138.3 164.9h.1M138.6 170.0h.1M139.4 174.1h.1M137.7 164.5h.1M137.8 160.2h.1M137.8 173.9h.1M138.2 166.9h.1M138.2 165.8h.1M137.3 170.9h.1M138.4 169.2h.1M137.3 167.7h.1M138.0 161.9h.1M138.0 171.5h.1M138.0 163.4h.1M139.2 168.7h.1M139.3 162.6h.1M139.0 163.2h.1M139.3 168.9h.1M138.0 170.7h.1M139.2 174.0h.1M138.2 169.8h.1M138.4 169.1h.1M138.4 168.6h.1M137.3 164.0h.1M137.8 173.2h.1M138.1 168.3h.1M138.5 160.6h.1M138.1 166.8h.1M137.6 164.8h.1M137.4 162.1h.1M138.2 169.9h.1M137.4 171.6h.1M137.4 172.9h.1M138.1 172.6h.1M138.3 174.2h.1M137.6 162.6h.1M137.0 168.1h.1M138.4 165.8h.1M138.8 170.4h.1M137.9 169.9h.1M137.9 160.9h.1M136.6 163.8h.1M138.8 163.0h.1M137.4 160.8h.1M138.7 163.8h.1M137.8 166.8h.1M138.1 164.3h.1M138.1 162.0h.1M136.9 171.5h.1M140.1 160.8h.1M137.1 163.4h.1M138.3 169.8h.1M137.6 165.7h.1M138.0 169.2h.1M139.2 160.9h.1M136.9 173.5h.1M138.1 165.5h.1M138.5 171.9h.1M138.3 165.9h.1M138.5 171.9h.1M137.7 160.3h.1M137.1 163.8h.1M137.3 174.3h.1M137.9 160.9h.1M138.7 172.3h.1M138.3 165.3h.1M139.3 166.8h.1M138.3 164.0h.1M138.3 164.9h.1M138.3 174.2h.1M137.0 166.6h.1M138.6 161.8h.1M137.4 170.9h.1M137.9 162.9h.1M139.8 167.6h.1M137.3 171.3h.1M138.3 166.5h.1M138.4 161.2h.1M138.3 170.5h.1M138.2 173.3h.1M137.8 169.7h.1M139.6 173.4h.1M136.8 166.6h.1M137.5 162.8h.1M139.2 164.7h.1M138.6 171.4h.1M137.7 173.5h.1M137.6 163.7h.1M138.0 171.8h.1M140.0 170.9h.1M138.5 163.1h.1M137.5 171.8h.1M138.4 165.9h.1M137.8 161.9h.1M139.2 168.0h.1M138.4 163.5h.1M139.1 167.7h.1M138.3 173.7h.1M139.6 162.7h.1M138.5 167.9h.1M138.4 167.3h.1M137.5 162.3h.1M137.9 168.7h.1M138.5 163.4h.1M137.9 173.0h.1M139.9 172.3h.1M138.2 167.5h.1M137.7 163.4h.1M138.9 161.9h.1M137.8 163.1h.1M138.5 167.5h.1M138.1 168.3h.1M137.7 161.8h.1M139.2 170.7h.1M138.3 166.9h.1M139.0 174.0h.1M138.0 165.6h.1M137.2 166.6h.1M137.3 171.4h.1M137.8 165.8h.1M138.1 171.2h.1M138.2 167.7h.1M138.6 161.5h.1M137.3 173.0h.1M138.4 172.9h.1M137.3 161.6h.1M137.7 164.6h.1M140.0 168.1h.1M139.1 161.3h.1M137.9 165.7h.1M139.5 160.8h.1M139.2 167.6h.1M138.8 166.8h.1M139.2 173.4h.1M138.0 171.5h.1M138.1 163.7h.1M137.6 169.7h.1M138.6 173.8h.1M137.3 161.7h.1M137.8 167.6h.1M138.5 161.9h.1M137.8 163.5h.1M138.4 167.0h.1M139.5 159.9h.1M137.5 166.8h.1M139.2 164.1h.1M137.7 160.7h.1M137.5 167.6h.1M138.4 162.7h.1M138.9 162.7h.1M137.7 173.5h.1M137.7 166.2h.1M137.9 167.8h.1M137.7 161.3h.1M138.3 173.7h.1M137.7 168.4h.1M138.0 164.1h.1M138.4 169.5h.1M137.9 169.2h.1M139.0 166.9h.1M137.7 166.0h.1M137.7 161.2h.1M139.6 170.9h.1M139.3 160.4h.1M138.2 160.7h.1M138.8 168.9h.1M138.4 172.6h.1M137.8 172.9h.1M138.7 163.0h.1M138.4 171.7h.1M139.1 162.5h.1M136.9 162.6h.1M138.8 166.5h.1M138.3 168.2h.1M137.7 167.6h.1M137.9 173.2h.1M137.9 167.1h.1M137.3 165.1h.1M137.8 166.6h.1M138.7 162.5h.1M137.1 170.3h.1M137.9 162.4h.1M136.5 166.8h.1M137.8 161.1h.1M138.5 170.3h.1M138.2 165.1h.1M138.2 171.3h.1M137.4 162.2h.1M138.6 166.9h.1M137.6 172.6h.1M138.8 170.5h.1M138.3 162.8h.1M137.9 161.2h.1M139.2 168.5h.1M137.9 174.1h.1M138.9 165.7h.1M138.3 170.1h.1M138.2 169.8h.1M138.9 174.1h.1M138.5 165.7h.1M138.2 161.1h.1M138.1 161.2h.1M138.3 173.1h.1M138.3 162.9h.1M138.0 168.3h.1M137.5 169.1h.1M136.4 172.9h.1M138.1 166.0h.1M138.0 163.5h.1M139.1 173.0h.1M138.5 168.8h.1M139.0 174.3h.1M139.4 171.2h.1M138.1 169.5h.1M137.6 166.7h.1M138.8 159.8h.1M137.8 171.8h.1M138.0 165.0h.1M139.2 160.6h.1M138.6 170.6h.1M139.0 174.2h.1M137.3 170.5h.1M138.2 162.3h.1M139.0 164.8h.1M137.3 164.8h.1M138.3 164.2h.1M138.5 169.8h.1M136.6 170.3h.1M139.3 163.9h.1M137.7 165.5h.1M138.1 164.5h.1M139.4 163.6h.1M136.9 169.4h.1M138.5 171.5h.1M137.9 170.2h.1M138.2 173.8h.1M137.6 173.5h.1M139.2 173.9h.1M137.4 171.2h.1M138.5 165.2h.1M138.6 170.7h.1M138.1 173.9h.1M138.0 163.8h.1M128.3 155.0h.1M126.3 154.1h.1M131.6 154.8h.1M131.0 154.0h.1M126.9 153.2h.1M128.9 154.5h.1M127.9 153.1h.1M128.3 154.1h.1M128.8 153.9h.1M131.9 153.0h.1M128.1 153.1h.1M129.7 153.4h.1M130.7 153.8h.1M130.4 154.4h.1M126.4 153.6h.1M128.3 154.7h.1M131.2 154.1h.1M127.2 153.2h.1M128.9 153.2h.1M130.9 153.6h.1M127.4 153.3h.1M129.1 153.5h.1M131.9 154.0h.1M126.8 153.7h.1M127.9 154.2h.1M126.4 153.2h.1M126.5 153.1h.1M131.0 152.7h.1M129.4 152.5h.1M129.9 153.3h.1M127.8 153.6h.1M130.4 153.5h.1M127.1 153.6h.1M127.4 154.8h.1M126.6 152.9h.1M131.9 153.4h.1M128.2 153.3h.1M127.9 153.0h.1M128.7 154.4h.1M127.6 153.6h.1M131.7 154.3h.1M127.9 152.9h.1M126.5 154.7h.1M131.2 154.9h.1M130.6 153.1h.1M127.3 153.6h.1M128.5 153.5h.1M127.2 153.9h.1M131.6 152.8h.1M131.7 153.9h.1M126.5 154.0h.1M127.5 153.2h.1M128.7 152.2h.1M129.9 153.2h.1M131.2 153.3h.1M131.6 154.0h.1M131.8 153.2h.1M129.6 152.9h.1M130.7 154.0h.1M131.6 153.8h.1M130.6 154.0h.1M129.0 153.6h.1M131.2 154.2h.1M130.0 153.9h.1M127.9 152.5h.1M126.4 153.7h.1M130.8 154.1h.1M126.3 153.6h.1M130.9 154.5h.1M130.9 153.3h.1M127.4 154.0h.1M131.3 152.9h.1M129.5 153.6h.1M131.9 153.3h.1M131.8 153.0h.1M126.3 152.8h.1M127.6 153.7h.1M131.1 153.8h.1M129.4 153.2h.1M127.1 152.8h.1M129.3 153.1h.1M128.3 154.0h.1M128.5 152.9h.1M126.9 154.3h.1M129.8 152.6h.1M131.2 153.8h.1M128.5 154.0h.1M128.1 154.3h.1M131.6 153.3h.1M130.0 153.1h.1M132.1 152.7h.1M131.3 154.1h.1M127.5 153.5h.1M130.4 153.3h.1M127.1 153.3h.1M127.2 153.7h.1M130.0 153.6h.1M126.4 154.3h.1M127.6 152.3h.1M132.0 154.1h.1M128.0 153.3h.1M130.5 153.5h.1M130.4 153.4h.1M129.4 153.5h.1M131.2 154.0h.1M127.4 153.7h.1M127.0 152.7h.1M131.0 153.6h.1M128.3 153.5h.1M127.4 153.8h.1M129.3 153.6h.1M130.3 153.5h.1M129.4 154.2h.1M131.1 152.9h.1M128.3 154.9h.1M131.0 153.3h.1M131.7 153.0h.1M129.7 154.1h.1M130.2 154.2h.1M129.6 154.3h.1M128.0 154.5h.1M127.7 153.9h.1M130.5 153.6h.1M127.1 153.8h.1M128.6 153.6h.1M128.4 153.3h.1M131.5 154.6h.1M129.4 154.7h.1M127.8 153.6h.1M128.8 153.5h.1M126.6 153.3h.1M127.9 152.6h.1M130.3 153.2h.1M127.7 153.3h.1M128.0 153.6h.1M131.7 153.0h.1M127.8 152.5h.1M129.7 154.0h.1M132.1 154.6h.1M126.7 152.3h.1M128.7 153.5h.1M131.0 154.1h.1M130.8 152.9h.1M129.9 152.7h.1M130.5 153.6h.1M127.1 153.5h.1M126.6 153.2h.1M126.9 154.6h.1M131.6 154.5h.1M127.3 154.0h.1M130.3 153.6h.1M126.7 153.4h.1M131.5 154.1h.1M130.8 153.5h.1M131.3 154.5h.1M132.1 154.4h.1M130.1 153.2h.1M131.5 154.1h.1M132.2 154.6h.1M126.8 154.0h.1M126.5 153.0h.1M130.7 153.5h.1M129.7 153.4h.1M127.7 153.7h.1M130.3 153.6h.1M130.2 153.4h.1M128.2 154.1h.1M126.5 154.4h.1M132.1 153.3h.1M129.5 152.7h.1M126.8 153.8h.1M131.0 153.6h.1M131.5 153.9h.1M128.4 153.2h.1M131.0 153.8h.1M126.6 153.1h.1M130.4 154.3h.1M132.1 154.6h.1M130.7 153.1h.1M127.8 152.1h.1M128.6 153.3h.1M130.2 153.3h.1M128.8 153.8h.1M132.2 153.6h.1M130.9 153.9h.1M128.8 155.3h.1M130.4 153.3h.1M126.6 153.4h.1M128.2 153.9h.1M126.4 152.5h.1M128.2 154.1h.1M127.3 153.3h.1M129.1 152.8h.1M128.2 153.1h.1M126.6 153.9h.1M127.2 154.1h.1M128.7 154.4h.1M129.8 153.9h.1M127.8 153.2h.1M128.6 154.0h.1M131.9 153.6h.1M128.7 155.1h.1M129.1 152.4h.1M129.2 154.6h.1M131.8 154.1h.1M127.2 153.9h.1M129.0 153.6h.1M131.1 153.3h.1M129.4 153.1h.1M128.2 152.7h.1M128.5 154.9h.1M127.4 154.2h.1M130.2 154.1h.1M131.3 153.9h.1M130.6 152.5h.1M126.5 153.5h.1M130.9 153.7h.1M130.7 154.4h.1M128.5 153.1h.1M127.9 153.8h.1M132.0 153.5h.1M127.0 153.7h.1M130.9 153.2h.1M127.8 153.9h.1M129.5 153.7h.1M130.4 152.5h.1M131.7 154.4h.1M130.8 155.0h.1M126.7 153.1h.1M131.4 154.4h.1M132.0 153.1h.1M126.4 153.3h.1M128.0 154.7h.1M131.5 153.8h.1M129.4 154.6h.1M126.3 153.8h.1M130.8 154.3h.1M132.1 153.6h.1M127.1 154.5h.1M131.4 154.7h.1M129.9 154.1h.1M129.9 153.3h.1M126.5 153.5h.1M132.0 153.1h.1M132.2 154.0h.1M127.0 154.0h.1M131.1 153.3h.1M128.3 154.2h.1M126.4 153.3h.1M129.3 154.8h.1M131.3 154.2h.1M129.7 154.6h.1M126.5 153.2h.1M131.4 153.1h.1M128.8 152.6h.1M129.6 154.1h.1M128.6 153.0h.1M132.0 154.5h.1M129.4 153.8h.1M131.1 154.1h.1M132.5 154.5h.1M137.7 156.7h.1M136.5 154.9h.1M138.3 156.5h.1M135.2 154.8h.1M135.2 153.8h.1M139.9 159.2h.1M137.6 157.2h.1M137.3 156.7h.1M136.6 155.7h.1M134.5 155.2h.1M136.0 155.3h.1M139.6 158.8h.1M137.8 158.8h.1M133.0 153.8h.1M139.0 157.7h.1M138.1 156.7h.1M137.8 156.7h.1M135.1 154.6h.1M138.5 159.5h.1M137.1 156.0h.1M138.9 158.4h.1M132.9 153.6h.1M137.2 155.1h.1M134.0 155.2h.1M136.3 154.4h.1M135.1 154.7h.1M137.1 155.9h.1M133.3 154.0h.1M136.5 154.8h.1M135.2 154.5h.1M138.2 156.8h.1M134.3 154.6h.1M135.5 154.4h.1M135.0 153.3h.1M139.3 159.4h.1M133.0 153.9h.1M133.9 153.7h.1M138.2 158.9h.1M135.6 154.7h.1M138.1 157.6h.1M132.9 152.8h.1M133.5 153.3h.1M138.2 155.7h.1M134.0 152.7h.1M134.1 154.8h.1M135.7 154.4h.1M137.2 156.6h.1M133.4 154.8h.1M132.6 154.3h.1M135.6 155.0h.1M138.8 156.4h.1M138.4 158.2h.1M137.0 156.1h.1M135.2 154.4h.1M138.0 159.4h.1M135.2 154.2h.1M138.1 157.8h.1M137.1 158.1h.1M137.4 157.0h.1M138.6 154.1h.1M134.3 153.5h.1M137.1 156.0h.1M132.1 153.1h.1M137.9 159.7h.1M136.9 155.6h.1M136.9 154.9h.1M137.5 159.7h.1M137.9 158.8h.1M134.8 154.5h.1M138.4 159.5h.1M138.2 159.3h.1M133.8 153.6h.1M136.6 154.5h.1M135.9 154.5h.1M137.6 155.5h.1M138.3 156.3h.1M135.7 155.2h.1M137.9 156.7h.1M137.3 156.6h.1M137.0 155.2h.1M132.3 153.8h.1M134.6 154.2h.1M136.3 153.7h.1M137.8 157.3h.1M135.0 155.5h.1M134.6 154.0h.1M132.4 153.4h.1M137.6 157.4h.1M135.7 154.6h.1M137.4 155.2h.1M138.1 159.0h.1M137.6 156.8h.1M134.3 154.5h.1M134.9 154.0h.1M137.4 156.5h.1M137.8 158.6h.1M133.8 153.9h.1M136.8 153.9h.1M133.7 155.0h.1M133.1 154.6h.1M138.1 157.0h.1M135.4 155.6h.1M136.8 153.8h.1M137.4 158.8h.1M132.1 154.4h.1M134.2 154.3h.1M132.6 152.8h.1M132.2 153.0h.1M137.2 155.4h.1M135.3 154.2h.1M138.6 156.5h.1M133.6 155.0h.1M133.4 153.5h.1M138.9 157.1h.1M132.5 154.3h.1M137.2 155.7h.1M132.6 152.7h.1M139.4 159.4h.1M138.4 159.0h.1M132.7 152.3h.1M138.9 159.5h.1M137.6 155.4h.1M137.4 157.8h.1M137.9 158.7h.1M136.0 155.5h.1M137.2 154.3h.1M134.5 155.8h.1M136.4 157.1h.1M132.4 153.0h.1M137.9 157.0h.1M136.2 158.3h.1M137.6 157.2h.1M137.3 156.5h.1M135.6 153.6h.1M136.7 157.6h.1M135.6 155.0h.1M138.2 156.2h.1M134.7 153.6h.1M134.4 154.7h.1M137.5 156.8h.1M133.5 154.7h.1M139.3 158.2h.1M138.1 158.4h.1M137.7 155.3h.1M134.8 153.6h.1M135.1 155.0h.1M133.5 153.8h.1M138.5 157.4h.1M138.9 159.7h.1M133.4 152.6h.1M132.8 152.8h.1M136.3 154.8h.1M139.1 159.8h.1M134.0 154.3h.1M134.0 154.3h.1M136.1 154.5h.1M135.4 154.2h.1M134.4 154.8h.1M137.2 156.1h.1M133.0 154.2h.1M132.9 154.0h.1M137.2 154.8h.1M138.0 159.7h.1M133.9 154.3h.1M134.5 153.6h.1M134.3 153.9h.1M132.9 153.5h.1M132.9 154.6h.1M135.2 154.4h.1M134.8 154.4h.1M136.8 156.5h.1M133.6 154.1h.1M138.4 159.2h.1M137.6 155.6h.1M139.5 157.8h.1M133.3 153.6h.1M139.3 158.0h.1M136.0 154.8h.1M134.8 155.3h.1M138.5 158.9h.1M136.8 154.4h.1M135.4 153.4h.1M135.5 155.3h.1M138.5 155.3h.1M134.3 154.5h.1M136.4 155.8h.1M135.1 154.7h.1M133.5 152.7h.1M132.3 153.3h.1M139.0 158.2h.1M137.1 159.3h.1M134.8 154.2h.1M138.1 157.8h.1M136.2 154.5h.1M135.3 154.8h.1M135.2 153.5h.1M135.1 154.8h.1M135.0 155.3h.1M133.0 154.7h.1M139.2 158.1h.1M136.4 154.5h.1M133.8 154.3h.1M136.4 154.3h.1M136.4 155.4h.1M138.0 157.6h.1M133.4 154.7h.1M136.4 155.7h.1M138.3 157.7h.1M138.5 158.2h.1M133.5 154.1h.1M136.0 154.0h.1M138.8 156.7h.1M135.1 154.9h.1M137.9 156.6h.1M134.2 155.0h.1M135.4 154.1h.1M132.7 154.2h.1M137.5 156.7h.1M135.0 154.1h.1" stroke="#111" stroke-width="0.8" stroke-linecap="round" fill="none" opacity="0.8"/>
<path d="M130.2 140.1h.1M135.2 136.8h.1M128.2 135.6h.1M129.4 143.0h.1M132.4 130.5h.1M131.1 132.4h.1M132.2 126.8h.1M130.4 134.7h.1M128.1 140.0h.1M133.8 134.1h.1M131.5 139.3h.1M134.7 131.7h.1M136.3 140.8h.1M129.8 134.8h.1M128.3 133.0h.1M129.5 143.2h.1M128.7 135.3h.1M137.5 135.9h.1M132.8 138.7h.1M140.2 135.9h.1M129.1 129.5h.1M133.5 136.7h.1M132.3 137.6h.1M130.9 137.2h.1M135.0 134.2h.1M131.2 144.0h.1M130.9 131.8h.1M131.8 135.9h.1M128.5 130.1h.1M128.4 129.6h.1M137.6 138.5h.1M133.5 138.5h.1M134.2 136.0h.1M133.6 127.6h.1M130.5 133.9h.1M137.6 136.5h.1M130.4 138.3h.1M125.8 141.0h.1M133.7 137.5h.1M135.8 139.9h.1M131.6 143.3h.1M132.6 124.1h.1M134.9 140.1h.1M137.1 133.2h.1M133.5 137.6h.1M137.7 136.3h.1M132.4 130.4h.1M139.3 131.0h.1M125.9 137.4h.1M134.9 134.4h.1M132.3 138.8h.1M131.7 133.4h.1M126.3 145.6h.1M135.4 134.1h.1M130.5 145.2h.1M127.4 131.6h.1M128.8 138.0h.1M130.4 140.7h.1M131.6 129.0h.1M127.8 130.6h.1M127.7 137.2h.1M132.8 140.8h.1M131.0 141.8h.1M138.8 137.9h.1M129.6 140.3h.1M134.1 129.7h.1M138.0 133.2h.1M130.5 142.2h.1M155.7 161.6h.1M158.4 162.8h.1M145.5 165.7h.1M158.8 165.1h.1M146.8 171.1h.1M163.6 168.1h.1M163.2 153.5h.1M161.9 156.9h.1M157.0 161.5h.1M165.2 162.1h.1M150.9 157.7h.1M156.5 162.1h.1M149.2 160.9h.1M155.6 163.2h.1M148.4 163.5h.1M171.1 160.5h.1M158.4 159.8h.1M149.5 163.3h.1M149.6 165.2h.1M170.0 158.9h.1M166.2 154.1h.1M167.3 159.3h.1M159.9 166.3h.1M168.1 156.2h.1M166.1 161.1h.1M146.6 164.5h.1M143.4 160.2h.1M147.7 166.6h.1M162.7 164.1h.1M147.4 165.6h.1M151.0 154.6h.1M160.6 167.3h.1M152.7 155.8h.1M149.3 162.3h.1M168.6 166.3h.1M164.5 162.9h.1M167.1 166.2h.1M168.2 164.6h.1M159.9 160.0h.1M158.6 168.6h.1M145.0 169.2h.1M158.1 161.3h.1M155.0 159.6h.1M169.2 164.8h.1M166.0 160.2h.1M169.6 167.7h.1M170.4 167.0h.1M164.7 170.9h.1M161.3 166.0h.1M156.8 158.9h.1M159.9 159.8h.1M151.9 166.4h.1M163.5 172.9h.1M159.4 162.1h.1M142.5 159.5h.1M136.7 170.4h.1M153.8 163.2h.1M156.0 167.1h.1M157.4 168.9h.1M171.2 159.2h.1M154.6 162.1h.1M149.0 161.2h.1M163.3 166.3h.1M168.6 166.9h.1M174.2 161.5h.1M151.2 166.5h.1M157.8 155.4h.1M156.3 165.5h.1M166.0 163.8h.1M160.2 157.0h.1M166.2 163.3h.1M156.9 158.8h.1M158.2 170.7h.1M159.7 162.4h.1M159.7 164.6h.1M174.8 154.8h.1M140.1 164.3h.1M169.5 164.8h.1M160.5 158.6h.1M163.8 154.0h.1M179.4 152.6h.1M145.6 159.6h.1M151.6 164.4h.1M146.4 155.4h.1M176.2 150.7h.1M145.7 158.1h.1M155.0 162.5h.1M169.3 165.4h.1M174.1 159.1h.1M170.9 174.2h.1M172.1 155.9h.1M155.6 157.1h.1M154.3 157.0h.1M178.2 126.3h.1M151.4 119.6h.1M144.4 168.2h.1M127.9 132.9h.1M146.3 166.5h.1M169.2 133.1h.1M171.2 121.7h.1M177.3 132.0h.1M136.0 152.8h.1M127.2 174.8h.1" stroke="#222" stroke-width="0.7" stroke-linecap="round" fill="none" opacity="0.48"/>
<path d="M146.8 118.8L146.8 161.5" stroke="#333" stroke-width="0.9"/>
<path d="M126.3 149.2L181.4 149.2" stroke="#333" stroke-width="1.1"/>
<rect x="123.1" y="196.8" width="66.9" height="64" fill="none" stroke="#777" stroke-width="0.9"/>
<path d="M124.3 260.8v2M123.1 258.5h-2M129.12 260.8v1M123.1 253.89h-1M131.93 260.8v1M123.1 251.2h-1M133.93 260.8v1M123.1 249.29h-1M135.48 260.8v1M123.1 247.81h-1M136.75 260.8v1M123.1 246.59h-1M137.82 260.8v1M123.1 245.57h-1M138.75 260.8v1M123.1 244.68h-1M139.57 260.8v1M123.1 243.9h-1M140.3 260.8v2M123.1 243.2h-2M145.12 260.8v1M123.1 238.59h-1M147.93 260.8v1M123.1 235.9h-1M149.93 260.8v1M123.1 233.99h-1M151.48 260.8v1M123.1 232.51h-1M152.75 260.8v1M123.1 231.29h-1M153.82 260.8v1M123.1 230.27h-1M154.75 260.8v1M123.1 229.38h-1M155.57 260.8v1M123.1 228.6h-1M156.3 260.8v2M123.1 227.9h-2M161.12 260.8v1M123.1 223.29h-1M163.93 260.8v1M123.1 220.6h-1M165.93 260.8v1M123.1 218.69h-1M167.48 260.8v1M123.1 217.21h-1M168.75 260.8v1M123.1 215.99h-1M169.82 260.8v1M123.1 214.97h-1M170.75 260.8v1M123.1 214.08h-1M171.57 260.8v1M123.1 213.3h-1M172.3 260.8v2M123.1 212.6h-2M177.12 260.8v1M123.1 207.99h-1M179.93 260.8v1M123.1 205.3h-1M181.93 260.8v1M123.1 203.39h-1M183.48 260.8v1M123.1 201.91h-1M184.75 260.8v1M123.1 200.69h-1M185.82 260.8v1M123.1 199.67h-1M186.75 260.8v1M123.1 198.78h-1M187.57 260.8v1M123.1 198h-1M188.3 260.8v2M123.1 197.3h-2" stroke="#555" stroke-width="0.7" fill="none"/>
<text x="124.1" y="268.8" font-size="4.6" fill="#333" text-anchor="middle">10<tspan dy="-1.8" font-size="3.2">0</tspan></text>
<text x="119.7" y="259.1" font-size="4.6" fill="#333" text-anchor="middle" transform="rotate(-90 119.7 259.1)">10<tspan dy="-1.8" font-size="3.2">0</tspan></text>
<text x="140.1" y="268.8" font-size="4.6" fill="#333" text-anchor="middle">10<tspan dy="-1.8" font-size="3.2">1</tspan></text>
<text x="119.7" y="243.8" font-size="4.6" fill="#333" text-anchor="middle" transform="rotate(-90 119.7 243.8)">10<tspan dy="-1.8" font-size="3.2">1</tspan></text>
<text x="156.1" y="268.8" font-size="4.6" fill="#333" text-anchor="middle">10<tspan dy="-1.8" font-size="3.2">2</tspan></text>
<text x="119.7" y="228.5" font-size="4.6" fill="#333" text-anchor="middle" transform="rotate(-90 119.7 228.5)">10<tspan dy="-1.8" font-size="3.2">2</tspan></text>
<text x="172.1" y="268.8" font-size="4.6" fill="#333" text-anchor="middle">10<tspan dy="-1.8" font-size="3.2">3</tspan></text>
<text x="119.7" y="213.2" font-size="4.6" fill="#333" text-anchor="middle" transform="rotate(-90 119.7 213.2)">10<tspan dy="-1.8" font-size="3.2">3</tspan></text>
<text x="188.1" y="268.8" font-size="4.6" fill="#333" text-anchor="middle">10<tspan dy="-1.8" font-size="3.2">4</tspan></text>
<text x="119.7" y="197.9" font-size="4.6" fill="#333" text-anchor="middle" transform="rotate(-90 119.7 197.9)">10<tspan dy="-1.8" font-size="3.2">4</tspan></text>
<path d="M123.9 241.05L124.07 240L124.55 239.05L125.3 238.3L126.25 237.82L127.3 237.65L135.3 237.65L136.6 237.86L137.77 238.45L138.7 239.38L139.29 240.55L139.5 241.85L139.5 256.9L139.33 257.95L138.85 258.9L138.1 259.65L137.15 260.13L136.1 260.3L125.9 260.3L125.28 260.2L124.72 259.92L124.28 259.48L124 258.92L123.9 258.3Z" fill="#000"/>
<path d="M138.6 251.7h.1M138.3 251.1h.1M138.5 255.8h.1M137.9 242.9h.1M138.2 246.8h.1M140.0 241.6h.1M138.2 249.1h.1M138.4 256.1h.1M139.1 250.3h.1M138.8 255.9h.1M139.2 251.9h.1M138.1 242.3h.1M138.0 243.0h.1M139.5 252.8h.1M138.2 257.6h.1M138.6 244.2h.1M138.8 257.1h.1M137.5 253.2h.1M138.5 243.8h.1M138.2 246.5h.1M139.0 255.8h.1M138.5 256.1h.1M137.2 253.1h.1M139.2 257.6h.1M137.0 254.7h.1M138.4 257.2h.1M138.2 248.1h.1M138.3 248.9h.1M138.7 247.0h.1M139.3 245.2h.1M138.1 246.6h.1M138.3 243.9h.1M139.2 257.5h.1M139.0 252.0h.1M139.1 257.6h.1M138.9 243.8h.1M138.5 252.1h.1M138.4 249.0h.1M138.4 256.9h.1M139.3 241.8h.1M139.7 251.7h.1M140.0 250.4h.1M138.0 242.4h.1M138.5 249.5h.1M138.7 246.4h.1M138.6 246.5h.1M137.9 242.2h.1M140.1 255.5h.1M139.7 244.8h.1M138.6 256.9h.1M138.4 243.8h.1M138.7 256.3h.1M137.9 257.8h.1M138.5 249.7h.1M139.2 256.0h.1M139.8 245.9h.1M139.3 243.9h.1M139.5 254.0h.1M138.0 251.1h.1M136.5 255.9h.1M139.6 250.8h.1M138.8 258.2h.1M138.6 248.6h.1M139.8 248.4h.1M138.0 254.5h.1M138.0 258.3h.1M138.2 247.0h.1M139.7 245.7h.1M139.3 255.3h.1M137.5 246.4h.1M139.8 244.1h.1M138.7 251.0h.1M139.0 246.5h.1M138.2 243.3h.1M139.9 252.0h.1M139.0 248.1h.1M139.5 243.3h.1M138.0 246.7h.1M139.1 248.6h.1M138.7 244.0h.1M138.5 253.2h.1M138.1 242.3h.1M138.2 248.6h.1M137.9 246.8h.1M138.2 257.0h.1M138.7 243.6h.1M139.1 242.8h.1M137.6 247.0h.1M138.0 257.7h.1M138.3 249.6h.1M137.6 256.3h.1M138.5 242.2h.1M138.5 254.8h.1M138.5 253.5h.1M138.9 258.0h.1M139.3 244.6h.1M139.2 243.4h.1M138.9 258.0h.1M139.1 257.3h.1M138.1 250.2h.1M138.0 256.7h.1M139.1 255.4h.1M139.0 251.3h.1M140.1 249.4h.1M138.5 241.9h.1M138.0 252.9h.1M138.9 254.1h.1M138.4 251.4h.1M138.1 254.3h.1M139.6 249.6h.1M140.0 245.5h.1M138.9 257.5h.1M138.2 242.9h.1M138.8 246.1h.1M138.6 245.0h.1M137.7 251.8h.1M139.2 249.3h.1M138.9 251.2h.1M139.5 249.4h.1M138.3 251.8h.1M138.7 243.3h.1M138.6 247.8h.1M137.5 250.8h.1M140.3 251.8h.1M137.3 248.9h.1M137.9 242.4h.1M138.4 253.3h.1M137.6 250.0h.1M139.0 257.8h.1M138.4 247.3h.1M138.7 253.0h.1M138.8 242.2h.1M138.7 253.1h.1M138.7 242.6h.1M138.6 251.9h.1M139.0 252.2h.1M139.2 253.6h.1M138.5 250.0h.1M138.4 249.7h.1M138.4 243.5h.1M138.9 245.8h.1M138.4 255.1h.1M138.4 257.7h.1M137.7 247.2h.1M140.0 250.6h.1M137.9 246.3h.1M139.8 246.3h.1M139.2 254.9h.1M139.4 255.6h.1M138.9 251.9h.1M139.0 256.2h.1M138.9 241.6h.1M139.1 256.8h.1M139.3 243.2h.1M139.7 241.9h.1M138.0 243.5h.1M139.0 245.8h.1M139.8 250.6h.1M139.6 242.5h.1M138.0 256.9h.1M138.9 248.9h.1M138.9 258.1h.1M138.9 253.5h.1M137.2 245.8h.1M139.3 244.9h.1M137.6 255.3h.1M140.2 251.2h.1M139.1 243.1h.1M138.6 246.1h.1M139.1 243.6h.1M138.8 251.5h.1M138.3 256.6h.1M138.6 247.7h.1M138.9 242.0h.1M138.2 257.4h.1M139.2 255.5h.1M139.5 242.1h.1M139.4 246.2h.1M139.5 248.0h.1M139.6 258.1h.1M139.2 242.0h.1M139.6 258.3h.1M138.8 252.0h.1M139.0 248.3h.1M139.7 248.4h.1M140.0 252.7h.1M138.5 246.8h.1M137.7 246.6h.1M140.2 254.9h.1M139.5 247.0h.1M139.9 255.2h.1M139.3 247.2h.1M138.9 253.0h.1M138.3 241.5h.1M138.1 250.6h.1M139.7 249.0h.1M139.4 254.7h.1M138.9 251.8h.1M138.0 252.6h.1M138.4 244.4h.1M138.3 256.0h.1M138.5 255.4h.1M136.8 250.3h.1M138.9 252.6h.1M139.8 246.1h.1M138.3 246.1h.1M138.7 250.8h.1M138.9 249.0h.1M138.0 243.6h.1M139.0 256.3h.1M138.2 253.6h.1M138.4 244.8h.1M138.9 257.3h.1M138.7 251.2h.1M138.8 249.4h.1M138.1 256.1h.1M139.2 243.2h.1M138.0 243.0h.1M139.3 258.0h.1M138.4 243.6h.1M137.9 249.1h.1M138.7 258.0h.1M138.0 246.8h.1M138.4 257.2h.1M138.6 244.3h.1M139.2 256.4h.1M139.3 241.5h.1M139.0 250.0h.1M138.5 257.3h.1M137.7 254.7h.1M138.6 253.0h.1M138.5 249.6h.1M138.6 254.6h.1M138.4 253.6h.1M138.4 244.2h.1M139.3 253.6h.1M137.8 255.2h.1M138.7 252.9h.1M139.6 245.5h.1M138.2 248.1h.1M138.0 245.1h.1M138.6 247.8h.1M138.5 248.4h.1M138.9 255.1h.1M139.6 254.1h.1M138.6 244.5h.1M139.1 255.2h.1M138.3 253.3h.1M138.4 247.1h.1M138.9 251.4h.1M138.3 243.3h.1M139.5 244.3h.1M138.4 246.0h.1M138.6 254.6h.1M138.0 244.6h.1M138.4 246.2h.1M138.0 250.2h.1M138.4 248.5h.1M137.5 245.0h.1M138.7 250.4h.1M139.9 258.4h.1M137.4 250.1h.1M139.9 256.1h.1M138.6 255.7h.1M139.3 244.1h.1M138.0 249.9h.1M140.1 248.9h.1M138.0 255.3h.1M138.7 253.4h.1M139.8 252.2h.1M137.8 256.7h.1M137.1 243.3h.1M138.7 243.5h.1M138.2 249.7h.1M138.0 252.6h.1M138.1 252.8h.1M137.7 256.0h.1M139.7 244.5h.1M139.5 243.3h.1M137.8 247.4h.1M138.6 253.2h.1M138.4 246.6h.1M139.5 253.8h.1M138.1 250.7h.1M139.8 246.4h.1M138.7 250.9h.1M138.2 249.3h.1M138.6 255.8h.1M138.3 255.1h.1M140.3 245.4h.1M138.8 245.2h.1M138.4 255.8h.1M138.8 255.8h.1M139.7 256.1h.1M138.0 247.8h.1M137.5 243.7h.1M139.6 250.7h.1M139.1 257.6h.1M138.4 251.4h.1M138.7 253.1h.1M139.5 242.0h.1M136.8 248.4h.1M139.6 244.5h.1M138.6 242.9h.1M139.2 245.2h.1M138.7 246.4h.1M140.9 250.0h.1M138.3 251.9h.1M139.5 250.6h.1M136.9 247.5h.1M138.7 244.1h.1M139.3 249.9h.1M137.6 256.7h.1M137.3 256.7h.1M138.8 257.0h.1M139.4 256.6h.1M139.5 251.2h.1M138.2 250.3h.1M138.9 245.2h.1M137.7 254.1h.1M139.9 251.3h.1M138.3 248.3h.1M139.6 242.5h.1M138.5 244.5h.1M138.5 253.1h.1M139.8 250.2h.1M138.1 254.6h.1M139.6 243.4h.1M138.5 252.9h.1M138.1 256.4h.1M138.1 242.0h.1M139.5 258.0h.1M138.6 242.5h.1M138.5 253.8h.1M137.6 250.5h.1M139.5 246.7h.1M139.4 247.4h.1M138.9 242.1h.1M139.2 254.3h.1M136.4 241.9h.1M138.3 257.7h.1M138.8 257.9h.1M138.8 255.6h.1M138.3 243.6h.1M138.9 252.0h.1M138.2 255.2h.1M138.2 248.3h.1M137.8 248.7h.1M138.8 254.9h.1M138.2 241.9h.1M138.3 247.8h.1M139.7 255.8h.1M138.7 255.0h.1M138.7 257.2h.1M137.6 256.2h.1M138.3 244.9h.1M139.4 257.1h.1M139.1 245.7h.1M138.7 250.8h.1M138.6 251.2h.1M138.7 252.8h.1M139.0 252.0h.1M138.5 245.4h.1M137.0 256.2h.1M140.1 244.0h.1M139.5 254.1h.1M138.6 241.6h.1M139.7 256.6h.1M137.8 256.3h.1M139.6 245.9h.1M138.8 250.8h.1M139.3 249.7h.1M138.5 257.3h.1M138.8 246.4h.1M139.1 242.8h.1M139.4 248.2h.1M139.1 246.7h.1M139.0 245.9h.1M138.3 254.6h.1M139.9 248.0h.1M138.8 243.9h.1M138.5 244.6h.1M138.5 256.2h.1M137.9 249.3h.1M138.2 244.9h.1M137.6 249.6h.1M138.8 243.4h.1M138.6 249.6h.1M138.9 245.5h.1M137.8 248.0h.1M138.4 257.2h.1M138.3 249.7h.1M139.4 254.0h.1M137.7 247.0h.1M137.6 244.8h.1M139.6 247.4h.1M139.0 245.1h.1M137.6 250.1h.1M139.6 252.9h.1M139.7 246.0h.1M139.5 253.4h.1M137.3 250.2h.1M138.8 254.9h.1M138.1 254.4h.1M138.5 257.4h.1M137.6 253.1h.1M139.9 242.6h.1M138.2 247.3h.1M138.9 248.2h.1M139.3 256.2h.1M139.1 256.2h.1M139.0 245.2h.1M138.4 256.7h.1M138.9 248.5h.1M138.5 252.9h.1M137.1 252.8h.1M139.4 248.8h.1M138.3 251.0h.1M138.3 249.5h.1M138.4 253.0h.1M133.9 238.6h.1M131.3 237.0h.1M134.4 237.5h.1M131.0 238.1h.1M126.9 238.8h.1M131.8 238.7h.1M129.3 237.6h.1M133.1 238.1h.1M129.0 237.6h.1M132.3 237.9h.1M128.2 238.2h.1M132.3 237.9h.1M131.9 237.8h.1M132.7 237.4h.1M126.7 237.1h.1M130.5 238.0h.1M133.2 238.2h.1M130.5 238.5h.1M129.1 237.6h.1M133.3 237.7h.1M132.6 238.8h.1M130.4 238.3h.1M134.1 238.6h.1M132.6 237.7h.1M135.5 237.7h.1M132.4 237.4h.1M135.2 238.7h.1M133.1 237.4h.1M130.5 237.1h.1M126.5 237.6h.1M133.1 238.8h.1M130.3 238.1h.1M134.3 238.2h.1M134.4 238.2h.1M134.0 238.1h.1M131.4 238.0h.1M132.2 237.2h.1M132.2 239.1h.1M130.5 238.0h.1M130.1 238.8h.1M135.3 237.2h.1M126.4 238.4h.1M134.3 237.4h.1M127.6 237.3h.1M127.4 238.2h.1M133.4 238.7h.1M126.5 238.9h.1M132.4 238.9h.1M128.6 237.9h.1M134.2 238.6h.1M131.5 237.7h.1M128.5 237.8h.1M131.7 238.2h.1M133.1 238.0h.1M134.1 238.6h.1M126.6 237.0h.1M134.8 238.8h.1M133.9 237.7h.1M128.5 239.0h.1M131.9 238.8h.1M131.2 237.4h.1M131.9 238.1h.1M128.6 238.5h.1M134.8 237.6h.1M132.8 237.6h.1M131.6 237.9h.1M135.0 238.5h.1M129.8 238.6h.1M131.3 237.8h.1M132.2 238.6h.1M132.0 239.0h.1M129.4 238.6h.1M131.8 237.7h.1M130.3 237.6h.1M133.0 238.3h.1M129.7 238.6h.1M130.5 238.3h.1M131.8 237.9h.1M128.1 237.5h.1M131.4 238.8h.1M134.4 238.0h.1M132.7 239.2h.1M131.0 237.4h.1M127.6 237.9h.1M131.6 237.7h.1M130.1 239.2h.1M129.8 238.8h.1M132.9 237.8h.1M135.3 236.9h.1M131.1 238.8h.1M128.1 238.2h.1M132.6 237.4h.1M130.5 237.2h.1M134.1 238.3h.1M133.3 238.0h.1M129.6 238.2h.1M133.9 238.3h.1M131.3 237.9h.1M132.8 237.9h.1M127.0 238.5h.1M128.9 238.0h.1M134.2 237.9h.1M126.6 238.5h.1M132.7 236.9h.1M134.8 238.8h.1M134.1 238.4h.1M127.8 237.6h.1M127.6 238.0h.1M129.8 238.8h.1M126.9 238.4h.1M132.0 237.0h.1M132.4 237.5h.1M132.6 238.2h.1M133.9 239.2h.1M129.3 238.6h.1M126.5 238.0h.1M128.0 238.4h.1M133.9 238.1h.1M127.7 237.9h.1M127.4 238.3h.1M132.7 236.8h.1M131.9 238.7h.1M134.7 238.4h.1M133.8 237.8h.1M134.4 237.6h.1M134.6 237.4h.1M126.5 238.3h.1M135.0 238.2h.1M128.8 238.2h.1M127.2 239.1h.1M134.6 236.8h.1M129.1 237.7h.1M127.7 237.6h.1M131.6 238.7h.1M133.9 238.0h.1M129.4 237.5h.1M134.2 238.2h.1M135.2 238.3h.1M131.3 239.1h.1M128.5 238.3h.1M129.1 237.8h.1M127.9 237.8h.1M130.4 237.6h.1M130.0 238.4h.1M129.1 238.6h.1M130.1 238.0h.1M128.8 238.0h.1M134.2 238.9h.1M134.7 238.2h.1M130.4 238.4h.1M127.5 237.5h.1M129.1 237.7h.1M132.6 236.8h.1M135.3 237.3h.1M133.3 238.3h.1M127.0 238.8h.1M129.6 237.9h.1M127.0 237.4h.1M131.5 238.2h.1M130.0 238.8h.1M130.5 238.0h.1M129.0 238.6h.1M127.2 238.1h.1M133.5 237.4h.1M129.5 237.6h.1M127.0 237.9h.1M128.2 239.5h.1M126.9 238.4h.1M134.4 238.0h.1M128.0 238.3h.1M134.9 238.2h.1M135.2 237.8h.1M127.5 238.0h.1M133.6 237.9h.1M128.4 238.5h.1M132.9 239.0h.1M135.2 238.9h.1M130.6 237.9h.1M128.4 238.4h.1M132.4 237.7h.1M131.9 237.5h.1M128.6 238.1h.1M131.3 238.5h.1M131.0 238.1h.1M130.1 238.6h.1M129.8 238.6h.1M134.8 238.6h.1M132.4 238.0h.1M130.1 237.3h.1M131.5 239.2h.1M132.1 237.8h.1M134.3 238.5h.1M130.5 238.4h.1M133.8 237.9h.1M127.8 239.2h.1M133.0 238.5h.1M132.8 238.1h.1M126.5 237.9h.1M132.3 237.5h.1M127.1 237.3h.1M134.7 238.4h.1M131.5 237.8h.1M127.8 237.8h.1M133.1 238.4h.1M128.9 237.9h.1M127.0 238.5h.1M131.5 237.7h.1M133.7 237.8h.1M132.9 238.6h.1M133.7 237.7h.1M132.9 238.5h.1M129.9 238.4h.1M128.4 238.1h.1M129.5 237.1h.1M134.0 237.3h.1M126.6 237.5h.1M127.1 237.3h.1M134.8 238.6h.1M126.5 237.6h.1M131.5 237.4h.1M134.6 237.8h.1M131.1 238.0h.1M133.2 237.1h.1M126.7 238.5h.1M133.1 238.5h.1M132.0 237.7h.1M132.2 238.6h.1M128.9 237.2h.1M131.9 237.8h.1M133.3 238.0h.1M134.1 238.1h.1M127.1 238.8h.1M134.5 237.9h.1M132.9 237.5h.1M131.4 238.2h.1M133.1 238.2h.1M133.2 238.4h.1M131.4 237.9h.1M134.2 238.2h.1M134.4 237.8h.1M133.8 238.4h.1M128.4 237.7h.1M129.9 237.7h.1M134.8 238.8h.1M131.6 237.6h.1M127.9 238.1h.1M133.7 238.4h.1M128.0 237.9h.1M135.2 238.6h.1M132.4 237.8h.1M135.0 238.7h.1M129.2 237.2h.1M134.4 237.3h.1M129.2 238.1h.1M127.1 238.9h.1M133.3 239.1h.1M134.9 237.6h.1M134.8 238.1h.1M127.6 237.8h.1M131.5 236.8h.1M135.6 237.2h.1M138.9 238.5h.1M136.1 237.8h.1M139.0 241.2h.1M135.6 238.0h.1M137.2 239.5h.1M136.2 237.6h.1M138.6 239.1h.1M135.6 237.8h.1M138.6 241.7h.1M138.9 239.6h.1M138.6 241.0h.1M137.9 238.0h.1M137.0 238.9h.1M137.4 239.1h.1M135.4 238.3h.1M138.1 240.4h.1M137.7 239.7h.1M138.3 239.8h.1M136.3 240.0h.1M135.7 236.7h.1M138.8 239.8h.1M139.2 240.8h.1M137.2 239.3h.1M137.7 238.7h.1M136.8 238.4h.1M136.7 238.2h.1M137.9 240.8h.1M138.1 239.4h.1M137.8 241.8h.1M138.3 239.7h.1M136.2 238.8h.1M136.7 238.7h.1M138.4 240.1h.1M137.6 238.1h.1M139.5 239.8h.1M138.6 239.9h.1M138.2 240.8h.1M139.2 239.0h.1M137.3 239.8h.1M137.7 239.4h.1M136.8 238.5h.1M136.3 238.7h.1M139.9 240.6h.1M138.9 239.9h.1M138.9 239.0h.1M138.7 240.7h.1M135.9 237.5h.1M138.3 239.7h.1M138.9 240.9h.1M138.4 239.3h.1M139.3 241.1h.1M136.1 237.7h.1M138.9 241.6h.1M136.5 239.4h.1M138.5 240.2h.1M137.2 241.7h.1M138.1 239.5h.1M136.7 238.9h.1M139.7 241.7h.1M136.1 240.1h.1M140.0 239.6h.1M138.2 239.7h.1M137.3 240.0h.1M139.2 240.5h.1M139.4 241.4h.1M139.4 241.5h.1M140.3 240.1h.1M138.4 241.0h.1M135.5 237.8h.1M137.5 238.6h.1M137.9 239.7h.1M138.0 238.9h.1M140.0 241.4h.1M138.5 241.4h.1M138.1 238.9h.1M139.8 241.3h.1M137.5 238.2h.1M137.9 241.0h.1M136.1 237.9h.1M138.8 241.8h.1M138.3 238.3h.1M139.0 241.7h.1M137.3 237.1h.1M136.5 239.2h.1M137.1 238.1h.1M136.7 239.0h.1M136.0 236.9h.1M139.9 240.3h.1M137.6 239.7h.1M138.4 238.9h.1M136.8 238.4h.1M137.1 239.9h.1M137.3 239.5h.1M135.4 238.0h.1M137.2 238.1h.1M136.2 238.4h.1M137.1 238.3h.1M137.8 238.7h.1M139.3 241.8h.1M137.0 239.4h.1M139.1 241.2h.1M139.1 240.2h.1M138.1 241.8h.1M140.0 240.5h.1M140.1 241.4h.1M136.2 238.0h.1M140.3 240.1h.1M137.0 239.1h.1M137.1 239.3h.1M135.9 238.5h.1M136.0 238.6h.1M139.7 239.4h.1M136.6 238.2h.1M138.5 239.9h.1M137.4 238.4h.1M139.4 239.2h.1M138.6 239.7h.1M136.5 238.5h.1M139.2 241.3h.1M139.5 239.8h.1M138.1 239.5h.1M139.3 239.2h.1M138.7 239.7h.1M137.2 238.7h.1M138.7 239.5h.1M136.6 236.8h.1M138.9 241.8h.1M139.5 239.7h.1M139.2 240.3h.1M138.9 240.3h.1M139.0 241.0h.1M138.2 238.6h.1M136.9 238.0h.1M135.5 237.8h.1M138.4 238.9h.1M136.1 238.7h.1M137.5 239.4h.1M135.6 238.8h.1M138.6 240.6h.1M137.2 238.8h.1M136.9 238.7h.1M139.3 240.6h.1M137.1 239.3h.1M137.7 239.2h.1M139.1 239.6h.1M135.6 236.9h.1M137.1 238.5h.1M139.9 241.8h.1M139.5 239.6h.1M135.9 238.8h.1M139.3 241.5h.1M138.4 241.5h.1M138.3 240.0h.1M135.4 237.8h.1M137.1 239.5h.1M137.7 238.4h.1M136.3 238.3h.1M138.3 239.7h.1M137.1 238.1h.1M138.1 240.3h.1M136.3 239.4h.1M139.1 241.3h.1M136.7 238.8h.1M135.4 238.2h.1M138.3 241.1h.1M136.4 238.9h.1M135.5 238.8h.1M138.2 241.6h.1M136.9 239.0h.1M138.2 240.4h.1M136.0 238.1h.1M141.0 240.1h.1M138.6 241.0h.1M136.4 239.4h.1M136.9 238.0h.1M135.9 239.0h.1M137.8 239.9h.1M137.4 239.0h.1M139.1 241.2h.1M137.4 238.6h.1M138.1 239.1h.1M137.4 238.8h.1M137.2 237.7h.1M135.7 237.5h.1M138.1 239.8h.1M136.9 238.6h.1M138.1 241.4h.1M138.9 239.7h.1M138.4 239.9h.1M140.3 240.8h.1M136.3 238.7h.1M140.1 241.0h.1M138.3 240.9h.1M136.1 239.3h.1M136.4 238.8h.1M135.6 237.8h.1M138.2 238.4h.1M135.9 238.7h.1M139.6 240.6h.1M136.7 238.7h.1M136.5 238.6h.1M138.9 241.4h.1M137.6 237.5h.1M137.3 238.5h.1M138.4 239.3h.1M137.4 240.0h.1M137.1 238.4h.1M138.6 239.6h.1M136.9 237.2h.1M138.1 240.3h.1M136.9 238.9h.1M136.4 238.9h.1M137.0 239.0h.1M137.0 238.0h.1M138.4 240.8h.1M139.6 240.1h.1M136.0 238.1h.1M138.4 241.3h.1M138.5 240.9h.1" stroke="#111" stroke-width="0.8" stroke-linecap="round" fill="none" opacity="0.8"/>
<path d="M128.1 220.4h.1M127.8 229.3h.1M137.0 218.5h.1M136.0 218.1h.1M129.5 212.1h.1M131.3 225.6h.1M138.6 228.4h.1M130.4 216.6h.1M133.7 220.5h.1M134.7 220.8h.1M132.2 215.1h.1M132.2 222.2h.1M131.7 223.2h.1M133.3 219.7h.1M127.4 217.4h.1M133.1 222.5h.1M133.5 224.5h.1M128.2 215.7h.1M134.5 221.5h.1M129.6 224.4h.1M126.1 223.3h.1M133.2 229.4h.1M134.9 216.3h.1M131.4 227.6h.1M127.8 220.6h.1M132.3 224.6h.1M136.1 221.2h.1M132.7 216.9h.1M127.7 214.4h.1M134.5 232.4h.1M132.2 216.0h.1M132.3 220.7h.1M133.1 228.2h.1M134.8 223.3h.1M132.5 222.7h.1M129.5 213.1h.1M132.5 219.2h.1M133.3 216.1h.1M137.0 214.0h.1M128.5 223.5h.1M132.4 225.6h.1M129.8 218.5h.1M133.8 219.1h.1M130.9 223.8h.1M136.2 217.3h.1M130.5 227.1h.1M129.0 226.1h.1M127.5 222.0h.1M129.1 217.0h.1M128.3 224.4h.1M132.3 225.0h.1M133.4 229.7h.1M132.6 219.3h.1M134.1 228.9h.1M129.9 220.4h.1M135.0 224.3h.1M132.5 221.4h.1M134.4 222.3h.1M135.0 228.4h.1M131.6 218.9h.1M137.2 225.6h.1M135.7 220.8h.1M131.4 221.8h.1M139.0 218.8h.1M138.7 222.8h.1M127.4 213.1h.1M124.9 220.8h.1M130.7 226.4h.1M134.5 225.7h.1M136.2 214.8h.1M135.2 217.0h.1M132.8 220.1h.1M136.3 230.2h.1M135.4 220.1h.1M131.3 221.9h.1M133.5 220.9h.1M136.6 223.3h.1M130.6 217.9h.1M130.7 223.1h.1M129.9 224.1h.1M138.0 226.6h.1M135.2 218.1h.1M135.9 225.9h.1M131.6 230.5h.1M132.8 225.5h.1M137.2 225.0h.1M131.9 211.2h.1M137.1 227.9h.1M132.8 230.4h.1M132.8 227.4h.1M134.8 224.2h.1M135.9 225.6h.1M139.1 235.3h.1M153.6 249.8h.1M156.4 249.5h.1M169.7 243.3h.1M162.2 239.3h.1M140.8 248.1h.1M161.9 252.7h.1M163.0 243.3h.1M151.7 240.0h.1M163.3 245.2h.1M162.1 249.7h.1M144.0 252.1h.1M164.5 246.3h.1M179.1 242.0h.1M175.5 247.6h.1M149.9 251.3h.1M148.2 247.6h.1M160.5 252.9h.1M162.5 245.4h.1M148.0 252.2h.1M153.4 256.0h.1M172.1 242.9h.1M162.1 243.6h.1M169.2 251.1h.1M169.1 250.4h.1M155.2 247.8h.1M155.3 254.4h.1M151.5 247.3h.1M142.8 239.8h.1M156.4 243.1h.1M147.8 254.6h.1M155.8 239.5h.1M161.2 240.8h.1M161.5 252.0h.1M163.4 248.6h.1M156.4 253.9h.1M159.4 242.6h.1M170.2 244.2h.1M158.5 246.2h.1M160.2 241.7h.1M138.0 246.7h.1M150.0 247.0h.1M169.7 252.2h.1M152.2 247.5h.1M150.3 245.9h.1M168.5 250.4h.1M148.9 253.4h.1M168.7 253.1h.1M159.0 249.3h.1M154.3 246.0h.1M141.5 245.5h.1M171.7 241.4h.1M143.6 248.2h.1M148.8 247.8h.1M166.9 256.1h.1M148.7 249.0h.1M164.4 251.6h.1M159.5 254.4h.1M157.4 238.6h.1M150.4 244.7h.1M153.9 246.7h.1M162.3 248.5h.1M151.0 242.2h.1M165.5 252.2h.1M162.0 252.4h.1M164.7 250.4h.1M161.9 251.3h.1M164.9 242.4h.1M163.2 253.6h.1M167.2 244.8h.1M173.8 246.8h.1M159.7 258.8h.1M171.2 249.7h.1M177.1 241.8h.1M178.5 244.4h.1M142.9 242.5h.1M174.4 259.3h.1M169.0 251.9h.1M153.6 248.8h.1M147.9 258.6h.1M165.2 250.5h.1M167.1 248.0h.1M145.1 246.4h.1M168.3 257.4h.1M161.4 248.3h.1M166.5 244.4h.1M172.4 240.0h.1M141.2 257.2h.1M167.8 210.9h.1M136.5 239.6h.1M171.9 215.3h.1M169.5 230.1h.1M138.3 207.2h.1M131.4 248.5h.1M171.5 223.6h.1M157.1 208.7h.1M171.5 207.1h.1" stroke="#222" stroke-width="0.7" stroke-linecap="round" fill="none" opacity="0.48"/>
<path d="M146.8 203L146.8 245.8" stroke="#333" stroke-width="0.9"/>
<path d="M126.3 233.8L181 233.8" stroke="#333" stroke-width="1.1"/>
<text x="48.8" y="42" font-size="7.2" text-anchor="middle" class="r" fill="#111">1</text>
<text x="88.3" y="89.2" font-size="7.2" text-anchor="middle" class="r" fill="#111">1</text>
<text x="49.5" y="123.2" font-size="7.2" text-anchor="middle" class="r" fill="#111">0.2</text>
<text x="91.2" y="169" font-size="7.2" text-anchor="middle" class="r" fill="#111">0.6</text>
<text x="45.3" y="206.4" font-size="7.2" text-anchor="middle" class="r" fill="#111">0.3</text>
<text x="91.2" y="255" font-size="7.2" text-anchor="middle" class="r" fill="#111">0.6</text>
<text x="133" y="42.8" font-size="7.2" text-anchor="middle" class="r" fill="#111">3.1</text>
<text x="177.3" y="89.2" font-size="7.2" text-anchor="middle" class="r" fill="#111">0.9</text>
<text x="129" y="120.6" font-size="7.2" text-anchor="middle" class="r" fill="#111">1</text>
<text x="177.3" y="169" font-size="7.2" text-anchor="middle" class="r" fill="#111">0.6</text>
<text x="129" y="206" font-size="7.2" text-anchor="middle" class="r" fill="#111">1</text>
<text x="177.3" y="255" font-size="7.2" text-anchor="middle" class="r" fill="#111">0.5</text>
<text x="21.4" y="230.7" font-size="8.1" text-anchor="middle" font-weight="bold" class="b" transform="rotate(-90 21.4 230.7)">CD10</text>
<path d="M18.5 248.8L18.5 273.9L44.7 273.9" stroke="#000" stroke-width="1.3" fill="none"/>
<text x="47.3" y="276.9" font-size="8" font-weight="bold" class="b">CD7</text>
<text x="217.8" y="13.5" font-size="13.3" font-weight="bold" class="b">B</text>
<text x="282" y="18.6" font-size="8.2" text-anchor="middle" font-weight="bold" class="b">Day 15</text>
<path d="M250.7 25.2L250.7 22.6L313.5 22.6L313.5 25.2" stroke="#3a3a3a" stroke-width="1.2" fill="none"/>
<text x="236.3" y="38.6" font-size="9.8" text-anchor="end" font-weight="bold" class="b">Ctl</text>
<text x="236.4" y="120.6" font-size="9.8" text-anchor="end" font-weight="bold" class="b">AF1q</text>
<text x="236.8" y="203.1" font-size="9.8" text-anchor="end" font-weight="bold" class="b">A2M</text>
<rect x="250.5" y="32.4" width="66.7" height="63.9" fill="none" stroke="#777" stroke-width="0.9"/>
<path d="M251.7 96.3v2M250.5 94h-2M256.52 96.3v1M250.5 89.39h-1M259.33 96.3v1M250.5 86.7h-1M261.33 96.3v1M250.5 84.79h-1M262.88 96.3v1M250.5 83.31h-1M264.15 96.3v1M250.5 82.09h-1M265.22 96.3v1M250.5 81.07h-1M266.15 96.3v1M250.5 80.18h-1M266.97 96.3v1M250.5 79.4h-1M267.7 96.3v2M250.5 78.7h-2M272.52 96.3v1M250.5 74.09h-1M275.33 96.3v1M250.5 71.4h-1M277.33 96.3v1M250.5 69.49h-1M278.88 96.3v1M250.5 68.01h-1M280.15 96.3v1M250.5 66.79h-1M281.22 96.3v1M250.5 65.77h-1M282.15 96.3v1M250.5 64.88h-1M282.97 96.3v1M250.5 64.1h-1M283.7 96.3v2M250.5 63.4h-2M288.52 96.3v1M250.5 58.79h-1M291.33 96.3v1M250.5 56.1h-1M293.33 96.3v1M250.5 54.19h-1M294.88 96.3v1M250.5 52.71h-1M296.15 96.3v1M250.5 51.49h-1M297.22 96.3v1M250.5 50.47h-1M298.15 96.3v1M250.5 49.58h-1M298.97 96.3v1M250.5 48.8h-1M299.7 96.3v2M250.5 48.1h-2M304.52 96.3v1M250.5 43.49h-1M307.33 96.3v1M250.5 40.8h-1M309.33 96.3v1M250.5 38.89h-1M310.88 96.3v1M250.5 37.41h-1M312.15 96.3v1M250.5 36.19h-1M313.22 96.3v1M250.5 35.17h-1M314.15 96.3v1M250.5 34.28h-1M314.97 96.3v1M250.5 33.5h-1M315.7 96.3v2M250.5 32.8h-2" stroke="#555" stroke-width="0.7" fill="none"/>
<text x="251.5" y="104.3" font-size="4.6" fill="#333" text-anchor="middle">10<tspan dy="-1.8" font-size="3.2">0</tspan></text>
<text x="247.1" y="94.6" font-size="4.6" fill="#333" text-anchor="middle" transform="rotate(-90 247.1 94.6)">10<tspan dy="-1.8" font-size="3.2">0</tspan></text>
<text x="267.5" y="104.3" font-size="4.6" fill="#333" text-anchor="middle">10<tspan dy="-1.8" font-size="3.2">1</tspan></text>
<text x="247.1" y="79.3" font-size="4.6" fill="#333" text-anchor="middle" transform="rotate(-90 247.1 79.3)">10<tspan dy="-1.8" font-size="3.2">1</tspan></text>
<text x="283.5" y="104.3" font-size="4.6" fill="#333" text-anchor="middle">10<tspan dy="-1.8" font-size="3.2">2</tspan></text>
<text x="247.1" y="64" font-size="4.6" fill="#333" text-anchor="middle" transform="rotate(-90 247.1 64)">10<tspan dy="-1.8" font-size="3.2">2</tspan></text>
<text x="299.5" y="104.3" font-size="4.6" fill="#333" text-anchor="middle">10<tspan dy="-1.8" font-size="3.2">3</tspan></text>
<text x="247.1" y="48.7" font-size="4.6" fill="#333" text-anchor="middle" transform="rotate(-90 247.1 48.7)">10<tspan dy="-1.8" font-size="3.2">3</tspan></text>
<text x="315.5" y="104.3" font-size="4.6" fill="#333" text-anchor="middle">10<tspan dy="-1.8" font-size="3.2">4</tspan></text>
<text x="247.1" y="33.4" font-size="4.6" fill="#333" text-anchor="middle" transform="rotate(-90 247.1 33.4)">10<tspan dy="-1.8" font-size="3.2">4</tspan></text>
<path d="M260.0 49.4h.1M260.8 48.0h.1M263.2 48.2h.1M256.5 50.0h.1M254.5 45.9h.1M260.0 51.3h.1M255.2 45.5h.1M258.1 53.2h.1M257.0 47.6h.1M258.7 45.7h.1M256.9 47.8h.1M260.2 45.7h.1M255.5 48.3h.1M265.1 42.8h.1M260.4 47.1h.1M256.3 49.0h.1M255.4 50.0h.1M257.6 47.4h.1M256.8 52.7h.1M255.8 43.1h.1M262.2 48.0h.1M261.0 47.1h.1M255.0 48.7h.1M259.8 47.8h.1M258.2 53.3h.1M260.4 48.7h.1M256.2 45.7h.1M264.3 56.9h.1M258.4 48.8h.1M263.9 48.2h.1M256.8 51.6h.1M262.1 46.7h.1M257.8 48.0h.1M263.0 51.6h.1M257.6 44.8h.1M255.1 47.2h.1M255.0 51.8h.1M256.3 54.7h.1M259.9 48.4h.1M259.3 48.4h.1M258.5 52.3h.1M261.2 43.8h.1M262.9 46.4h.1M255.3 46.1h.1M261.1 41.9h.1M264.9 39.1h.1M256.4 47.4h.1M256.5 51.7h.1M259.3 50.9h.1M258.8 52.9h.1M256.6 39.7h.1M258.0 48.2h.1M262.8 53.1h.1M260.8 45.8h.1M255.8 44.4h.1M253.2 49.9h.1M255.0 48.8h.1M258.7 50.8h.1M255.9 48.7h.1M255.7 52.8h.1M260.3 51.0h.1M257.4 49.6h.1M257.1 47.5h.1M258.8 51.1h.1M262.4 46.5h.1M259.1 51.9h.1M260.2 52.5h.1M258.4 51.9h.1M262.7 44.5h.1M254.6 50.2h.1M254.9 50.0h.1M256.7 51.6h.1M264.1 43.6h.1M262.7 46.7h.1M255.0 48.5h.1M256.9 53.4h.1M259.8 46.7h.1M258.4 51.7h.1M260.8 49.2h.1M256.8 55.1h.1M253.4 49.8h.1M260.0 43.4h.1M261.8 47.8h.1M253.7 49.6h.1M252.8 52.9h.1M256.9 50.9h.1M252.8 47.8h.1M259.4 44.5h.1M254.8 48.8h.1M260.3 48.3h.1M257.2 53.2h.1M258.6 51.8h.1M260.1 44.1h.1M257.6 41.0h.1M255.3 47.4h.1M260.9 49.6h.1M253.9 45.5h.1M262.3 47.0h.1M256.4 52.7h.1M256.7 51.2h.1M259.3 43.0h.1M259.4 49.9h.1M259.7 49.3h.1M253.9 48.1h.1M255.6 50.6h.1M259.2 50.7h.1M259.3 57.0h.1M257.9 49.5h.1M262.0 46.3h.1M257.7 47.1h.1M260.9 51.1h.1M261.3 55.2h.1M259.2 50.8h.1M257.6 50.5h.1M260.3 49.6h.1M259.5 47.3h.1M260.0 49.0h.1M255.7 44.7h.1M259.6 51.2h.1M262.8 50.3h.1M257.4 49.4h.1M258.6 45.9h.1M257.5 47.9h.1M260.8 46.9h.1M252.2 49.8h.1M262.8 47.8h.1M259.7 50.0h.1M257.6 51.9h.1M259.0 53.0h.1M261.5 45.4h.1M259.3 47.7h.1M260.2 45.1h.1M261.7 52.9h.1M258.7 45.9h.1M260.4 53.3h.1M262.5 47.1h.1M259.9 52.2h.1M256.4 47.0h.1M260.5 48.0h.1M264.1 49.2h.1M257.3 49.1h.1M259.5 48.3h.1M259.5 51.0h.1M260.8 52.8h.1M257.1 51.7h.1M258.2 47.2h.1M263.9 42.6h.1M260.2 49.2h.1M256.5 39.3h.1M260.5 51.0h.1M258.4 50.9h.1M262.7 44.7h.1M253.6 50.7h.1M258.5 46.6h.1M261.1 53.0h.1M254.6 46.2h.1M256.1 46.0h.1M259.6 46.6h.1M258.4 49.6h.1M257.4 45.3h.1M259.1 56.3h.1M254.3 47.6h.1M255.8 54.6h.1M263.2 47.8h.1M256.4 47.7h.1M259.5 46.4h.1M258.1 46.3h.1M260.7 50.3h.1M259.2 52.8h.1M259.4 49.1h.1M261.6 45.8h.1M259.2 49.5h.1M253.4 46.2h.1M256.4 39.9h.1M262.4 49.2h.1M261.3 43.0h.1M257.6 46.7h.1M253.7 49.0h.1M256.2 47.5h.1M264.2 47.9h.1M261.7 53.9h.1M261.8 52.0h.1M253.6 53.8h.1M254.4 49.5h.1M256.6 49.5h.1M254.4 54.7h.1M258.6 46.7h.1M255.1 49.9h.1M259.6 49.2h.1M257.6 49.8h.1M256.6 50.8h.1M260.1 49.2h.1M259.5 51.5h.1M258.6 46.0h.1M257.2 50.4h.1M258.1 45.3h.1M252.7 52.4h.1M252.6 52.0h.1M256.3 48.1h.1M258.6 47.1h.1M263.3 48.7h.1M259.4 50.6h.1M255.4 43.8h.1M256.9 45.4h.1M254.6 51.9h.1M258.1 48.1h.1M258.0 44.5h.1M258.1 41.4h.1M259.0 47.3h.1M261.2 42.9h.1M260.2 49.2h.1M254.9 48.5h.1M260.7 54.8h.1M255.3 44.6h.1M259.3 50.8h.1M258.5 44.8h.1M263.0 45.3h.1M258.0 48.0h.1M258.0 45.9h.1M257.5 54.7h.1M260.7 48.5h.1M259.1 46.2h.1M257.5 56.4h.1M260.6 46.1h.1M264.3 47.5h.1M262.9 48.0h.1M262.5 46.1h.1M256.7 50.7h.1M258.0 52.6h.1M258.7 44.4h.1M253.4 47.1h.1M263.2 47.4h.1M254.2 44.0h.1M259.4 44.3h.1M254.7 47.4h.1M258.6 45.7h.1M260.6 49.7h.1M259.8 51.4h.1M255.8 49.3h.1M256.4 49.6h.1M260.9 45.6h.1M258.1 46.7h.1M258.6 49.9h.1M260.9 50.5h.1M259.0 50.4h.1M261.9 47.8h.1M263.4 44.8h.1M260.2 49.6h.1M256.2 47.2h.1M261.0 43.0h.1M263.6 51.4h.1M256.5 49.9h.1M256.2 51.0h.1M257.8 47.1h.1M257.1 53.5h.1M252.5 50.2h.1M251.5 51.8h.1M254.5 46.5h.1M256.5 47.6h.1M259.5 52.8h.1M256.8 48.5h.1M258.8 48.7h.1M262.2 53.5h.1M266.8 52.4h.1M260.8 49.4h.1M255.5 54.9h.1M261.1 43.8h.1M258.3 48.4h.1M259.2 46.8h.1M261.0 53.5h.1M260.5 53.8h.1M254.5 47.1h.1M255.0 49.1h.1M259.0 51.7h.1M260.3 50.4h.1M264.3 49.5h.1M260.0 51.9h.1M257.2 55.0h.1M256.9 49.1h.1M256.2 45.0h.1M254.6 48.3h.1M254.5 48.5h.1M256.7 47.4h.1M258.5 50.9h.1M256.1 51.1h.1M258.3 51.6h.1M257.5 50.2h.1M257.6 49.5h.1M257.0 45.3h.1M259.1 47.6h.1M258.3 45.9h.1M259.0 48.3h.1M258.5 48.5h.1M256.5 50.4h.1M258.7 47.7h.1M256.3 52.1h.1M258.6 52.1h.1M255.8 45.6h.1M260.2 52.9h.1M259.2 47.6h.1M254.1 46.3h.1M256.3 47.7h.1M260.2 44.6h.1M259.4 49.8h.1M258.6 52.6h.1M255.0 43.8h.1M256.3 50.1h.1M258.7 50.6h.1M259.1 50.8h.1M258.2 50.8h.1M255.9 50.1h.1M257.6 47.2h.1M256.8 51.6h.1M254.9 49.8h.1M255.1 51.3h.1M255.9 49.7h.1M254.0 47.8h.1M259.6 48.5h.1M260.4 50.6h.1M260.7 52.0h.1M256.0 42.5h.1M256.1 44.5h.1M258.9 43.4h.1M256.9 47.0h.1M257.3 46.5h.1M257.3 49.3h.1M253.7 47.7h.1M261.8 53.0h.1M254.1 46.7h.1M253.8 46.4h.1M260.5 46.0h.1M255.1 47.7h.1M261.3 49.2h.1M259.2 47.1h.1M259.2 45.7h.1M257.1 44.2h.1M254.2 49.3h.1M254.8 46.9h.1M258.5 45.5h.1M257.9 47.8h.1M254.8 49.7h.1M255.0 55.3h.1M255.8 53.9h.1M258.0 45.8h.1M259.4 47.2h.1M260.8 42.3h.1M257.2 42.3h.1M262.3 42.7h.1M260.2 51.6h.1M262.4 48.1h.1M255.7 43.9h.1M259.8 46.5h.1M261.3 47.0h.1M253.2 46.5h.1M260.8 53.4h.1M259.4 42.4h.1M260.8 47.2h.1M258.7 49.4h.1M261.4 50.2h.1M257.0 41.6h.1M256.7 49.2h.1M260.2 44.6h.1M260.2 46.8h.1M254.4 43.5h.1M261.6 51.1h.1M261.5 58.7h.1M261.1 51.9h.1M256.2 47.7h.1M261.8 43.0h.1M259.7 51.5h.1M260.8 52.5h.1M258.1 45.1h.1M257.0 51.7h.1M256.2 42.8h.1M256.5 44.5h.1M260.7 49.1h.1M256.0 44.1h.1M256.5 51.1h.1M259.1 53.3h.1M257.5 48.9h.1M252.4 50.2h.1M256.4 53.8h.1M257.2 50.3h.1M262.7 52.9h.1M260.1 53.3h.1M255.4 45.3h.1M255.1 55.8h.1M256.9 52.5h.1M258.8 49.2h.1M256.0 51.4h.1M259.4 49.8h.1M254.3 49.5h.1M259.1 45.5h.1M261.5 47.4h.1M258.1 52.3h.1M258.9 50.3h.1M259.5 50.1h.1M258.5 48.4h.1M258.0 52.8h.1M259.0 40.8h.1M258.5 45.8h.1M258.5 51.8h.1M262.6 47.4h.1M261.1 50.8h.1M260.8 53.9h.1M256.4 51.4h.1M256.8 44.0h.1M261.2 48.0h.1M255.3 45.0h.1M261.1 50.3h.1M254.4 52.1h.1M264.2 48.0h.1M261.7 50.4h.1M256.7 48.1h.1M256.9 55.0h.1M252.5 49.2h.1M258.1 49.5h.1M261.5 50.6h.1M259.9 52.2h.1M257.5 51.0h.1M263.9 48.7h.1M259.8 49.0h.1M259.4 50.4h.1M257.4 50.7h.1M259.8 47.6h.1M265.5 46.9h.1M259.5 48.0h.1M253.5 50.3h.1M258.8 47.3h.1M263.6 45.3h.1M261.5 47.7h.1M256.8 47.2h.1M259.2 50.8h.1M254.1 47.1h.1M260.0 47.5h.1M255.7 54.9h.1M256.7 50.2h.1M256.6 45.8h.1M256.2 52.7h.1M263.0 47.6h.1M262.3 46.2h.1M257.4 50.9h.1M258.5 44.2h.1M262.9 48.6h.1M257.4 50.6h.1M257.0 51.2h.1M255.8 47.1h.1M262.6 47.2h.1M258.7 48.5h.1M258.2 52.7h.1M257.0 43.0h.1M255.6 51.5h.1M260.9 49.8h.1M256.0 53.2h.1M256.7 45.2h.1M253.5 52.5h.1M255.1 46.0h.1M256.7 49.8h.1M256.8 47.5h.1M253.9 40.9h.1M256.5 48.6h.1M257.8 50.1h.1M259.8 46.8h.1M257.4 45.1h.1M254.4 51.1h.1M257.4 47.7h.1M259.4 52.2h.1M258.2 53.4h.1M258.3 48.1h.1M258.2 48.3h.1M260.0 46.5h.1M254.4 42.3h.1M256.5 48.8h.1M259.2 51.2h.1M258.2 52.3h.1M255.2 48.8h.1M257.4 54.8h.1M256.2 47.1h.1M258.2 48.8h.1M253.5 47.1h.1M253.6 47.4h.1M254.1 47.9h.1M257.8 46.6h.1M265.1 47.5h.1M260.9 49.7h.1M261.6 49.2h.1M258.2 45.5h.1M262.6 50.5h.1M259.1 46.2h.1M258.3 50.3h.1M261.2 49.1h.1M254.7 42.6h.1M252.0 45.5h.1M254.8 51.9h.1M262.1 46.8h.1M260.7 46.7h.1M256.1 63.6h.1M258.8 55.3h.1M261.1 44.7h.1M256.8 45.7h.1M266.7 48.4h.1M255.4 48.0h.1M256.0 42.3h.1M257.4 48.1h.1M259.1 40.5h.1M265.5 45.5h.1M269.9 58.4h.1M256.6 48.4h.1M257.4 46.7h.1M261.4 57.2h.1M257.7 50.5h.1M262.6 52.1h.1M253.0 45.7h.1M262.5 54.7h.1M260.9 53.5h.1M261.6 52.2h.1M270.7 58.0h.1M253.7 54.1h.1M261.7 48.7h.1M261.5 43.1h.1M253.6 47.2h.1M259.6 45.1h.1M254.1 57.0h.1M252.5 46.4h.1M257.2 50.8h.1M253.0 53.2h.1M259.7 52.6h.1M261.7 50.1h.1M259.5 47.9h.1M254.1 50.5h.1M253.7 45.2h.1M251.5 53.1h.1M256.3 46.1h.1M256.4 49.4h.1M270.6 56.4h.1M255.3 49.2h.1M261.0 57.4h.1M263.4 55.6h.1M265.0 45.1h.1M253.3 45.4h.1M262.3 51.7h.1M257.1 49.2h.1M262.5 41.4h.1M261.8 52.2h.1M254.0 49.5h.1M254.4 45.2h.1M251.2 40.3h.1M259.6 41.9h.1M254.4 38.4h.1M261.2 58.4h.1M257.6 38.4h.1M256.5 41.8h.1M267.1 50.5h.1M264.1 49.0h.1M251.5 54.3h.1M265.2 55.9h.1M262.0 51.2h.1M264.9 48.4h.1M260.5 45.7h.1M256.3 53.9h.1M254.6 39.7h.1M264.6 44.6h.1M258.4 45.0h.1M259.3 45.8h.1M261.9 43.0h.1M253.6 52.5h.1M263.8 54.5h.1M259.3 58.6h.1M253.3 45.9h.1M255.3 48.2h.1M256.9 49.3h.1M261.3 48.7h.1M265.4 44.2h.1M256.6 53.1h.1M257.0 37.8h.1M267.3 46.2h.1M274.4 38.4h.1M267.3 52.2h.1M259.1 41.2h.1M256.3 42.5h.1M261.6 48.7h.1M259.7 43.1h.1M254.1 50.1h.1M265.1 46.7h.1M271.1 59.4h.1M253.9 42.1h.1M254.1 44.3h.1M255.6 51.9h.1M251.7 49.4h.1M262.3 51.2h.1M261.6 53.9h.1M260.2 50.7h.1M262.0 56.0h.1M258.9 50.2h.1M259.6 47.6h.1M262.7 51.0h.1M260.1 43.7h.1M255.2 53.2h.1M264.0 41.5h.1M265.3 53.6h.1M265.1 51.8h.1M254.4 39.0h.1M260.9 51.0h.1M253.5 38.2h.1M257.3 51.9h.1M262.0 40.1h.1M257.4 77.4h.1M253.3 79.2h.1M252.6 74.0h.1M259.7 83.0h.1M256.7 82.2h.1M261.5 87.4h.1M258.1 91.3h.1M266.5 84.7h.1M258.7 78.1h.1M263.5 83.3h.1M259.3 83.5h.1M258.5 81.9h.1M259.8 77.1h.1M255.9 83.8h.1M256.3 76.5h.1M263.2 81.8h.1M257.6 80.8h.1M254.8 70.0h.1M259.8 85.1h.1M255.7 92.3h.1M258.5 80.5h.1M261.7 79.3h.1M262.1 86.6h.1M263.7 76.0h.1M261.8 82.3h.1M260.2 83.3h.1M259.9 79.5h.1M259.2 81.8h.1M258.2 78.2h.1M265.1 79.5h.1M258.1 85.3h.1M263.3 78.1h.1M257.9 79.5h.1M261.9 78.9h.1M258.8 80.4h.1M256.4 78.2h.1M263.0 83.8h.1M262.8 72.7h.1M256.4 73.2h.1M258.1 83.6h.1M261.1 91.0h.1M259.3 79.9h.1M258.6 83.8h.1M261.3 75.6h.1M254.4 82.8h.1M263.2 83.1h.1M259.7 84.9h.1M255.6 91.3h.1M258.2 77.7h.1M265.2 89.4h.1M258.4 77.1h.1M253.9 85.9h.1M262.5 88.5h.1M259.6 92.5h.1M258.4 81.7h.1M261.6 74.4h.1M257.3 86.2h.1M258.1 78.9h.1M261.5 77.1h.1M259.8 79.4h.1M261.4 77.9h.1M257.4 85.8h.1M263.6 83.1h.1M254.2 85.5h.1M254.4 86.3h.1M260.0 80.4h.1M257.6 85.6h.1M259.1 88.0h.1M258.7 91.0h.1M258.1 83.0h.1M255.4 81.0h.1M259.5 77.8h.1M262.5 80.4h.1M256.0 82.3h.1M264.2 83.4h.1M263.3 75.9h.1M256.0 80.3h.1M261.0 81.3h.1M255.3 79.4h.1M258.2 79.4h.1M255.3 83.9h.1M257.0 77.6h.1M253.0 84.5h.1M258.1 77.2h.1M255.4 83.3h.1M255.9 77.0h.1M252.7 87.8h.1M258.7 85.8h.1M264.3 88.6h.1M257.5 78.3h.1M258.1 76.0h.1M255.2 76.0h.1M257.2 81.2h.1M256.0 87.3h.1M253.9 85.6h.1M255.9 85.4h.1M257.0 76.4h.1M259.5 87.4h.1M257.5 85.7h.1M259.4 79.7h.1M262.4 70.2h.1M261.3 78.5h.1M257.3 81.6h.1M253.2 89.7h.1M258.0 83.3h.1M258.8 81.9h.1M261.5 89.8h.1M258.9 89.6h.1M266.9 84.0h.1M257.5 85.2h.1M260.5 88.2h.1M255.8 78.8h.1M255.5 84.2h.1M257.6 80.2h.1M259.1 77.7h.1M260.6 84.6h.1M261.9 91.2h.1M263.0 86.0h.1M262.6 87.7h.1M261.0 81.4h.1M258.1 75.1h.1M260.2 79.3h.1M262.4 84.2h.1M255.6 79.5h.1M260.5 91.4h.1M260.0 88.1h.1M258.1 81.3h.1M263.9 90.5h.1M256.4 85.4h.1M255.5 90.1h.1M258.3 81.4h.1M256.6 86.0h.1M262.5 81.2h.1M253.5 82.4h.1M254.5 87.8h.1M259.4 91.4h.1M260.7 82.9h.1M254.9 83.7h.1M262.3 78.1h.1M252.7 81.3h.1M261.5 84.7h.1M255.8 76.4h.1M257.0 80.3h.1M263.8 77.0h.1M258.2 83.3h.1M256.5 86.6h.1M259.1 83.9h.1M264.1 81.0h.1M258.6 77.5h.1M256.1 74.6h.1M259.0 82.4h.1M254.7 89.6h.1M256.3 81.1h.1M256.7 82.0h.1M260.3 80.2h.1M256.9 76.9h.1M259.8 87.4h.1M261.8 85.7h.1M263.1 75.3h.1M253.3 76.4h.1M258.2 88.7h.1M254.9 78.1h.1M260.3 82.1h.1M259.1 77.4h.1M258.3 83.9h.1M256.8 78.6h.1M255.5 79.5h.1M253.3 77.0h.1M261.3 91.4h.1M257.8 94.7h.1M258.5 83.4h.1M259.3 85.5h.1M260.7 85.1h.1M264.0 82.4h.1M257.8 81.9h.1M260.3 80.6h.1M253.5 86.1h.1M257.2 76.5h.1M256.2 78.3h.1M256.5 85.7h.1M261.8 75.6h.1M258.7 90.1h.1M258.6 81.0h.1M258.6 83.2h.1M257.7 88.7h.1M257.7 82.1h.1M256.4 83.0h.1M256.8 79.5h.1M257.1 84.8h.1M257.8 85.7h.1M252.8 78.1h.1M258.6 85.5h.1M258.2 87.0h.1M259.6 84.6h.1M255.0 78.7h.1M255.6 86.8h.1M260.7 88.9h.1M256.2 80.0h.1M259.8 73.6h.1M256.3 79.0h.1M254.8 82.4h.1M254.0 88.6h.1M256.5 88.1h.1M256.9 85.6h.1M254.7 79.3h.1M262.6 86.0h.1M258.4 82.3h.1M255.7 77.4h.1M262.8 73.8h.1M260.8 87.2h.1M256.1 74.5h.1M255.3 88.4h.1M257.8 93.2h.1M260.5 82.5h.1M254.2 78.3h.1M261.8 79.3h.1M257.2 79.1h.1M260.8 84.2h.1M257.9 87.2h.1M259.8 78.7h.1M260.3 80.7h.1M262.2 79.2h.1M256.2 87.9h.1M264.0 87.0h.1M254.6 78.3h.1M259.3 80.9h.1M260.4 83.1h.1M258.4 73.7h.1M261.0 79.8h.1M253.6 83.0h.1M258.2 75.6h.1M261.3 83.4h.1M258.4 82.6h.1M255.1 79.7h.1M258.8 87.3h.1M258.9 77.8h.1M255.4 84.4h.1M262.3 81.1h.1M256.8 87.6h.1M255.3 78.6h.1M258.7 85.2h.1M256.5 85.3h.1M257.8 87.8h.1M259.1 90.1h.1M257.2 75.0h.1M260.1 82.0h.1M259.3 77.1h.1M262.0 87.0h.1M255.4 88.9h.1M258.6 80.9h.1M259.2 83.5h.1M259.2 88.6h.1M252.2 83.3h.1M255.2 81.7h.1M259.4 74.4h.1M260.1 78.9h.1M258.5 87.1h.1M258.9 75.3h.1M262.0 83.7h.1M257.4 83.4h.1M256.1 82.3h.1M262.8 86.2h.1M260.2 78.7h.1M257.9 89.0h.1M256.3 80.2h.1M263.2 87.2h.1M257.6 79.5h.1M256.0 83.6h.1M262.2 80.7h.1M254.1 90.4h.1M258.0 77.3h.1M260.3 79.3h.1M257.6 89.4h.1M256.9 86.2h.1M259.7 82.2h.1M254.8 81.1h.1M257.8 76.1h.1M260.5 81.0h.1M255.2 84.1h.1M262.5 88.1h.1M257.8 86.8h.1M258.2 89.3h.1M257.0 84.2h.1M260.1 78.9h.1M257.0 80.7h.1M259.1 89.7h.1M262.1 82.9h.1M262.1 89.1h.1M253.9 74.7h.1M262.4 80.0h.1M257.0 78.5h.1M259.3 83.6h.1M258.7 78.5h.1M259.2 75.9h.1M256.6 82.0h.1M260.1 71.3h.1M261.4 79.5h.1M256.7 84.4h.1M258.4 76.8h.1M260.8 82.1h.1M261.6 78.1h.1M259.4 80.7h.1M259.2 83.5h.1M259.8 84.6h.1M257.4 84.4h.1M259.4 78.7h.1M257.6 89.7h.1M257.4 83.9h.1M251.5 79.2h.1M253.1 88.8h.1M259.5 80.4h.1M260.6 91.9h.1M259.7 86.5h.1M258.7 81.8h.1M257.5 80.0h.1M260.1 78.3h.1M257.2 78.6h.1M258.4 81.0h.1M262.8 88.9h.1M254.3 83.3h.1M256.6 82.0h.1M257.7 84.5h.1M252.7 80.9h.1M254.9 76.3h.1M261.5 75.2h.1M259.9 89.3h.1M258.0 81.0h.1M262.2 90.2h.1M255.5 91.7h.1M264.0 83.8h.1M258.2 86.2h.1M256.6 80.7h.1M261.6 81.8h.1M259.9 82.8h.1M258.9 82.4h.1M258.0 89.8h.1M253.0 82.0h.1M252.2 86.8h.1M258.3 83.0h.1M261.2 85.5h.1M256.0 91.4h.1M258.6 74.9h.1M253.7 88.2h.1M253.9 79.4h.1M258.2 83.4h.1M260.4 80.8h.1M260.5 80.1h.1M261.9 75.8h.1M256.0 69.3h.1M257.8 93.0h.1M260.6 86.7h.1M255.3 81.3h.1M257.4 73.3h.1M258.3 85.8h.1M258.3 90.2h.1M260.9 84.6h.1M259.6 74.0h.1M257.0 79.9h.1M251.4 83.8h.1M260.6 82.1h.1M261.2 87.9h.1M259.8 77.7h.1M259.4 79.3h.1M259.6 70.1h.1M261.9 88.0h.1M256.8 85.6h.1M258.1 80.3h.1M255.4 73.5h.1M257.6 86.7h.1M255.9 75.4h.1M255.9 76.1h.1M252.4 72.8h.1M258.0 75.3h.1M261.3 77.7h.1M262.0 87.8h.1M258.2 85.9h.1M256.3 82.7h.1M259.2 79.5h.1M257.5 82.1h.1M258.0 75.7h.1M262.4 84.3h.1M258.7 77.7h.1M259.3 79.8h.1M257.5 84.0h.1M257.7 78.0h.1M255.6 75.4h.1M257.9 87.4h.1M255.9 73.7h.1M261.6 75.9h.1M257.6 76.5h.1M260.4 78.7h.1M262.0 81.6h.1M261.2 66.2h.1M256.2 79.8h.1M263.2 89.3h.1M252.6 88.3h.1M262.4 86.7h.1M255.6 83.4h.1M258.0 79.5h.1M256.1 73.9h.1M252.0 84.1h.1M253.8 87.7h.1M259.0 83.8h.1M253.2 82.2h.1M260.1 86.7h.1M261.6 83.9h.1M262.2 87.9h.1M259.0 80.2h.1M258.1 73.3h.1M257.0 84.8h.1M266.3 86.8h.1M261.8 78.4h.1M260.1 83.5h.1M259.2 85.9h.1M261.4 68.5h.1M252.6 94.7h.1M260.8 86.2h.1M256.5 81.3h.1M251.4 76.4h.1M261.5 74.3h.1M259.5 80.6h.1M256.0 85.8h.1M257.0 79.0h.1M263.0 80.7h.1M259.2 85.6h.1M259.4 77.5h.1M253.6 81.9h.1M260.9 81.3h.1M256.3 84.7h.1M259.6 86.6h.1M255.2 81.4h.1M259.3 89.4h.1M259.8 79.9h.1M253.9 80.3h.1M259.2 82.7h.1M255.6 81.0h.1M261.9 86.2h.1M259.3 67.8h.1M258.4 73.3h.1M267.2 71.3h.1M260.7 89.4h.1M257.1 86.5h.1M260.8 78.8h.1M259.1 84.3h.1M262.2 73.3h.1M255.3 80.7h.1M264.0 89.8h.1M256.7 85.6h.1M257.1 93.2h.1M256.1 79.8h.1M257.3 88.2h.1M263.9 82.9h.1M258.8 83.9h.1M255.1 83.6h.1M257.8 86.2h.1M259.0 89.1h.1M261.1 82.6h.1M257.3 84.3h.1M258.8 81.8h.1M266.9 83.8h.1M257.8 78.2h.1M258.6 87.4h.1M254.7 85.9h.1M261.1 84.0h.1M256.9 82.3h.1M263.7 79.0h.1M261.8 77.6h.1M260.6 76.7h.1M256.8 78.3h.1M257.2 87.0h.1M257.1 84.5h.1M258.5 75.1h.1M257.2 77.4h.1M256.6 89.2h.1M258.5 90.9h.1M258.2 86.7h.1M257.1 93.2h.1M260.9 78.9h.1M261.3 84.7h.1M256.6 79.2h.1M264.6 93.7h.1M259.4 84.7h.1M261.9 84.6h.1M263.8 84.4h.1M254.0 79.0h.1M259.7 82.2h.1M261.0 70.9h.1M261.8 80.3h.1M260.6 77.4h.1M261.2 86.6h.1M253.8 89.4h.1M255.4 84.0h.1M260.0 77.4h.1M252.2 77.0h.1M256.6 86.4h.1M257.7 81.2h.1M259.4 81.3h.1M260.9 77.1h.1M259.0 83.9h.1M255.8 83.7h.1M255.4 86.7h.1M259.5 77.9h.1M260.0 82.5h.1M259.4 75.4h.1M258.7 83.8h.1M258.6 82.7h.1M254.1 80.8h.1M258.2 87.2h.1M260.5 76.2h.1M254.9 90.6h.1M259.5 84.8h.1M260.3 85.6h.1M265.2 84.1h.1M258.1 79.1h.1M257.5 79.8h.1M254.7 87.6h.1M255.0 82.6h.1M253.4 84.3h.1M252.9 80.9h.1M260.3 87.0h.1M258.2 86.0h.1M259.2 76.1h.1M253.5 92.7h.1M252.2 88.0h.1M253.0 86.9h.1M263.1 84.4h.1M261.6 82.5h.1M254.3 87.1h.1M258.8 82.3h.1M255.3 77.2h.1M256.3 82.6h.1M261.1 83.1h.1M260.4 87.6h.1M260.9 76.5h.1M259.2 80.5h.1M258.6 81.1h.1M259.8 87.7h.1M257.8 88.3h.1M263.3 83.7h.1M259.0 88.1h.1M259.9 83.2h.1M258.0 83.2h.1M256.3 71.1h.1M258.1 78.1h.1M257.3 77.0h.1M255.9 84.9h.1M260.7 83.0h.1M264.2 77.2h.1M259.2 82.8h.1M258.0 82.0h.1M256.2 84.6h.1M254.0 79.8h.1M260.1 78.9h.1M260.0 88.7h.1M256.0 81.2h.1M258.6 87.7h.1M255.8 78.1h.1M262.5 81.4h.1M258.7 80.9h.1M259.6 77.6h.1M263.4 86.1h.1M251.7 75.7h.1M259.5 83.7h.1M259.1 71.7h.1M257.5 86.0h.1M258.4 82.7h.1M262.0 88.2h.1M256.4 92.7h.1M256.4 79.0h.1M263.5 82.5h.1M261.4 76.0h.1M259.8 80.2h.1M260.8 82.8h.1M258.6 82.7h.1M257.5 86.4h.1M258.0 85.0h.1M259.3 87.4h.1M257.0 79.0h.1M253.7 83.2h.1M257.9 77.2h.1M259.2 81.6h.1M258.0 68.7h.1M260.4 81.9h.1M259.3 82.7h.1M261.3 80.1h.1M258.8 80.4h.1M257.9 73.8h.1M260.1 79.1h.1M261.0 79.4h.1M257.1 83.5h.1M255.9 84.7h.1M262.4 80.2h.1M256.9 81.7h.1M259.5 84.2h.1M257.0 77.9h.1M259.1 87.5h.1M262.5 92.6h.1M263.4 84.3h.1M254.6 80.0h.1M254.2 83.5h.1M260.2 88.8h.1M263.0 75.7h.1M259.2 84.0h.1M257.5 78.7h.1M260.8 80.2h.1M255.7 83.7h.1M260.4 85.1h.1M262.4 81.0h.1M262.1 78.1h.1M260.5 81.4h.1M256.9 77.2h.1M257.4 91.1h.1M255.7 74.6h.1M263.9 85.4h.1M262.1 82.9h.1M258.2 82.4h.1M258.2 77.2h.1M259.1 79.9h.1M256.5 80.7h.1M259.9 79.7h.1M259.9 81.1h.1M259.7 82.9h.1M258.5 80.1h.1M257.8 86.0h.1M254.2 79.7h.1M253.4 86.0h.1M265.0 82.6h.1M256.9 79.5h.1M257.8 84.7h.1M257.5 87.9h.1M255.9 80.7h.1M263.1 73.2h.1M252.9 86.2h.1M259.8 87.3h.1M256.6 76.8h.1M262.1 81.6h.1M260.8 84.6h.1M258.6 70.5h.1M253.9 86.2h.1M260.7 85.9h.1M261.2 86.3h.1M260.3 89.7h.1M257.5 77.0h.1M260.2 87.0h.1M256.1 93.6h.1M259.1 71.0h.1M259.4 80.4h.1M257.6 85.8h.1M255.4 78.6h.1M257.7 73.1h.1M255.7 83.8h.1M254.8 83.1h.1M261.4 78.6h.1M257.9 83.4h.1M256.8 86.8h.1M256.8 87.2h.1M259.6 84.3h.1M257.4 76.0h.1M256.2 80.7h.1M259.1 70.8h.1M258.7 76.9h.1M255.6 83.0h.1M255.1 84.9h.1M262.1 82.0h.1M257.5 82.1h.1M261.9 72.4h.1M260.1 75.7h.1M258.1 76.4h.1M257.6 79.2h.1M263.1 79.1h.1M256.4 93.0h.1M257.2 87.2h.1M255.9 77.0h.1M257.8 78.8h.1M255.5 79.4h.1M258.6 79.2h.1M254.6 79.5h.1M259.8 71.9h.1M259.3 87.9h.1M258.9 85.5h.1M256.5 85.3h.1M262.1 82.6h.1M264.2 84.4h.1M257.9 80.3h.1M256.0 72.2h.1M260.2 82.7h.1M257.7 82.2h.1M258.7 75.5h.1M260.2 70.8h.1M254.3 87.8h.1M260.4 76.9h.1M255.2 81.0h.1M254.6 78.6h.1M257.1 90.5h.1M262.6 74.6h.1M256.4 87.3h.1M259.7 69.4h.1M255.5 86.7h.1M260.1 79.6h.1M259.2 70.7h.1M261.7 82.3h.1M258.8 81.7h.1M258.3 73.9h.1M252.7 83.8h.1M259.2 81.9h.1M260.6 84.4h.1M258.9 75.0h.1M258.8 78.2h.1M259.9 77.2h.1M260.8 82.6h.1M255.6 79.4h.1M258.1 77.0h.1M259.5 88.9h.1M259.0 79.3h.1M255.4 87.5h.1M252.4 86.2h.1M259.2 78.4h.1M260.4 72.8h.1M263.2 83.0h.1M259.5 85.4h.1M255.7 87.9h.1M259.6 84.0h.1M257.9 84.2h.1M256.3 78.8h.1M254.0 78.4h.1M256.2 87.8h.1M257.0 75.3h.1M258.4 83.6h.1M258.3 84.3h.1M258.9 73.0h.1M263.9 80.6h.1M258.1 84.9h.1M262.3 90.4h.1M256.0 90.2h.1M256.1 80.3h.1M256.7 80.4h.1M252.9 79.7h.1M263.2 83.2h.1M259.0 86.4h.1M260.4 76.8h.1M263.4 81.2h.1M259.6 79.1h.1M263.1 78.2h.1M251.3 79.5h.1M262.0 91.3h.1M259.1 90.9h.1M256.6 89.5h.1M261.5 73.7h.1M258.3 83.6h.1M256.2 94.2h.1M252.5 84.2h.1M263.5 78.5h.1M258.5 80.8h.1M263.0 80.1h.1M260.2 83.4h.1M256.4 84.5h.1M257.5 81.2h.1M256.4 82.0h.1M259.0 76.9h.1M258.0 81.9h.1M254.4 85.7h.1M253.9 82.6h.1M261.6 81.2h.1M254.4 74.8h.1M254.9 87.8h.1M265.2 76.2h.1M255.7 85.5h.1M254.3 80.3h.1M255.3 86.2h.1M260.5 87.4h.1M256.0 80.5h.1M257.8 66.8h.1M251.3 71.8h.1M256.4 77.2h.1M258.3 77.4h.1M258.3 83.6h.1M262.6 92.1h.1M259.7 85.5h.1M253.3 88.9h.1M255.5 81.2h.1M257.3 86.5h.1M258.3 84.0h.1M260.0 72.4h.1M253.1 87.0h.1M251.5 91.0h.1M260.5 80.4h.1M255.1 86.0h.1M255.3 80.8h.1M256.8 80.2h.1M254.5 87.2h.1M254.6 78.9h.1M261.2 79.4h.1M254.8 86.4h.1M259.0 86.8h.1M258.8 90.0h.1M257.0 79.2h.1M265.2 75.4h.1M254.1 87.7h.1M265.8 74.4h.1M255.2 80.1h.1M257.3 81.1h.1M259.0 90.8h.1M261.4 82.3h.1M260.2 76.1h.1M257.1 82.0h.1M257.1 88.9h.1M261.6 73.1h.1M262.7 75.5h.1M256.5 87.3h.1M261.8 82.8h.1M259.8 77.1h.1M258.9 81.1h.1M254.8 82.5h.1M254.4 76.4h.1M259.4 79.3h.1M256.7 83.8h.1M259.4 87.8h.1M253.1 82.0h.1M263.0 79.4h.1M263.1 83.7h.1M255.0 77.6h.1M257.8 84.0h.1M257.8 80.6h.1M256.5 80.7h.1M256.7 80.8h.1M259.6 77.4h.1M263.2 89.1h.1M258.4 74.6h.1M258.5 83.3h.1M258.6 75.8h.1M256.1 86.7h.1M260.0 81.1h.1M256.7 83.1h.1M255.2 84.5h.1M260.1 84.0h.1M252.6 83.1h.1M256.7 84.0h.1M257.0 83.9h.1M257.8 79.9h.1M253.6 80.7h.1M255.3 81.0h.1M257.7 78.6h.1M260.0 79.5h.1M257.8 88.8h.1M257.6 75.0h.1M255.7 90.7h.1M258.2 79.5h.1M260.1 82.2h.1M261.1 81.3h.1M258.1 85.0h.1M255.3 90.7h.1M262.2 81.6h.1M256.2 82.0h.1M262.2 79.5h.1M257.4 92.4h.1M255.9 88.1h.1M257.5 87.8h.1M256.1 82.4h.1M257.7 72.7h.1M259.7 84.6h.1M257.4 73.3h.1M256.8 79.1h.1M258.1 87.0h.1M259.4 79.3h.1M258.2 78.8h.1M259.8 71.5h.1M259.9 85.8h.1M259.1 84.3h.1M260.3 79.8h.1M258.2 84.0h.1M261.6 74.1h.1M259.4 77.5h.1M260.7 83.2h.1M257.6 86.6h.1M254.0 82.0h.1M256.9 76.0h.1M258.3 79.7h.1M259.3 87.8h.1M258.1 79.2h.1M262.6 83.4h.1M254.3 84.3h.1M253.0 79.4h.1M257.7 82.3h.1M256.2 73.2h.1M258.3 79.3h.1M260.2 82.3h.1M266.2 85.3h.1M254.3 88.7h.1M255.0 79.8h.1M258.0 84.5h.1M253.8 81.5h.1M256.0 78.2h.1M262.0 78.3h.1M258.0 81.9h.1M258.1 82.2h.1M261.5 78.4h.1M258.6 82.0h.1M258.1 85.5h.1M259.0 80.8h.1M256.9 71.0h.1M257.9 80.4h.1M260.4 83.1h.1M256.1 88.1h.1M260.0 81.9h.1M251.9 77.2h.1M259.5 90.0h.1M260.5 85.5h.1M255.5 80.9h.1M257.3 80.9h.1M258.2 80.9h.1M259.1 82.9h.1M261.7 73.6h.1M258.8 82.8h.1M257.5 79.1h.1M257.6 84.6h.1M259.0 83.8h.1M260.5 76.9h.1M259.0 88.9h.1M256.6 85.9h.1M257.2 77.6h.1M255.9 76.9h.1M255.7 78.7h.1M256.8 83.8h.1M256.5 88.4h.1M260.4 77.6h.1M254.7 78.2h.1M258.4 84.7h.1M254.8 81.9h.1M260.5 81.8h.1M259.1 81.5h.1M261.9 80.5h.1M259.8 90.8h.1M255.2 87.0h.1M258.3 80.5h.1M256.4 88.4h.1M256.7 91.5h.1M255.2 84.5h.1M257.3 83.6h.1M258.5 79.7h.1M258.8 82.7h.1M265.4 83.2h.1M257.7 88.6h.1M258.5 77.4h.1M257.9 74.0h.1M257.5 79.6h.1M257.3 83.9h.1M258.4 72.1h.1M257.6 81.1h.1M260.3 78.1h.1M259.4 76.5h.1M255.6 82.8h.1M258.2 87.9h.1M259.1 75.3h.1M257.4 83.2h.1M257.5 81.2h.1M257.9 85.3h.1M260.0 82.1h.1M258.7 78.9h.1M256.6 86.5h.1M258.1 84.2h.1M261.8 77.0h.1M255.4 72.1h.1M260.1 78.5h.1M257.5 83.1h.1M268.9 85.9h.1M260.0 79.2h.1M258.4 80.1h.1M257.9 73.0h.1M253.8 79.8h.1M256.7 82.6h.1M264.0 79.1h.1M259.2 81.5h.1M257.4 77.2h.1M258.2 77.5h.1M258.3 83.4h.1M255.5 74.3h.1M258.5 82.1h.1M259.7 87.9h.1M254.0 79.2h.1M257.5 79.5h.1M253.4 75.5h.1M260.6 79.1h.1M261.7 75.7h.1M263.6 80.8h.1M254.5 79.2h.1M258.0 76.3h.1M257.3 82.1h.1M261.3 86.9h.1M259.1 85.8h.1M258.5 80.5h.1M259.9 81.8h.1M256.9 76.7h.1M261.0 80.7h.1M257.2 85.1h.1M261.4 85.6h.1M258.7 88.5h.1M258.9 74.4h.1M255.0 89.6h.1M253.8 83.7h.1M253.7 89.5h.1M259.6 81.9h.1M252.1 87.9h.1M262.1 81.7h.1M257.3 76.6h.1M254.4 83.4h.1M259.2 79.3h.1M254.7 81.6h.1M258.3 84.4h.1M257.5 85.7h.1M261.6 85.0h.1M260.8 86.6h.1M260.9 74.1h.1M256.9 87.6h.1M261.8 77.7h.1M258.0 82.3h.1M258.5 79.8h.1M259.5 76.1h.1M259.0 86.2h.1M254.4 76.8h.1M260.1 79.1h.1M253.7 89.0h.1M259.6 70.7h.1M258.0 73.5h.1M258.4 86.5h.1M255.1 79.8h.1M261.1 85.7h.1M257.8 81.8h.1M260.6 79.4h.1M256.1 85.3h.1M256.2 78.3h.1M258.4 79.1h.1M261.1 83.0h.1M254.4 76.4h.1M256.6 74.7h.1M256.8 73.6h.1M257.4 86.5h.1M256.9 91.4h.1M261.3 87.7h.1M260.2 78.7h.1M258.3 79.3h.1M260.6 76.9h.1M261.1 81.8h.1M256.5 87.0h.1M256.1 81.5h.1M260.2 81.7h.1M264.3 65.8h.1M251.5 83.4h.1M256.4 75.9h.1M260.4 80.6h.1M255.9 83.6h.1M260.7 82.4h.1M258.9 85.5h.1M254.6 89.5h.1M256.9 70.5h.1M259.3 74.2h.1M255.7 90.1h.1M259.9 84.3h.1M259.1 78.3h.1M257.3 80.6h.1M259.3 82.0h.1M257.2 87.2h.1M258.8 80.3h.1M255.4 81.9h.1M262.2 75.3h.1M257.5 89.3h.1M261.5 84.2h.1M264.3 79.6h.1M262.7 75.3h.1M258.2 81.9h.1M258.7 86.4h.1M258.1 93.5h.1M259.1 91.5h.1M255.9 80.1h.1M253.0 79.9h.1M259.1 77.1h.1M258.3 84.3h.1M262.6 78.2h.1M263.4 84.9h.1M254.3 83.7h.1M255.6 84.1h.1M260.4 77.2h.1M261.6 87.8h.1M258.6 81.1h.1M258.4 76.0h.1M252.9 81.9h.1M264.8 83.0h.1M256.2 82.4h.1M259.8 86.8h.1M259.2 88.1h.1M255.7 93.5h.1M260.7 81.6h.1M262.4 88.2h.1M258.1 69.1h.1M258.6 91.5h.1M260.1 82.0h.1M261.0 88.5h.1M260.7 80.9h.1M255.7 84.8h.1M255.5 85.3h.1M256.6 79.1h.1M254.4 67.7h.1M257.7 84.9h.1M256.3 81.4h.1M255.8 81.0h.1M260.7 88.3h.1M259.2 83.9h.1M260.6 83.3h.1M257.7 72.7h.1M257.0 82.9h.1M255.7 80.7h.1M258.9 87.1h.1M253.0 79.7h.1M255.7 76.0h.1M259.9 81.0h.1M260.6 91.4h.1M258.0 77.8h.1M254.9 88.6h.1M259.8 81.3h.1M256.1 72.0h.1M257.9 85.3h.1M255.4 94.0h.1M263.4 84.4h.1M262.5 76.8h.1M255.8 81.1h.1M254.9 77.7h.1M260.0 85.0h.1M261.8 70.3h.1M258.0 86.3h.1M254.7 84.4h.1M259.1 77.0h.1M259.0 79.1h.1M253.7 81.8h.1M257.5 90.8h.1M257.4 79.5h.1M255.4 78.4h.1M258.8 87.0h.1M261.2 79.0h.1M261.1 76.9h.1M255.7 81.5h.1M256.5 86.3h.1M260.2 82.9h.1M257.3 80.3h.1M257.2 89.4h.1M264.5 89.2h.1M256.3 76.3h.1M255.8 77.5h.1M258.1 81.1h.1M263.1 83.0h.1M257.8 81.8h.1M257.4 82.5h.1M258.7 84.4h.1M257.3 75.7h.1M259.3 71.2h.1M265.5 83.7h.1M256.2 88.4h.1M257.6 83.1h.1M258.0 80.1h.1M252.2 85.0h.1M259.9 80.6h.1M258.0 75.6h.1M252.6 80.3h.1M257.4 86.0h.1M258.7 83.8h.1M255.6 85.6h.1M261.3 79.7h.1M256.5 85.0h.1M253.9 89.4h.1M260.5 80.6h.1M257.8 79.7h.1M258.6 88.4h.1M253.6 82.7h.1M254.2 76.4h.1M255.3 80.1h.1M257.8 88.8h.1M257.8 84.0h.1M262.2 91.6h.1M262.6 85.4h.1M258.6 83.5h.1M257.9 87.5h.1M263.6 79.2h.1M258.4 87.6h.1M261.1 81.8h.1M256.8 81.0h.1M257.9 84.2h.1M257.4 79.9h.1M256.2 76.6h.1M259.3 77.8h.1M255.8 84.9h.1M257.9 83.8h.1M259.4 82.7h.1M264.2 85.9h.1M252.7 77.8h.1M258.4 80.2h.1M260.1 90.4h.1M257.2 77.5h.1M260.7 88.7h.1M259.7 81.0h.1M259.6 84.9h.1M257.0 83.5h.1M257.6 81.0h.1M257.5 82.9h.1M255.4 87.1h.1M258.7 78.8h.1M255.2 77.6h.1M255.5 86.6h.1M254.2 80.3h.1M261.4 81.5h.1M256.6 81.4h.1M255.7 80.2h.1M260.5 73.3h.1M257.0 81.8h.1M259.2 80.0h.1M257.7 75.6h.1M259.2 79.5h.1M258.7 83.5h.1M252.0 90.9h.1M262.4 79.6h.1M261.1 89.0h.1M254.0 80.0h.1M260.7 84.6h.1M257.5 81.0h.1M258.5 86.0h.1M261.9 83.0h.1M261.0 80.4h.1M261.0 74.6h.1M263.9 87.2h.1M261.3 74.8h.1M256.5 79.3h.1M254.5 91.1h.1M260.6 83.5h.1M253.3 82.7h.1M257.2 83.0h.1M257.2 83.5h.1M256.2 80.6h.1M262.1 84.0h.1M259.1 81.5h.1M257.6 80.7h.1M260.8 84.7h.1M257.0 85.5h.1M261.6 84.1h.1M264.0 87.1h.1M257.8 91.6h.1M257.7 90.9h.1M261.5 82.9h.1M252.6 76.9h.1M254.6 88.1h.1M255.3 82.9h.1M253.6 86.2h.1M258.2 80.6h.1M259.0 86.6h.1M258.1 76.9h.1M258.1 83.2h.1M260.8 75.7h.1M261.3 92.4h.1M261.7 81.1h.1M257.8 72.0h.1M258.2 88.8h.1M262.4 87.3h.1M259.4 89.2h.1M262.0 76.9h.1M256.8 84.3h.1M258.1 89.0h.1M256.4 81.6h.1M258.1 84.4h.1M259.4 81.4h.1M256.9 81.0h.1M263.8 89.3h.1M254.0 78.7h.1M260.7 82.7h.1M255.1 85.3h.1M259.0 82.7h.1M256.0 86.7h.1M258.4 72.7h.1M258.4 88.1h.1M255.9 76.7h.1M254.7 81.5h.1M256.2 80.8h.1M258.2 84.8h.1M260.5 81.6h.1M262.8 80.4h.1M253.3 85.9h.1M259.5 92.7h.1M256.8 79.5h.1M258.2 79.2h.1M259.1 79.6h.1M260.4 76.5h.1M259.3 76.5h.1M258.1 80.2h.1M262.6 86.0h.1M259.0 80.0h.1M258.2 78.4h.1M261.4 81.9h.1M254.9 78.6h.1M262.3 90.1h.1M257.6 82.6h.1M253.1 74.2h.1M260.5 79.7h.1M261.6 78.0h.1M256.0 78.1h.1M254.5 71.7h.1M258.0 79.9h.1M259.2 79.5h.1M256.5 79.1h.1M255.6 76.1h.1M259.7 84.2h.1M259.7 78.2h.1M253.7 71.3h.1M255.0 77.3h.1M257.2 86.3h.1M256.4 88.3h.1M258.8 76.8h.1M259.6 81.6h.1M263.4 85.1h.1M259.2 86.9h.1M260.8 80.1h.1M253.7 83.8h.1M256.2 80.2h.1M261.2 73.5h.1M254.0 86.8h.1M262.0 82.0h.1M259.7 84.4h.1M258.5 81.3h.1M257.8 78.0h.1M254.8 79.9h.1M255.1 84.0h.1M256.6 76.1h.1M256.9 89.9h.1M261.6 93.5h.1M262.3 87.2h.1M256.3 89.5h.1M260.9 76.4h.1M259.1 88.1h.1M257.4 68.2h.1M262.2 73.6h.1M258.7 82.1h.1M264.8 85.4h.1M259.7 69.2h.1M251.9 65.3h.1M257.5 82.7h.1M258.3 81.8h.1M255.7 84.9h.1M252.9 79.1h.1M266.9 69.8h.1M258.0 88.1h.1M258.1 85.5h.1M257.8 81.4h.1M263.1 91.0h.1M265.7 78.6h.1M255.4 57.7h.1M255.1 70.9h.1M263.4 58.9h.1M263.0 77.9h.1M259.7 88.5h.1M261.5 66.8h.1M256.9 85.1h.1M258.2 77.5h.1M258.3 86.5h.1M261.6 72.1h.1M261.7 84.0h.1M254.2 79.4h.1M255.9 86.4h.1M259.6 94.3h.1M261.5 78.2h.1M258.4 92.0h.1M256.3 78.9h.1M260.2 84.3h.1M258.9 81.1h.1M253.9 74.6h.1M256.9 80.7h.1M256.7 76.3h.1M261.2 84.0h.1M252.5 71.7h.1M254.8 72.4h.1M256.6 86.3h.1M258.4 83.8h.1M268.7 84.0h.1M257.5 84.0h.1M262.9 87.6h.1M261.7 83.3h.1M264.0 86.7h.1M265.9 73.9h.1M260.8 83.6h.1M254.1 74.2h.1M256.7 70.4h.1M264.9 78.0h.1M267.8 84.6h.1M263.9 79.9h.1M268.9 93.2h.1M261.3 84.9h.1M254.6 83.0h.1M258.7 80.6h.1M259.6 69.6h.1M262.4 80.2h.1M262.1 80.0h.1M254.5 92.9h.1M263.5 73.8h.1M255.8 78.8h.1M259.5 74.3h.1M261.2 80.9h.1M261.4 66.7h.1M260.6 82.0h.1M255.9 79.9h.1M257.7 81.1h.1M256.3 79.1h.1M253.1 83.4h.1M258.4 88.0h.1M258.3 92.6h.1M253.6 82.3h.1M256.4 70.2h.1M256.6 83.0h.1M262.5 67.3h.1M254.4 73.1h.1M253.0 75.3h.1M258.8 71.4h.1M261.9 79.8h.1M254.2 77.0h.1M260.5 74.2h.1M258.3 82.6h.1M260.5 74.2h.1M258.7 84.5h.1M257.1 76.5h.1M259.2 83.1h.1M255.2 74.6h.1M257.7 75.0h.1M258.2 67.6h.1M264.3 83.2h.1M259.1 94.2h.1M258.6 62.9h.1M264.5 65.1h.1M255.2 62.7h.1M251.7 63.7h.1M253.3 70.8h.1M255.3 75.2h.1M258.6 65.2h.1M261.9 78.1h.1M255.0 85.8h.1M253.7 73.7h.1M262.2 80.5h.1M263.0 84.3h.1M254.8 92.8h.1M261.6 78.9h.1M257.4 85.1h.1M256.0 83.5h.1M257.6 80.0h.1M254.4 77.0h.1M251.9 84.9h.1M254.8 69.5h.1M259.5 76.7h.1M259.9 82.2h.1M262.0 81.9h.1M254.7 82.1h.1M258.0 92.1h.1M251.8 87.6h.1M253.8 70.0h.1M262.7 91.7h.1M257.6 74.2h.1M266.5 73.2h.1M261.2 87.8h.1M256.1 77.1h.1M255.1 66.7h.1M264.0 83.0h.1M262.6 83.7h.1M274.2 68.8h.1M267.4 85.7h.1M259.6 74.8h.1M253.5 86.4h.1M256.4 72.2h.1M258.0 64.5h.1M251.6 73.6h.1M261.3 87.7h.1M262.5 81.3h.1M253.8 75.2h.1M257.0 90.0h.1M251.9 81.1h.1M262.7 85.4h.1M254.2 82.1h.1M253.1 78.7h.1M253.6 82.8h.1M262.9 84.1h.1M261.0 86.3h.1M252.6 71.0h.1M254.1 65.1h.1M257.8 81.9h.1M258.6 80.7h.1M253.4 82.8h.1M264.2 71.8h.1M261.0 80.6h.1M267.2 71.3h.1M261.4 78.1h.1M259.1 81.8h.1M256.9 75.6h.1M252.9 79.3h.1M260.4 84.8h.1M255.8 91.0h.1M264.3 82.6h.1M263.1 85.7h.1M262.3 83.9h.1M259.6 95.5h.1M266.1 74.6h.1M266.4 84.7h.1M263.8 81.8h.1M263.3 91.6h.1M254.7 60.7h.1M264.8 74.5h.1M266.7 66.2h.1M260.1 90.0h.1M260.5 81.6h.1M257.5 84.6h.1M259.0 82.6h.1M256.8 81.6h.1M260.3 82.6h.1M257.4 76.3h.1M251.3 63.8h.1M255.4 82.0h.1M260.0 79.0h.1M259.1 75.1h.1M264.8 74.8h.1M262.5 89.5h.1M264.0 73.8h.1M258.0 71.3h.1M263.0 84.5h.1M255.0 90.7h.1M255.1 69.5h.1M262.2 71.9h.1M259.3 71.4h.1M254.6 82.4h.1M262.5 83.7h.1M264.8 90.2h.1M261.7 79.0h.1M264.1 77.5h.1M262.4 74.8h.1M262.4 88.1h.1M254.5 74.8h.1M256.6 77.7h.1M255.6 82.5h.1M253.1 74.6h.1M258.7 92.8h.1M254.9 94.1h.1M258.1 70.8h.1M254.1 80.5h.1M257.0 71.7h.1M264.9 77.2h.1M253.5 69.9h.1M264.5 81.5h.1M261.6 80.7h.1M258.0 69.1h.1M256.3 64.0h.1M259.5 65.2h.1M256.5 88.7h.1M262.5 78.0h.1M256.8 79.9h.1M255.3 90.5h.1M260.6 71.7h.1M254.5 82.6h.1M260.6 74.2h.1M252.8 80.8h.1M255.7 65.0h.1M259.0 76.3h.1M255.0 78.8h.1M262.6 80.2h.1M257.7 68.4h.1M259.1 77.5h.1M260.7 78.6h.1M258.5 85.9h.1M259.3 81.2h.1M259.6 76.5h.1M254.9 79.9h.1M253.2 72.2h.1M251.7 84.4h.1M258.2 81.8h.1M258.3 88.5h.1M267.3 85.8h.1M258.0 83.7h.1M258.8 80.8h.1M259.5 89.9h.1M262.3 77.2h.1M254.1 69.6h.1M267.6 68.9h.1M255.6 87.0h.1M258.8 82.9h.1M256.4 83.5h.1M256.3 66.5h.1M262.0 67.4h.1M263.7 75.0h.1M253.1 74.1h.1M255.7 91.5h.1M269.4 69.6h.1M253.7 74.6h.1M257.1 73.6h.1M252.4 79.9h.1M257.2 85.0h.1M259.9 73.2h.1M265.2 66.5h.1M257.8 82.4h.1M260.8 71.0h.1M262.1 86.8h.1M254.6 71.5h.1M258.5 74.4h.1M266.5 75.9h.1M259.8 94.0h.1M267.7 85.3h.1M252.6 82.1h.1M254.9 71.6h.1M258.3 70.8h.1M253.5 74.0h.1M261.0 91.6h.1M253.0 89.3h.1M259.6 80.5h.1M251.3 73.9h.1M254.3 65.8h.1M259.3 75.8h.1M260.8 83.3h.1M253.8 83.6h.1M251.3 82.3h.1M260.6 73.9h.1M253.6 83.3h.1M259.9 78.1h.1M264.0 86.1h.1M261.0 81.3h.1M251.2 85.3h.1M263.7 81.9h.1M263.2 75.7h.1M255.4 88.4h.1M256.2 71.4h.1M264.6 84.5h.1M259.6 75.9h.1M260.1 76.5h.1M263.1 81.4h.1M260.6 75.3h.1M270.9 71.5h.1M264.4 72.2h.1M258.9 70.7h.1M258.7 79.5h.1M256.8 81.8h.1M263.7 78.7h.1M252.8 67.4h.1M262.2 80.4h.1M255.5 86.6h.1M262.7 72.5h.1M260.2 86.3h.1M259.5 78.1h.1M256.8 87.6h.1M258.1 76.8h.1M255.4 68.4h.1M264.3 79.0h.1M264.4 78.9h.1M258.0 81.6h.1M258.3 72.9h.1M259.6 75.8h.1M262.4 94.9h.1M259.3 75.1h.1M256.2 91.5h.1M257.2 70.8h.1M259.6 81.1h.1M257.6 82.2h.1M256.5 86.0h.1M263.9 79.3h.1M260.2 74.4h.1M262.4 80.2h.1M254.3 68.0h.1M262.1 60.3h.1M258.4 67.6h.1M257.2 91.3h.1M255.2 85.7h.1M255.4 93.4h.1M256.2 83.1h.1M258.9 68.2h.1M257.9 71.8h.1M267.4 81.7h.1M260.5 73.0h.1M259.4 72.1h.1M257.9 71.1h.1M254.7 73.5h.1M254.7 64.8h.1M260.0 82.6h.1M251.5 73.9h.1M265.7 89.0h.1M265.4 92.0h.1M251.6 78.8h.1M263.8 87.3h.1M263.3 87.7h.1M263.5 80.9h.1M261.4 78.0h.1M265.8 89.1h.1M254.7 84.4h.1M256.3 78.0h.1M261.1 75.5h.1M258.6 79.4h.1M251.9 86.5h.1M262.1 84.6h.1M263.0 74.9h.1M257.4 78.2h.1M260.1 80.6h.1M262.7 76.2h.1M255.9 71.9h.1M254.4 73.2h.1M257.7 81.5h.1M252.8 81.2h.1M252.6 77.0h.1M259.4 95.8h.1M266.6 78.1h.1M252.8 84.7h.1M265.6 81.5h.1" stroke="#111" stroke-width="0.7" stroke-linecap="round" fill="none" opacity="0.6"/>
<path d="M252.8 61.4L279 61.4" stroke="#333" stroke-width="1.1"/>
<rect x="250.5" y="112.4" width="66.7" height="64.2" fill="none" stroke="#777" stroke-width="0.9"/>
<path d="M251.7 176.6v2M250.5 174.3h-2M256.52 176.6v1M250.5 169.69h-1M259.33 176.6v1M250.5 167h-1M261.33 176.6v1M250.5 165.09h-1M262.88 176.6v1M250.5 163.61h-1M264.15 176.6v1M250.5 162.39h-1M265.22 176.6v1M250.5 161.37h-1M266.15 176.6v1M250.5 160.48h-1M266.97 176.6v1M250.5 159.7h-1M267.7 176.6v2M250.5 159h-2M272.52 176.6v1M250.5 154.39h-1M275.33 176.6v1M250.5 151.7h-1M277.33 176.6v1M250.5 149.79h-1M278.88 176.6v1M250.5 148.31h-1M280.15 176.6v1M250.5 147.09h-1M281.22 176.6v1M250.5 146.07h-1M282.15 176.6v1M250.5 145.18h-1M282.97 176.6v1M250.5 144.4h-1M283.7 176.6v2M250.5 143.7h-2M288.52 176.6v1M250.5 139.09h-1M291.33 176.6v1M250.5 136.4h-1M293.33 176.6v1M250.5 134.49h-1M294.88 176.6v1M250.5 133.01h-1M296.15 176.6v1M250.5 131.79h-1M297.22 176.6v1M250.5 130.77h-1M298.15 176.6v1M250.5 129.88h-1M298.97 176.6v1M250.5 129.1h-1M299.7 176.6v2M250.5 128.4h-2M304.52 176.6v1M250.5 123.79h-1M307.33 176.6v1M250.5 121.1h-1M309.33 176.6v1M250.5 119.19h-1M310.88 176.6v1M250.5 117.71h-1M312.15 176.6v1M250.5 116.49h-1M313.22 176.6v1M250.5 115.47h-1M314.15 176.6v1M250.5 114.58h-1M314.97 176.6v1M250.5 113.8h-1M315.7 176.6v2M250.5 113.1h-2" stroke="#555" stroke-width="0.7" fill="none"/>
<text x="251.5" y="184.6" font-size="4.6" fill="#333" text-anchor="middle">10<tspan dy="-1.8" font-size="3.2">0</tspan></text>
<text x="247.1" y="174.9" font-size="4.6" fill="#333" text-anchor="middle" transform="rotate(-90 247.1 174.9)">10<tspan dy="-1.8" font-size="3.2">0</tspan></text>
<text x="267.5" y="184.6" font-size="4.6" fill="#333" text-anchor="middle">10<tspan dy="-1.8" font-size="3.2">1</tspan></text>
<text x="247.1" y="159.6" font-size="4.6" fill="#333" text-anchor="middle" transform="rotate(-90 247.1 159.6)">10<tspan dy="-1.8" font-size="3.2">1</tspan></text>
<text x="283.5" y="184.6" font-size="4.6" fill="#333" text-anchor="middle">10<tspan dy="-1.8" font-size="3.2">2</tspan></text>
<text x="247.1" y="144.3" font-size="4.6" fill="#333" text-anchor="middle" transform="rotate(-90 247.1 144.3)">10<tspan dy="-1.8" font-size="3.2">2</tspan></text>
<text x="299.5" y="184.6" font-size="4.6" fill="#333" text-anchor="middle">10<tspan dy="-1.8" font-size="3.2">3</tspan></text>
<text x="247.1" y="129" font-size="4.6" fill="#333" text-anchor="middle" transform="rotate(-90 247.1 129)">10<tspan dy="-1.8" font-size="3.2">3</tspan></text>
<text x="315.5" y="184.6" font-size="4.6" fill="#333" text-anchor="middle">10<tspan dy="-1.8" font-size="3.2">4</tspan></text>
<text x="247.1" y="113.7" font-size="4.6" fill="#333" text-anchor="middle" transform="rotate(-90 247.1 113.7)">10<tspan dy="-1.8" font-size="3.2">4</tspan></text>
<path d="M257.2 128.6h.1M260.2 123.5h.1M261.3 127.8h.1M258.5 125.8h.1M259.7 130.5h.1M265.9 132.1h.1M256.1 129.3h.1M257.9 129.2h.1M259.9 132.3h.1M258.4 132.8h.1M256.3 124.7h.1M257.2 129.3h.1M257.8 124.8h.1M257.7 125.9h.1M258.6 131.2h.1M262.6 125.0h.1M259.0 127.6h.1M257.5 131.5h.1M260.2 129.3h.1M260.1 123.5h.1M255.7 127.8h.1M256.9 127.5h.1M255.6 125.6h.1M259.3 133.8h.1M260.7 128.3h.1M257.9 128.2h.1M261.7 131.0h.1M257.0 128.6h.1M257.6 124.5h.1M258.3 128.1h.1M258.9 129.3h.1M262.8 128.6h.1M255.6 131.1h.1M259.9 130.6h.1M258.7 129.6h.1M261.5 127.7h.1M255.0 128.3h.1M255.4 133.5h.1M262.9 123.6h.1M261.7 131.3h.1M261.3 129.4h.1M258.1 126.3h.1M261.2 128.1h.1M258.5 129.9h.1M255.6 124.3h.1M258.1 128.6h.1M257.8 129.8h.1M255.8 125.7h.1M257.0 128.6h.1M256.6 132.1h.1M259.8 128.7h.1M261.0 125.8h.1M261.4 123.8h.1M261.3 123.3h.1M255.7 130.9h.1M259.9 127.7h.1M260.6 127.9h.1M259.5 127.6h.1M256.0 126.2h.1M258.9 130.1h.1M256.3 132.3h.1M260.8 124.9h.1M254.6 129.9h.1M259.9 130.0h.1M257.3 125.1h.1M255.0 125.8h.1M257.3 125.9h.1M258.1 131.0h.1M260.6 128.8h.1M260.5 126.2h.1M261.7 130.1h.1M260.4 126.4h.1M257.3 128.6h.1M257.3 128.0h.1M258.9 125.8h.1M257.5 130.8h.1M254.1 128.4h.1M253.1 121.9h.1M260.4 127.7h.1M258.7 132.3h.1M263.6 122.0h.1M257.1 130.7h.1M261.1 128.8h.1M258.8 124.8h.1M259.7 128.2h.1M258.6 125.1h.1M261.3 124.0h.1M259.8 129.3h.1M257.2 129.0h.1M258.2 123.2h.1M257.8 126.7h.1M258.6 128.3h.1M259.0 123.9h.1M257.3 131.2h.1M256.9 126.2h.1M258.4 129.3h.1M253.8 130.0h.1M259.5 125.6h.1M259.4 129.1h.1M255.6 129.3h.1M258.4 127.0h.1M252.6 130.9h.1M259.6 130.2h.1M261.0 132.4h.1M259.7 131.1h.1M260.9 124.5h.1M258.2 126.6h.1M260.6 129.4h.1M260.2 131.0h.1M258.1 126.3h.1M258.6 128.2h.1M254.1 129.1h.1M254.9 127.9h.1M261.0 131.0h.1M261.1 125.5h.1M256.3 129.6h.1M254.4 126.0h.1M253.3 129.4h.1M261.4 125.7h.1M259.3 127.4h.1M263.4 130.8h.1M261.7 125.6h.1M263.7 128.4h.1M260.6 130.0h.1M257.0 127.9h.1M257.5 127.5h.1M261.3 128.2h.1M254.7 125.8h.1M259.9 130.3h.1M257.3 130.2h.1M261.8 133.0h.1M257.0 129.0h.1M256.5 131.2h.1M260.9 126.8h.1M261.2 125.7h.1M259.2 128.9h.1M256.8 127.3h.1M260.1 130.8h.1M257.1 122.6h.1M260.0 127.7h.1M258.6 127.4h.1M260.4 130.0h.1M255.9 126.2h.1M256.6 127.0h.1M263.2 131.7h.1M259.2 126.5h.1M257.9 127.1h.1M256.0 131.3h.1M257.0 122.4h.1M259.0 129.3h.1M255.2 129.1h.1M258.3 128.9h.1M257.7 123.3h.1M253.3 124.3h.1M258.4 125.9h.1M261.6 125.9h.1M257.3 130.0h.1M257.8 127.0h.1M259.1 132.1h.1M256.8 128.1h.1M253.8 129.9h.1M258.5 126.4h.1M257.2 126.6h.1M256.7 129.4h.1M262.0 130.6h.1M258.7 126.4h.1M256.4 131.7h.1M256.6 127.5h.1M262.5 132.5h.1M260.5 124.8h.1M253.7 127.3h.1M260.0 130.0h.1M257.1 128.0h.1M256.9 126.6h.1M261.3 130.0h.1M260.3 130.8h.1M256.2 127.1h.1M258.3 130.3h.1M260.0 127.0h.1M258.1 126.0h.1M259.5 131.7h.1M256.6 126.7h.1M261.8 126.9h.1M262.2 130.3h.1M256.7 125.5h.1M254.7 125.6h.1M257.2 127.5h.1M260.6 128.5h.1M258.9 130.7h.1M258.2 127.7h.1M258.9 126.4h.1M254.5 124.7h.1M258.3 127.3h.1M258.1 126.9h.1M256.7 131.2h.1M260.5 123.8h.1M256.7 123.4h.1M256.7 123.1h.1M260.2 127.5h.1M260.0 129.4h.1M258.6 132.6h.1M259.0 123.8h.1M259.4 128.6h.1M259.3 126.5h.1M255.8 132.6h.1M260.6 129.1h.1M263.7 132.3h.1M259.4 128.1h.1M257.7 131.1h.1M261.5 129.2h.1M260.0 126.4h.1M256.4 130.7h.1M258.1 127.3h.1M256.9 122.0h.1M261.1 127.9h.1M255.0 124.8h.1M261.7 129.6h.1M256.6 132.4h.1M259.2 129.0h.1M257.3 129.7h.1M259.4 124.8h.1M261.4 126.0h.1M260.0 126.5h.1M255.2 133.5h.1M257.7 127.0h.1M258.8 128.9h.1M263.3 123.1h.1M257.1 126.8h.1M257.4 128.5h.1M256.4 127.8h.1M258.3 127.4h.1M260.1 129.3h.1M255.8 129.5h.1M262.1 124.8h.1M261.7 124.5h.1M260.5 129.7h.1M260.0 130.4h.1M264.8 124.4h.1M255.6 130.0h.1M257.0 124.3h.1M264.0 127.7h.1M255.2 131.6h.1M259.2 123.7h.1M258.0 128.1h.1M256.0 127.5h.1M255.9 125.0h.1M257.8 130.2h.1M259.1 125.5h.1M259.7 126.3h.1M259.9 125.1h.1M258.6 129.3h.1M258.5 129.7h.1M260.0 131.9h.1M256.7 127.4h.1M254.9 125.8h.1M260.6 132.2h.1M253.0 126.4h.1M259.9 130.0h.1M261.7 132.6h.1M255.1 130.3h.1M252.6 123.1h.1M256.2 125.2h.1M259.2 125.9h.1M255.9 130.4h.1M261.1 125.9h.1M260.1 130.2h.1M255.8 128.7h.1M260.4 128.5h.1M254.6 128.0h.1M257.2 126.0h.1M259.0 131.9h.1M261.9 128.4h.1M260.5 132.2h.1M262.3 125.6h.1M254.6 123.4h.1M266.8 131.9h.1M256.1 124.8h.1M259.1 128.4h.1M262.5 127.0h.1M259.7 127.6h.1M261.6 127.1h.1M255.2 125.0h.1M255.4 124.7h.1M257.2 128.6h.1M256.9 126.0h.1M258.7 132.8h.1M257.5 128.2h.1M255.3 131.9h.1M259.0 126.7h.1M254.7 130.2h.1M256.6 126.4h.1M259.2 125.4h.1M256.0 127.3h.1M258.3 127.4h.1M260.1 135.2h.1M262.3 124.3h.1M261.5 126.2h.1M260.7 130.0h.1M259.7 127.5h.1M255.1 128.4h.1M256.1 130.1h.1M256.1 127.6h.1M257.0 126.0h.1M258.0 124.2h.1M255.9 127.8h.1M257.2 129.5h.1M261.3 128.6h.1M257.2 131.2h.1M253.3 126.8h.1M257.6 128.7h.1M258.0 125.6h.1M257.4 122.6h.1M264.0 129.6h.1M260.8 126.7h.1M262.8 129.7h.1M256.8 126.2h.1M260.4 123.7h.1M259.0 125.4h.1M258.1 127.1h.1M256.2 126.0h.1M258.9 127.2h.1M253.3 129.5h.1M260.9 127.9h.1M265.7 129.2h.1M262.3 127.5h.1M252.9 126.0h.1M258.9 125.2h.1M256.4 121.8h.1M256.7 129.6h.1M257.6 131.0h.1M261.4 125.2h.1M260.3 125.3h.1M256.1 125.5h.1M259.8 128.9h.1M258.8 128.2h.1M263.7 127.3h.1M254.5 127.8h.1M258.0 123.3h.1M255.9 127.6h.1M258.3 127.4h.1M253.0 129.3h.1M255.9 125.9h.1M258.0 126.4h.1M256.8 128.5h.1M256.0 135.3h.1M258.0 126.2h.1M256.8 133.6h.1M255.9 125.4h.1M257.7 128.1h.1M258.4 125.3h.1M259.2 131.7h.1M253.8 128.3h.1M257.2 128.5h.1M261.4 130.8h.1M254.5 131.6h.1M258.7 126.1h.1M257.0 128.6h.1M261.2 126.6h.1M261.5 131.2h.1M259.0 122.1h.1M257.0 134.0h.1M254.2 127.3h.1M256.9 122.2h.1M256.1 128.7h.1M258.4 125.6h.1M262.4 128.0h.1M263.3 128.3h.1M259.1 130.9h.1M258.6 122.9h.1M258.0 129.1h.1M259.1 131.2h.1M257.8 124.4h.1M262.9 130.0h.1M256.4 130.2h.1M258.6 126.5h.1M256.7 122.6h.1M260.8 128.4h.1M263.0 126.6h.1M260.1 132.3h.1M258.8 127.3h.1M258.5 129.9h.1M259.8 128.9h.1M257.1 128.5h.1M262.6 124.5h.1M262.9 125.9h.1M261.0 128.3h.1M260.5 127.7h.1M257.3 127.7h.1M263.1 130.1h.1M254.8 128.1h.1M256.5 130.0h.1M263.9 128.2h.1M257.3 129.0h.1M256.3 126.5h.1M254.1 123.8h.1M261.1 130.3h.1M261.5 130.4h.1M261.4 130.3h.1M254.6 116.5h.1M263.5 120.7h.1M258.8 121.2h.1M259.1 127.5h.1M255.2 126.7h.1M256.1 126.4h.1M255.4 130.6h.1M260.1 137.9h.1M255.2 123.4h.1M258.2 129.4h.1M255.8 128.1h.1M252.4 132.7h.1M258.6 118.6h.1M258.9 120.8h.1M258.7 123.2h.1M263.1 128.9h.1M258.3 125.8h.1M253.9 119.0h.1M267.2 124.6h.1M258.5 120.8h.1M261.8 124.5h.1M258.9 127.0h.1M263.9 133.2h.1M253.1 137.7h.1M263.4 130.0h.1M257.7 121.1h.1M254.4 134.1h.1M256.2 127.0h.1M253.7 129.5h.1M258.5 132.7h.1M253.2 128.7h.1M261.7 133.4h.1M255.9 130.3h.1M256.3 125.2h.1M267.5 125.7h.1M262.0 126.7h.1M255.3 124.9h.1M260.0 133.6h.1M254.9 127.0h.1M257.5 131.4h.1M254.9 128.2h.1M253.7 132.4h.1M261.3 134.9h.1M255.5 128.6h.1M254.6 125.3h.1M255.5 122.7h.1M255.3 135.6h.1M262.0 129.5h.1M259.7 125.2h.1M251.4 127.4h.1M264.5 122.9h.1M263.3 133.7h.1M257.0 129.2h.1M253.7 126.2h.1M258.4 121.4h.1M255.7 137.1h.1M260.7 128.4h.1M258.1 118.1h.1M264.1 125.3h.1M255.5 128.5h.1M259.6 123.1h.1M256.0 132.9h.1M256.4 130.4h.1M253.0 128.0h.1M267.1 124.9h.1M257.5 120.0h.1M261.5 125.8h.1M254.7 126.9h.1M256.2 122.6h.1M258.0 129.1h.1M265.8 131.3h.1M264.6 125.7h.1M267.8 126.0h.1M265.3 127.7h.1M265.1 135.1h.1M257.3 134.1h.1M255.1 120.5h.1M264.3 125.7h.1M255.0 139.0h.1M260.7 126.4h.1M255.5 135.5h.1M253.5 130.0h.1M258.6 133.4h.1M254.2 126.3h.1M256.9 128.2h.1M262.3 130.2h.1M257.4 127.8h.1M262.9 127.6h.1M256.2 134.1h.1M259.9 127.1h.1M253.7 133.6h.1M264.3 125.2h.1M259.6 131.0h.1M259.8 166.3h.1M261.1 168.8h.1M258.4 160.3h.1M258.2 158.0h.1M256.9 169.5h.1M253.7 162.8h.1M257.1 161.9h.1M261.3 167.7h.1M258.1 172.3h.1M258.9 164.6h.1M262.0 164.5h.1M255.6 168.1h.1M259.3 168.6h.1M256.7 166.2h.1M261.6 157.2h.1M254.0 169.6h.1M257.3 162.2h.1M256.8 176.0h.1M257.3 162.6h.1M256.7 167.0h.1M263.8 165.7h.1M257.7 166.9h.1M254.1 164.7h.1M254.4 170.9h.1M256.1 166.0h.1M254.8 164.3h.1M259.8 169.6h.1M256.6 167.6h.1M257.0 165.1h.1M257.9 161.3h.1M255.7 168.0h.1M256.3 165.3h.1M258.9 169.0h.1M258.0 163.2h.1M263.0 159.1h.1M259.4 163.2h.1M260.3 156.9h.1M262.8 169.3h.1M255.6 166.7h.1M261.1 168.0h.1M259.1 165.9h.1M259.2 173.5h.1M253.9 172.6h.1M256.0 171.6h.1M258.3 153.0h.1M258.2 161.6h.1M262.8 166.5h.1M257.2 170.2h.1M259.0 152.8h.1M257.4 173.6h.1M254.5 167.6h.1M257.3 173.7h.1M258.6 160.4h.1M263.4 162.3h.1M261.9 160.9h.1M256.8 163.0h.1M255.7 162.2h.1M258.3 157.6h.1M256.7 172.2h.1M265.5 168.6h.1M260.8 162.0h.1M258.2 156.0h.1M256.8 171.5h.1M255.2 154.9h.1M258.1 160.6h.1M257.2 162.4h.1M257.0 168.1h.1M262.8 170.1h.1M253.3 167.4h.1M261.0 160.3h.1M257.4 172.2h.1M260.6 171.6h.1M256.2 169.7h.1M260.8 160.7h.1M265.8 162.2h.1M256.0 162.1h.1M258.0 162.9h.1M258.1 169.0h.1M256.7 166.9h.1M258.1 163.9h.1M258.4 171.5h.1M257.4 165.5h.1M253.4 163.2h.1M259.1 162.8h.1M254.2 159.5h.1M258.1 164.7h.1M261.3 161.6h.1M254.7 165.3h.1M258.0 167.6h.1M258.9 168.0h.1M258.2 163.6h.1M257.0 175.0h.1M258.4 160.2h.1M260.3 169.2h.1M255.4 165.9h.1M257.9 167.2h.1M260.4 162.5h.1M256.6 162.0h.1M254.9 168.9h.1M260.6 157.5h.1M260.4 166.4h.1M261.1 158.7h.1M258.3 156.9h.1M256.5 166.1h.1M262.8 163.0h.1M262.0 175.1h.1M260.7 157.3h.1M256.9 166.5h.1M258.7 166.3h.1M255.8 166.6h.1M255.4 163.5h.1M258.7 158.0h.1M259.3 169.3h.1M260.0 169.4h.1M258.7 167.6h.1M264.3 167.1h.1M255.6 171.6h.1M262.2 170.5h.1M257.2 169.1h.1M261.1 162.8h.1M255.7 170.7h.1M264.8 161.6h.1M262.6 167.7h.1M253.8 161.0h.1M262.2 165.0h.1M258.9 169.6h.1M261.0 164.3h.1M258.4 170.4h.1M258.0 163.5h.1M254.4 173.8h.1M257.1 165.0h.1M253.6 169.3h.1M255.6 165.6h.1M258.5 160.4h.1M259.7 163.8h.1M257.1 175.3h.1M262.5 159.8h.1M257.0 158.2h.1M260.3 167.2h.1M262.3 171.9h.1M256.2 164.0h.1M261.8 161.6h.1M258.1 164.7h.1M256.0 164.8h.1M263.1 171.2h.1M263.2 174.9h.1M257.6 165.1h.1M261.6 161.8h.1M261.4 160.0h.1M258.4 157.4h.1M264.9 165.4h.1M258.2 158.3h.1M256.6 169.2h.1M258.6 164.7h.1M258.2 162.4h.1M257.3 172.7h.1M257.7 157.4h.1M254.7 170.1h.1M260.3 166.3h.1M254.6 167.0h.1M261.7 165.7h.1M260.6 160.3h.1M257.4 168.7h.1M257.4 171.5h.1M256.6 156.0h.1M258.6 166.2h.1M263.6 165.2h.1M259.5 164.3h.1M257.3 167.7h.1M263.6 164.8h.1M257.4 163.8h.1M257.5 171.5h.1M264.8 161.1h.1M260.5 163.8h.1M262.0 163.7h.1M260.4 161.8h.1M260.1 163.2h.1M260.6 172.5h.1M260.8 161.7h.1M255.2 158.1h.1M251.7 154.0h.1M257.8 162.3h.1M254.3 159.5h.1M259.0 171.7h.1M255.1 167.9h.1M258.7 160.5h.1M261.8 164.7h.1M257.1 164.1h.1M260.9 166.4h.1M256.4 167.0h.1M258.3 168.2h.1M258.2 166.8h.1M254.8 165.7h.1M261.3 161.5h.1M255.4 166.1h.1M261.2 166.7h.1M259.7 159.2h.1M255.5 166.0h.1M257.5 159.6h.1M261.1 157.5h.1M257.7 165.3h.1M265.0 168.2h.1M255.7 170.2h.1M262.0 162.9h.1M253.7 158.5h.1M257.8 161.3h.1M261.5 164.4h.1M253.0 165.1h.1M259.3 167.9h.1M255.3 164.7h.1M254.7 170.7h.1M256.4 162.5h.1M256.9 167.9h.1M257.1 168.7h.1M256.8 167.5h.1M256.0 168.2h.1M262.5 169.9h.1M264.7 163.2h.1M259.9 164.8h.1M257.7 160.7h.1M255.6 167.4h.1M259.3 163.5h.1M259.3 162.3h.1M255.9 169.0h.1M258.0 162.0h.1M260.7 167.4h.1M259.4 166.5h.1M258.4 168.2h.1M258.9 165.9h.1M256.4 159.8h.1M258.3 166.4h.1M258.7 167.5h.1M256.3 174.7h.1M258.2 174.7h.1M261.2 169.9h.1M261.5 170.4h.1M252.1 153.3h.1M254.3 163.1h.1M261.4 160.4h.1M259.7 168.6h.1M259.8 168.3h.1M254.4 168.4h.1M258.7 168.6h.1M260.2 167.5h.1M259.8 165.2h.1M256.4 162.9h.1M256.8 169.2h.1M259.4 165.8h.1M259.0 170.9h.1M262.3 163.6h.1M251.9 164.4h.1M256.8 161.9h.1M262.1 168.9h.1M255.1 161.8h.1M258.8 154.3h.1M262.7 161.8h.1M255.5 162.4h.1M259.5 165.7h.1M264.1 164.0h.1M254.8 171.9h.1M252.7 167.3h.1M261.6 170.5h.1M257.1 172.5h.1M258.3 170.9h.1M258.7 170.2h.1M262.1 163.5h.1M257.6 167.9h.1M261.4 165.3h.1M260.7 169.6h.1M258.5 163.0h.1M261.6 169.0h.1M259.4 163.4h.1M258.2 169.4h.1M267.4 171.8h.1M252.6 171.8h.1M255.1 163.9h.1M255.5 172.3h.1M257.2 157.5h.1M259.0 166.7h.1M257.8 159.0h.1M265.1 165.9h.1M257.0 160.1h.1M255.3 165.6h.1M258.5 162.4h.1M257.2 172.0h.1M261.2 170.1h.1M259.4 170.9h.1M261.8 168.2h.1M255.3 165.5h.1M260.3 164.8h.1M258.5 160.3h.1M256.6 162.1h.1M253.8 169.8h.1M258.2 163.9h.1M255.0 167.8h.1M260.6 161.6h.1M259.9 172.5h.1M266.7 165.5h.1M262.2 175.0h.1M252.5 168.4h.1M260.2 171.3h.1M259.1 165.2h.1M259.1 163.8h.1M257.0 172.9h.1M261.2 169.6h.1M254.5 170.9h.1M260.3 166.6h.1M259.0 163.8h.1M261.1 167.9h.1M257.3 157.5h.1M256.9 166.5h.1M260.7 171.5h.1M258.9 164.9h.1M253.3 175.0h.1M261.2 164.4h.1M255.2 161.0h.1M261.0 168.8h.1M259.0 165.2h.1M260.1 169.0h.1M261.4 162.9h.1M255.4 168.7h.1M260.4 166.6h.1M258.3 167.2h.1M257.7 170.6h.1M258.4 162.3h.1M256.9 165.2h.1M258.6 171.4h.1M259.2 171.9h.1M256.5 169.5h.1M261.7 160.7h.1M258.7 167.0h.1M255.2 164.1h.1M259.8 164.5h.1M260.0 158.6h.1M254.2 155.9h.1M259.3 170.7h.1M257.3 169.9h.1M259.2 159.0h.1M257.9 164.3h.1M259.6 166.3h.1M259.0 163.2h.1M251.7 168.4h.1M258.7 164.1h.1M260.1 159.3h.1M260.6 164.0h.1M262.1 168.1h.1M259.4 161.5h.1M262.3 169.6h.1M261.0 171.0h.1M257.0 168.9h.1M256.4 168.7h.1M262.2 165.5h.1M260.5 168.6h.1M253.3 162.4h.1M255.3 154.7h.1M261.9 162.6h.1M258.9 172.9h.1M253.3 170.9h.1M259.7 160.8h.1M261.4 164.8h.1M260.4 162.4h.1M258.3 160.2h.1M257.8 164.3h.1M256.9 169.7h.1M256.9 166.1h.1M259.2 164.7h.1M265.9 155.5h.1M257.9 160.3h.1M254.0 165.9h.1M258.2 169.8h.1M257.6 166.7h.1M257.7 169.8h.1M253.5 154.7h.1M258.2 161.6h.1M256.5 162.6h.1M258.6 159.4h.1M253.8 158.2h.1M258.5 170.0h.1M254.8 159.7h.1M256.0 171.1h.1M256.5 170.1h.1M256.8 164.1h.1M256.8 159.1h.1M256.8 163.0h.1M256.6 162.3h.1M256.3 162.6h.1M256.7 162.1h.1M257.4 166.0h.1M264.0 164.4h.1M261.1 165.5h.1M256.6 165.6h.1M254.4 171.6h.1M261.8 175.4h.1M258.4 165.9h.1M259.5 165.4h.1M261.9 165.0h.1M252.8 170.4h.1M256.6 169.1h.1M259.0 166.3h.1M262.6 165.1h.1M258.2 168.5h.1M258.7 170.8h.1M258.3 163.7h.1M258.3 167.8h.1M258.9 157.1h.1M256.7 162.6h.1M256.3 168.1h.1M257.3 158.2h.1M260.3 158.6h.1M261.9 167.0h.1M258.8 156.3h.1M257.6 164.2h.1M262.1 175.7h.1M260.1 167.5h.1M260.6 174.2h.1M258.1 173.3h.1M257.2 162.2h.1M259.9 164.8h.1M258.0 167.6h.1M261.9 171.1h.1M255.8 172.7h.1M259.4 169.5h.1M258.5 167.4h.1M255.4 160.8h.1M257.4 170.8h.1M255.3 163.0h.1M257.4 170.5h.1M257.6 172.2h.1M266.3 158.9h.1M255.4 175.5h.1M260.3 164.9h.1M257.1 171.0h.1M259.5 170.4h.1M257.4 174.7h.1M256.1 171.5h.1M262.7 173.7h.1M261.7 169.9h.1M253.3 162.1h.1M258.0 165.0h.1M257.4 169.2h.1M253.7 170.4h.1M258.9 166.6h.1M259.9 162.4h.1M258.6 159.8h.1M259.8 166.3h.1M257.1 165.3h.1M262.1 163.5h.1M264.9 168.8h.1M257.8 166.5h.1M262.4 156.3h.1M259.4 162.6h.1M256.6 162.9h.1M262.7 168.9h.1M261.1 162.9h.1M253.7 164.8h.1M260.9 160.6h.1M257.9 163.2h.1M255.0 169.9h.1M260.1 167.9h.1M258.9 161.8h.1M255.7 160.0h.1M257.5 170.8h.1M262.7 165.8h.1M263.0 168.8h.1M254.0 167.3h.1M260.0 166.5h.1M257.6 154.0h.1M257.0 170.2h.1M259.2 174.4h.1M263.0 166.3h.1M260.1 165.1h.1M255.6 167.0h.1M258.6 164.7h.1M259.8 157.1h.1M261.8 164.2h.1M258.3 165.9h.1M258.9 171.0h.1M259.2 161.2h.1M260.4 164.4h.1M252.9 166.0h.1M262.6 168.2h.1M259.4 175.2h.1M258.5 169.0h.1M255.3 169.1h.1M259.3 160.2h.1M264.3 173.6h.1M256.7 157.7h.1M253.7 172.4h.1M259.8 170.1h.1M258.6 166.4h.1M258.3 160.9h.1M254.0 168.5h.1M259.7 163.7h.1M260.4 172.5h.1M259.0 166.4h.1M260.8 153.4h.1M255.8 166.3h.1M252.2 164.5h.1M258.8 170.0h.1M264.8 160.5h.1M259.6 161.2h.1M265.2 155.6h.1M259.5 163.8h.1M257.8 166.7h.1M256.2 164.7h.1M262.7 161.2h.1M254.5 164.8h.1M256.7 168.6h.1M257.3 167.4h.1M259.4 156.4h.1M258.6 163.5h.1M254.1 161.6h.1M255.0 152.5h.1M263.6 168.8h.1M258.8 167.4h.1M258.5 160.9h.1M257.5 168.4h.1M259.3 167.1h.1M256.3 163.6h.1M261.8 167.4h.1M261.0 164.8h.1M258.5 162.6h.1M261.2 170.8h.1M258.0 158.3h.1M257.3 175.0h.1M261.4 167.1h.1M258.2 163.9h.1M256.1 167.9h.1M263.2 161.4h.1M258.0 163.9h.1M259.9 175.5h.1M263.0 168.2h.1M254.7 165.1h.1M257.6 165.1h.1M261.4 170.3h.1M257.6 170.3h.1M257.2 164.3h.1M258.1 171.6h.1M257.6 165.8h.1M257.6 165.7h.1M259.7 169.6h.1M258.8 162.4h.1M263.6 158.4h.1M259.5 165.2h.1M263.5 170.1h.1M258.9 164.5h.1M263.7 170.1h.1M258.1 171.8h.1M262.2 164.2h.1M259.0 166.0h.1M263.3 165.3h.1M256.2 169.1h.1M257.2 168.3h.1M259.7 166.8h.1M255.7 172.5h.1M262.9 167.8h.1M258.0 167.3h.1M260.1 162.4h.1M261.6 166.3h.1M260.3 172.4h.1M256.4 169.4h.1M254.6 166.5h.1M253.6 165.5h.1M255.9 161.5h.1M256.3 162.5h.1M256.2 170.9h.1M259.9 166.1h.1M254.5 166.4h.1M253.7 172.1h.1M259.1 164.0h.1M263.8 163.7h.1M255.8 172.9h.1M258.2 169.0h.1M258.4 158.4h.1M261.8 166.0h.1M261.1 162.3h.1M257.2 163.6h.1M261.3 164.9h.1M258.7 158.2h.1M260.9 162.6h.1M263.9 174.7h.1M252.0 165.1h.1M254.3 163.7h.1M254.5 170.6h.1M254.8 159.5h.1M258.8 164.9h.1M258.9 172.2h.1M263.7 166.1h.1M262.7 167.7h.1M259.4 165.0h.1M258.1 167.7h.1M260.5 169.4h.1M259.8 165.2h.1M257.1 166.6h.1M260.5 167.3h.1M257.0 157.0h.1M258.2 170.4h.1M258.0 174.8h.1M256.7 170.0h.1M256.6 167.2h.1M258.7 164.3h.1M258.1 167.8h.1M254.8 175.5h.1M263.4 173.2h.1M263.5 162.8h.1M263.3 173.4h.1M262.0 162.8h.1M258.2 163.0h.1M255.7 165.4h.1M255.5 169.1h.1M253.3 165.1h.1M257.5 170.9h.1M253.4 167.6h.1M258.8 173.7h.1M259.2 159.5h.1M256.9 166.7h.1M256.9 169.3h.1M258.3 173.5h.1M260.1 156.2h.1M257.4 165.1h.1M263.4 156.7h.1M255.8 168.2h.1M256.6 163.5h.1M257.0 167.7h.1M257.8 171.0h.1M259.1 170.3h.1M260.0 165.2h.1M257.5 169.1h.1M253.0 163.9h.1M259.2 168.9h.1M258.5 163.9h.1M254.4 170.2h.1M254.2 162.4h.1M258.7 169.1h.1M261.8 159.2h.1M259.6 167.2h.1M257.4 160.8h.1M256.9 163.5h.1M257.2 170.6h.1M260.2 161.0h.1M261.5 155.1h.1M260.0 158.4h.1M256.3 167.2h.1M260.0 171.5h.1M261.4 166.7h.1M253.0 166.6h.1M259.3 171.4h.1M256.8 166.1h.1M258.7 172.7h.1M254.6 173.4h.1M255.2 164.8h.1M258.0 172.3h.1M256.7 169.6h.1M256.9 165.7h.1M255.8 166.2h.1M259.6 171.4h.1M261.5 160.4h.1M255.5 158.7h.1M259.1 171.8h.1M257.0 175.6h.1M259.1 167.6h.1M261.6 171.2h.1M259.1 158.5h.1M258.0 159.9h.1M255.3 163.6h.1M261.6 164.5h.1M263.1 167.0h.1M252.7 163.9h.1M260.0 165.9h.1M257.8 165.3h.1M254.6 169.2h.1M263.3 171.3h.1M259.8 170.4h.1M264.4 172.9h.1M256.0 165.3h.1M257.0 164.0h.1M253.9 157.2h.1M258.5 158.2h.1M253.4 170.0h.1M257.4 168.5h.1M261.6 166.4h.1M259.9 164.6h.1M261.1 160.2h.1M258.7 155.6h.1M260.5 163.3h.1M258.0 164.9h.1M254.6 153.8h.1M259.7 172.5h.1M258.1 162.9h.1M256.0 168.2h.1M255.1 172.4h.1M261.8 173.3h.1M253.5 164.6h.1M255.9 170.8h.1M259.3 170.5h.1M260.1 166.4h.1M259.0 167.7h.1M253.9 161.9h.1M261.5 167.4h.1M258.0 162.9h.1M254.0 165.0h.1M261.4 166.6h.1M258.0 170.6h.1M252.9 164.9h.1M257.8 164.1h.1M259.1 164.1h.1M258.7 168.4h.1M256.0 158.8h.1M259.5 166.3h.1M258.9 160.3h.1M255.2 163.4h.1M260.6 169.7h.1M258.9 174.4h.1M257.7 166.9h.1M259.3 169.0h.1M255.9 166.9h.1M256.0 163.9h.1M258.0 166.5h.1M255.5 170.8h.1M262.7 167.1h.1M259.0 164.2h.1M260.4 163.8h.1M263.5 168.4h.1M262.5 164.5h.1M264.4 170.6h.1M255.8 159.3h.1M263.1 169.8h.1M257.1 162.1h.1M257.7 165.7h.1M258.6 171.1h.1M258.3 163.6h.1M259.3 164.2h.1M262.8 170.4h.1M252.0 170.6h.1M254.1 166.0h.1M254.6 169.7h.1M259.2 164.1h.1M258.7 152.8h.1M259.5 171.4h.1M263.9 163.7h.1M258.5 169.0h.1M254.2 165.3h.1M259.7 164.7h.1M263.7 161.8h.1M264.2 169.8h.1M258.2 170.2h.1M258.8 172.2h.1M259.4 169.5h.1M260.1 168.2h.1M258.0 163.6h.1M257.0 166.3h.1M262.9 168.2h.1M262.9 154.1h.1M258.5 160.5h.1M256.7 165.2h.1M256.6 170.1h.1M255.1 172.9h.1M254.8 174.4h.1M257.6 162.4h.1M256.3 166.4h.1M259.2 163.6h.1M256.9 162.2h.1M255.7 164.4h.1M257.3 166.6h.1M259.5 158.9h.1M257.7 165.4h.1M262.4 161.2h.1M257.1 172.9h.1M258.0 174.3h.1M255.7 163.8h.1M264.5 162.6h.1M259.2 169.1h.1M262.0 170.7h.1M257.4 161.2h.1M260.1 164.0h.1M255.6 167.4h.1M256.6 160.9h.1M257.5 173.3h.1M255.8 166.2h.1M260.5 166.3h.1M260.8 160.4h.1M261.8 172.0h.1M255.7 159.5h.1M256.7 162.5h.1M258.2 163.1h.1M260.3 165.4h.1M254.7 159.0h.1M257.6 162.2h.1M261.4 168.9h.1M258.6 165.8h.1M258.0 166.6h.1M255.1 170.7h.1M257.4 168.2h.1M260.4 170.9h.1M261.3 166.1h.1M253.4 161.7h.1M259.5 174.0h.1M257.3 157.8h.1M255.6 159.3h.1M263.7 160.4h.1M255.2 166.4h.1M255.3 171.2h.1M258.8 158.4h.1M254.0 160.7h.1M257.7 167.5h.1M259.7 163.7h.1M254.4 166.5h.1M258.8 168.9h.1M259.5 166.4h.1M256.4 166.4h.1M259.3 167.0h.1M260.2 165.0h.1M259.5 167.5h.1M256.3 170.7h.1M260.7 161.5h.1M257.3 167.3h.1M258.9 170.3h.1M258.4 165.1h.1M258.2 165.6h.1M252.4 174.9h.1M261.3 171.4h.1M258.6 175.1h.1M260.0 164.4h.1M257.0 162.7h.1M257.8 164.6h.1M259.7 170.2h.1M252.0 149.5h.1M256.1 166.3h.1M256.5 171.9h.1M257.4 166.3h.1M256.7 167.6h.1M256.0 164.9h.1M258.9 158.0h.1M260.5 170.6h.1M259.5 164.7h.1M261.2 168.4h.1M259.7 166.2h.1M262.5 175.5h.1M262.8 168.3h.1M256.9 168.2h.1M255.9 165.6h.1M256.5 162.1h.1M257.2 168.0h.1M260.3 171.3h.1M259.7 166.1h.1M258.9 155.6h.1M256.3 162.3h.1M257.0 175.4h.1M257.7 163.4h.1M258.9 167.0h.1M259.0 163.3h.1M259.7 161.9h.1M256.1 169.9h.1M262.4 169.1h.1M260.5 168.7h.1M260.3 171.0h.1M253.6 163.7h.1M260.5 174.3h.1M258.7 164.9h.1M258.8 170.5h.1M253.7 163.6h.1M257.3 167.9h.1M254.3 165.5h.1M262.0 166.7h.1M255.0 167.5h.1M260.4 165.7h.1M259.3 166.1h.1M266.5 169.5h.1M258.4 159.7h.1M262.6 162.5h.1M257.0 163.7h.1M254.9 159.4h.1M259.3 167.7h.1M262.0 163.9h.1M256.7 161.9h.1M261.3 159.5h.1M260.0 161.8h.1M258.3 168.2h.1M258.9 160.0h.1M258.7 170.5h.1M256.5 169.1h.1M258.7 167.5h.1M259.5 157.9h.1M256.1 162.4h.1M260.2 164.2h.1M256.3 162.4h.1M259.9 162.6h.1M255.8 167.9h.1M259.4 157.2h.1M257.6 171.0h.1M257.3 167.1h.1M258.1 161.1h.1M259.3 169.0h.1M253.2 153.0h.1M261.9 160.1h.1M261.3 167.5h.1M259.2 173.2h.1M253.5 160.3h.1M260.8 159.2h.1M258.3 165.7h.1M263.1 166.5h.1M256.9 162.3h.1M257.7 162.2h.1M261.2 173.5h.1M252.0 161.5h.1M257.1 158.2h.1M257.8 164.0h.1M251.5 172.2h.1M255.5 169.3h.1M259.0 165.8h.1M259.3 159.7h.1M263.1 165.5h.1M254.4 168.9h.1M260.6 171.0h.1M259.4 158.3h.1M258.6 164.0h.1M255.0 163.3h.1M263.8 174.3h.1M263.5 164.6h.1M259.2 165.6h.1M255.9 163.6h.1M255.0 152.2h.1M255.0 171.4h.1M260.9 156.8h.1M253.3 163.2h.1M261.7 158.3h.1M257.8 163.0h.1M259.3 163.7h.1M260.5 163.5h.1M265.3 172.9h.1M260.5 160.1h.1M257.8 164.4h.1M259.4 168.5h.1M258.7 163.9h.1M258.4 163.4h.1M258.6 175.3h.1M255.4 169.7h.1M259.3 161.9h.1M254.3 167.2h.1M261.6 161.6h.1M257.2 168.1h.1M254.9 159.0h.1M260.3 169.8h.1M260.3 167.7h.1M258.6 167.5h.1M253.9 165.9h.1M254.5 167.0h.1M259.9 161.7h.1M265.0 166.2h.1M259.1 168.8h.1M259.2 168.0h.1M260.1 161.4h.1M255.8 168.6h.1M261.6 160.1h.1M256.5 162.4h.1M258.5 161.8h.1M256.0 162.9h.1M254.8 165.3h.1M256.1 169.1h.1M255.6 171.0h.1M257.2 168.0h.1M262.9 162.3h.1M259.2 169.5h.1M256.7 170.6h.1M259.6 162.2h.1M256.7 160.1h.1M261.7 165.1h.1M260.7 175.2h.1M257.3 164.4h.1M258.2 165.0h.1M258.6 169.3h.1M255.4 160.2h.1M255.0 160.6h.1M258.0 165.3h.1M255.7 169.9h.1M258.3 164.4h.1M260.9 162.7h.1M257.7 157.8h.1M260.1 173.5h.1M263.5 159.8h.1M257.1 172.2h.1M262.6 162.4h.1M256.0 171.4h.1M255.0 174.1h.1M258.9 161.6h.1M257.9 168.6h.1M254.1 169.4h.1M262.2 171.9h.1M260.9 164.3h.1M255.5 171.8h.1M257.8 166.3h.1M258.2 161.0h.1M254.8 170.7h.1M259.4 171.9h.1M254.4 165.8h.1M253.3 165.2h.1M262.6 169.6h.1M256.5 174.0h.1M256.2 159.9h.1M257.7 171.0h.1M256.3 175.6h.1M264.7 161.6h.1M259.7 168.6h.1M260.9 166.1h.1M261.0 167.5h.1M264.7 171.9h.1M251.8 158.1h.1M260.7 163.4h.1M258.9 159.2h.1M258.6 164.3h.1M261.8 174.9h.1M260.2 160.8h.1M253.3 163.6h.1M259.1 162.9h.1M257.9 167.8h.1M261.7 164.3h.1M252.3 162.0h.1M260.3 162.1h.1M258.8 165.0h.1M260.3 159.9h.1M259.6 154.2h.1M252.3 171.4h.1M260.4 166.4h.1M258.3 162.9h.1M256.1 165.0h.1M261.2 169.3h.1M258.3 161.7h.1M263.3 165.9h.1M261.6 163.2h.1M255.1 171.7h.1M260.7 154.1h.1M258.4 159.0h.1M258.3 172.6h.1M258.0 160.0h.1M261.4 162.0h.1M256.0 159.9h.1M259.7 154.5h.1M253.9 165.3h.1M259.4 169.1h.1M254.7 167.3h.1M254.7 159.8h.1M258.3 163.2h.1M255.1 173.7h.1M261.6 164.9h.1M255.2 161.3h.1M263.1 170.1h.1M260.8 164.3h.1M258.7 156.7h.1M260.3 161.6h.1M259.0 170.2h.1M265.4 165.0h.1M259.9 165.3h.1M256.7 168.9h.1M259.5 162.0h.1M257.4 158.5h.1M258.2 165.7h.1M256.7 162.7h.1M256.8 165.7h.1M260.9 162.2h.1M258.3 162.1h.1M260.7 158.9h.1M257.5 167.1h.1M258.1 175.1h.1M257.0 159.8h.1M262.2 171.3h.1M263.2 169.0h.1M258.2 162.6h.1M261.1 160.9h.1M254.2 168.4h.1M254.7 164.1h.1M260.6 164.4h.1M253.3 163.6h.1M266.6 175.0h.1M261.4 158.0h.1M263.5 167.9h.1M258.2 174.9h.1M254.4 166.6h.1M255.9 165.8h.1M260.9 166.6h.1M255.4 169.6h.1M256.0 162.3h.1M263.1 166.0h.1M254.8 168.6h.1M256.6 162.6h.1M262.5 168.1h.1M265.9 171.1h.1M253.6 160.2h.1M251.3 165.3h.1M256.4 167.8h.1M259.1 162.4h.1M258.3 170.8h.1M256.8 171.8h.1M254.6 163.1h.1M261.0 167.1h.1M256.9 162.8h.1M256.5 165.3h.1M258.6 168.2h.1M262.8 165.2h.1M259.0 166.7h.1M266.2 163.8h.1M257.5 171.7h.1M260.3 170.4h.1M252.1 162.9h.1M256.5 168.6h.1M256.4 163.7h.1M256.1 172.6h.1M255.6 165.0h.1M256.9 169.9h.1M258.7 155.4h.1M259.6 172.6h.1M255.3 169.1h.1M257.9 170.0h.1M256.1 166.9h.1M261.2 170.7h.1M263.7 171.4h.1M259.1 169.5h.1M259.7 164.7h.1M257.7 165.2h.1M260.0 166.2h.1M257.9 165.0h.1M254.7 162.0h.1M262.2 159.9h.1M265.2 165.5h.1M260.4 161.6h.1M258.5 164.3h.1M259.9 159.9h.1M263.5 159.4h.1M257.1 164.0h.1M260.7 164.9h.1M252.0 165.6h.1M257.5 171.1h.1M260.2 168.4h.1M259.6 167.5h.1M258.2 164.6h.1M254.8 169.1h.1M259.3 168.6h.1M259.1 159.3h.1M260.2 169.2h.1M263.9 165.0h.1M258.7 158.3h.1M261.8 162.3h.1M260.0 169.4h.1M266.9 170.5h.1M260.1 165.4h.1M266.5 171.9h.1M255.6 169.8h.1M254.9 158.5h.1M260.0 160.7h.1M258.2 167.7h.1M262.5 161.7h.1M261.0 163.0h.1M261.1 167.4h.1M256.3 164.6h.1M258.5 162.6h.1M261.2 159.2h.1M256.9 175.9h.1M258.7 159.3h.1M262.3 163.9h.1M258.5 171.3h.1M259.4 165.5h.1M262.3 161.4h.1M260.0 160.4h.1M254.3 171.6h.1M259.0 169.7h.1M258.8 156.5h.1M259.7 159.3h.1M265.6 169.0h.1M262.1 173.8h.1M259.1 163.3h.1M256.7 170.6h.1M261.2 158.2h.1M259.3 157.8h.1M262.6 159.9h.1M259.7 168.4h.1M261.7 166.9h.1M256.3 169.4h.1M258.2 157.4h.1M258.9 174.0h.1M256.2 164.0h.1M257.6 167.2h.1M257.6 157.1h.1M256.6 165.7h.1M258.4 161.8h.1M253.8 173.4h.1M261.4 167.0h.1M259.9 172.0h.1M260.4 162.0h.1M262.4 162.2h.1M259.5 166.6h.1M257.8 166.3h.1M262.7 161.4h.1M257.5 168.5h.1M259.1 171.6h.1M252.2 164.2h.1M257.0 163.5h.1M258.6 163.5h.1M260.6 168.5h.1M260.2 165.3h.1M261.5 168.0h.1M256.9 171.3h.1M256.9 164.4h.1M259.2 164.5h.1M256.2 164.4h.1M257.4 173.1h.1M258.8 165.3h.1M252.6 166.2h.1M253.8 164.4h.1M259.8 170.2h.1M256.4 167.9h.1M260.8 160.2h.1M257.1 170.5h.1M255.4 167.8h.1M260.4 171.7h.1M257.7 168.4h.1M259.6 165.6h.1M256.5 160.9h.1M256.1 170.7h.1M257.5 171.9h.1M256.1 161.6h.1M257.9 165.5h.1M255.4 168.1h.1M259.5 165.2h.1M260.8 167.7h.1M259.9 164.0h.1M254.7 162.7h.1M262.1 171.8h.1M253.2 157.5h.1M259.1 169.0h.1M258.8 162.0h.1M260.7 166.0h.1M256.4 162.5h.1M256.9 166.6h.1M261.9 162.8h.1M261.8 167.1h.1M255.4 158.9h.1M257.6 160.6h.1M256.1 165.1h.1M261.8 161.7h.1M256.5 175.3h.1M258.6 163.9h.1M259.2 169.6h.1M254.6 156.9h.1M261.2 160.9h.1M256.4 160.9h.1M254.1 160.1h.1M259.4 158.1h.1M258.9 163.6h.1M256.8 161.6h.1M258.3 173.7h.1M263.5 165.4h.1M260.5 167.1h.1M258.5 155.6h.1M257.4 173.1h.1M263.9 173.3h.1M257.1 160.4h.1M252.6 160.5h.1M262.1 162.0h.1M257.0 172.7h.1M251.9 159.3h.1M254.2 160.7h.1M254.4 158.0h.1M251.9 167.1h.1M256.2 169.9h.1M256.6 161.0h.1M263.3 171.3h.1M258.2 166.5h.1M256.7 161.7h.1M257.9 168.5h.1M259.0 172.0h.1M261.4 172.0h.1M262.4 168.3h.1M252.6 172.3h.1M254.0 165.8h.1M258.4 167.4h.1M264.2 174.6h.1M256.9 165.3h.1M261.7 161.9h.1M256.8 159.9h.1M256.7 163.3h.1M257.7 156.7h.1M262.6 161.2h.1M257.0 160.2h.1M258.7 164.9h.1M259.4 159.1h.1M261.2 165.2h.1M258.6 165.8h.1M261.1 169.7h.1M263.5 170.9h.1M260.8 173.5h.1M257.3 164.6h.1M258.0 159.1h.1M259.3 169.6h.1M257.7 167.8h.1M255.1 163.7h.1M255.7 169.9h.1M256.8 175.5h.1M252.6 167.7h.1M267.2 163.8h.1M261.0 166.9h.1M256.8 161.4h.1M256.2 175.6h.1M262.2 160.0h.1M254.2 160.9h.1M255.4 170.9h.1M261.6 164.9h.1M258.2 159.9h.1M260.8 170.5h.1M258.8 171.5h.1M258.5 157.9h.1M256.5 169.1h.1M259.9 170.8h.1M259.2 175.0h.1M259.2 168.3h.1M257.2 169.6h.1M262.1 166.4h.1M261.8 158.0h.1M266.4 153.0h.1M261.8 153.8h.1M255.7 156.2h.1M258.2 165.7h.1M267.5 165.0h.1M252.8 168.4h.1M255.8 174.9h.1M255.5 169.5h.1M264.6 150.3h.1M254.5 158.7h.1M256.6 173.8h.1M258.3 164.2h.1M261.1 165.7h.1M261.4 164.6h.1M253.3 153.4h.1M253.3 166.0h.1M252.0 162.0h.1M263.8 156.1h.1M257.4 165.7h.1M259.3 175.1h.1M258.5 161.7h.1M251.7 154.0h.1M253.3 156.7h.1M267.4 146.0h.1M256.7 159.5h.1M260.8 165.7h.1M253.9 156.3h.1M270.4 162.3h.1M258.9 162.0h.1M251.3 159.7h.1M256.3 160.1h.1M260.0 160.7h.1M263.1 161.0h.1M256.9 161.9h.1M261.5 166.5h.1M259.8 159.4h.1M259.5 157.0h.1M256.6 166.3h.1M260.2 158.2h.1M258.4 161.1h.1M271.2 164.7h.1M261.6 165.0h.1M261.5 169.2h.1M251.8 165.9h.1M263.5 162.0h.1M263.9 156.4h.1M260.0 156.2h.1M256.3 168.8h.1M255.3 145.9h.1M259.3 174.9h.1M256.7 169.4h.1M263.3 175.0h.1M251.5 176.0h.1M257.7 170.7h.1M256.3 145.9h.1M265.5 148.7h.1M251.5 167.4h.1M263.0 154.4h.1M260.6 165.6h.1M252.0 165.4h.1M255.3 160.4h.1M253.6 162.7h.1M259.4 150.8h.1M261.0 162.3h.1M263.2 156.4h.1M255.1 169.9h.1M260.8 157.8h.1M257.4 165.7h.1M260.8 166.6h.1M258.1 161.5h.1M258.3 156.7h.1M256.9 163.5h.1M260.8 161.5h.1M258.9 167.9h.1M254.0 155.9h.1M263.0 167.3h.1M261.9 164.1h.1M258.1 170.7h.1M263.8 171.9h.1M258.2 149.3h.1M257.9 164.2h.1M256.5 163.4h.1M264.3 162.9h.1M266.7 168.9h.1M257.5 176.0h.1M255.6 161.1h.1M263.3 161.4h.1M262.5 166.9h.1M261.4 167.6h.1M252.0 161.5h.1M259.8 168.4h.1M259.4 171.9h.1M257.2 158.6h.1M260.6 171.2h.1M257.8 156.8h.1M260.3 171.3h.1M258.4 156.0h.1M257.2 156.3h.1M266.3 152.6h.1M258.3 160.0h.1M261.3 161.9h.1M262.8 161.1h.1M254.2 159.5h.1M257.7 160.4h.1M254.6 158.6h.1M257.8 159.4h.1M253.2 163.1h.1M262.5 158.1h.1M258.5 163.2h.1M252.9 154.4h.1M260.7 152.6h.1M254.0 167.4h.1M252.0 156.4h.1M260.4 162.7h.1M258.7 154.9h.1M255.2 151.4h.1M261.8 152.4h.1M260.6 155.7h.1M259.3 171.1h.1M263.1 156.9h.1M259.9 163.6h.1M264.2 159.2h.1M260.1 162.7h.1M260.1 153.4h.1M257.0 163.3h.1M267.2 158.7h.1M256.0 167.6h.1M257.9 151.1h.1M256.6 156.8h.1M261.3 173.0h.1M267.1 158.4h.1M266.1 174.7h.1M257.5 170.3h.1M254.5 155.7h.1M256.1 165.6h.1M260.9 170.0h.1M256.8 155.2h.1M262.1 172.5h.1M259.8 151.1h.1M253.0 171.8h.1M253.4 170.1h.1M262.4 173.8h.1M262.4 168.0h.1M258.6 164.0h.1M265.2 150.9h.1M258.3 174.6h.1M257.2 166.7h.1M258.4 168.1h.1M261.0 158.1h.1M259.2 165.6h.1M259.2 155.9h.1M254.7 161.9h.1M254.7 166.1h.1M264.1 153.0h.1M256.4 165.3h.1M257.2 156.8h.1M262.7 158.1h.1M253.0 167.5h.1M269.7 151.8h.1M255.2 158.1h.1M255.7 160.4h.1M252.0 169.3h.1M255.7 161.5h.1M254.2 166.8h.1M256.4 154.3h.1M253.5 151.5h.1M263.8 173.1h.1M261.9 165.7h.1M261.5 159.0h.1M260.9 157.6h.1M261.2 171.6h.1M255.3 166.6h.1M271.5 151.9h.1M255.8 148.2h.1M253.0 175.8h.1M267.7 163.2h.1M256.7 162.2h.1M258.7 164.6h.1M253.9 161.5h.1M257.3 161.0h.1M260.6 161.6h.1M260.0 147.9h.1M253.0 159.7h.1M261.9 158.8h.1M255.0 169.6h.1M251.4 169.0h.1M262.6 159.4h.1M260.0 161.2h.1M257.4 162.6h.1M255.0 176.0h.1M261.9 169.6h.1M257.3 157.3h.1M255.3 172.3h.1M261.0 155.5h.1M259.8 170.1h.1M253.0 162.8h.1M264.1 153.8h.1M254.8 160.8h.1M260.1 169.7h.1M258.0 171.4h.1M262.1 149.7h.1M261.1 158.6h.1M264.5 165.7h.1M256.2 165.8h.1M258.5 166.7h.1M255.0 167.5h.1M253.6 171.3h.1M261.4 159.3h.1M260.6 146.3h.1M259.6 165.5h.1M255.5 157.6h.1M265.6 150.3h.1M260.2 162.4h.1M261.2 156.8h.1M258.9 161.6h.1M259.9 147.5h.1M263.7 165.8h.1M263.2 161.6h.1M263.5 163.4h.1M259.0 156.8h.1M259.1 156.3h.1M253.3 168.8h.1M257.7 166.5h.1M256.0 160.2h.1M254.8 153.5h.1M258.5 165.6h.1M258.9 158.5h.1M255.3 168.0h.1M257.3 163.3h.1M258.5 164.5h.1M259.9 158.1h.1M254.5 165.8h.1M252.6 152.3h.1M258.4 159.0h.1M255.8 159.0h.1M261.1 160.7h.1M252.0 159.4h.1M264.4 157.0h.1M257.6 163.3h.1M257.5 157.6h.1M259.1 159.9h.1M261.6 163.1h.1M262.0 160.5h.1M255.9 167.6h.1M260.4 175.7h.1M261.0 157.8h.1M259.4 168.1h.1M254.4 157.0h.1M260.3 160.1h.1M257.6 154.3h.1M258.4 157.9h.1M263.9 156.7h.1M258.0 161.3h.1M260.5 159.7h.1M263.0 155.9h.1M252.8 166.3h.1M253.6 167.8h.1M263.2 150.0h.1M257.7 168.1h.1M256.0 153.8h.1M258.1 159.8h.1M253.2 143.5h.1M261.0 154.5h.1M254.4 160.3h.1M262.5 170.0h.1M258.2 157.8h.1M260.9 172.4h.1M257.3 162.2h.1M258.3 160.6h.1M263.9 160.7h.1M266.0 160.5h.1M260.9 151.6h.1M264.7 161.7h.1M251.4 154.3h.1M259.1 164.6h.1M256.4 153.1h.1M260.9 173.9h.1M267.1 154.4h.1M260.8 159.9h.1M263.5 169.5h.1M264.7 165.9h.1M264.5 170.7h.1M258.9 171.8h.1M255.8 160.3h.1M263.7 158.6h.1M262.5 166.7h.1M256.6 165.9h.1M265.8 174.3h.1M254.9 147.3h.1M253.1 169.5h.1M258.3 165.8h.1M252.7 160.3h.1M257.9 156.6h.1M258.3 156.8h.1M256.0 156.8h.1M258.9 173.7h.1M253.0 162.5h.1M262.2 162.7h.1M262.7 166.3h.1M262.4 167.7h.1M256.8 162.3h.1M260.6 161.0h.1M257.1 156.9h.1M263.9 162.1h.1M253.4 161.4h.1M259.9 158.0h.1M256.5 160.2h.1M261.8 171.2h.1M258.9 168.0h.1M257.2 170.8h.1M254.3 163.3h.1M260.6 170.6h.1M262.4 162.3h.1M253.3 172.6h.1M260.5 166.2h.1M254.1 160.3h.1M256.4 154.1h.1M259.3 163.4h.1M264.0 163.4h.1M260.7 154.8h.1M261.5 160.9h.1M256.5 158.2h.1M258.0 164.4h.1M261.4 153.4h.1M259.3 162.3h.1M259.3 175.9h.1M260.4 169.3h.1M266.0 162.3h.1M264.7 173.2h.1M264.9 159.8h.1M260.4 168.3h.1M255.2 164.6h.1M253.5 159.4h.1M259.3 165.9h.1M257.3 156.2h.1M268.5 174.4h.1M258.7 157.9h.1M259.3 161.7h.1M258.4 159.3h.1M259.4 157.2h.1M252.8 165.9h.1M259.9 155.4h.1M262.2 155.2h.1M259.9 160.7h.1M260.0 166.3h.1M258.9 172.6h.1M261.9 162.3h.1M253.7 169.0h.1M256.5 165.8h.1M258.6 168.4h.1M261.4 161.0h.1M255.4 151.2h.1M259.5 168.0h.1M258.5 154.5h.1M261.9 166.4h.1M256.6 156.7h.1M261.5 154.2h.1M262.0 161.6h.1M257.5 153.5h.1M258.0 163.0h.1M256.7 161.1h.1M255.5 160.9h.1M255.9 173.2h.1M253.9 168.2h.1M261.9 160.8h.1M260.5 168.2h.1M258.1 165.3h.1M259.1 160.1h.1M258.8 153.0h.1M265.3 157.4h.1M257.2 162.8h.1M261.7 166.4h.1M251.4 174.6h.1M256.5 157.4h.1M255.2 170.1h.1M260.1 144.5h.1M256.2 155.2h.1M255.2 147.1h.1" stroke="#111" stroke-width="0.7" stroke-linecap="round" fill="none" opacity="0.6"/>
<path d="M252.8 141L279 141" stroke="#333" stroke-width="1.1"/>
<rect x="250.5" y="196.8" width="66.7" height="64" fill="none" stroke="#777" stroke-width="0.9"/>
<path d="M251.7 260.8v2M250.5 258.5h-2M256.52 260.8v1M250.5 253.89h-1M259.33 260.8v1M250.5 251.2h-1M261.33 260.8v1M250.5 249.29h-1M262.88 260.8v1M250.5 247.81h-1M264.15 260.8v1M250.5 246.59h-1M265.22 260.8v1M250.5 245.57h-1M266.15 260.8v1M250.5 244.68h-1M266.97 260.8v1M250.5 243.9h-1M267.7 260.8v2M250.5 243.2h-2M272.52 260.8v1M250.5 238.59h-1M275.33 260.8v1M250.5 235.9h-1M277.33 260.8v1M250.5 233.99h-1M278.88 260.8v1M250.5 232.51h-1M280.15 260.8v1M250.5 231.29h-1M281.22 260.8v1M250.5 230.27h-1M282.15 260.8v1M250.5 229.38h-1M282.97 260.8v1M250.5 228.6h-1M283.7 260.8v2M250.5 227.9h-2M288.52 260.8v1M250.5 223.29h-1M291.33 260.8v1M250.5 220.6h-1M293.33 260.8v1M250.5 218.69h-1M294.88 260.8v1M250.5 217.21h-1M296.15 260.8v1M250.5 215.99h-1M297.22 260.8v1M250.5 214.97h-1M298.15 260.8v1M250.5 214.08h-1M298.97 260.8v1M250.5 213.3h-1M299.7 260.8v2M250.5 212.6h-2M304.52 260.8v1M250.5 207.99h-1M307.33 260.8v1M250.5 205.3h-1M309.33 260.8v1M250.5 203.39h-1M310.88 260.8v1M250.5 201.91h-1M312.15 260.8v1M250.5 200.69h-1M313.22 260.8v1M250.5 199.67h-1M314.15 260.8v1M250.5 198.78h-1M314.97 260.8v1M250.5 198h-1M315.7 260.8v2M250.5 197.3h-2" stroke="#555" stroke-width="0.7" fill="none"/>
<text x="251.5" y="268.8" font-size="4.6" fill="#333" text-anchor="middle">10<tspan dy="-1.8" font-size="3.2">0</tspan></text>
<text x="247.1" y="259.1" font-size="4.6" fill="#333" text-anchor="middle" transform="rotate(-90 247.1 259.1)">10<tspan dy="-1.8" font-size="3.2">0</tspan></text>
<text x="267.5" y="268.8" font-size="4.6" fill="#333" text-anchor="middle">10<tspan dy="-1.8" font-size="3.2">1</tspan></text>
<text x="247.1" y="243.8" font-size="4.6" fill="#333" text-anchor="middle" transform="rotate(-90 247.1 243.8)">10<tspan dy="-1.8" font-size="3.2">1</tspan></text>
<text x="283.5" y="268.8" font-size="4.6" fill="#333" text-anchor="middle">10<tspan dy="-1.8" font-size="3.2">2</tspan></text>
<text x="247.1" y="228.5" font-size="4.6" fill="#333" text-anchor="middle" transform="rotate(-90 247.1 228.5)">10<tspan dy="-1.8" font-size="3.2">2</tspan></text>
<text x="299.5" y="268.8" font-size="4.6" fill="#333" text-anchor="middle">10<tspan dy="-1.8" font-size="3.2">3</tspan></text>
<text x="247.1" y="213.2" font-size="4.6" fill="#333" text-anchor="middle" transform="rotate(-90 247.1 213.2)">10<tspan dy="-1.8" font-size="3.2">3</tspan></text>
<text x="315.5" y="268.8" font-size="4.6" fill="#333" text-anchor="middle">10<tspan dy="-1.8" font-size="3.2">4</tspan></text>
<text x="247.1" y="197.9" font-size="4.6" fill="#333" text-anchor="middle" transform="rotate(-90 247.1 197.9)">10<tspan dy="-1.8" font-size="3.2">4</tspan></text>
<path d="M258.4 217.8h.1M258.5 215.1h.1M255.9 218.7h.1M256.2 215.1h.1M268.5 213.3h.1M259.8 214.3h.1M260.3 216.2h.1M255.4 209.3h.1M255.7 207.1h.1M259.1 207.3h.1M257.3 214.4h.1M257.8 210.8h.1M257.4 211.0h.1M252.5 212.3h.1M259.7 214.5h.1M259.2 210.7h.1M260.3 209.3h.1M260.9 210.3h.1M264.7 214.4h.1M257.1 211.3h.1M259.2 213.8h.1M263.1 215.2h.1M257.2 211.0h.1M262.4 209.3h.1M256.8 207.9h.1M256.9 210.2h.1M254.7 208.5h.1M258.0 212.5h.1M265.6 207.7h.1M264.8 212.4h.1M258.8 210.5h.1M260.2 214.3h.1M262.4 208.3h.1M254.8 212.1h.1M257.0 214.1h.1M257.8 206.7h.1M252.0 212.9h.1M255.7 210.0h.1M256.3 208.8h.1M257.3 206.9h.1M257.7 211.9h.1M259.9 210.5h.1M256.7 214.1h.1M260.0 202.0h.1M260.5 214.6h.1M257.8 219.0h.1M264.6 211.5h.1M252.5 210.4h.1M258.2 211.3h.1M258.6 214.6h.1M263.3 219.6h.1M258.0 209.1h.1M260.2 201.9h.1M259.0 212.6h.1M265.4 211.4h.1M257.2 211.2h.1M255.3 211.0h.1M256.6 204.7h.1M259.8 212.7h.1M263.3 209.3h.1M253.9 210.1h.1M263.3 208.8h.1M256.9 205.8h.1M255.8 216.1h.1M256.8 211.4h.1M255.3 212.8h.1M254.7 216.6h.1M258.7 213.3h.1M255.7 212.4h.1M264.3 204.2h.1M260.2 214.5h.1M255.9 208.0h.1M264.2 206.7h.1M254.9 212.9h.1M260.1 211.1h.1M264.0 216.3h.1M260.3 207.4h.1M256.2 211.4h.1M257.7 213.7h.1M259.0 213.1h.1M263.5 207.6h.1M258.9 207.0h.1M260.5 210.1h.1M254.5 218.5h.1M258.6 209.0h.1M262.7 210.2h.1M257.4 214.4h.1M256.7 213.1h.1M257.0 216.1h.1M262.4 209.4h.1M260.1 209.5h.1M259.8 214.3h.1M255.8 210.9h.1M252.2 211.6h.1M262.0 208.3h.1M256.8 209.1h.1M261.3 209.1h.1M260.2 209.6h.1M256.3 209.3h.1M254.5 210.6h.1M261.6 210.5h.1M263.8 210.6h.1M255.5 216.7h.1M259.0 213.2h.1M262.0 204.4h.1M265.6 212.5h.1M254.8 207.0h.1M257.7 215.2h.1M261.5 210.0h.1M258.3 216.7h.1M255.6 216.2h.1M261.6 210.1h.1M252.4 208.5h.1M261.7 215.1h.1M258.2 208.8h.1M258.3 211.4h.1M255.9 214.8h.1M257.4 211.2h.1M262.0 214.0h.1M259.2 217.9h.1M262.2 212.8h.1M260.3 213.9h.1M257.0 209.8h.1M257.3 203.0h.1M258.5 212.2h.1M256.7 211.7h.1M263.2 213.4h.1M254.3 211.8h.1M264.3 209.7h.1M255.9 209.8h.1M255.2 211.9h.1M258.2 208.8h.1M253.8 207.3h.1M264.1 212.5h.1M264.0 211.6h.1M263.3 213.5h.1M264.4 209.9h.1M262.6 211.2h.1M251.9 208.7h.1M260.6 210.4h.1M255.8 214.4h.1M261.3 217.2h.1M257.3 210.8h.1M256.7 213.1h.1M255.1 209.3h.1M260.3 207.0h.1M262.1 209.9h.1M254.5 210.9h.1M259.6 210.7h.1M259.9 209.1h.1M257.9 212.3h.1M257.6 215.3h.1M262.4 210.0h.1M262.9 213.0h.1M260.9 213.5h.1M260.8 214.9h.1M260.9 213.8h.1M256.3 214.9h.1M258.1 211.9h.1M258.4 207.6h.1M255.1 208.2h.1M261.1 210.3h.1M264.9 208.6h.1M265.4 209.3h.1M257.5 211.1h.1M256.7 211.6h.1M255.5 210.4h.1M260.7 212.8h.1M258.0 217.9h.1M262.3 208.6h.1M254.5 210.0h.1M258.9 208.0h.1M256.2 215.3h.1M259.2 214.5h.1M257.6 207.5h.1M251.9 213.2h.1M261.2 207.3h.1M258.5 213.0h.1M258.9 211.8h.1M258.0 211.9h.1M255.0 206.1h.1M258.4 212.4h.1M261.0 212.3h.1M264.1 216.0h.1M259.1 212.2h.1M256.5 211.6h.1M262.4 209.5h.1M257.6 213.5h.1M257.5 214.4h.1M258.3 214.2h.1M260.5 214.7h.1M254.1 211.3h.1M258.7 207.3h.1M258.1 212.0h.1M256.8 216.4h.1M264.1 215.8h.1M252.9 209.6h.1M258.2 218.4h.1M259.0 216.2h.1M259.1 214.5h.1M263.5 208.7h.1M257.2 214.8h.1M255.3 218.9h.1M253.5 210.5h.1M256.3 211.0h.1M259.7 215.7h.1M257.3 215.5h.1M265.0 214.7h.1M253.1 210.2h.1M259.5 209.8h.1M259.4 212.7h.1M258.8 213.4h.1M260.6 214.8h.1M257.5 209.6h.1M260.1 206.8h.1M257.6 215.4h.1M256.7 211.6h.1M255.2 211.4h.1M257.0 214.9h.1M260.9 207.3h.1M256.8 211.8h.1M260.9 210.8h.1M257.8 213.3h.1M258.4 211.7h.1M262.9 214.0h.1M254.5 207.8h.1M258.2 210.5h.1M261.6 209.1h.1M260.4 215.3h.1M259.8 215.9h.1M263.3 212.2h.1M257.0 214.1h.1M259.0 211.2h.1M264.6 209.9h.1M254.6 216.3h.1M260.5 211.6h.1M260.6 216.2h.1M259.7 219.6h.1M260.1 208.2h.1M255.8 213.8h.1M259.2 210.9h.1M258.2 213.2h.1M259.9 204.5h.1M259.2 213.9h.1M253.6 201.8h.1M260.6 217.7h.1M261.5 210.5h.1M263.9 205.9h.1M258.9 206.2h.1M260.8 216.3h.1M257.1 210.7h.1M255.1 213.1h.1M255.8 217.0h.1M256.8 213.5h.1M260.3 219.2h.1M265.3 205.5h.1M270.9 219.9h.1M252.5 212.9h.1M259.8 208.1h.1M261.5 209.5h.1M257.4 207.9h.1M263.0 214.1h.1M262.9 205.3h.1M257.6 202.6h.1M257.3 214.1h.1M270.6 205.3h.1M258.2 217.4h.1M271.5 218.3h.1M272.4 214.6h.1M260.7 214.8h.1M257.0 209.4h.1M267.8 215.9h.1M270.0 208.0h.1M261.1 222.5h.1M253.6 210.0h.1M268.3 215.1h.1M257.6 204.6h.1M259.4 209.4h.1M262.1 223.1h.1M255.3 212.2h.1M259.9 201.8h.1M264.6 217.5h.1M259.3 218.3h.1M253.9 207.8h.1M263.8 212.7h.1M260.0 212.1h.1M253.0 208.0h.1M254.6 212.5h.1M270.6 203.8h.1M257.9 213.9h.1M262.3 217.3h.1M256.1 207.6h.1M258.1 215.6h.1M258.7 216.1h.1M255.9 215.0h.1M263.7 219.6h.1M265.6 212.0h.1M264.1 208.1h.1M256.6 216.2h.1M255.1 214.8h.1M251.9 247.0h.1M258.7 252.4h.1M256.2 239.5h.1M257.4 255.3h.1M258.8 246.3h.1M263.2 256.8h.1M259.8 255.9h.1M256.4 245.2h.1M256.8 244.3h.1M259.2 256.1h.1M259.8 244.7h.1M266.9 250.5h.1M255.6 252.5h.1M256.8 254.3h.1M261.5 250.6h.1M257.4 246.7h.1M259.1 254.2h.1M253.5 252.5h.1M253.5 255.4h.1M260.6 245.6h.1M255.4 257.5h.1M260.9 252.8h.1M257.0 248.9h.1M259.5 253.2h.1M262.2 250.0h.1M256.0 241.9h.1M256.1 247.4h.1M262.0 251.9h.1M258.6 251.6h.1M258.0 251.4h.1M261.3 246.8h.1M255.5 245.6h.1M258.4 248.3h.1M254.6 251.2h.1M254.4 249.8h.1M260.5 251.9h.1M262.2 247.2h.1M259.1 247.6h.1M254.0 247.5h.1M258.1 249.0h.1M259.5 247.5h.1M258.4 250.0h.1M262.1 248.2h.1M255.9 256.4h.1M259.5 247.0h.1M257.4 246.0h.1M258.2 252.2h.1M257.4 257.8h.1M260.0 249.6h.1M254.7 244.8h.1M257.5 253.8h.1M259.5 245.5h.1M261.1 250.0h.1M261.8 249.0h.1M259.0 244.9h.1M262.0 254.0h.1M262.4 251.8h.1M258.1 249.5h.1M264.5 251.5h.1M263.2 244.9h.1M257.6 248.9h.1M258.1 251.7h.1M257.0 253.4h.1M258.1 241.8h.1M259.6 252.3h.1M259.3 245.4h.1M257.3 240.5h.1M260.0 253.9h.1M262.2 255.2h.1M261.3 245.5h.1M260.5 253.9h.1M257.5 250.5h.1M257.5 253.9h.1M263.6 258.9h.1M258.6 255.9h.1M256.2 251.0h.1M261.3 245.0h.1M263.5 247.0h.1M253.9 248.8h.1M263.5 247.4h.1M255.5 251.9h.1M261.1 253.0h.1M258.7 258.7h.1M256.6 255.6h.1M255.6 244.4h.1M254.7 250.2h.1M257.3 248.4h.1M261.6 242.2h.1M257.7 250.9h.1M257.7 250.3h.1M256.3 252.9h.1M258.4 252.3h.1M263.5 255.2h.1M256.2 247.0h.1M258.4 246.7h.1M261.6 253.4h.1M256.9 254.8h.1M260.0 247.3h.1M257.9 252.2h.1M257.8 255.0h.1M258.1 252.1h.1M257.7 248.5h.1M260.8 260.1h.1M253.6 257.2h.1M254.5 253.4h.1M257.0 249.7h.1M253.7 244.6h.1M255.5 248.4h.1M254.7 250.6h.1M258.0 245.9h.1M253.2 255.2h.1M257.5 244.7h.1M256.4 258.0h.1M261.5 248.6h.1M253.5 246.8h.1M253.3 249.1h.1M253.5 252.7h.1M254.9 255.2h.1M255.5 245.3h.1M260.1 253.4h.1M255.8 248.3h.1M257.6 244.2h.1M257.8 245.0h.1M259.9 255.9h.1M253.9 244.1h.1M255.7 247.4h.1M258.1 250.5h.1M262.3 257.3h.1M256.1 240.5h.1M255.9 251.0h.1M260.4 251.1h.1M258.4 242.6h.1M258.2 248.2h.1M263.7 248.7h.1M256.0 252.8h.1M260.5 248.8h.1M264.0 247.7h.1M256.9 251.2h.1M265.2 255.2h.1M260.5 244.2h.1M259.3 250.5h.1M262.7 249.2h.1M259.0 250.0h.1M259.1 247.4h.1M257.8 243.3h.1M253.9 249.2h.1M260.5 244.3h.1M256.7 257.8h.1M255.6 256.6h.1M265.0 245.2h.1M261.9 250.2h.1M263.0 242.7h.1M263.8 249.4h.1M254.4 248.0h.1M264.0 259.0h.1M255.2 252.5h.1M255.2 251.3h.1M259.4 255.4h.1M257.3 248.4h.1M263.6 253.4h.1M257.3 247.1h.1M260.4 247.5h.1M258.3 259.2h.1M256.1 237.2h.1M257.6 253.1h.1M257.1 246.8h.1M258.9 254.6h.1M258.0 246.7h.1M261.0 251.0h.1M257.6 244.0h.1M259.3 255.3h.1M263.4 246.8h.1M259.9 243.5h.1M266.9 235.2h.1M258.8 241.7h.1M259.4 253.5h.1M260.3 244.3h.1M262.0 244.0h.1M260.8 250.2h.1M258.4 249.4h.1M257.9 250.7h.1M257.2 248.7h.1M258.5 258.7h.1M253.8 244.7h.1M254.7 247.0h.1M254.9 248.9h.1M262.8 252.7h.1M259.2 257.1h.1M261.6 250.3h.1M257.7 253.9h.1M259.4 252.1h.1M252.5 247.1h.1M257.7 256.7h.1M256.9 250.1h.1M256.5 251.4h.1M254.2 253.4h.1M260.2 256.1h.1M260.8 247.1h.1M260.1 249.6h.1M261.7 245.8h.1M255.9 237.6h.1M260.2 260.1h.1M258.2 250.9h.1M256.9 249.9h.1M258.5 246.4h.1M255.5 249.1h.1M257.4 251.9h.1M258.3 255.9h.1M253.0 251.6h.1M263.0 250.8h.1M261.4 245.1h.1M260.8 247.3h.1M263.6 250.2h.1M260.4 241.4h.1M260.2 247.8h.1M263.4 250.3h.1M257.0 257.7h.1M254.4 242.1h.1M261.3 243.8h.1M257.7 253.9h.1M261.5 238.7h.1M256.3 251.2h.1M258.2 254.4h.1M255.1 252.9h.1M258.6 242.3h.1M257.9 253.0h.1M260.9 245.7h.1M264.1 249.2h.1M259.3 250.2h.1M257.6 251.2h.1M258.8 253.9h.1M258.2 250.4h.1M257.1 255.5h.1M259.2 251.6h.1M255.0 247.6h.1M255.9 252.3h.1M259.2 248.2h.1M261.3 254.0h.1M260.0 248.4h.1M257.6 248.6h.1M261.8 254.7h.1M259.4 241.7h.1M263.7 252.3h.1M260.0 247.9h.1M258.4 253.4h.1M254.8 253.1h.1M262.3 245.8h.1M261.4 252.3h.1M262.6 257.7h.1M256.8 248.4h.1M255.2 253.7h.1M258.4 241.3h.1M260.4 258.8h.1M254.6 249.5h.1M262.7 249.5h.1M261.7 245.3h.1M252.4 237.4h.1M259.5 253.7h.1M258.4 253.2h.1M260.3 256.2h.1M254.8 252.9h.1M254.1 245.5h.1M261.2 241.2h.1M252.4 251.3h.1M258.1 257.0h.1M259.7 252.1h.1M260.7 252.7h.1M259.5 258.3h.1M265.4 247.8h.1M262.1 249.3h.1M258.0 254.6h.1M258.0 248.2h.1M256.2 246.7h.1M259.0 248.2h.1M264.9 253.2h.1M260.6 246.6h.1M258.1 248.5h.1M254.8 251.5h.1M258.2 247.6h.1M256.1 251.1h.1M259.6 251.3h.1M255.0 246.5h.1M260.7 247.5h.1M257.7 254.4h.1M256.5 248.0h.1M259.4 250.0h.1M257.0 249.5h.1M258.3 247.1h.1M256.2 253.4h.1M259.8 248.8h.1M253.3 242.1h.1M258.1 257.7h.1M260.1 249.0h.1M261.1 250.8h.1M260.1 251.5h.1M262.4 248.1h.1M259.2 245.0h.1M266.3 245.7h.1M256.8 247.3h.1M252.2 253.2h.1M251.7 248.6h.1M252.6 252.3h.1M258.3 239.2h.1M253.2 245.4h.1M253.9 250.5h.1M260.5 244.8h.1M252.9 253.4h.1M258.6 249.0h.1M261.0 248.7h.1M261.9 245.4h.1M259.1 249.2h.1M254.1 243.1h.1M255.3 254.2h.1M262.7 251.4h.1M263.2 248.6h.1M257.1 245.0h.1M261.0 252.0h.1M260.7 246.1h.1M257.3 254.7h.1M261.6 253.1h.1M255.6 246.7h.1M260.2 249.0h.1M260.2 258.2h.1M257.9 252.9h.1M256.6 254.5h.1M263.1 247.6h.1M255.9 253.5h.1M255.6 244.0h.1M254.1 253.0h.1M257.7 254.4h.1M257.8 249.0h.1M255.9 252.0h.1M261.8 248.3h.1M258.8 248.7h.1M260.2 251.1h.1M254.1 252.0h.1M257.4 250.7h.1M263.2 252.2h.1M261.7 245.4h.1M259.8 243.3h.1M262.0 252.0h.1M260.7 239.0h.1M259.4 242.4h.1M259.7 243.8h.1M259.9 253.4h.1M257.2 253.0h.1M265.9 248.6h.1M259.0 248.4h.1M258.4 249.4h.1M265.8 243.7h.1M259.9 254.6h.1M260.4 245.8h.1M260.0 246.3h.1M258.9 250.8h.1M257.6 247.6h.1M261.0 252.3h.1M254.1 253.4h.1M261.9 253.6h.1M263.2 249.9h.1M257.9 246.0h.1M257.5 249.9h.1M264.7 244.9h.1M258.1 243.0h.1M256.9 242.7h.1M261.5 254.6h.1M255.3 243.6h.1M252.2 255.2h.1M258.7 249.6h.1M257.0 248.3h.1M256.2 250.2h.1M256.4 257.3h.1M256.7 243.4h.1M257.7 252.0h.1M251.6 247.8h.1M261.0 245.1h.1M257.6 240.4h.1M257.5 245.5h.1M257.7 245.5h.1M261.1 250.0h.1M259.5 253.9h.1M265.4 251.8h.1M251.9 248.8h.1M261.1 257.8h.1M261.6 247.1h.1M260.3 248.5h.1M258.2 253.1h.1M258.2 252.2h.1M258.5 249.9h.1M259.8 252.9h.1M257.4 251.4h.1M256.3 247.0h.1M261.5 254.4h.1M258.6 247.8h.1M261.1 247.2h.1M266.8 253.4h.1M254.4 247.9h.1M255.8 250.2h.1M258.2 254.1h.1M263.7 247.8h.1M259.9 247.7h.1M261.9 254.6h.1M264.4 251.8h.1M252.4 246.0h.1M257.4 253.2h.1M256.4 242.8h.1M259.8 256.1h.1M255.3 256.0h.1M263.6 257.7h.1M257.0 244.3h.1M256.1 253.0h.1M255.3 259.3h.1M254.4 252.2h.1M258.4 249.4h.1M256.7 256.3h.1M259.5 243.8h.1M257.0 249.8h.1M259.9 252.2h.1M259.1 248.2h.1M261.9 250.5h.1M260.7 254.4h.1M256.8 254.0h.1M262.3 250.0h.1M256.7 244.8h.1M255.7 243.3h.1M261.2 246.1h.1M254.6 247.8h.1M256.4 246.8h.1M253.8 249.3h.1M259.4 249.6h.1M255.6 253.1h.1M263.6 244.3h.1M262.9 247.6h.1M259.5 252.9h.1M256.4 247.0h.1M258.4 254.8h.1M257.6 247.3h.1M261.9 251.3h.1M252.5 256.8h.1M257.9 255.2h.1M258.7 250.9h.1M259.7 250.9h.1M260.6 253.6h.1M257.2 248.4h.1M260.3 245.3h.1M254.8 254.8h.1M261.9 255.4h.1M259.6 251.5h.1M258.0 249.2h.1M261.9 245.2h.1M256.2 247.5h.1M253.2 248.7h.1M260.0 251.5h.1M258.7 254.1h.1M257.4 250.5h.1M256.3 252.1h.1M259.8 244.5h.1M261.1 250.8h.1M255.6 255.5h.1M254.1 247.2h.1M260.5 241.7h.1M255.1 253.3h.1M262.3 257.0h.1M262.8 253.6h.1M256.6 248.1h.1M265.6 253.0h.1M257.6 240.9h.1M258.1 250.6h.1M258.1 246.9h.1M259.8 255.3h.1M261.0 245.8h.1M259.5 259.5h.1M257.4 259.1h.1M253.6 254.7h.1M255.3 247.0h.1M258.9 249.0h.1M258.4 254.7h.1M256.7 252.0h.1M259.1 247.4h.1M256.1 249.2h.1M258.3 246.6h.1M258.6 252.0h.1M261.5 250.0h.1M261.6 256.1h.1M255.3 253.5h.1M257.2 248.7h.1M253.0 256.5h.1M264.6 239.9h.1M251.8 243.8h.1M258.2 247.6h.1M253.6 252.7h.1M258.5 258.8h.1M259.0 253.9h.1M260.3 251.6h.1M256.5 250.2h.1M260.5 242.3h.1M256.2 247.6h.1M255.4 255.1h.1M255.9 251.7h.1M256.0 247.6h.1M263.5 250.1h.1M261.1 247.3h.1M260.3 241.6h.1M252.1 249.2h.1M258.1 247.4h.1M260.3 244.6h.1M252.9 249.3h.1M261.4 248.8h.1M255.0 250.9h.1M258.3 250.3h.1M259.1 251.0h.1M258.0 249.2h.1M258.3 246.9h.1M259.8 249.7h.1M262.0 250.2h.1M263.1 254.5h.1M262.6 250.4h.1M258.8 247.1h.1M252.2 253.9h.1M254.9 250.0h.1M256.9 253.9h.1M260.3 259.9h.1M262.0 253.8h.1M257.2 244.5h.1M256.3 246.0h.1M258.7 252.5h.1M259.0 242.7h.1M260.5 248.0h.1M260.7 251.1h.1M257.7 247.9h.1M257.1 249.9h.1M257.9 247.8h.1M266.7 252.5h.1M262.2 247.2h.1M259.5 249.1h.1M265.3 255.7h.1M255.1 254.1h.1M259.6 250.3h.1M260.0 249.3h.1M256.3 251.3h.1M256.6 251.2h.1M260.5 244.4h.1M259.2 246.7h.1M256.6 255.1h.1M258.0 245.8h.1M260.5 257.6h.1M257.8 253.3h.1M256.1 250.1h.1M259.6 248.1h.1M258.0 250.7h.1M258.8 253.8h.1M254.8 252.3h.1M258.2 256.3h.1M257.3 252.4h.1M253.9 247.3h.1M263.2 252.8h.1M258.9 253.7h.1M259.2 249.8h.1M261.1 246.2h.1M262.7 246.8h.1M261.6 252.8h.1M256.3 246.3h.1M259.1 258.3h.1M256.6 253.7h.1M257.7 242.2h.1M259.6 245.4h.1M262.1 250.6h.1M255.1 244.6h.1M260.8 249.6h.1M259.6 254.3h.1M255.2 253.2h.1M267.4 245.4h.1M258.1 253.7h.1M262.2 254.8h.1M258.3 247.1h.1M259.6 253.1h.1M261.2 247.5h.1M258.6 244.3h.1M258.5 255.6h.1M262.3 255.4h.1M261.9 246.1h.1M266.1 238.4h.1M259.4 254.8h.1M253.0 247.5h.1M254.0 251.9h.1M260.1 244.3h.1M255.4 252.5h.1M254.0 255.1h.1M262.0 250.9h.1M253.4 253.9h.1M253.4 251.7h.1M259.0 254.6h.1M262.2 247.8h.1M261.0 247.7h.1M254.9 241.4h.1M260.8 248.2h.1M255.3 248.9h.1M259.4 245.1h.1M254.5 249.0h.1M258.0 252.9h.1M259.7 246.5h.1M262.8 253.5h.1M261.1 255.1h.1M265.0 257.0h.1M256.7 248.2h.1M261.3 254.7h.1M260.3 250.0h.1M257.8 254.5h.1M260.1 249.7h.1M258.7 250.1h.1M260.6 251.8h.1M257.9 247.3h.1M258.7 250.2h.1M256.1 252.0h.1M257.2 242.0h.1M259.1 247.9h.1M259.4 248.1h.1M259.7 254.8h.1M261.3 250.9h.1M256.2 250.2h.1M256.1 246.9h.1M253.3 252.2h.1M262.5 248.9h.1M264.5 254.6h.1M259.6 249.0h.1M260.5 250.1h.1M256.1 253.0h.1M258.9 252.3h.1M262.9 243.3h.1M259.5 251.2h.1M254.1 250.0h.1M259.4 241.9h.1M258.5 244.7h.1M261.2 254.5h.1M263.7 251.8h.1M258.7 248.1h.1M260.1 254.5h.1M261.6 242.4h.1M255.8 256.5h.1M257.9 247.7h.1M253.3 257.0h.1M259.3 248.4h.1M260.8 248.0h.1M259.7 251.6h.1M260.0 249.1h.1M256.2 254.9h.1M255.9 253.9h.1M262.6 248.7h.1M260.6 249.4h.1M257.4 250.3h.1M260.4 258.1h.1M256.2 250.1h.1M255.5 254.9h.1M259.6 250.1h.1M258.3 246.5h.1M259.5 242.9h.1M266.0 251.3h.1M259.9 252.5h.1M259.1 251.4h.1M265.0 256.0h.1M256.1 253.6h.1M258.1 258.5h.1M257.1 253.1h.1M258.3 246.2h.1M265.7 255.4h.1M252.5 245.5h.1M262.5 249.7h.1M254.4 244.5h.1M253.6 254.4h.1M258.1 256.7h.1M258.3 244.1h.1M257.6 246.2h.1M255.1 247.0h.1M260.7 241.6h.1M254.5 249.6h.1M260.5 248.9h.1M267.4 243.8h.1M254.5 239.8h.1M259.4 243.3h.1M259.0 251.1h.1M253.8 243.1h.1M258.6 250.0h.1M261.7 251.0h.1M261.5 253.1h.1M260.8 249.6h.1M256.8 250.9h.1M258.2 256.6h.1M255.8 247.3h.1M262.3 250.0h.1M256.3 255.7h.1M255.2 244.7h.1M256.8 252.8h.1M263.9 238.2h.1M253.6 242.7h.1M261.4 242.7h.1M261.0 249.1h.1M256.9 249.9h.1M259.3 239.5h.1M254.0 258.3h.1M259.8 259.5h.1M260.1 255.7h.1M256.2 249.1h.1M259.2 252.2h.1M258.7 246.9h.1M260.5 247.5h.1M260.9 246.6h.1M262.0 251.5h.1M258.3 247.7h.1M260.5 248.0h.1M261.5 258.2h.1M263.9 248.6h.1M259.0 252.9h.1M257.2 251.9h.1M256.6 248.1h.1M258.4 248.3h.1M253.3 255.3h.1M255.3 247.8h.1M260.8 253.2h.1M265.0 248.3h.1M263.0 248.5h.1M256.8 256.9h.1M262.5 242.4h.1M259.8 247.0h.1M257.1 247.5h.1M262.9 252.1h.1M261.6 247.1h.1M261.5 250.7h.1M260.5 253.2h.1M261.8 259.0h.1M257.8 254.5h.1M257.8 243.9h.1M256.9 257.9h.1M261.6 250.1h.1M260.2 245.7h.1M261.8 251.2h.1M257.7 245.7h.1M257.9 248.4h.1M258.7 246.0h.1M258.8 247.9h.1M258.0 238.9h.1M263.2 255.8h.1M259.4 250.3h.1M256.8 251.8h.1M259.6 249.7h.1M259.3 256.2h.1M259.0 256.0h.1M258.1 248.4h.1M263.5 253.7h.1M256.3 248.5h.1M261.2 247.9h.1M261.7 252.1h.1M261.9 250.4h.1M265.7 249.5h.1M256.0 240.9h.1M256.8 246.2h.1M260.0 250.5h.1M260.5 253.2h.1M260.6 253.0h.1M256.7 247.5h.1M257.6 252.2h.1M263.8 244.4h.1M261.0 252.0h.1M261.0 258.4h.1M261.5 249.0h.1M264.5 245.4h.1M258.4 254.8h.1M259.9 249.5h.1M253.9 250.1h.1M257.8 252.5h.1M259.8 248.6h.1M260.9 253.3h.1M256.6 246.8h.1M254.6 246.6h.1M256.2 251.3h.1M252.3 252.0h.1M255.5 251.0h.1M258.4 253.0h.1M260.3 249.8h.1M263.4 247.1h.1M259.3 252.2h.1M256.4 243.0h.1M259.4 250.0h.1M257.6 254.4h.1M262.1 252.6h.1M262.1 255.2h.1M253.6 249.0h.1M257.9 249.0h.1M265.2 247.9h.1M262.6 247.8h.1M258.1 251.0h.1M260.9 249.9h.1M260.0 257.1h.1M258.3 252.2h.1M261.3 240.9h.1M259.6 253.1h.1M260.5 248.0h.1M257.9 250.6h.1M258.2 246.9h.1M259.9 247.7h.1M257.7 259.4h.1M255.0 254.8h.1M254.8 248.6h.1M259.5 246.8h.1M256.0 248.5h.1M255.9 247.4h.1M256.5 253.0h.1M260.8 255.3h.1M252.0 243.2h.1M259.2 249.9h.1M257.9 249.0h.1M263.2 253.8h.1M257.6 246.8h.1M254.0 246.4h.1M259.4 249.8h.1M259.5 247.0h.1M259.6 247.9h.1M259.6 253.9h.1M265.3 244.4h.1M257.4 255.9h.1M259.7 256.4h.1M258.4 248.8h.1M253.1 253.3h.1M254.7 245.6h.1M255.6 249.1h.1M257.5 248.3h.1M254.7 246.7h.1M262.9 254.7h.1M258.1 252.1h.1M255.4 254.8h.1M256.1 243.5h.1M258.6 249.9h.1M256.5 248.5h.1M255.1 243.6h.1M254.6 255.3h.1M258.3 250.9h.1M263.8 252.2h.1M257.2 248.1h.1M258.5 257.7h.1M255.8 242.3h.1M265.3 256.8h.1M258.9 254.2h.1M253.0 245.3h.1M259.1 244.8h.1M260.8 247.9h.1M258.3 256.0h.1M262.0 252.5h.1M255.3 251.2h.1M259.5 250.0h.1M263.4 245.0h.1M257.5 245.4h.1M255.1 247.0h.1M257.2 254.8h.1M259.0 241.9h.1M257.1 245.8h.1M259.7 252.5h.1M261.8 250.1h.1M255.7 248.3h.1M253.5 246.0h.1M255.5 242.6h.1M253.3 247.0h.1M255.9 245.2h.1M257.4 248.1h.1M252.9 246.1h.1M258.3 243.5h.1M258.0 256.5h.1M253.2 240.9h.1M256.8 253.9h.1M253.0 248.4h.1M259.9 247.7h.1M257.1 244.7h.1M259.5 246.0h.1M262.3 248.2h.1M260.0 240.8h.1M257.9 254.8h.1M258.9 250.9h.1M256.5 250.1h.1M257.8 249.9h.1M263.3 255.1h.1M256.1 250.1h.1M257.6 253.6h.1M258.6 247.2h.1M259.0 258.0h.1M260.2 247.2h.1M254.3 245.4h.1M256.3 247.1h.1M257.6 254.3h.1M258.8 257.3h.1M259.8 251.8h.1M259.1 259.8h.1M258.1 245.5h.1M255.1 246.8h.1M254.4 248.0h.1M254.2 256.1h.1M260.4 245.9h.1M262.7 250.1h.1M255.3 244.8h.1M253.6 251.0h.1M256.7 246.2h.1M256.2 253.7h.1M257.1 247.8h.1M259.9 253.9h.1M258.9 249.9h.1M256.4 247.3h.1M253.9 252.4h.1M257.4 243.4h.1M261.1 256.9h.1M252.7 255.8h.1M262.5 245.1h.1M258.4 249.5h.1M262.4 241.5h.1M255.8 252.6h.1M255.4 251.5h.1M253.7 251.2h.1M258.5 247.7h.1M258.2 249.9h.1M257.2 247.0h.1M258.1 249.1h.1M259.2 247.0h.1M255.4 247.2h.1M260.7 247.0h.1M253.0 238.5h.1M256.4 246.4h.1M258.9 254.1h.1M257.0 256.6h.1M258.3 247.5h.1M253.0 250.3h.1M256.9 255.9h.1M257.7 242.7h.1M253.5 251.8h.1M259.5 242.3h.1M254.0 251.9h.1M255.3 249.1h.1M253.8 249.6h.1M258.4 249.0h.1M255.4 258.9h.1M259.6 238.0h.1M260.3 243.6h.1M256.7 251.1h.1M259.4 251.2h.1M263.2 246.7h.1M252.7 251.6h.1M252.5 250.0h.1M263.2 250.5h.1M255.1 255.3h.1M266.6 246.1h.1M260.4 251.0h.1M260.5 247.6h.1M257.4 255.7h.1M258.1 246.1h.1M260.4 242.5h.1M256.0 245.0h.1M256.9 250.4h.1M258.3 254.7h.1M252.6 248.3h.1M257.0 249.8h.1M258.7 249.9h.1M258.0 252.9h.1M258.3 245.5h.1M257.9 249.4h.1M251.9 245.8h.1M255.2 252.1h.1M251.9 253.9h.1M258.9 239.6h.1M260.9 251.0h.1M258.4 249.1h.1M251.7 253.3h.1M256.8 246.6h.1M260.4 250.1h.1M259.4 244.4h.1M260.3 253.6h.1M254.7 251.2h.1M258.7 257.1h.1M258.9 257.2h.1M254.9 248.9h.1M256.2 250.5h.1M257.6 250.8h.1M263.9 254.9h.1M261.2 247.0h.1M258.1 253.4h.1M258.2 246.2h.1M253.1 253.1h.1M258.1 249.9h.1M261.1 242.2h.1M256.8 248.2h.1M259.7 252.3h.1M262.3 249.3h.1M257.1 251.2h.1M257.7 244.1h.1M257.6 246.7h.1M266.3 246.5h.1M257.8 250.1h.1M257.7 247.9h.1M261.2 249.1h.1M255.8 246.3h.1M257.0 246.6h.1M257.6 258.8h.1M259.2 249.3h.1M258.6 250.5h.1M261.5 248.2h.1M256.7 253.5h.1M260.2 252.0h.1M258.3 249.1h.1M259.9 258.5h.1M257.5 249.2h.1M256.7 245.4h.1M259.3 252.9h.1M257.8 254.1h.1M263.6 246.2h.1M257.4 249.8h.1M256.3 255.1h.1M264.2 252.0h.1M256.0 246.2h.1M260.5 254.2h.1M256.3 246.3h.1M260.2 257.2h.1M263.0 250.1h.1M262.4 241.5h.1M256.9 246.2h.1M259.9 253.8h.1M261.9 258.5h.1M258.6 251.8h.1M263.9 248.8h.1M263.5 244.1h.1M258.3 254.9h.1M259.5 243.1h.1M254.5 242.1h.1M255.5 245.2h.1M260.1 253.9h.1M256.1 251.3h.1M258.4 249.2h.1M255.0 252.1h.1M256.1 246.9h.1M254.5 257.1h.1M259.2 250.6h.1M256.0 252.6h.1M258.7 244.1h.1M260.1 249.8h.1M257.2 244.6h.1M258.3 253.3h.1M265.4 242.7h.1M260.0 253.5h.1M263.2 255.0h.1M262.9 252.7h.1M261.0 256.0h.1M259.9 257.2h.1M253.3 248.8h.1M259.8 247.9h.1M255.2 248.0h.1M254.2 250.1h.1M258.1 249.2h.1M261.8 249.1h.1M260.1 258.0h.1M260.6 250.5h.1M260.7 248.1h.1M260.7 257.0h.1M255.1 245.0h.1M254.9 249.8h.1M258.6 252.7h.1M261.5 253.1h.1M258.2 244.3h.1M256.0 243.8h.1M256.7 244.5h.1M256.8 246.3h.1M256.3 255.5h.1M255.0 249.7h.1M263.3 251.7h.1M258.9 246.2h.1M253.2 247.7h.1M258.9 253.0h.1M259.9 251.7h.1M260.9 248.8h.1M255.2 254.5h.1M252.6 247.4h.1M265.4 247.5h.1M254.3 248.1h.1M253.9 247.3h.1M258.9 253.8h.1M261.7 243.3h.1M261.4 252.0h.1M255.8 241.6h.1M258.4 242.1h.1M256.0 250.0h.1M258.3 251.4h.1M256.2 249.4h.1M266.0 240.7h.1M262.0 255.4h.1M257.7 255.0h.1M257.9 246.2h.1M262.6 256.0h.1M256.2 247.3h.1M257.5 250.2h.1M256.9 246.5h.1M258.4 245.4h.1M263.6 243.1h.1M256.3 248.7h.1M254.4 253.1h.1M254.8 248.4h.1M256.4 252.9h.1M254.0 253.9h.1M254.4 256.9h.1M255.7 254.7h.1M259.8 250.3h.1M259.1 251.3h.1M257.2 249.5h.1M259.4 246.3h.1M258.4 244.6h.1M257.9 257.8h.1M255.5 246.1h.1M260.8 252.7h.1M258.2 256.8h.1M257.6 251.1h.1M257.1 247.6h.1M258.7 251.9h.1M258.0 257.2h.1M254.5 245.8h.1M256.4 246.1h.1M254.6 247.9h.1M254.2 253.8h.1M266.2 247.6h.1M252.8 250.5h.1M257.9 254.2h.1M260.6 244.8h.1M257.7 249.6h.1M257.9 252.1h.1M255.1 253.3h.1M256.0 253.3h.1M256.0 243.8h.1M254.6 249.8h.1M257.8 247.5h.1M260.2 251.2h.1M261.1 252.1h.1M263.6 249.7h.1M260.1 251.2h.1M268.5 260.0h.1M258.9 258.5h.1M254.9 254.5h.1M253.8 250.4h.1M259.1 259.4h.1M261.0 247.3h.1M261.3 242.2h.1M258.5 249.3h.1M262.5 245.9h.1M258.6 239.6h.1M257.2 245.2h.1M257.9 248.3h.1M258.7 248.1h.1M260.3 251.8h.1M254.6 252.9h.1M255.1 252.9h.1M262.1 244.9h.1M257.3 253.4h.1M262.1 257.4h.1M260.4 249.0h.1M259.4 249.1h.1M262.2 252.3h.1M257.9 252.9h.1M260.5 250.2h.1M261.0 252.0h.1M261.7 245.8h.1M255.5 242.0h.1M258.4 247.4h.1M263.2 248.2h.1M260.7 249.7h.1M262.7 247.6h.1M263.3 245.8h.1M256.6 251.0h.1M258.4 252.3h.1M263.0 248.8h.1M260.2 248.3h.1M255.7 250.3h.1M259.9 247.5h.1M259.7 252.2h.1M256.8 247.6h.1M257.3 241.2h.1M261.4 258.3h.1M260.7 251.8h.1M255.0 254.1h.1M255.6 249.2h.1M257.5 249.4h.1M258.5 250.4h.1M258.2 250.7h.1M255.8 249.5h.1M259.5 246.3h.1M252.1 252.8h.1M255.8 250.4h.1M258.5 258.9h.1M258.4 246.5h.1M258.1 248.5h.1M259.5 249.9h.1M259.0 241.5h.1M257.4 246.2h.1M263.4 241.2h.1M258.1 247.2h.1M266.6 250.8h.1M253.2 250.7h.1M261.2 254.8h.1M254.5 251.2h.1M253.1 254.7h.1M255.3 252.5h.1M256.8 250.8h.1M258.1 243.2h.1M255.2 253.1h.1M256.9 255.9h.1M259.8 256.3h.1M256.4 251.7h.1M261.3 250.3h.1M256.1 244.0h.1M264.2 253.5h.1M258.3 251.2h.1M254.2 248.9h.1M260.6 244.2h.1M259.1 244.0h.1M253.7 248.0h.1M264.5 253.9h.1M257.0 250.0h.1M260.2 246.2h.1M266.9 253.7h.1M256.3 255.0h.1M259.4 249.7h.1M259.5 250.0h.1M257.6 245.5h.1M260.8 249.2h.1M253.2 245.3h.1M264.0 247.2h.1M258.5 242.2h.1M269.0 252.8h.1M254.2 246.6h.1M251.2 247.2h.1M258.4 236.8h.1M260.1 257.5h.1M255.5 259.3h.1M259.1 243.2h.1M254.6 248.2h.1M258.1 244.7h.1M252.8 249.7h.1M256.1 250.6h.1M255.5 244.0h.1M254.9 250.5h.1M253.2 238.9h.1M259.7 252.8h.1M258.0 243.3h.1M266.5 237.6h.1M257.7 239.0h.1M258.5 253.9h.1M260.7 258.0h.1M259.3 239.8h.1M269.0 244.1h.1M254.7 239.5h.1M260.8 241.4h.1M254.3 246.8h.1M258.9 237.7h.1M256.8 252.7h.1M253.6 240.7h.1M265.6 247.6h.1M260.3 243.7h.1M259.1 230.1h.1M258.7 234.1h.1M253.4 259.5h.1M258.4 247.0h.1M258.8 258.3h.1M256.5 248.0h.1M252.4 253.4h.1M255.7 255.0h.1M257.1 244.1h.1M257.4 257.0h.1M251.5 256.5h.1M258.9 245.7h.1M263.5 248.0h.1M257.5 239.7h.1M264.9 258.5h.1M259.5 241.2h.1M256.1 248.0h.1M253.5 243.8h.1M252.5 244.7h.1M254.8 254.0h.1M257.3 248.8h.1M253.2 255.4h.1M256.9 247.6h.1M266.3 255.3h.1M259.4 242.6h.1M258.9 224.3h.1M259.9 255.8h.1M259.7 254.5h.1M258.1 238.4h.1M256.6 241.0h.1M257.2 246.9h.1M254.0 240.4h.1M254.9 256.4h.1M258.6 259.5h.1M258.6 249.3h.1M259.0 249.6h.1M254.9 245.9h.1M252.6 238.5h.1M268.1 237.0h.1M260.6 242.4h.1M262.4 246.7h.1M259.4 255.5h.1M261.7 242.7h.1M263.0 250.2h.1M258.0 260.3h.1M260.8 254.4h.1M262.3 254.0h.1M258.4 244.4h.1M260.0 249.4h.1M254.1 247.6h.1M255.5 252.8h.1M263.6 254.5h.1M260.4 251.2h.1M258.1 240.4h.1M255.9 244.3h.1M259.2 241.1h.1M273.9 254.9h.1M259.0 250.2h.1M253.7 256.2h.1M263.4 240.3h.1M260.7 246.6h.1M254.0 240.7h.1M264.9 237.6h.1M264.3 236.4h.1M254.8 253.8h.1M255.0 245.3h.1M260.3 240.0h.1M258.2 243.1h.1M260.7 247.1h.1M263.4 246.2h.1M255.6 245.2h.1M259.7 243.4h.1M252.3 252.6h.1M261.3 244.7h.1M263.4 259.6h.1M252.8 228.4h.1M259.9 241.3h.1M258.5 249.4h.1M261.1 251.9h.1M258.9 252.6h.1M261.6 259.3h.1M257.9 243.8h.1M263.3 255.1h.1M256.9 248.9h.1M256.1 246.1h.1M254.0 258.3h.1M257.7 236.9h.1M258.4 254.0h.1M257.4 253.3h.1M253.7 239.1h.1M256.3 242.6h.1M262.8 246.0h.1M259.2 246.2h.1M263.9 254.5h.1M260.3 255.7h.1M256.3 238.5h.1M268.6 229.2h.1M254.1 241.8h.1M255.4 249.8h.1M259.4 257.0h.1M262.0 256.4h.1M259.5 255.6h.1M255.7 240.2h.1M264.9 257.1h.1M260.1 241.5h.1M259.3 259.1h.1M256.1 254.4h.1M266.3 251.7h.1M264.3 253.0h.1M254.4 251.9h.1M264.1 246.8h.1M259.7 238.6h.1M257.2 253.9h.1M263.9 251.8h.1M255.5 251.9h.1M258.9 245.9h.1M264.3 254.4h.1M259.4 243.6h.1M252.1 238.8h.1M255.4 255.2h.1M259.6 246.1h.1M255.2 243.4h.1M258.6 244.7h.1M261.7 258.3h.1M255.9 250.1h.1M252.7 244.7h.1M260.1 240.9h.1M266.2 241.9h.1M257.9 246.8h.1M260.6 237.6h.1M261.1 245.3h.1M260.1 245.5h.1M252.8 239.3h.1M260.7 244.9h.1M261.2 241.4h.1M255.0 248.1h.1M260.6 258.1h.1M254.9 259.9h.1M253.6 240.6h.1M254.6 246.6h.1M263.7 251.4h.1M262.8 245.1h.1M259.3 237.3h.1M266.3 242.6h.1M255.1 241.0h.1M262.7 239.8h.1M256.5 248.6h.1M262.4 241.5h.1M259.9 258.1h.1M251.9 245.8h.1M256.8 258.9h.1M260.8 245.1h.1M256.9 248.9h.1M262.1 244.8h.1M251.4 245.7h.1M268.7 240.5h.1M257.9 238.5h.1M255.1 240.7h.1M256.0 252.1h.1M255.4 252.8h.1M253.2 238.4h.1M259.3 257.1h.1M262.2 250.2h.1M252.8 240.7h.1M260.2 245.4h.1M256.5 246.4h.1M268.8 248.7h.1M261.4 233.5h.1M262.0 236.9h.1M260.1 251.4h.1M260.7 250.8h.1M257.4 240.8h.1M254.8 246.6h.1M266.1 253.3h.1M265.1 247.5h.1M263.5 245.1h.1M253.6 235.5h.1M258.4 239.6h.1M261.7 250.2h.1M258.9 247.4h.1M258.3 239.8h.1M252.2 230.8h.1M253.2 242.8h.1M261.0 244.0h.1M263.7 256.5h.1M253.6 256.1h.1M256.1 249.3h.1M257.6 247.6h.1M256.5 249.2h.1M257.2 245.9h.1M254.8 254.5h.1M259.0 236.2h.1M253.3 252.6h.1M257.9 249.5h.1M258.4 245.2h.1M257.2 236.6h.1M264.0 249.2h.1M257.6 239.6h.1M255.8 239.0h.1M268.4 246.1h.1M265.1 245.6h.1M261.1 246.8h.1M257.1 241.9h.1M265.6 246.6h.1M260.0 258.5h.1M257.8 246.9h.1M257.8 240.7h.1M262.8 241.4h.1M259.8 242.7h.1M255.7 256.9h.1M262.0 256.8h.1M258.8 249.8h.1M262.4 258.4h.1M259.6 234.9h.1M263.0 236.3h.1M260.9 248.4h.1M258.3 250.5h.1M257.6 239.2h.1M251.3 243.8h.1M268.0 251.5h.1M254.4 241.3h.1M255.2 239.7h.1M268.0 243.0h.1M259.7 241.3h.1M256.4 243.1h.1M262.2 244.3h.1M260.4 241.1h.1M262.2 241.7h.1M251.7 251.2h.1M256.6 250.7h.1M263.5 240.2h.1M271.2 252.3h.1M255.2 250.0h.1M253.5 241.9h.1M259.4 236.7h.1M259.5 244.3h.1M262.0 243.5h.1M261.1 240.1h.1M266.1 240.9h.1M267.4 250.1h.1M261.7 241.7h.1M253.9 239.7h.1M257.3 247.8h.1M259.3 256.1h.1M257.5 239.8h.1M264.2 239.1h.1M261.7 256.1h.1M259.9 232.9h.1M258.7 244.8h.1M263.0 255.7h.1M255.0 246.1h.1M252.9 242.8h.1M256.5 247.1h.1M253.8 251.5h.1M256.1 242.1h.1M258.2 243.5h.1M255.3 250.0h.1M262.0 248.9h.1M263.1 242.4h.1M261.3 246.3h.1M259.4 255.4h.1M259.9 246.8h.1M253.3 241.6h.1M260.7 247.7h.1M251.4 255.8h.1M260.5 256.5h.1M256.1 237.9h.1M259.5 250.6h.1M256.0 249.3h.1M259.2 247.7h.1M258.5 250.8h.1M257.8 233.8h.1M254.2 253.9h.1M254.8 237.9h.1M265.7 258.6h.1M254.8 249.2h.1M266.2 242.7h.1M254.8 240.4h.1M262.3 245.5h.1M258.5 257.5h.1M265.0 247.1h.1M259.0 247.9h.1M258.7 241.7h.1M256.1 257.7h.1M259.6 245.3h.1M261.4 242.6h.1M262.7 249.5h.1M257.6 243.0h.1M258.3 245.5h.1M257.8 235.8h.1M259.5 250.7h.1M252.8 241.6h.1M258.6 250.6h.1M255.8 250.0h.1M256.1 251.8h.1M258.1 251.5h.1M252.6 254.4h.1M258.5 246.1h.1M265.8 244.7h.1M265.9 254.3h.1M266.9 239.4h.1M264.0 240.8h.1M260.6 238.5h.1M267.6 241.7h.1M258.5 255.4h.1M262.9 256.2h.1M261.3 244.0h.1M259.5 237.2h.1M254.7 241.9h.1" stroke="#111" stroke-width="0.7" stroke-linecap="round" fill="none" opacity="0.6"/>
<path d="M253.7 224.8L279.9 224.8" stroke="#333" stroke-width="1.5"/>
<text x="279.2" y="47.8" font-size="7.2" text-anchor="middle" class="r" fill="#111">27</text>
<text x="279.6" y="128.3" font-size="7.2" text-anchor="middle" class="r" fill="#111">13</text>
<text x="279.2" y="213.4" font-size="7.2" text-anchor="middle" class="r" fill="#111">11</text>
<text x="234.4" y="227.5" font-size="7.8" text-anchor="middle" font-weight="bold" class="b" transform="rotate(-90 234.4 227.5)">CD19</text>
<path d="M231.7 248.8L231.7 274.3L257.2 274.3" stroke="#000" stroke-width="1.3" fill="none"/>
<text x="261.7" y="276.3" font-size="8" font-weight="bold" class="b">Irr</text>
<text x="352.9" y="11.1" font-size="13.3" font-weight="bold" class="b">C</text>
<path d="M397.3 17.6L397.3 105" stroke="#111" stroke-width="1.1"/>
<path d="M393.7 18.5L397.3 18.5" stroke="#000" stroke-width="1.2"/>
<text x="391.9" y="21" font-size="7.6" text-anchor="end" class="r" fill="#111">100</text>
<path d="M393.7 35.5L397.3 35.5" stroke="#000" stroke-width="1.2"/>
<text x="391.9" y="38.3" font-size="7.6" text-anchor="end" class="r" fill="#111">80</text>
<path d="M393.7 52.5L397.3 52.5" stroke="#000" stroke-width="1.2"/>
<text x="391.9" y="55.5" font-size="7.6" text-anchor="end" class="r" fill="#111">60</text>
<path d="M393.7 69.5L397.3 69.5" stroke="#000" stroke-width="1.2"/>
<text x="391.9" y="72.5" font-size="7.6" text-anchor="end" class="r" fill="#111">40</text>
<path d="M393.7 86.5L397.3 86.5" stroke="#000" stroke-width="1.2"/>
<text x="391.9" y="89.4" font-size="7.6" text-anchor="end" class="r" fill="#111">20</text>
<path d="M393.7 103.5L397.3 103.5" stroke="#000" stroke-width="1.2"/>
<text x="391.9" y="106.1" font-size="7.6" text-anchor="end" class="r" fill="#111">0</text>
<text x="372.5" y="99.1" font-size="8.1" class="r" transform="rotate(-90 372.5 99.1)" fill="#111">nr</text>
<text x="372.5" y="88.2" font-size="8.1" class="r" transform="rotate(-90 372.5 88.2)" fill="#111">(percent of control)</text>
<rect x="414.2" y="16.2" width="5.8" height="88.8" fill="#000"/>
<rect x="422.2" y="16.6" width="5.9" height="88.2" fill="#fff" stroke="#444" stroke-width="0.85"/>
<text x="420.4" y="13" font-size="7.6" text-anchor="middle" class="r" fill="#111">100</text>
<path d="M444.5 78L444.5 68.5" stroke="#000" stroke-width="1.15"/>
<path d="M441 68.5L448 68.5" stroke="#000" stroke-width="1.15"/>
<rect x="441.2" y="78" width="5.8" height="27" fill="#000"/>
<path d="M452.5 22.5L452.5 7.5" stroke="#000" stroke-width="1.15"/>
<path d="M448.75 7.5L456.25 7.5" stroke="#000" stroke-width="1.15"/>
<rect x="449.6" y="22.9" width="5.2" height="81.9" fill="#fff" stroke="#444" stroke-width="0.85"/>
<path d="M471.5 78L471.5 70.5" stroke="#000" stroke-width="1.15"/>
<path d="M468 70.5L475 70.5" stroke="#000" stroke-width="1.15"/>
<rect x="468.8" y="78" width="6.2" height="27" fill="#000"/>
<path d="M480.5 25L480.5 15.5" stroke="#000" stroke-width="1.15"/>
<path d="M476.75 15.5L484.25 15.5" stroke="#000" stroke-width="1.15"/>
<rect x="477.4" y="25.4" width="5.5" height="79.4" fill="#fff" stroke="#444" stroke-width="0.85"/>
<text x="443.9" y="68.2" font-size="10.5" text-anchor="middle" class="r">*</text>
<text x="471.4" y="72" font-size="10.5" text-anchor="middle" class="r">*</text>
<path d="M407 110.5L484.5 110.5" stroke="#000" stroke-width="1.3"/>
<text x="417.2" y="122.5" font-size="7.8" text-anchor="middle" font-weight="bold" class="b">Ctl</text>
<text x="444.4" y="122.5" font-size="7.8" text-anchor="middle" font-weight="bold" class="b">AF1q</text>
<text x="472" y="122.5" font-size="7.8" text-anchor="middle" font-weight="bold" class="b">A2M</text>
<rect x="374.2" y="132.6" width="5.4" height="5.4" fill="#000"/>
<text x="381.2" y="138.3" font-size="8.1" class="r" fill="#111">CD10+ (%)</text>
<rect x="426.2" y="133.2" width="5" height="4.8" fill="#fff" stroke="#111" stroke-width="1"/>
<text x="433" y="138.3" font-size="8.1" class="r" fill="#111">absolute cell numbers</text>
<text x="351.3" y="166.25" font-size="13.3" font-weight="bold" class="b">D</text>
<path d="M397.2 169L397.2 256.2" stroke="#111" stroke-width="1.1"/>
<path d="M393.6 170.5L397.2 170.5" stroke="#000" stroke-width="1.2"/>
<text x="391.8" y="172.8" font-size="7.6" text-anchor="end" class="r" fill="#111">100</text>
<path d="M393.6 187.5L397.2 187.5" stroke="#000" stroke-width="1.2"/>
<text x="391.8" y="189.7" font-size="7.6" text-anchor="end" class="r" fill="#111">80</text>
<path d="M393.6 204.5L397.2 204.5" stroke="#000" stroke-width="1.2"/>
<text x="391.8" y="206.9" font-size="7.6" text-anchor="end" class="r" fill="#111">60</text>
<path d="M393.6 221.5L397.2 221.5" stroke="#000" stroke-width="1.2"/>
<text x="391.8" y="224" font-size="7.6" text-anchor="end" class="r" fill="#111">40</text>
<path d="M393.6 238.5L397.2 238.5" stroke="#000" stroke-width="1.2"/>
<text x="391.8" y="241" font-size="7.6" text-anchor="end" class="r" fill="#111">20</text>
<path d="M393.6 254.5L397.2 254.5" stroke="#000" stroke-width="1.2"/>
<text x="391.8" y="257.2" font-size="7.6" text-anchor="end" class="r" fill="#111">0</text>
<text x="372.6" y="258.7" font-size="8.1" class="r" transform="rotate(-90 372.6 258.7)" fill="#111">nr</text>
<text x="372.6" y="247.8" font-size="8.1" class="r" transform="rotate(-90 372.6 247.8)" fill="#111">(percent of control)</text>
<rect x="414.2" y="167.6" width="5.6" height="88.4" fill="#000"/>
<rect x="422.2" y="168" width="5.7" height="87.8" fill="#fff" stroke="#444" stroke-width="0.85"/>
<text x="422.3" y="163" font-size="7.6" text-anchor="middle" class="r" fill="#111">100</text>
<path d="M444.5 213L444.5 197.5" stroke="#000" stroke-width="1.15"/>
<path d="M440.9 197.5L448.1 197.5" stroke="#000" stroke-width="1.15"/>
<rect x="441.2" y="213" width="5.8" height="43" fill="#000"/>
<path d="M452.5 176.3L452.5 169.5" stroke="#000" stroke-width="1.15"/>
<path d="M448.75 169.5L456.25 169.5" stroke="#000" stroke-width="1.15"/>
<rect x="449.6" y="176.7" width="5.5" height="79.1" fill="#fff" stroke="#444" stroke-width="0.85"/>
<path d="M471.5 224.3L471.5 215.5" stroke="#000" stroke-width="1.15"/>
<path d="M467.75 215.5L475.25 215.5" stroke="#000" stroke-width="1.15"/>
<rect x="468.8" y="224.3" width="6.2" height="31.7" fill="#000"/>
<path d="M480.5 175.8L480.5 164.5" stroke="#000" stroke-width="1.15"/>
<path d="M476.5 164.5L484.5 164.5" stroke="#000" stroke-width="1.15"/>
<rect x="477.4" y="176.2" width="5.5" height="79.6" fill="#fff" stroke="#444" stroke-width="0.85"/>
<text x="443.9" y="197.8" font-size="10.5" text-anchor="middle" class="r">*</text>
<text x="471.4" y="215" font-size="10.5" text-anchor="middle" class="r">*</text>
<path d="M407 262.5L484.5 262.5" stroke="#000" stroke-width="1.3"/>
<text x="422.8" y="272.6" font-size="7.8" text-anchor="middle" font-weight="bold" class="b">Ctl</text>
<text x="444.4" y="272.6" font-size="7.8" text-anchor="middle" font-weight="bold" class="b">AF1q</text>
<text x="472" y="272.6" font-size="7.8" text-anchor="middle" font-weight="bold" class="b">A2M</text>
<rect x="374.2" y="285" width="5.4" height="5.5" fill="#000"/>
<text x="381.2" y="290.6" font-size="8.1" class="r" fill="#111">CD19+ (%)</text>
<rect x="429.9" y="285.4" width="4.9" height="4.9" fill="#fff" stroke="#111" stroke-width="1"/>
<text x="436.8" y="290.6" font-size="8" class="r" fill="#111">absolute cell numbers</text>
<text x="354" y="330.6" font-size="13.3" font-weight="bold" class="b">F</text>
<path d="M403.2 354.4L403.2 442" stroke="#111" stroke-width="1.1"/>
<path d="M400 355.5L403.2 355.5" stroke="#000" stroke-width="1.2"/>
<text x="398.1" y="358.5" font-size="7.6" text-anchor="end" class="r" fill="#111">150</text>
<path d="M400 383.5L403.2 383.5" stroke="#000" stroke-width="1.2"/>
<text x="398.1" y="386.5" font-size="7.6" text-anchor="end" class="r" fill="#111">100</text>
<path d="M400 411.5L403.2 411.5" stroke="#000" stroke-width="1.2"/>
<text x="398.1" y="414" font-size="7.6" text-anchor="end" class="r" fill="#111">50</text>
<path d="M400 440.5L403.2 440.5" stroke="#000" stroke-width="1.2"/>
<text x="398.1" y="442.7" font-size="7.6" text-anchor="end" class="r" fill="#111">0</text>
<text x="377" y="436.3" font-size="8" class="r" transform="rotate(-90 377 436.3)" fill="#111">nr</text>
<text x="377" y="425.5" font-size="8" class="r" transform="rotate(-90 377 425.5)" fill="#111">(percent of control)</text>
<rect x="416.2" y="383.8" width="5.8" height="57" fill="#000"/>
<rect x="424.6" y="384.2" width="5.5" height="56.4" fill="#fff" stroke="#444" stroke-width="0.85"/>
<text x="423.3" y="379.5" font-size="7.6" text-anchor="middle" class="r" fill="#111">100</text>
<path d="M446.5 375.5L446.5 367.5" stroke="#000" stroke-width="1.15"/>
<path d="M443.1 367.5L449.9 367.5" stroke="#000" stroke-width="1.15"/>
<rect x="443.8" y="375.5" width="5.7" height="65.3" fill="#000"/>
<path d="M454.5 382.5L454.5 378.5" stroke="#000" stroke-width="1.15"/>
<path d="M451.1 378.5L457.9 378.5" stroke="#000" stroke-width="1.15"/>
<rect x="452.2" y="382.9" width="5" height="57.7" fill="#fff" stroke="#444" stroke-width="0.85"/>
<path d="M474.5 378.3L474.5 369.5" stroke="#000" stroke-width="1.15"/>
<path d="M471 369.5L478 369.5" stroke="#000" stroke-width="1.15"/>
<rect x="471.2" y="378.3" width="5.8" height="62.5" fill="#000"/>
<path d="M482.5 386.3L482.5 375.5" stroke="#000" stroke-width="1.15"/>
<path d="M479 375.5L486 375.5" stroke="#000" stroke-width="1.15"/>
<rect x="479.6" y="386.7" width="5.1" height="53.9" fill="#fff" stroke="#444" stroke-width="0.85"/>
<path d="M407.5 445.5L486.3 445.5" stroke="#000" stroke-width="1.4"/>
<text x="424.5" y="457.6" font-size="7.8" text-anchor="middle" font-weight="bold" class="b">Ctl</text>
<text x="446.8" y="457.6" font-size="7.8" text-anchor="middle" font-weight="bold" class="b">AF1q</text>
<text x="474.4" y="457.6" font-size="7.8" text-anchor="middle" font-weight="bold" class="b">A2M</text>
<rect x="377.6" y="475.2" width="5.4" height="5.5" fill="#000"/>
<text x="384.5" y="480.8" font-size="8.1" class="r" fill="#111">CD56+ (%)</text>
<rect x="435" y="475.6" width="5" height="4.9" fill="#fff" stroke="#111" stroke-width="1"/>
<text x="441.2" y="480.8" font-size="8.05" class="r" fill="#111">absolute cell numbers</text>
<text x="20.3" y="320.9" font-size="13.3" font-weight="bold" class="b">E</text>
<path d="M66.3 329.5L66.3 422.5" stroke="#111" stroke-width="1.1"/>
<path d="M61.9 332.5L66.3 332.5" stroke="#000" stroke-width="1.2"/>
<text x="60.7" y="335.2" font-size="7.8" text-anchor="end" class="r" fill="#111">50</text>
<path d="M61.9 350.5L66.3 350.5" stroke="#000" stroke-width="1.2"/>
<text x="60.7" y="352.7" font-size="7.8" text-anchor="end" class="r" fill="#111">40</text>
<path d="M61.9 368.5L66.3 368.5" stroke="#000" stroke-width="1.2"/>
<text x="60.7" y="370.7" font-size="7.8" text-anchor="end" class="r" fill="#111">30</text>
<path d="M61.9 384.5L66.3 384.5" stroke="#000" stroke-width="1.2"/>
<text x="60.7" y="387.2" font-size="7.8" text-anchor="end" class="r" fill="#111">20</text>
<path d="M61.9 401.5L66.3 401.5" stroke="#000" stroke-width="1.2"/>
<text x="60.7" y="404" font-size="7.8" text-anchor="end" class="r" fill="#111">10</text>
<path d="M61.9 419.5L66.3 419.5" stroke="#000" stroke-width="1.2"/>
<text x="60.7" y="422.2" font-size="7.8" text-anchor="end" class="r" fill="#111">0</text>
<text x="39.2" y="402.8" font-size="8" class="r" transform="rotate(-90 39.2 402.8)" fill="#111">CD19+ cells</text>
<text x="39.2" y="355.2" font-size="8" class="r" transform="rotate(-90 39.2 355.2)" fill="#111">(%)</text>
<text x="108.2" y="320.4" font-size="8" text-anchor="middle" font-weight="bold" class="b">3000</text>
<text x="185.8" y="320.4" font-size="8" text-anchor="middle" font-weight="bold" class="b">1000</text>
<text x="264.3" y="320.4" font-size="8" text-anchor="middle" font-weight="bold" class="b">300</text>
<path d="M74.4 327.85L74.4 324.65L137.5 324.65L137.5 327.85" stroke="#2a2a2a" stroke-width="1.1" fill="none"/>
<path d="M151.8 327.85L151.8 324.65L214.5 324.65L214.5 327.85" stroke="#2a2a2a" stroke-width="1.1" fill="none"/>
<path d="M230 327.85L230 324.65L293.3 324.65L293.3 327.85" stroke="#2a2a2a" stroke-width="1.1" fill="none"/>
<g fill="#fff" stroke="#111" stroke-width="1.1">
<circle cx="86.5" cy="333.9" r="1.8"/>
<circle cx="86.5" cy="343.1" r="1.8"/>
<circle cx="86.5" cy="351.7" r="1.8"/>
<circle cx="86.5" cy="354" r="1.8"/>
<circle cx="86.5" cy="363.2" r="1.8"/>
<circle cx="86.5" cy="373" r="1.8"/>
<circle cx="86.5" cy="383.3" r="1.8"/>
<circle cx="86.5" cy="389.3" r="1.8"/>
<circle cx="86.5" cy="393.3" r="1.8"/>
<circle cx="86.5" cy="395.5" r="1.8"/>
<circle cx="86.5" cy="412.6" r="1.8"/>
<circle cx="85" cy="421.2" r="1.8"/>
<circle cx="88.6" cy="421.2" r="1.8"/>
<circle cx="110.4" cy="383.2" r="1.8"/>
<circle cx="110.4" cy="386.3" r="1.8"/>
<circle cx="110.4" cy="389.3" r="1.8"/>
<circle cx="110.4" cy="394.8" r="1.8"/>
<circle cx="110.4" cy="405.9" r="1.8"/>
<circle cx="110.4" cy="408.9" r="1.8"/>
<circle cx="110.4" cy="411.8" r="1.8"/>
<circle cx="110.4" cy="414.8" r="1.8"/>
<circle cx="108.8" cy="421.2" r="1.8"/>
<circle cx="112.4" cy="421.2" r="1.8"/>
<circle cx="134.4" cy="378" r="1.8"/>
<circle cx="134.4" cy="382.8" r="1.8"/>
<circle cx="134.4" cy="386.6" r="1.8"/>
<circle cx="134.4" cy="390.3" r="1.8"/>
<circle cx="134.4" cy="400.3" r="1.8"/>
<circle cx="134.4" cy="403.2" r="1.8"/>
<circle cx="134.4" cy="405.8" r="1.8"/>
<circle cx="134.4" cy="409.3" r="1.8"/>
<circle cx="134.4" cy="421.2" r="1.8"/>
<circle cx="162.4" cy="351" r="1.8"/>
<circle cx="162.4" cy="360.6" r="1.8"/>
<circle cx="162.4" cy="363.6" r="1.8"/>
<circle cx="162.4" cy="377.4" r="1.8"/>
<circle cx="162.4" cy="387.3" r="1.8"/>
<circle cx="162.4" cy="390.3" r="1.8"/>
<circle cx="162.4" cy="399.2" r="1.8"/>
<circle cx="162.4" cy="400.7" r="1.8"/>
<circle cx="162.4" cy="406.3" r="1.8"/>
<circle cx="160.8" cy="421.2" r="1.8"/>
<circle cx="163.6" cy="421.2" r="1.8"/>
<circle cx="166.4" cy="421.2" r="1.8"/>
<circle cx="187.1" cy="380.2" r="1.8"/>
<circle cx="187.1" cy="387.3" r="1.8"/>
<circle cx="187.1" cy="390.3" r="1.8"/>
<circle cx="187.1" cy="397" r="1.8"/>
<circle cx="187.1" cy="399.5" r="1.8"/>
<circle cx="187.1" cy="404.4" r="1.8"/>
<circle cx="187.1" cy="406.6" r="1.8"/>
<circle cx="187.1" cy="411.8" r="1.8"/>
<circle cx="187.1" cy="413.8" r="1.8"/>
<circle cx="185.6" cy="421.2" r="1.8"/>
<circle cx="189" cy="421.2" r="1.8"/>
<circle cx="210.6" cy="385.1" r="1.8"/>
<circle cx="210.6" cy="397" r="1.8"/>
<circle cx="210.6" cy="399.5" r="1.8"/>
<circle cx="210.6" cy="402.6" r="1.8"/>
<circle cx="210.6" cy="406.3" r="1.8"/>
<circle cx="210.6" cy="411.4" r="1.8"/>
<circle cx="208.4" cy="421.2" r="1.8"/>
<circle cx="211.3" cy="421.2" r="1.8"/>
<circle cx="214.2" cy="421.2" r="1.8"/>
<circle cx="239.9" cy="377.6" r="1.8"/>
<circle cx="239.9" cy="382.4" r="1.8"/>
<circle cx="239.9" cy="386.9" r="1.8"/>
<circle cx="239.9" cy="399" r="1.8"/>
<circle cx="239.9" cy="399.6" r="1.8"/>
<circle cx="239.9" cy="408.8" r="1.8"/>
<circle cx="239.9" cy="411.2" r="1.8"/>
<circle cx="237.5" cy="421.2" r="1.8"/>
<circle cx="240" cy="421.2" r="1.8"/>
<circle cx="242.5" cy="421.2" r="1.8"/>
<circle cx="264.4" cy="388.7" r="1.8"/>
<circle cx="264.4" cy="399.5" r="1.8"/>
<circle cx="264.4" cy="403.2" r="1.8"/>
<circle cx="264.4" cy="407.1" r="1.8"/>
<circle cx="264.4" cy="411.1" r="1.8"/>
<circle cx="263.2" cy="421.2" r="1.8"/>
<circle cx="266.2" cy="421.2" r="1.8"/>
<circle cx="286.9" cy="394.9" r="1.8"/>
<circle cx="286.9" cy="399.5" r="1.8"/>
<circle cx="286.9" cy="403.7" r="1.8"/>
<circle cx="286.9" cy="410.9" r="1.8"/>
<circle cx="279.9" cy="421.2" r="1.8"/>
<circle cx="282.3" cy="421.2" r="1.8"/>
<circle cx="284.6" cy="421.2" r="1.8"/>
<circle cx="287" cy="421.2" r="1.8"/>
<circle cx="289.3" cy="421.2" r="1.8"/>
<circle cx="291.7" cy="421.2" r="1.8"/>
<circle cx="294" cy="421.2" r="1.8"/>
</g>
<path d="M78 377.4L95 377.4" stroke="#000" stroke-width="1.5"/>
<path d="M101.5 407.1L118.7 407.1" stroke="#000" stroke-width="1.5"/>
<path d="M125.9 402.8L142.9 402.8" stroke="#000" stroke-width="1.5"/>
<path d="M153.9 394.5L171 394.5" stroke="#000" stroke-width="1.5"/>
<path d="M178.4 409.2L195.8 409.2" stroke="#000" stroke-width="1.5"/>
<path d="M201.9 409.2L218.9 409.2" stroke="#000" stroke-width="1.5"/>
<path d="M231.1 405.7L248.2 405.7" stroke="#000" stroke-width="1.5"/>
<path d="M256.1 414.3L273 414.3" stroke="#000" stroke-width="1.5"/>
<path d="M78.5 432.5L141.5 432.5" stroke="#000" stroke-width="1.3"/>
<path d="M151.8 432.5L218.2 432.5" stroke="#000" stroke-width="1.3"/>
<path d="M230 432.5L295.6 432.5" stroke="#000" stroke-width="1.3"/>
<text x="88.9" y="442.6" font-size="7.8" text-anchor="middle" font-weight="bold" class="b">Ctl</text>
<text x="112.8" y="442.6" font-size="7.8" text-anchor="middle" font-weight="bold" class="b">AF1q</text>
<text x="135.4" y="442.6" font-size="7.8" text-anchor="middle" font-weight="bold" class="b">A2M</text>
<text x="164.8" y="442.6" font-size="7.8" text-anchor="middle" font-weight="bold" class="b">Ctl</text>
<text x="189.6" y="442.6" font-size="7.8" text-anchor="middle" font-weight="bold" class="b">AF1q</text>
<text x="211.6" y="442.6" font-size="7.8" text-anchor="middle" font-weight="bold" class="b">A2M</text>
<text x="241.1" y="442.6" font-size="7.8" text-anchor="middle" font-weight="bold" class="b">Ctl</text>
<text x="266.5" y="442.6" font-size="7.8" text-anchor="middle" font-weight="bold" class="b">AF1q</text>
<text x="287.9" y="442.6" font-size="7.8" text-anchor="middle" font-weight="bold" class="b">A2M</text>
<path d="M48.4 448.5L141.3 448.5" stroke="#000" stroke-width="1.3"/>
<path d="M152.5 448.5L218.2 448.5" stroke="#000" stroke-width="1.3"/>
<path d="M231.3 448.5L296.3 448.5" stroke="#000" stroke-width="1.3"/>
<text x="50.6" y="458.8" font-size="7.8" font-weight="bold" class="b">median : 24</text>
<text x="113.2" y="458.8" font-size="7.8" text-anchor="middle" font-weight="bold" class="b">6</text>
<text x="134.5" y="458.8" font-size="7.8" text-anchor="middle" font-weight="bold" class="b">8</text>
<text x="165" y="458.8" font-size="7.8" text-anchor="middle" font-weight="bold" class="b">14</text>
<text x="189.5" y="458.8" font-size="7.8" text-anchor="middle" font-weight="bold" class="b">6</text>
<text x="211.3" y="458.8" font-size="7.8" text-anchor="middle" font-weight="bold" class="b">5</text>
<text x="240" y="458.8" font-size="7.8" text-anchor="middle" font-weight="bold" class="b">9</text>
<text x="266.8" y="458.8" font-size="7.8" text-anchor="middle" font-weight="bold" class="b">4</text>
<text x="288.8" y="458.8" font-size="7.8" text-anchor="middle" font-weight="bold" class="b">0</text>
<path d="M48.4 463.5L296.3 463.5" stroke="#000" stroke-width="1.3"/>
<text x="54.2" y="473.8" font-size="7.8" font-weight="bold" class="b">p :</text>
<text x="103.6" y="473.8" font-size="7.8" font-weight="bold" class="b">&lt;10<tspan dy="-2.3" font-size="4.4">-4</tspan></text>
<text x="189.7" y="473.8" font-size="7.8" text-anchor="middle" font-weight="bold" class="b">0.12</text>
<text x="266.9" y="473.8" font-size="7.8" text-anchor="middle" font-weight="bold" class="b">0.009</text>
<path d="M48.4 478.4L296.3 478.4" stroke="#000" stroke-width="1.5"/>
<text x="21.9" y="521.7" font-size="13.3" font-weight="bold" class="b">G</text>
<text x="115.7" y="519.8" font-size="8" text-anchor="middle" class="r" fill="#111">CD19+ cells (%)</text>
<path d="M105.8 528.5L105.8 525.5L125.8 525.5L125.8 528.5" stroke="#222" stroke-width="1.1" fill="none"/>
<text x="115.1" y="535.4" font-size="8.5" text-anchor="middle" font-weight="bold" class="b">*</text>
<path d="M66.3 541.2L66.3 628.4" stroke="#111" stroke-width="1.1"/>
<path d="M63 542.5L66.3 542.5" stroke="#000" stroke-width="1.2"/>
<text x="61.4" y="544.9" font-size="8.1" text-anchor="end" class="r" fill="#111">12</text>
<path d="M63 561.5L66.3 561.5" stroke="#000" stroke-width="1.2"/>
<text x="61.4" y="564.1" font-size="8.1" text-anchor="end" class="r" fill="#111">9</text>
<path d="M63 581.5L66.3 581.5" stroke="#000" stroke-width="1.2"/>
<text x="61.4" y="584.5" font-size="8.1" text-anchor="end" class="r" fill="#111">6</text>
<path d="M63 605.5L66.3 605.5" stroke="#000" stroke-width="1.2"/>
<text x="61.4" y="607.7" font-size="8.1" text-anchor="end" class="r" fill="#111">3</text>
<path d="M63 627.5L66.3 627.5" stroke="#000" stroke-width="1.2"/>
<text x="61.4" y="630.2" font-size="8.1" text-anchor="end" class="r" fill="#111">0</text>
<text x="44.3" y="583.3" font-size="7.9" text-anchor="middle" class="r" transform="rotate(-90 44.3 583.3)" fill="#111">fold increase (nr)</text>
<rect x="84.2" y="621.4" width="6.1" height="6.5" fill="#e8e8e8" stroke="#444" stroke-width="0.8"/>
<text x="87" y="616.3" font-size="7.6" text-anchor="middle" class="r" fill="#111">1</text>
<path d="M115.5 560L115.5 538.5" stroke="#000" stroke-width="1.15"/>
<path d="M111.9 538.5L119.1 538.5" stroke="#000" stroke-width="1.15"/>
<rect x="113" y="559.6" width="5.3" height="68.7" fill="#000"/>
<path d="M143.5 617.4L143.5 614.5" stroke="#000" stroke-width="1.05"/>
<path d="M140.5 614.5L146.5 614.5" stroke="#000" stroke-width="1.05"/>
<rect x="141" y="617.7" width="5.4" height="10.4" fill="#fff" stroke="#444" stroke-width="0.85"/>
<path d="M76.6 621.6L155 621.6" stroke="#000" stroke-width="1" stroke-dasharray="4.5 1.7 1.4 1.7"/>
<text x="151" y="603.8" font-size="7.9" text-anchor="middle" class="r" fill="#111">CD56+ cells (%)</text>
<path d="M133.8 610.3L133.8 607.5L154.3 607.5L154.3 610.3" stroke="#222" stroke-width="1" fill="none"/>
<path d="M81.5 632.8L92.7 632.8" stroke="#000" stroke-width="1.4"/>
<path d="M105.5 632.8L154.4 632.8" stroke="#000" stroke-width="1.4"/>
<text x="86.7" y="642.1" font-size="7.85" text-anchor="middle" font-weight="bold" class="b">shCtl</text>
<text x="130.5" y="642.1" font-size="7.8" text-anchor="middle" font-weight="bold" class="b">shAF1q</text>
<path d="M74.7 648L74.7 651.4L154.4 651.4L154.4 648" stroke="#222" stroke-width="1" fill="none"/>
<text x="114.8" y="662.2" font-size="8" text-anchor="middle" class="r" fill="#111">CD19+ or CD56+</text>
<text x="113.4" y="672" font-size="7.8" text-anchor="middle" class="r" fill="#111">cell percentages</text>
<rect x="155.6" y="540.8" width="65.7" height="27.8" fill="#fff" stroke="#222" stroke-width="1"/>
<rect x="161.4" y="544.7" width="6.2" height="5.9" fill="#000"/>
<text x="172.3" y="550.6" font-size="8.1" class="r" fill="#111">B condition</text>
<rect x="161.8" y="561" width="5.5" height="5.5" fill="#fff" stroke="#444" stroke-width="0.8"/>
<text x="172.3" y="566.4" font-size="8.05" class="r" fill="#111">NK condition</text>
<text x="268.5" y="521" font-size="13.3" font-weight="bold" class="b">H</text>
<path d="M325.7 541.6L325.7 629.2" stroke="#111" stroke-width="1.1"/>
<path d="M322.4 543.5L325.7 543.5" stroke="#000" stroke-width="1.2"/>
<text x="321.1" y="545.7" font-size="8" text-anchor="end" class="r" fill="#111">100</text>
<path d="M322.4 560.5L325.7 560.5" stroke="#000" stroke-width="1.2"/>
<text x="321.1" y="563.2" font-size="8" text-anchor="end" class="r" fill="#111">80</text>
<path d="M322.4 578.5L325.7 578.5" stroke="#000" stroke-width="1.2"/>
<text x="321.1" y="580.7" font-size="8" text-anchor="end" class="r" fill="#111">60</text>
<path d="M322.4 594.5L325.7 594.5" stroke="#000" stroke-width="1.2"/>
<text x="321.1" y="597.3" font-size="8" text-anchor="end" class="r" fill="#111">40</text>
<path d="M322.4 611.5L325.7 611.5" stroke="#000" stroke-width="1.2"/>
<text x="321.1" y="614" font-size="8" text-anchor="end" class="r" fill="#111">20</text>
<path d="M322.4 628.5L325.7 628.5" stroke="#000" stroke-width="1.2"/>
<text x="321.1" y="631" font-size="8" text-anchor="end" class="r" fill="#111">0</text>
<text x="298.3" y="577.7" font-size="8.05" text-anchor="middle" class="r" transform="rotate(-90 298.3 577.7)" fill="#111">absolute cell number (nr)</text>
<rect x="342.4" y="544.6" width="5.4" height="85" fill="#e8e8e8" stroke="#444" stroke-width="0.8"/>
<text x="345.4" y="539.9" font-size="8" text-anchor="middle" class="r" fill="#111">100</text>
<path d="M373.5 547L373.5 537.5" stroke="#000" stroke-width="1.15"/>
<path d="M370.2 537.5L376.8 537.5" stroke="#000" stroke-width="1.15"/>
<rect x="370.8" y="546.8" width="6" height="83.2" fill="#000"/>
<path d="M401.5 541.4L401.5 535.5" stroke="#000" stroke-width="1.15"/>
<path d="M398.1 535.5L404.9 535.5" stroke="#000" stroke-width="1.15"/>
<rect x="399" y="541.6" width="5.2" height="88.2" fill="#fff" stroke="#444" stroke-width="0.85"/>
<path d="M340.5 633.5L351.3 633.5" stroke="#000" stroke-width="1.4"/>
<path d="M364.5 633.5L412.5 633.5" stroke="#000" stroke-width="1.4"/>
<text x="344.7" y="642.2" font-size="7.9" text-anchor="middle" font-weight="bold" class="b">shCtl</text>
<text x="374.2" y="642.2" font-size="7.7" font-weight="bold" class="b">sh</text>
<text x="383.8" y="642.2" font-size="7.7" font-weight="bold" class="b">AF1q</text>
<path d="M333.8 648.2L333.8 651.6L414.5 651.6L414.5 648.2" stroke="#222" stroke-width="1" fill="none"/>
<text x="373.8" y="662" font-size="8" text-anchor="middle" class="r" fill="#111">total cell numbers</text>
<rect x="423.3" y="597.5" width="66.8" height="28.6" fill="#fff" stroke="#222" stroke-width="1"/>
<rect x="430" y="602.2" width="5.8" height="5.6" fill="#000"/>
<text x="441" y="607.4" font-size="8" class="r" fill="#111">B condition</text>
<rect x="430.3" y="618.1" width="5.4" height="5.3" fill="#fff" stroke="#444" stroke-width="0.8"/>
<text x="441" y="623.2" font-size="8" class="r" fill="#111">NK condition</text>
</svg>
</body></html>
